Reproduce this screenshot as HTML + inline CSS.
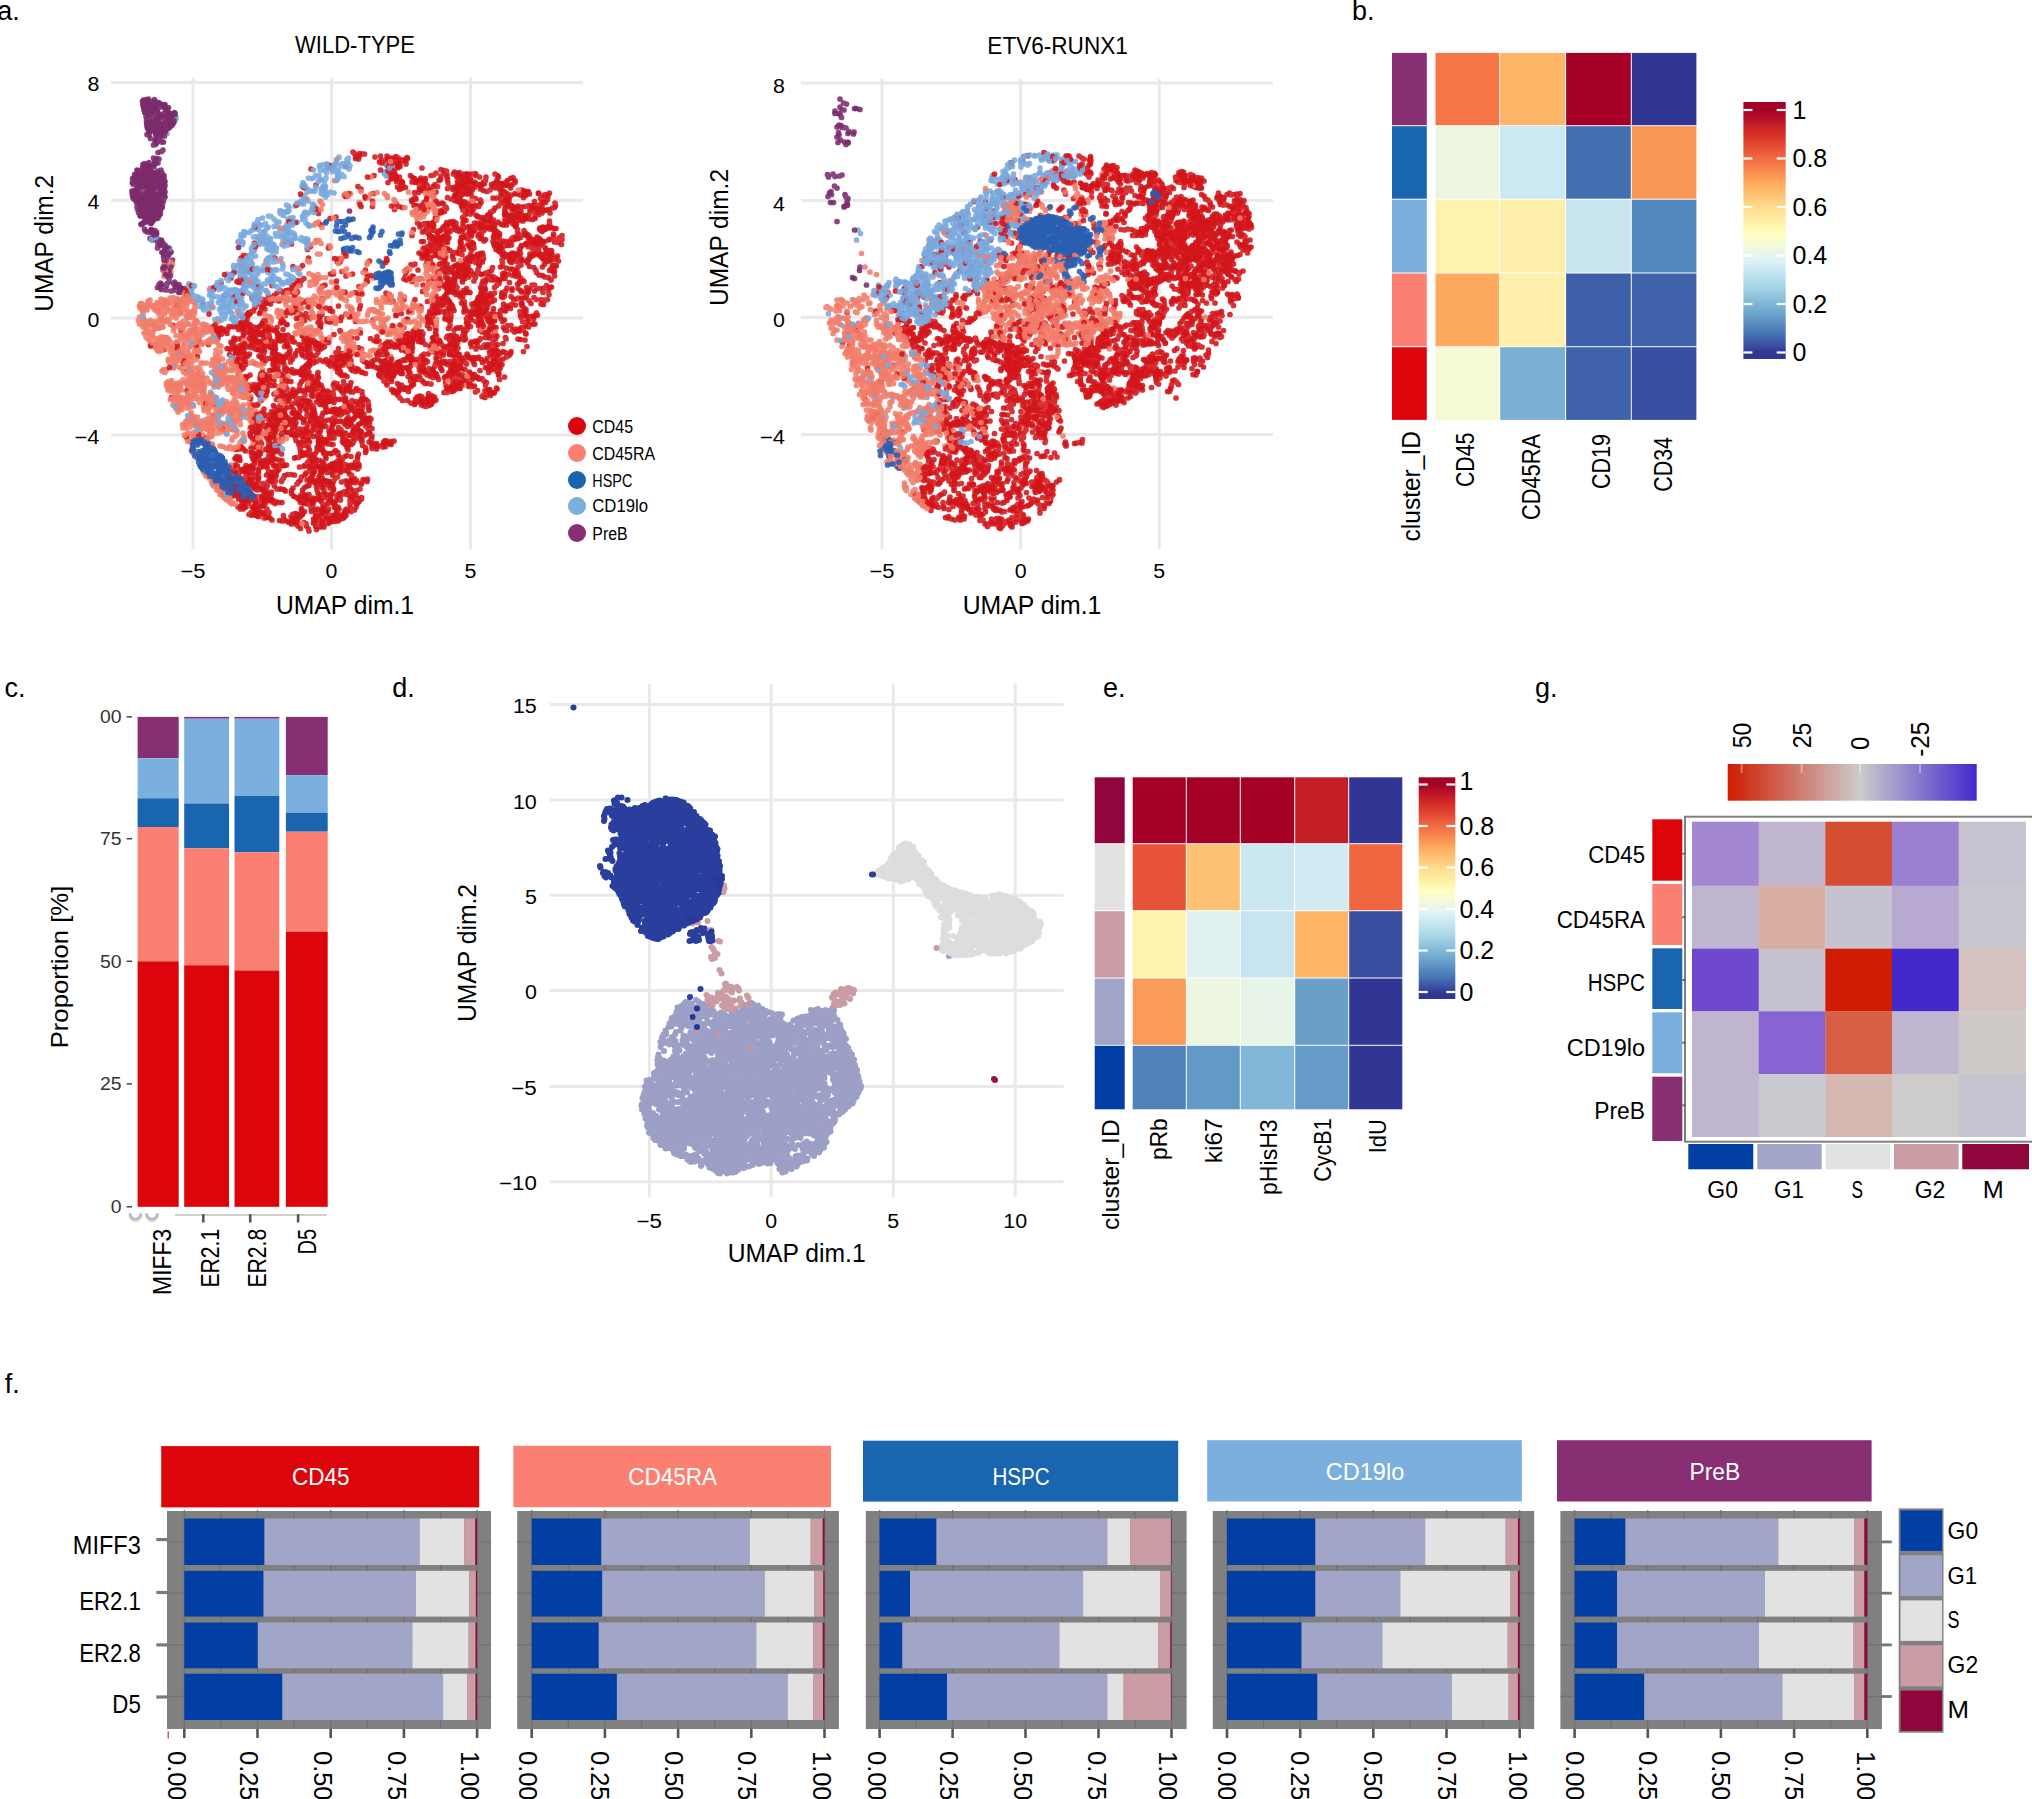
<!DOCTYPE html>
<html><head><meta charset="utf-8"><title>Figure</title>
<style>html,body{margin:0;padding:0;background:#fff}svg{display:block}text{font-family:'Liberation Sans', 'DejaVu Sans', sans-serif;}</style>
</head><body>
<svg width="2032" height="1799" viewBox="0 0 2032 1799">
<rect width="2032" height="1799" fill="#fff"/>
<text x="-2.7" y="20.0" font-size="27">a.</text>
<text x="1352.0" y="20.0" font-size="27">b.</text>
<text x="4.5" y="697.0" font-size="27">c.</text>
<text x="392.3" y="697.0" font-size="27">d.</text>
<text x="1103.0" y="697.3" font-size="27">e.</text>
<text x="1535.0" y="697.0" font-size="27">g.</text>
<text x="4.7" y="1393.4" font-size="27">f.</text>
<line x1="111.0" y1="82.5" x2="583.0" y2="82.5" stroke="#e9e9e9" stroke-width="3"/>
<line x1="111.0" y1="200.3" x2="583.0" y2="200.3" stroke="#e9e9e9" stroke-width="3"/>
<line x1="111.0" y1="318.0" x2="583.0" y2="318.0" stroke="#e9e9e9" stroke-width="3"/>
<line x1="111.0" y1="435.0" x2="583.0" y2="435.0" stroke="#e9e9e9" stroke-width="3"/>
<line x1="193.0" y1="78.0" x2="193.0" y2="549.0" stroke="#e9e9e9" stroke-width="3"/>
<line x1="331.5" y1="78.0" x2="331.5" y2="549.0" stroke="#e9e9e9" stroke-width="3"/>
<line x1="470.5" y1="78.0" x2="470.5" y2="549.0" stroke="#e9e9e9" stroke-width="3"/>
<text x="355.0" y="53.0" font-size="24" text-anchor="middle" textLength="120.0" lengthAdjust="spacingAndGlyphs">WILD-TYPE</text>
<text x="99.5" y="91.2" font-size="19.5" text-anchor="end" textLength="11.9" lengthAdjust="spacingAndGlyphs">8</text>
<text x="99.5" y="209.0" font-size="19.5" text-anchor="end" textLength="11.9" lengthAdjust="spacingAndGlyphs">4</text>
<text x="99.5" y="326.7" font-size="19.5" text-anchor="end" textLength="11.9" lengthAdjust="spacingAndGlyphs">0</text>
<text x="99.5" y="443.7" font-size="19.5" text-anchor="end" textLength="25.0" lengthAdjust="spacingAndGlyphs">−4</text>
<text x="193.0" y="578.0" font-size="19.5" text-anchor="middle" textLength="25.0" lengthAdjust="spacingAndGlyphs">−5</text>
<text x="331.5" y="578.0" font-size="19.5" text-anchor="middle" textLength="11.9" lengthAdjust="spacingAndGlyphs">0</text>
<text x="470.5" y="578.0" font-size="19.5" text-anchor="middle" textLength="11.9" lengthAdjust="spacingAndGlyphs">5</text>
<text x="345.0" y="613.6" font-size="26" text-anchor="middle" textLength="138.0" lengthAdjust="spacingAndGlyphs">UMAP dim.1</text>
<text font-size="26" text-anchor="middle" textLength="137.0" lengthAdjust="spacingAndGlyphs" transform="translate(53.4,243.3) rotate(-90)">UMAP dim.2</text>
<g transform="scale(.5)" fill="none" stroke-width="11.4" stroke-linecap="round" stroke-opacity="0.88"><path d="M724 308h0m5 0h0m86 9h0m-3 4h0m-12 12h0m-4-1h0m0-5h0m-2 0h0m-13-6h0m-7-4h0m0 3h0m0-8h0m-1 17h0m-1-6h0m-11-11h0m-2 12h0m-48-7h0m-405 32h0m442 2h0m29 0h0m3-5h0m11 8h0m8 0h0m22-3h0m8 6h0m13-1h0m5 3h0m15-8h0m5-1h0m5-4h0m10 6h0m5-4h0m7 6h0m13-6h0m6 5h0m1-6h0m4 10h0m4 1h0m10-10h0m3 8h0m37-2h0m25 0h0m24 3h0m23 23h0m-31-16h0m0 6h0m-4-2h0m-2-1h0m-9 5h0m-8-4h0m-2-1h0m-17-6h0m-1 2h0m-1 4h0m-2-3h0m-4 5h0m-13 5h0m-1-10h0m-7-1h0m-2 13h0m-7-5h0m-1-4h0m-5 7h0m-2-4h0m-3-3h0m-5 13h0m0-14h0m-3 7h0m-18-7h0m-35 14h0m-2 2h0m-9-19h0m-1 2h0m-4 11h0m-6 3h0m-5-15h0m-23 11h0m-8 1h0m-1-14h0m-1 2h0m-2 15h0m-2-17h0m-4 1h0m-17 2h0m-54 13h0m-6-5h0m15 23h0m16-9h0m81 11h0m1-13h0m1 10h0m18 10h0m17-19h0m2 6h0m3 14h0m6 2h0m35-17h0m7 13h0m4 3h0m8-3h0m8-16h0m4 0h0m3 19h0m0-12h0m6 2h0m35-1h0m25 5h0m7 3h0m0-4h0m12-13h0m17 8h0m4-4h0m4-6h0m22 1h0m7 20h0m7-1h0m5-13h0m14 14h0m1 5h0m-11 15h0m-11-5h0m-9-12h0m-3 8h0m-1 8h0m-3-13h0m-2 5h0m-2-7h0m-2 1h0m-15 20h0m-9-17h0m-6 15h0m-2 0h0m-1-1h0m0 4h0m-4-17h0m-4-2h0m-2 6h0m-3-4h0m-1 15h0m-10-5h0m0-9h0m-23 5h0m-3 2h0m-3 1h0m-5 6h0m-24 0h0m-1-19h0m-7 12h0m-2-8h0m-5 3h0m-5-7h0m-9 1h0m-30 5h0m-1-3h0m-3 9h0m-2-15h0m-2 12h0m-11 10h0m-17-16h0m-2 0h0m-13 3h0m-6-5h0m-2 6h0m-89-5h0m-23 0h0m113 33h0m5 8h0m17-7h0m2 3h0m2 0h0m4 0h0m0-4h0m2 5h0m5-11h0m17 12h0m5 2h0m1-2h0m12-9h0m19 2h0m6-4h0m3 13h0m11-1h0m9-7h0m4-12h0m4 21h0m2-20h0m6 0h0m2 20h0m1-14h0m10 5h0m29 4h0m4-10h0m9 0h0m5 13h0m7-16h0m12 1h0m48 18h0m1-7h0m0-7h0m8 26h0m-17-10h0m-11 19h0m0 3h0m-4-1h0m0-2h0m-4 2h0m-11-1h0m-2-2h0m-5-6h0m-18-11h0m0 4h0m-4 15h0m-37-15h0m-1 1h0m-3-3h0m-1 15h0m-1-1h0m-3-18h0m-14 22h0m-7-2h0m-6-8h0m-12-5h0m-5 5h0m-6 9h0m-11-3h0m0-13h0m-5 1h0m-1-5h0m-22 0h0m-1 6h0m-2-5h0m-1 18h0m-1-6h0m-10 7h0m-2-16h0m-7 0h0m0 15h0m-4-16h0m-3 14h0m-1-2h0m-5-3h0m-32-11h0m-257-3h0m-61 30h0m106 13h0m6-6h0m226 7h0m7-5h0m1-2h0m3-1h0m2 6h0m1-12h0m4-2h0m1 7h0m4 0h0m4 6h0m7-11h0m1 17h0m6-21h0m3 1h0m9 18h0m21-16h0m6 14h0m14-4h0m5-9h0m2 10h0m40-8h0m4 11h0m3-14h0m3 11h0m0 7h0m2-4h0m0-18h0m5 7h0m1 5h0m5-2h0m3-8h0m9 7h0m17 13h0m16-18h0m0 8h0m6-3h0m1 5h0m3-8h0m1 14h0m0-15h0m2 12h0m9-10h0m3 0h0m8-5h0m3 16h0m25 23h0m-2-10h0m-13 5h0m-2-7h0m-11 18h0m-1-11h0m-21-12h0m-7 3h0m-1 8h0m-3 3h0m-3 3h0m-10-4h0m-2-11h0m-14 9h0m-3-10h0m-1 19h0m-1-15h0m-1-1h0m-6 1h0m-4 3h0m0-4h0m-44 8h0m-1-6h0m-2 5h0m-2 4h0m0-11h0m-2-2h0m-2 15h0m-3-11h0m-12 2h0m-2 3h0m-2 7h0m-8-5h0m-8 9h0m-18-14h0m-15 5h0m0-10h0m-13-1h0m-6 4h0m-3-4h0m-1 4h0m-4-4h0m0 1h0m-7-1h0m-1 14h0m-8-10h0m-17 17h0m-56-7h0m-157-5h0m-126-5h0m-4 0h0m-4 23h0m103-1h0m75 15h0m23-5h0m47-3h0m82 3h0m1-3h0m8-11h0m2 23h0m2-22h0m37 6h0m27 7h0m2-6h0m4-1h0m3 7h0m2 1h0m3-9h0m1 5h0m3 5h0m1 3h0m7-16h0m1 17h0m1-12h0m6-4h0m2 7h0m2 6h0m2-16h0m2 16h0m4-16h0m0 5h0m23-6h0m5 20h0m37-15h0m5 13h0m19-9h0m4 10h0m2-7h0m41 0h0m1 4h0m12 6h0m20-19h0m2 12h0m0-10h0m1 10h0m4-13h0m-9 43h0m-10-3h0m-5 5h0m-83-19h0m-6 4h0m-5-2h0m-3-3h0m-2 4h0m-3-7h0m-15 10h0m-2 7h0m-5-2h0m-27-14h0m-7-1h0m0 4h0m-5 7h0m-15-7h0m-1-2h0m-3 16h0m-6-3h0m-2-3h0m-2 9h0m-5-4h0m-8-1h0m-37 1h0m-4-13h0m-4 1h0m-14 5h0m-11-3h0m-78 3h0m-90 9h0m-50-11h0m-5 8h0m-46 2h0m-53-12h0m-49 7h0m-73 11h0m11 15h0m69 0h0m31-2h0m68 1h0m19 4h0m5-10h0m13-8h0m60 20h0m204-15h0m5-6h0m18 16h0m17 2h0m6-9h0m2-5h0m0 4h0m1-5h0m7 0h0m2 6h0m5 4h0m9-1h0m4 0h0m1 3h0m7-14h0m3 7h0m26 11h0m0-2h0m1-14h0m5-1h0m2 21h0m4-4h0m7-4h0m23-2h0m10-13h0m8 17h0m11 5h0m3-21h0m1 19h0m12 0h0m7-12h0m27 15h0m3-14h0m5 15h0m4-1h0m-33 8h0m-10 12h0m-8-8h0m-30 3h0m-4 6h0m-4-3h0m-28-11h0m-2 3h0m-4 7h0m-1-12h0m-1 16h0m-5-11h0m-2 10h0m-2-10h0m-1-1h0m-3-7h0m-1 11h0m-1-7h0m-11 3h0m-14 8h0m-7-10h0m-15 15h0m-3-8h0m-4 8h0m-2-13h0m-2 8h0m-10 8h0m-4-2h0m-2-11h0m-4 12h0m-2-5h0m-4-2h0m-1 5h0m-15-18h0m-24 10h0m-112 5h0m-54 5h0m-13-7h0m-9 1h0m0-16h0m-52 10h0m-50-3h0m-16 6h0m-15 1h0m-151-7h0m-27-5h0m29 22h0m113 23h0m20-8h0m1-6h0m3-6h0m21-1h0m42 19h0m10-15h0m17-7h0m13 5h0m11-2h0m28 8h0m0 7h0m2 5h0m2-18h0m10 8h0m5 7h0m18-5h0m4 2h0m30 2h0m81-13h0m21 9h0m4-15h0m39 22h0m0-9h0m3-11h0m5 19h0m6-20h0m20 13h0m12-6h0m0-6h0m31 12h0m0 7h0m2-11h0m5-9h0m1 9h0m6-6h0m4-3h0m5 1h0m1 7h0m1 12h0m0-12h0m17 5h0m4 5h0m5-5h0m2-14h0m14 8h0m43 1h0m0 3h0m2 7h0m3-12h0m3-3h0m1-4h0m4 19h0m11-11h0m3 16h0m3-22h0m2 4h0m-24 21h0m0 15h0m-13-8h0m-9 6h0m-4-4h0m-33-5h0m-2 14h0m-2-8h0m-4-13h0m0 9h0m-7 5h0m0 10h0m-11-24h0m-2 16h0m-3-11h0m-1 8h0m-24-13h0m-2 11h0m-3 4h0m-4-3h0m-10-4h0m-9 14h0m-11-13h0m-2 15h0m-40-21h0m-28 21h0m-1-9h0m-18-8h0m-109 12h0m-18-4h0m-1-2h0m-39-6h0m-21 17h0m-11 0h0m-5-1h0m-38-12h0m-8 12h0m-4-16h0m-10 4h0m-2-4h0m-4 14h0m-2-5h0m-7-3h0m-3 9h0m-3-20h0m-4 3h0m-4 3h0m0 10h0m-6-5h0m-1-7h0m-6-2h0m0 6h0m0 5h0m-2-8h0m0-6h0m-2 6h0m-3 10h0m-7 2h0m0-13h0m-1-6h0m-1 15h0m-6-9h0m-3 5h0m-1-5h0m-9-1h0m-9 0h0m-4 14h0m-18 2h0m0-6h0m-7-2h0m-67 0h0m-53 30h0m108-2h0m51-13h0m8 18h0m4-3h0m1 5h0m2-19h0m0 13h0m1 2h0m2 1h0m0-7h0m2 4h0m6 4h0m4-17h0m3 15h0m2 3h0m2-18h0m3 7h0m1-11h0m6 9h0m3 2h0m4-1h0m6 9h0m5-2h0m4-11h0m2-4h0m11 16h0m7-10h0m0 0h0m12 0h0m0 12h0m9 3h0m7-20h0m4 8h0m19-2h0m5 2h0m2-2h0m0 12h0m0-6h0m10-3h0m11 5h0m17-11h0m41-4h0m6 21h0m3-20h0m50 7h0m13 8h0m15-7h0m6 4h0m3 6h0m6 0h0m8-15h0m0 11h0m5 0h0m1-8h0m3 4h0m1-7h0m1 5h0m3 3h0m1-9h0m5 15h0m0-4h0m3-14h0m13-2h0m3 11h0m20 4h0m2-12h0m1 9h0m0 1h0m6 8h0m8-11h0m13-8h0m6 15h0m3-18h0m9 21h0m2-15h0m1 4h0m1 4h0m1-6h0m14-7h0m1 5h0m19 4h0m4 9h0m17-16h0m1-3h0m3 2h0m1 15h0m6-17h0m9 6h0m50 1h0m-19 24h0m-11 2h0m-11 15h0m-7-20h0m0 13h0m-6-11h0m-7 7h0m-1-5h0m-16 15h0m-21-1h0m-4-4h0m-2-2h0m-14 4h0m-7-8h0m-7-7h0m-5 7h0m-4-6h0m-7-2h0m-3-4h0m-3 9h0m-6-2h0m-5-1h0m-24 18h0m-5-4h0m-21-20h0m-1 23h0m-4-7h0m-2 0h0m-1-10h0m-6 0h0m-39-6h0m-3 2h0m-46 0h0m-1 2h0m-23 14h0m-1 4h0m-6-8h0m-5-3h0m-6 5h0m0 5h0m0-10h0m-9 7h0m-8 1h0m-23-17h0m-19 12h0m-6-1h0m-4-9h0m-17 1h0m-15-1h0m-13 16h0m-3-3h0m-8 1h0m0 1h0m-4-2h0m-1 1h0m-1-2h0m0 7h0m-2-15h0m-2-3h0m-17 2h0m-2 4h0m0 4h0m-2 8h0m-7-7h0m-5-13h0m-1-1h0m-3-1h0m-13 15h0m-8-8h0m-1 14h0m-1-19h0m-4-2h0m-9 7h0m0-6h0m-1 1h0m-8 14h0m-5-4h0m0-11h0m-90 19h0m0-4h0m-8-9h0m0 1h0m108 21h0m4-1h0m0 2h0m4 15h0m4-7h0m29-8h0m16 0h0m22-2h0m1 15h0m20 0h0m1-1h0m1 4h0m2-6h0m11 2h0m5 3h0m9 2h0m7-8h0m4-2h0m11-12h0m1 6h0m6-2h0m20-3h0m9 5h0m6-7h0m8 9h0m1 6h0m1-14h0m0-2h0m15 5h0m15-4h0m1 9h0m14 9h0m16-14h0m2 8h0m6-7h0m2 6h0m1-9h0m11 13h0m7-13h0m1 1h0m0 9h0m1-4h0m2 6h0m2 9h0m1-12h0m0-7h0m0-1h0m2-3h0m0 17h0m5-8h0m5-7h0m4 8h0m0 13h0m6-15h0m2 13h0m0-16h0m2 6h0m3-2h0m4-8h0m3 14h0m1-16h0m4 16h0m8 3h0m5-19h0m10 5h0m9 6h0m1 9h0m0-13h0m2 4h0m1 8h0m19 0h0m8-17h0m7 10h0m5-10h0m3 4h0m14 13h0m4-7h0m2-5h0m5 3h0m8 1h0m39 10h0m11-6h0m1-13h0m6 11h0m1-2h0m2-4h0m3-1h0m2-2h0m0-1h0m4-1h0m4 21h0m2-7h0m2 4h0m2-10h0m-27 35h0m-24-16h0m-2 6h0m-2-4h0m-7-2h0m-5 16h0m-4-10h0m-7 10h0m-18-20h0m0-1h0m-5 4h0m0 10h0m-3-6h0m-5 12h0m-16-10h0m-5-7h0m-14 20h0m0-17h0m-2 0h0m-3-4h0m-7 15h0m-4-6h0m-6 4h0m-9 8h0m-1 1h0m-2-11h0m-1 5h0m-1-16h0m-15 1h0m-10 20h0m-8-15h0m-7-7h0m-5 2h0m-2 4h0m-48-6h0m-36 5h0m-2 13h0m-7-15h0m-44 17h0m-1-14h0m-1 17h0m-3-5h0m-14-11h0m0 0h0m-1 10h0m-1-6h0m-9-5h0m0-6h0m-12-1h0m-9 1h0m-18 6h0m-1 6h0m-1 8h0m-17-4h0m-3-5h0m-5-4h0m-1 12h0m-4-12h0m-4 7h0m0-1h0m-3 3h0m-3 5h0m-3-18h0m-28 6h0m-92 2h0m-8-2h0m-20 27h0m119-9h0m3 1h0m3 8h0m3-11h0m1 8h0m4-4h0m1 5h0m0-10h0m2 7h0m1 6h0m2 1h0m2-13h0m5 8h0m1 5h0m2 3h0m5-4h0m6 2h0m27-8h0m3-6h0m5 11h0m2-13h0m1 6h0m2 4h0m7 9h0m7 1h0m11-11h0m1-8h0m2 12h0m1 0h0m7-1h0m17-7h0m1 0h0m2-3h0m4 8h0m1-1h0m1 12h0m0 2h0m4-15h0m4 5h0m0-6h0m1 3h0m13 7h0m1 4h0m7-4h0m1 4h0m0-19h0m2 6h0m2-3h0m4 0h0m6 1h0m2 8h0m3-10h0m2-2h0m1 7h0m3 5h0m0-11h0m8 1h0m2 12h0m4 0h0m5-3h0m7 0h0m6 2h0m63 2h0m1-4h0m8 2h0m3-7h0m1 1h0m6 1h0m5-2h0m6 7h0m45-15h0m26 17h0m4-3h0m0-11h0m2 9h0m0 5h0m9-2h0m1-4h0m1-11h0m6 6h0m23-4h0m15 2h0m2 12h0m4-3h0m15 0h0m1-1h0m0-10h0m6 20h0m2-11h0m2 12h0m1-6h0m11-9h0m-23 19h0m-101-1h0m-4 3h0m0-3h0m-2 14h0m0-11h0m-2 3h0m-1 3h0m-2 8h0m0-14h0m-1 14h0m-4-1h0m-1 3h0m-2-15h0m-1 10h0m0 4h0m-6-9h0m-2-4h0m-5-4h0m-5 11h0m-1-2h0m-104 5h0m-1-8h0m-3-2h0m-23 15h0m-7-6h0m-1 5h0m0-15h0m-8 0h0m-18-3h0m-11-2h0m-1 7h0m-1 16h0m-5-8h0m-2-6h0m-4-6h0m-8 8h0m0-12h0m-8 1h0m-12 9h0m-4-2h0m-7 11h0m0-14h0m-2 18h0m-5-18h0m-3-2h0m-3 11h0m-5 3h0m-2-17h0m-4 8h0m-4-7h0m-9 16h0m-12-10h0m-6 12h0m-25-10h0m-21 12h0m-158-18h0m158 22h0m6 22h0m4-11h0m7 4h0m7-7h0m0 14h0m4-3h0m19-10h0m2 4h0m4-7h0m1 8h0m9 0h0m3-1h0m1-5h0m2-8h0m1 14h0m0 4h0m15 4h0m2-12h0m7 7h0m0-5h0m3 2h0m8 7h0m16 1h0m3-20h0m1 11h0m0 6h0m2-16h0m2 10h0m16-4h0m7-3h0m3 0h0m5-2h0m5 2h0m0-4h0m7 2h0m3 6h0m7-10h0m4 0h0m9 7h0m1 11h0m7 4h0m6-5h0m12-7h0m1 7h0m13 3h0m2-16h0m6 36h0m-3 0h0m-5 0h0m-5-5h0m0-12h0m-7 4h0m-7 5h0m0 11h0m-2-3h0m-9 6h0m-11-19h0m-14-2h0m-9 22h0m-3-22h0m-1 5h0m-1 16h0m-17-21h0m-2 4h0m-2 3h0m-5 10h0m0-5h0m-1-5h0m-4-6h0m-1 11h0m-2-3h0m-2 8h0m-3-10h0m-1 4h0m-12 9h0m-1-7h0m-24-5h0m-1 10h0m-1-14h0m-3 14h0m-5-17h0m-10 11h0m-1-5h0m-3 9h0m-6 0h0m-2-2h0m-8 0h0m0 6h0m-3-10h0m-6-6h0m-1 10h0m-2-14h0m-1 22h0m0-12h0m-2 8h0m-1-2h0m-19-15h0m-3 21h0m-1-12h0m-2 0h0m-68 5h0m-57 29h0m4-14h0m117 5h0m5 0h0m12-11h0m9 4h0m8 6h0m9-8h0m2 10h0m2 8h0m7-4h0m4-4h0m25-12h0m3 10h0m1 5h0m14-4h0m2-11h0m0 16h0m19-9h0m10 3h0m1 11h0m3-13h0m2 12h0m4-4h0m5 2h0m4-5h0m4-12h0m25 16h0m1-11h0m1-6h0m4 14h0m16-4h0m35 4h0m1-2h0m1 7h0m23 3h0m5-5h0m8 3h0m3-1h0m5-3h0m-6 7h0m-10 1h0m-1 3h0m-20-4h0m-20 16h0m0-10h0m-14 13h0m-15-19h0m-6 11h0m-5-11h0m-20 12h0m-12 6h0m-16-8h0m-5-5h0m-4 8h0m-17 9h0m0-17h0m-3 10h0m-5 4h0m-8-5h0m0 8h0m-38-3h0m-4-4h0m-4-9h0m-3-5h0m-1 13h0m-1-5h0m-1 5h0m-2-12h0m-4 20h0m-2-20h0m0 7h0m-3-1h0m-2 3h0m0-2h0m-14 5h0m-1 4h0m-3-8h0m0 3h0m-6-11h0m-2 19h0m-3-16h0m-4 12h0m-12-4h0m-19-3h0m3 33h0m3-14h0m16 17h0m10-22h0m5 9h0m2-7h0m5 1h0m1-1h0m3 5h0m2 10h0m1 4h0m8-2h0m6-7h0m16 7h0m20-2h0m19-15h0m5 0h0m13 15h0m5-5h0m3-3h0m3 12h0m11-10h0m2 6h0m2-9h0m4 0h0m8 7h0m1 5h0m3-16h0m3 16h0m4-2h0m4-2h0m5 3h0m0-4h0m3-2h0m2-2h0m3-3h0m0 5h0m3-12h0m5 13h0m0-6h0m1 14h0m1-5h0m0-14h0m4 13h0m0-16h0m13 17h0m2 5h0m6-11h0m3-1h0m1-5h0m3 16h0m-3 4h0m-18 5h0m-2-6h0m-6 4h0m-5 1h0m-4-1h0m-5 13h0m-2-16h0m-3 19h0m-7-20h0m-4 0h0m-5 8h0m-1-9h0m-7 2h0m-1 19h0m-4-15h0m-3 12h0m-9-11h0m-2-5h0m-17 12h0m-41 1h0m-2 5h0m-3 4h0m-8-19h0m-4 10h0m-1-9h0m-3 8h0m-2-3h0m-2-3h0m-1 9h0m-25-17h0m-1 18h0m0-8h0m-11-9h0m-2 22h0m-17-19h0m-1-1h0m-22 18h0m12 26h0m21-18h0m2-3h0m4 5h0m3 2h0m2-1h0m0 5h0m4-5h0m1 6h0m14 6h0m17-18h0m10 16h0m4 0h0m5-15h0m46 12h0m9-4h0m8-7h0m7 9h0m3-11h0m7-1h0m1 4h0m4 19h0m0-4h0m0-10h0m13-7h0m6 0h0m27 7h0m1-8h0m1 20h0m1-3h0m3-16h0m2 15h0m0-18h0m16 43h0m-2-6h0m-6 2h0m-3-6h0m-2-5h0m-5 13h0m0 7h0m-21-21h0m-12 18h0m-6-6h0m-18 4h0m-5-9h0m-2-7h0m-1 10h0m-8 6h0m-1-7h0m-2 7h0m-12-5h0m-4-6h0m-10 3h0m-15-8h0m-25 18h0m-8 2h0m-5-7h0m-3-10h0m-5-4h0m-3 14h0m-1-6h0m0-6h0m-4 5h0m0 9h0m-12-8h0m-6-1h0m-1 13h0m-13-21h0m0 21h0m-1-15h0m-1 6h0m-3 7h0m-9-4h0m-6-2h0m-8-14h0m-1 3h0m-2 5h0m-1-8h0m16 29h0m3 2h0m4-2h0m4 1h0m0-5h0m12 5h0m1 16h0m3 0h0m4-5h0m1-7h0m1 0h0m1 0h0m2 2h0m3 3h0m1 4h0m0-13h0m3 18h0m0-2h0m2-18h0m0 17h0m1-4h0m67 3h0m8 2h0m3-2h0m4-5h0m14 0h0m19 6h0m4-20h0m2 10h0m2-9h0m1 13h0m2-2h0m4-3h0m8 13h0m6-19h0m0 0h0m1 4h0m4-2h0m5 16h0m9 2h0m1-3h0m1 2h0m20-17h0m-36 24h0m-4 2h0m-13 4h0m-6-7h0m-12 17h0m-1-15h0m-2 11h0m0-5h0m-4 8h0m-3-21h0m0 7h0m0 13h0m-4-14h0m-27-4h0m-4 18h0m-1-12h0m0 10h0m-1-12h0m-2 10h0m-2-3h0m-4-8h0m-3 6h0m-15-4h0m-3 3h0m-21-2h0m-13-5h0m-3-2h0m-2 1h0m-4-2h0m-5 1h0m-1 0h0m101 25h0m1 4h0" stroke="#d3141a"/><path d="M742 354h0m176 4h0m-219 30h0m38 7h0m32-8h0m6 8h0m13 4h0m29-15h0m39 5h0m10 8h0m3 3h0m2 22h0m-2-4h0m-1-10h0m-2 10h0m-4-10h0m-7 15h0m-2 0h0m-3 4h0m-1-12h0m-3 8h0m-4-10h0m-3 17h0m-5-17h0m-10 12h0m-249 35h0m39 25h0m7 4h0m9-4h0m2-4h0m26 10h0m235 22h0m-7-6h0m-9-2h0m-14 20h0m-171-19h0m-18 11h0m-34-9h0m-5 0h0m-16 16h0m-290-1h0m1 16h0m12 5h0m3-15h0m343 13h0m5-4h0m126 1h0m35 3h0m19 16h0m-7 15h0m-3-16h0m-3 2h0m-3 2h0m-15-4h0m-9 1h0m-86-2h0m-75 12h0m-21-13h0m-8 0h0m-6 2h0m-4 9h0m-5-13h0m-8 11h0m0 7h0m-280 25h0m16 2h0m11-12h0m0 8h0m3 0h0m2 0h0m1 3h0m3-1h0m98-10h0m45 1h0m13-6h0m27 16h0m0 2h0m4-2h0m13 1h0m4 1h0m5-1h0m3-4h0m3-6h0m2-11h0m1 18h0m3 2h0m42-13h0m10 2h0m13-1h0m8-7h0m1 5h0m0 3h0m25 4h0m57 9h0m13-4h0m6 2h0m28-1h0m40 15h0m-2 11h0m-11-18h0m-3 17h0m-12-7h0m-5 2h0m-6 0h0m-8-2h0m-4 6h0m-18-17h0m-9 6h0m-1-5h0m-12 16h0m-1 2h0m-9-2h0m-2 3h0m-33-2h0m-9-9h0m-51-6h0m-11 3h0m-19-9h0m-7 1h0m-3 15h0m-7-14h0m-2 21h0m-7-1h0m-14-22h0m-11 23h0m-172-17h0m-4-2h0m-2-4h0m-9 4h0m-2 5h0m-1 10h0m-1-7h0m0-1h0m-5-7h0m-3 6h0m-1 10h0m-2-1h0m-8-15h0m0 13h0m-3-11h0m0 13h0m-1 4h0m-2-9h0m0 2h0m-3 4h0m0 2h0m-4 0h0m-1 1h0m-1-16h0m-3 13h0m-2-14h0m-1 17h0m-3-13h0m-10 0h0m-2 10h0m-7-9h0m0 9h0m-7-10h0m-1 0h0m-4-3h0m0-1h0m-10 9h0m-1 6h0m0-12h0m-2 6h0m-1-8h0m-5 5h0m7 16h0m0 14h0m2-3h0m4 6h0m3-2h0m8 5h0m7-5h0m5 3h0m2-21h0m1 3h0m5 5h0m0 10h0m1 4h0m12-3h0m8-18h0m4 1h0m4 9h0m13 10h0m1-3h0m6-12h0m0 9h0m1 6h0m5-14h0m0-8h0m3 5h0m4-4h0m7 16h0m147-8h0m4 9h0m11-17h0m5-1h0m6 10h0m29-4h0m3 5h0m23 3h0m6-8h0m46 7h0m27-7h0m4-5h0m2 1h0m5 13h0m2-5h0m1 4h0m3-10h0m2 15h0m8 0h0m30-19h0m6 14h0m10 1h0m39 5h0m33-6h0m147 25h0m-182 9h0m-2-18h0m0 13h0m-12 3h0m-6-11h0m-2 2h0m-5-4h0m-16 3h0m-4 3h0m-13-10h0m-31 10h0m-16 1h0m-1 4h0m-2 2h0m-57 2h0m-1-6h0m-10 2h0m-2-6h0m-7-8h0m-6 1h0m-4 2h0m-3 5h0m-9-6h0m-60-8h0m-124 5h0m-1 7h0m-2-10h0m0 14h0m-4-2h0m-9 3h0m-8 1h0m-3-8h0m-10 3h0m-1 11h0m-2-24h0m-8 23h0m-2-19h0m-5 3h0m-1 15h0m0-13h0m-1-6h0m0 5h0m-5-5h0m-2 20h0m-5-10h0m-28-5h0m-3-3h0m-5 4h0m0-7h0m-2 1h0m-3 12h0m-5 8h0m-2-4h0m-7-2h0m7 16h0m3 12h0m6-17h0m5 15h0m1 0h0m2-11h0m6 15h0m3-10h0m0-5h0m5 2h0m1-7h0m1 12h0m6-8h0m3 15h0m11-9h0m11-8h0m5 8h0m7-11h0m0 8h0m3 13h0m5-9h0m6 5h0m4 4h0m3-8h0m12-1h0m13-8h0m2 5h0m4-8h0m1 3h0m2-4h0m12 18h0m178-16h0m25 4h0m13 0h0m25-4h0m11 17h0m1-1h0m1-7h0m5-4h0m5 15h0m86-20h0m9 2h0m66 20h0m-5 1h0m-2 6h0m-107-4h0m-13 11h0m-19-12h0m-4 7h0m-14-8h0m-3-2h0m-6 7h0m-4 3h0m-251 12h0m-4 0h0m-2-7h0m-1-12h0m-1 8h0m0 8h0m-5 3h0m-31-20h0m-6 6h0m-9 6h0m-12 0h0m-4-3h0m0-3h0m-2 12h0m-1 3h0m-4-23h0m-1 5h0m0-1h0m0 0h0m-3 12h0m-2-15h0m-5 15h0m-1 3h0m-1 2h0m-2-12h0m-5 12h0m-19-20h0m-6-1h0m21 42h0m6-14h0m2-1h0m3-3h0m0 5h0m3 10h0m0-14h0m2 6h0m0 4h0m1-10h0m9 13h0m3-14h0m16 19h0m0-11h0m1 9h0m3 5h0m0-12h0m0-3h0m14 9h0m0 7h0m3-10h0m3-8h0m11 0h0m16 15h0m1-11h0m4 12h0m4 1h0m6-5h0m6-2h0m13 5h0m2-15h0m3-2h0m1 13h0m37-14h0m6 4h0m8 2h0m8-2h0m46 33h0m-3 5h0m-7-5h0m-23 1h0m-12-8h0m-36 15h0m-5-4h0m-3-4h0m-9-14h0m-3 13h0m0 1h0m-3-1h0m-1 0h0m-3-1h0m-8-3h0m-2 7h0m-8-6h0m-9-4h0m-11-4h0m-10 15h0m-4-7h0m-8 0h0m-4-1h0m0-3h0m-4 1h0m-2 7h0m-1-3h0m-2 10h0m-1-14h0m-1 12h0m-2-16h0m-1 13h0m0-4h0m-1 6h0m-4-8h0m-1 1h0m0-7h0m-1 15h0m-1-7h0m-2 4h0m0-15h0m-2 18h0m-9-21h0m-12 22h0m-1 1h0m-14-2h0m-7 1h0m4 11h0m4 2h0m3-5h0m0 5h0m5-11h0m0 2h0m7 9h0m1-10h0m1 6h0m1-5h0m2 3h0m14 14h0m0-17h0m10 0h0m3 16h0m1-12h0m1 17h0m4-19h0m5 2h0m3-3h0m1 10h0m2-11h0m0 20h0m3-4h0m1-13h0m14 14h0m14-13h0m6-5h0m22 17h0m0-6h0m3-4h0m2 16h0m4-22h0m5 0h0m3 4h0m4 14h0m2 0h0m3-15h0m1 5h0m0 7h0m7-15h0m63 7h0m-34 19h0m-26-3h0m-3 3h0m-12 14h0m-17-13h0m-3 5h0m-18 13h0m-2-4h0m-4-2h0m-1 5h0m-10-11h0m0-6h0m0-1h0m-7 3h0m-1-5h0m-3 18h0m-2-4h0m-2-15h0m-3 7h0m-2 10h0m-2-12h0m-1 6h0m-3-6h0m-19 14h0m-7-8h0m-1-7h0m-5 13h0m0 6h0m-2-2h0m-1-3h0m-1 4h0m-1-16h0m-2 15h0m0 0h0m-1-10h0m-1 12h0m-2-14h0m0 8h0m0-4h0m-2 2h0m-1-8h0m0-6h0m-1 10h0m-9-10h0m-5 6h0m-4-1h0m14 20h0m4-3h0m5 3h0m13 20h0m7-1h0m2-5h0m22-12h0m2 19h0m4-20h0m3 6h0m4 13h0m19-21h0m10 5h0m4-5h0m6 6h0m1 3h0m2 3h0m3-13h0m1 3h0m1 13h0m0-12h0m0 18h0m6-4h0m4-11h0m2 4h0m9-1h0m11-2h0m1-4h0m0 10h0m3-7h0m0 7h0m1 3h0m19-11h0m6 12h0m22 2h0m-52 19h0m-19-7h0m-2-6h0m-13 10h0m-1 6h0m-5-12h0m0-6h0m-12 6h0m-7 3h0m-3 4h0m-13 6h0m-1-10h0m-3 9h0m0 4h0m-2-22h0m0 11h0m-3-4h0m0 1h0m-9-7h0m-5 12h0m-1-8h0m-2 5h0m0 6h0m-4-9h0m-2-4h0m-3 6h0m-1-5h0m-9-1h0m-6 2h0m-5 10h0m-3 0h0m-1-7h0m10 30h0m11 1h0m1-8h0m2 1h0m2 3h0m8 0h0m1-11h0m5 4h0m0 6h0m18-2h0m2 15h0m1-19h0m63 12h0m65-10h0m11 11h0m-99 15h0m-4-2h0m-2-2h0m-8 3h0m-12-4h0m16 39h0m49 1h0m-93 20h0m-1-5h0m16 14h0m7 13h0m6 6h0m6 2h0m2 0h0m73 12h0m-55 12h0m-5-14h0m-2 10h0m0 2h0m-7-6h0m-1-7h0m-7-5h0" stroke="#f17c69"/><path d="M349 234h0m-2 8h0m439 92h0m-1 0h0m-2 1h0m-10-5h0m-83-3h0m-5 0h0m-14 1h0m-2 4h0m-23-3h0m-19 27h0m4-5h0m9 8h0m11-19h0m2 6h0m10-8h0m9 4h0m4 4h0m1 7h0m92-5h0m8-6h0m-116 42h0m-10-1h0m-1-3h0m-3-3h0m-17 5h0m-23-12h0m-3 3h0m5 25h0m59-12h0m-39 27h0m-4 2h0m0-7h0m-5 16h0m-10 0h0m-3-16h0m-13 0h0m-4 4h0m-15 10h0m-11 1h0m-1 5h0m-3-2h0m-35 24h0m6-3h0m43 2h0m1 0h0m0 6h0m20-11h0m11-5h0m4 0h0m2 7h0m6 6h0m-2 27h0m-25-3h0m-9-12h0m-1 15h0m-5-22h0m0 14h0m-3 3h0m0 2h0m0-9h0m-34 12h0m-12-5h0m-11 1h0m-7-17h0m0-1h0m-11 8h0m-16 4h0m-171 5h0m22 26h0m4 3h0m2-8h0m147-10h0m18 18h0m5-4h0m9-10h0m11-8h0m5 6h0m0 11h0m3-14h0m6 10h0m2-5h0m1 4h0m2-4h0m1 5h0m3 10h0m59-22h0m3 8h0m0 6h0m-52 21h0m-24-2h0m-34-1h0m-2-1h0m0 5h0m-4-7h0m-2 4h0m-5 11h0m-31 23h0m7-3h0m2-7h0m6 3h0m5-11h0m6 10h0m1-2h0m8 2h0m3-8h0m1 12h0m3-5h0m12-4h0m5 2h0m9-7h0m1 9h0m7 5h0m50-6h0m10 6h0m-9 11h0m-4-3h0m-2 7h0m-4 5h0m-1-4h0m-11 7h0m-7-9h0m-10 12h0m0-11h0m-6-8h0m-5 11h0m-5 4h0m-5 1h0m-4 2h0m-1 6h0m0-7h0m-11-6h0m-1 5h0m-4-10h0m-2-4h0m-4 10h0m-8-1h0m-1-4h0m-4 15h0m-43-1h0m-10-3h0m-3 4h0m-10 2h0m-37-1h0m-7-4h0m5 5h0m1 5h0m5 10h0m5 6h0m1-4h0m2 5h0m23-8h0m5 5h0m14-16h0m9 12h0m1 4h0m9 4h0m1-6h0m13-14h0m1 12h0m3-10h0m3 15h0m0-4h0m3 6h0m1-16h0m1 8h0m28-8h0m1-5h0m0 5h0m4 15h0m0-5h0m0-7h0m2-9h0m17 9h0m-23 21h0m-20 6h0m-15-4h0m-2 12h0m-10-15h0m-4 19h0m-2-20h0m0 3h0m-4 9h0m-4-16h0m-6 2h0m0 11h0m-3-6h0m-3 11h0m-2-13h0m-11 10h0m-7 1h0m0 0h0m-1 4h0m-4-1h0m-6 1h0m-3-18h0m-6-1h0m-36 4h0m13 28h0m54 6h0m33-1h0m15-10h0m1 2h0m-68 30h0m-23-1h0m-39 34h0m48-13h0m50 50h0m41 34h0m-56-11h0m-1 10h0m0 4h0m-10 17h0m15-14h0m48 2h0m36 26h0m-87-3h0m-47 14h0m54 8h0m46 13h0m0-5h0m31 16h0m-8 0h0m-75 7h0m-27-6h0m10 32h0m136 23h0m-105 36h0m0 11h0m-2-7h0m-19 35h0" stroke="#78a9de"/><path d="M651 446h0m46-8h0m4 1h0m99 41h0m-36-17h0m-20 2h0m-32 9h0m-15-5h0m-8-6h0m-13 0h0m11 36h0m13 0h0m81-8h0m9-4h0m5 0h0m-15 20h0m-22 15h0m-1 28h0m13-3h0m8-3h0m1 4h0m2-1h0m3 21h0m-9-14h0m-2-2h0m-1 11h0m-3-6h0m-1 0h0m0 5h0m-1 4h0m-8 9h0m-1-23h0m-5 3h0m-1 21h0m-368 308h0m6 1h0m4-4h0m7 1h0m36 28h0m-6-5h0m-2 6h0m-3-5h0m0-5h0m-1 0h0m-7 0h0m-3 7h0m-1-16h0m-1 18h0m-3-21h0m0 13h0m-6 10h0m-5-5h0m-3-4h0m-1-13h0m-4 13h0m-3 1h0m-2 1h0m-1-10h0m14 23h0m1-3h0m1 17h0m2-10h0m2 13h0m2-18h0m1 15h0m1-13h0m1-4h0m1 12h0m0-11h0m1 3h0m4 17h0m2-23h0m9 5h0m3 11h0m1 4h0m5-5h0m2-5h0m0-7h0m1 18h0m4-16h0m0 7h0m1-10h0m0 5h0m1 13h0m5-10h0m5 8h0m6 27h0m-2-13h0m0 0h0m0 5h0m-1-11h0m-2 13h0m-12-11h0m-1 15h0m0-6h0m-1 6h0m0-15h0m0 15h0m-1-17h0m0 21h0m-1-14h0m0 8h0m-2 4h0m0-15h0m-1 0h0m-1 7h0m-4 7h0m0-9h0m-1 12h0m-2 0h0m-4-11h0m-3-3h0m-2-9h0m-3 3h0m-3 2h0m-4-5h0m-3 0h0m22 24h0m10 9h0m5 3h0m3-3h0m0 4h0m1 3h0m2-13h0m1-2h0m0 15h0m4 4h0m1-15h0m2-2h0m2 17h0m0-12h0m1-4h0m0 1h0m1 8h0m2-9h0m1 5h0m11-4h0m3 7h0m9 4h0m1-7h0m5 9h0m10 10h0m-20-3h0m-1 2h0m-6 0h0m0 1h0m-6-2h0m-6-1h0" stroke="#2a5db0"/><path d="M285 203h0m1 4h0m0-1h0m0-2h0m1 10h0m2 0h0m0 1h0m1-6h0m1-1h0m1-7h0m2 11h0m0 1h0m0-6h0m2-3h0m0 8h0m2 3h0m2-6h0m4 2h0m3-1h0m2-11h0m2 5h0m1 10h0m0-10h0m1 2h0m2 3h0m1-4h0m13 7h0m1 2h0m21 19h0m-12 7h0m0-12h0m0 11h0m0-11h0m-2 8h0m-2-7h0m-1-10h0m0 15h0m-4-8h0m-3 6h0m0-3h0m-2-1h0m-7 6h0m-3-11h0m-1-2h0m-2 18h0m-2-18h0m-6 3h0m-5 7h0m-2 7h0m0-18h0m-1 12h0m0-16h0m-2 8h0m0-6h0m-1 7h0m0-3h0m-3 3h0m-1-7h0m-1 2h0m5 25h0m0-5h0m1 8h0m1 7h0m0 1h0m0-12h0m1 8h0m2 8h0m0-16h0m1 13h0m2 3h0m1-9h0m1 3h0m3 2h0m1-10h0m1 8h0m5 9h0m1-16h0m4 5h0m1 10h0m2-16h0m1 7h0m5 4h0m2-9h0m1 11h0m0 4h0m3-19h0m3 12h0m1-1h0m1-10h0m1 6h0m3-8h0m1 1h0m5 0h0m-21 40h0m-5-20h0m-2 4h0m-1 8h0m0-8h0m-1 2h0m-3 11h0m0-13h0m-2 8h0m0 10h0m0-1h0m-12-8h0m-3-11h0m18 39h0m-3 12h0m-5 16h0m-10-8h0m0 5h0m-6-1h0m-6 0h0m-18 27h0m3-1h0m4-11h0m2 9h0m4-3h0m4-14h0m0 17h0m2-9h0m0 15h0m0-10h0m0 4h0m2-7h0m0 9h0m1 1h0m2-8h0m1-1h0m1 5h0m1-15h0m1 11h0m1 0h0m1-6h0m5 12h0m1-10h0m3 10h0m12 3h0m2-10h0m3 3h0m0-4h0m2 12h0m4 13h0m-1 4h0m0-2h0m-1-1h0m0-7h0m-1 4h0m-1 9h0m-1-4h0m0 10h0m-1-2h0m-1-12h0m0 1h0m-3-6h0m-5 2h0m-2 2h0m-2-3h0m0 2h0m-1 3h0m-1-4h0m0-3h0m-2-3h0m-1 20h0m0-8h0m-1-2h0m0 5h0m-1 3h0m-2 5h0m-6-15h0m-1 4h0m0-4h0m-7-5h0m-1 9h0m0-4h0m-1-1h0m-2-5h0m-1 10h0m-1-4h0m-1 1h0m-5-8h0m0 14h0m0-12h0m-2-4h0m-1 19h0m-1-15h0m-2 0h0m-3 18h0m-2-17h0m1 22h0m1 6h0m3 0h0m2 9h0m3-17h0m3 4h0m3 13h0m6-12h0m0 7h0m1 7h0m2-5h0m2-11h0m1-4h0m1 7h0m1 0h0m0 15h0m0-5h0m1-16h0m0 22h0m1-2h0m0-16h0m1 14h0m3-9h0m3-7h0m1 20h0m4-1h0m1-17h0m1 10h0m0 5h0m1-10h0m0 13h0m0 1h0m3-15h0m2-4h0m1-1h0m0 0h0m4 20h0m1-5h0m6-11h0m370 30h0m-374-13h0m-1 5h0m-2-5h0m-1 18h0m-2-1h0m-4-17h0m-1 4h0m-2 6h0m0-9h0m-1 2h0m-4-1h0m-3 3h0m-2 5h0m0 1h0m-2 2h0m-2 3h0m-2 5h0m-2-9h0m0 11h0m-1-24h0m-3 23h0m0-16h0m-1 7h0m-2 4h0m-1 5h0m0-1h0m-1-10h0m-1-5h0m-3 17h0m0-15h0m0 12h0m-2-20h0m0 9h0m0-5h0m3 35h0m5-3h0m5-11h0m6 7h0m1 0h0m0-7h0m2 0h0m1 3h0m0 10h0m2-4h0m0-8h0m1 4h0m3-3h0m1-2h0m7 44h0m-3-2h0m0-12h0m0 3h0m-3-6h0m-3 0h0m0 14h0m-5-12h0m0-4h0m-2 18h0m-9-15h0m13 18h0m17 11h0m5-5h0m4 4h0m1 5h0m7 3h0m2 6h0m1 0h0m-6 10h0m-2 13h0m0-4h0m-7 17h0m0-4h0m3 5h0m0-9h0m3 14h0m6-4h0m3 9h0m17 18h0m-2 6h0m-6-4h0m-1-7h0m-2 3h0m-27 8h0m12 5h0m10 2h0m5-1h0m17-4h0" stroke="#7b2a6c"/><path d="M812 328h0m-8-8h0m-3 2h0m-4 10h0m-1 0h0m-4-14h0m-1 6h0m0-5h0m-1-3h0m-3 0h0m0 7h0m-2-3h0m-3-3h0m-1-1h0m-4 17h0m-2-16h0m-11 9h0m-1-6h0m-13-6h0m-32-1h0m-6 0h0m-20 20h0m-35 1h0m78 20h0m44-9h0m2-5h0m1 18h0m6-14h0m3 8h0m2 7h0m0-4h0m35 3h0m16-22h0m7 21h0m31-18h0m0 0h0m27 5h0m8 9h0m4-2h0m4 8h0m4-1h0m1 2h0m3-12h0m4 12h0m0-8h0m4 6h0m4-10h0m6-1h0m0 1h0m43 12h0m32-5h0m31 28h0m-4 0h0m-23-18h0m-5 4h0m-4 7h0m-4-5h0m-10 11h0m-2-12h0m-3-3h0m-2 12h0m-16-8h0m-1-2h0m-16 12h0m-2-12h0m-5 3h0m-14-4h0m-1 11h0m-3 1h0m-1-17h0m-2 6h0m-5-7h0m-5 2h0m0 18h0m-1-6h0m-1 7h0m-2-2h0m-1-17h0m0-3h0m-4 22h0m0-4h0m-1-12h0m-2-7h0m-2 3h0m-1 13h0m-8 3h0m-4-4h0m-7 2h0m-17-16h0m-12 12h0m-19 2h0m0 5h0m-1-18h0m-2 6h0m-5 6h0m0-13h0m-1 0h0m-14 3h0m-20 0h0m-9 10h0m-163-4h0m57 20h0m6 2h0m50 10h0m78-2h0m1 2h0m30-8h0m9-9h0m9-1h0m0 18h0m2 3h0m35-13h0m5 10h0m3-16h0m3 7h0m3-3h0m3 13h0m6-15h0m6-2h0m8 22h0m15-8h0m1 4h0m31-8h0m8 11h0m1-19h0m7 17h0m2-20h0m3 12h0m0 5h0m5-8h0m4-4h0m11-2h0m14 2h0m4-5h0m7 3h0m18-1h0m11 3h0m4-1h0m17 26h0m-4 1h0m-12 4h0m-9 6h0m0-13h0m-6 16h0m-5-11h0m-4 5h0m-5-9h0m-1-2h0m-3 13h0m-2 4h0m-13 2h0m-3-8h0m-6-11h0m-2 9h0m-5 4h0m-1-4h0m-5-10h0m-5 0h0m-7-3h0m-2 21h0m-12-17h0m-56 16h0m-5-1h0m-10-17h0m-43 13h0m-4 3h0m-1-4h0m-47 2h0m-3-13h0m-23 4h0m-16 4h0m-152 8h0m0-6h0m-2 2h0m-51 17h0m7 5h0m69-8h0m12-3h0m189 21h0m6-11h0m4-8h0m22 14h0m9-6h0m3 4h0m8 6h0m13-2h0m2-12h0m27-7h0m4 17h0m1 2h0m5-3h0m5 6h0m0-13h0m2 7h0m4 4h0m1-9h0m4-9h0m9 14h0m12-1h0m9-5h0m5-10h0m3 9h0m3-5h0m5 4h0m0-8h0m0 6h0m2-1h0m1 11h0m1-6h0m0-9h0m9 7h0m13-5h0m12 3h0m5-6h0m15 22h0m8 1h0m3-3h0m7 2h0m21 16h0m0 8h0m-5-4h0m-2 4h0m-5-22h0m-4 23h0m-1-7h0m-7 5h0m-9-20h0m-1-1h0m-6 6h0m-3 17h0m-2-22h0m-4 21h0m-1-5h0m-15-1h0m-2-3h0m-1 4h0m-8-13h0m-2 9h0m-5 5h0m-3-6h0m-6 4h0m-6 7h0m0-5h0m-3 3h0m-24-7h0m-10-5h0m0-1h0m-2 8h0m-2-15h0m-17 3h0m-2-2h0m-3 3h0m0 6h0m-3 9h0m-4-5h0m-13 0h0m-1-4h0m-2-11h0m-2 10h0m-9 3h0m-2-12h0m-4 16h0m-17-15h0m-6 4h0m-5 8h0m-1 7h0m0-14h0m-1 0h0m-6 8h0m-1 4h0m-4-16h0m0 15h0m-7-9h0m-4 11h0m-3 0h0m-1 0h0m-6-18h0m-3 7h0m-3 0h0m-5-4h0m-26 9h0m-253 12h0m12 5h0m74 8h0m189 3h0m1 3h0m0-19h0m5 18h0m4 2h0m2 0h0m4-12h0m11-6h0m2 4h0m3 3h0m2-1h0m3-9h0m7 15h0m5-12h0m26-4h0m0 12h0m0-12h0m17 11h0m5 9h0m4-12h0m21-7h0m21 10h0m8-1h0m3 6h0m7-15h0m36 9h0m7-2h0m21-6h0m4-1h0m3 12h0m4-9h0m3 5h0m1-6h0m4 11h0m8 6h0m0 3h0m11-20h0m7 1h0m1-3h0m-5 34h0m-2 3h0m-7-13h0m-3 15h0m-1-9h0m-1 6h0m-5 5h0m-6-14h0m-4 5h0m-3-5h0m-8-1h0m-8 4h0m-7 8h0m-13 0h0m-9-12h0m-3 3h0m-13 9h0m0-10h0m-15-1h0m-39-3h0m0 18h0m-11-6h0m0-9h0m-3 16h0m-1-12h0m-1 6h0m-5 3h0m-1-8h0m-2-5h0m-3 10h0m-2-4h0m-23-10h0m-4 0h0m-2 14h0m-1-11h0m-16 7h0m-2 9h0m-4 2h0m-4-11h0m-1-4h0m-4-7h0m0 3h0m-22 4h0m-3-6h0m-6 11h0m-1-8h0m-104 14h0m-51-16h0m-8 18h0m-5 0h0m-193-8h0m13 25h0m46-1h0m126 8h0m25 4h0m50-1h0m136-1h0m10-18h0m4 16h0m5-9h0m9 5h0m4-12h0m6 13h0m0-17h0m1 6h0m0 5h0m1-6h0m7-3h0m3 22h0m1-8h0m2-4h0m3-5h0m0 13h0m2-8h0m0 4h0m11 6h0m24-4h0m6-2h0m1 3h0m31-1h0m4-10h0m17 12h0m0-2h0m7 4h0m22-17h0m26 1h0m14 7h0m7-11h0m6 2h0m-3 20h0m-12 3h0m-7-1h0m-21 16h0m-5 0h0m-4 6h0m-7-1h0m-5-12h0m-8-1h0m-5 6h0m-16-3h0m-9-8h0m-11 3h0m-1 7h0m-5 4h0m-4 4h0m-19-15h0m-4 2h0m-15-7h0m-3 7h0m-25-8h0m-14 9h0m-6 5h0m-2 4h0m0-7h0m0-6h0m-1 14h0m-2-6h0m-1-9h0m0 4h0m-1-1h0m-2-7h0m-2-2h0m-1 3h0m-12 0h0m-20 9h0m-48-12h0m-3 6h0m-90 15h0m-44 2h0m-24-5h0m-66 1h0m-106-6h0m-16-9h0m-34 19h0m-56 6h0m1 8h0m139 4h0m15 6h0m9 1h0m1-7h0m30 1h0m10-14h0m2 4h0m63-8h0m40 19h0m0-9h0m35 2h0m61 1h0m30 10h0m37-16h0m32-6h0m2 21h0m2 1h0m7-4h0m1-2h0m5-14h0m1 2h0m0 17h0m3-16h0m2-1h0m10 4h0m21 0h0m9 0h0m16 12h0m1-2h0m2-1h0m2-3h0m1-5h0m4 13h0m2-14h0m2-1h0m8 10h0m6 0h0m19-1h0m1-8h0m5 2h0m2-5h0m13-5h0m17 4h0m3 15h0m5-12h0m4 7h0m3-7h0m18-7h0m6 0h0m17 5h0m1 7h0m-11 20h0m-29-8h0m-9 21h0m-6-16h0m-3 17h0m-16-15h0m-5 3h0m-6 1h0m-12 9h0m-12-21h0m-15 16h0m-5-9h0m-6-3h0m-4 13h0m-1-12h0m-3-4h0m-1 20h0m0-18h0m-3 19h0m-1-16h0m0 2h0m-16 14h0m-5-3h0m0-7h0m-1-2h0m-29-7h0m-7 19h0m-4-21h0m-1 9h0m-6-9h0m0 0h0m-1 5h0m0 2h0m-8 14h0m0-18h0m-2 14h0m0-6h0m-3-7h0m-4 15h0m-3 2h0m-18-8h0m-121-3h0m-19 8h0m-42 2h0m-50-17h0m-8 2h0m-12 5h0m-1-3h0m-13 12h0m-28-20h0m-9 5h0m-6 1h0m-10 11h0m-2 7h0m-3-16h0m-112 1h0m74 37h0m11-13h0m3-3h0m1-2h0m3 1h0m27 18h0m41-2h0m33-9h0m10 5h0m0-6h0m29 0h0m27 8h0m5 2h0m35-13h0m41 8h0m46-9h0m10-4h0m1 0h0m52 9h0m6 9h0m0-4h0m4-15h0m26 6h0m0 4h0m3-8h0m2 11h0m1 1h0m4-2h0m34 8h0m6-13h0m1-4h0m11 0h0m9 14h0m2-17h0m1-2h0m3 1h0m15 4h0m5 3h0m1 7h0m12-15h0m1 13h0m3 6h0m0-2h0m38-16h0m10 7h0m18-1h0m-5 17h0m-31 13h0m-4-3h0m-17 3h0m-4-1h0m-31-1h0m-22-8h0m-23 2h0m-5 13h0m-2-1h0m-2 7h0m-3-17h0m-14 5h0m-7 11h0m-30-15h0m0 11h0m-1-16h0m-11 6h0m-13 10h0m-3-4h0m-8-2h0m-1 10h0m-15-3h0m-3-1h0m-16-17h0m-22 17h0m-15-12h0m-95 14h0m-94-20h0m-5 22h0m-5 0h0m-7 1h0m-1-5h0m-7-6h0m-10-1h0m-3-6h0m-3-1h0m-1 5h0m-7 7h0m-3-13h0m0 17h0m-19 0h0m0-7h0m-1 9h0m-5-21h0m-9 8h0m0 2h0m-1-8h0m-40 6h0m-1 2h0m-3 8h0m-1-3h0m0-9h0m-5 1h0m-4 0h0m-7-4h0m-81-3h0m10 38h0m38 5h0m71-5h0m3 1h0m1-7h0m17 13h0m17-13h0m2 1h0m4-6h0m0 1h0m10 6h0m3 11h0m6-8h0m1 6h0m2-7h0m1-5h0m10 0h0m1 14h0m1-6h0m2-6h0m14-6h0m4 0h0m12 13h0m29 1h0m3-17h0m2 17h0m2-13h0m4 3h0m1 12h0m0 2h0m2-5h0m13 0h0m1-5h0m12 6h0m7-9h0m6 3h0m37-5h0m23 15h0m24-18h0m7 4h0m6-8h0m8 20h0m13-9h0m3 9h0m21-1h0m2-11h0m5-1h0m1 1h0m3 7h0m1-9h0m0 14h0m1-7h0m0 9h0m2-6h0m8-13h0m1 17h0m0-4h0m2-5h0m4-6h0m7-2h0m4 3h0m6 5h0m5 5h0m17-6h0m1 7h0m30-10h0m1-5h0m2 16h0m0 1h0m2-9h0m2 11h0m0-15h0m1 9h0m9 8h0m6-18h0m6 2h0m15 13h0m0-9h0m11-1h0m19 11h0m22-5h0m11-2h0m5-12h0m1 3h0m24 0h0m14 2h0m4 13h0m-7 10h0m-29 8h0m-5 3h0m-7-11h0m-10 0h0m0 6h0m-10 8h0m-1-4h0m-3-12h0m-8 16h0m-17-3h0m-6 2h0m-4 4h0m-17-5h0m-4 5h0m-13-18h0m-2 14h0m-6-18h0m-3 0h0m-3 11h0m-12 1h0m-15 6h0m-2-11h0m-4-5h0m-22 15h0m-1-3h0m-3 5h0m-7 2h0m-9-15h0m-1-6h0m-5 21h0m-1-22h0m-4 4h0m-2 18h0m-8-19h0m-28 12h0m-3-3h0m-8 0h0m-11-2h0m-50 0h0m-2 2h0m-1 3h0m-4 0h0m-3 0h0m-4 3h0m-5 4h0m-1 0h0m-1-5h0m-30 5h0m-16-14h0m-4 6h0m-11-4h0m-1-11h0m0 4h0m-2 15h0m-2-11h0m-7-7h0m-5 12h0m-2-13h0m-12 16h0m-5 6h0m-7-13h0m-4 4h0m-3 3h0m-11 5h0m-6-6h0m-1-2h0m-3-10h0m-2 7h0m-2 13h0m-24-5h0m-3-15h0m-29 17h0m-4-19h0m-4 10h0m-5-10h0m-2 21h0m0-19h0m-4 7h0m-1-7h0m-16-2h0m-59 16h0m-67-14h0m39 28h0m7 15h0m106-11h0m3 8h0m4-3h0m4-13h0m48 18h0m7-12h0m2 3h0m4-11h0m1 17h0m2-16h0m0 17h0m11-15h0m37 16h0m7-6h0m6-1h0m1-6h0m2 4h0m14-8h0m7-3h0m34 7h0m0 3h0m1 14h0m0-20h0m1 11h0m1-6h0m4 14h0m5-13h0m2-9h0m5 3h0m5 8h0m7 9h0m6 2h0m14-23h0m3 3h0m10 8h0m7-2h0m4-9h0m10 19h0m2 1h0m8-11h0m1 0h0m5 2h0m0-2h0m3 7h0m1-6h0m4 2h0m7 10h0m2-10h0m3 6h0m2-14h0m4 10h0m1-1h0m1 8h0m7-20h0m5 15h0m8-9h0m1-1h0m19 18h0m3-23h0m8 20h0m4-4h0m9 7h0m13-19h0m4 16h0m9-13h0m5 2h0m4 5h0m2-5h0m2 8h0m4 3h0m1 0h0m0-2h0m3-7h0m0-12h0m0 6h0m6 10h0m1-10h0m9 13h0m1-14h0m2 3h0m16 1h0m16-4h0m10 11h0m3 3h0m2-12h0m1 7h0m2 6h0m7-12h0m4-3h0m7 10h0m3-6h0m5 25h0m-10 5h0m-2-9h0m-29 12h0m-4-5h0m-9-1h0m-13-8h0m-16 2h0m0 11h0m-6-13h0m-3 18h0m-2-20h0m-4 18h0m-7-16h0m-13 5h0m-21 0h0m-4 2h0m-5-2h0m-6-9h0m-5 23h0m-3-3h0m-18-11h0m-5 1h0m-22-7h0m-13 0h0m-6 16h0m0-10h0m-2-1h0m-1-3h0m-1-3h0m-2 4h0m-1 7h0m-18-6h0m-27-4h0m-29 18h0m-18-14h0m-10 16h0m-5-1h0m-33-21h0m-2 16h0m-8-1h0m-2-7h0m-9-5h0m-4-3h0m-1 9h0m-2 5h0m-6-10h0m-4-5h0m-4 1h0m-5 1h0m-7 17h0m-23-14h0m-14 9h0m-14-5h0m-8 2h0m0-8h0m-1 12h0m-1-7h0m-21-2h0m-10 3h0m11 25h0m10-2h0m3 10h0m2-9h0m4 7h0m7-14h0m6 4h0m15 14h0m2-17h0m14-1h0m0 13h0m11 7h0m11-6h0m10-2h0m2-1h0m17-8h0m0-3h0m1 10h0m7-2h0m0 12h0m1-16h0m4 6h0m13 11h0m1-21h0m6 12h0m28-7h0m11 12h0m6-9h0m4-3h0m3 6h0m13-4h0m12 14h0m49-21h0m9 9h0m10 8h0m6-16h0m0 4h0m23-2h0m17 19h0m56-15h0m7-1h0m5 6h0m6-8h0m5-1h0m0 0h0m2 4h0m18-4h0m4-3h0m0 1h0m2 2h0m23 17h0m9-10h0m4 7h0m7-1h0m7-8h0m-30 15h0m-96 9h0m-6-1h0m-1 4h0m0-2h0m-4-10h0m0 11h0m-1-6h0m-2 8h0m-10-3h0m-1 7h0m-4-6h0m-5-10h0m-3 4h0m-9 8h0m-85 9h0m-5-16h0m-5-2h0m-2 17h0m-10-6h0m-11-7h0m-1 10h0m0-5h0m-3 4h0m0 0h0m-1-5h0m-22-6h0m-12 2h0m-4 0h0m-2 0h0m-4 1h0m-4 12h0m-1-11h0m0 5h0m0-3h0m0 7h0m-2-17h0m-1 7h0m-2 7h0m-7-16h0m-1 6h0m-18 14h0m-2-11h0m-1 7h0m-1 7h0m-4-3h0m-8-2h0m-5-1h0m-19-16h0m-1-1h0m-7-1h0m-7 1h0m-61 20h0m-1-4h0m-72 1h0m-4 22h0m81 3h0m20-4h0m2-3h0m8 2h0m1 4h0m4 0h0m6 2h0m0-9h0m3 2h0m6-1h0m0-7h0m3 17h0m3-16h0m0 15h0m1-12h0m1 6h0m2-1h0m4 2h0m6 7h0m10-20h0m0 4h0m3 14h0m6-9h0m4-6h0m1 13h0m8 5h0m5-18h0m9 7h0m6-3h0m4 12h0m11-6h0m8-8h0m10-1h0m1 16h0m4-3h0m3-2h0m1-16h0m8 1h0m1 11h0m3-2h0m19-10h0m8 7h0m3 3h0m3-6h0m1 5h0m2 4h0m5-13h0m4 10h0m3 8h0m7-18h0m2 18h0m2 2h0m-3 12h0m0-4h0m-8 0h0m-3-3h0m-7 4h0m0 15h0m-4-1h0m-10 0h0m-3-9h0m-3-11h0m-4 7h0m-2 5h0m-2-13h0m-2 9h0m-16-6h0m-9-2h0m-1 1h0m-1 12h0m-6 8h0m-6-9h0m-12-2h0m0 13h0m-3-16h0m-21 0h0m-2 15h0m-6-5h0m-6 0h0m-6 0h0m-4-13h0m-2 3h0m-3-5h0m-7 21h0m-1-22h0m-2 7h0m-6 1h0m-4 4h0m-4-13h0m-8 14h0m-1-10h0m-6 13h0m-3-7h0m-6-1h0m-2 14h0m0-14h0m-17-6h0m-1 8h0m-2 10h0m0-7h0m0 8h0m-2-21h0m-2-2h0m-8 23h0m0-17h0m-43 1h0m-64 30h0m14-1h0m89-4h0m14 12h0m6-1h0m2 4h0m11-11h0m3-7h0m2 10h0m8-6h0m16-5h0m7-4h0m13 5h0m5 0h0m5-1h0m8 17h0m3-16h0m2 4h0m6 13h0m4-11h0m0-6h0m0 5h0m1 4h0m0-13h0m1 6h0m1 13h0m3-17h0m15 15h0m2 2h0m3-4h0m8 4h0m9-10h0m0-1h0m3 3h0m5-9h0m5 0h0m5 1h0m1-4h0m8 13h0m1 9h0m4-5h0m3 2h0m7-13h0m4-1h0m1 17h0m0-18h0m2 13h0m9-5h0m2-11h0m5 19h0m1-10h0m5-4h0m8 14h0m0-18h0m30 18h0m0 4h0m2-7h0m4 1h0m3 3h0m5-2h0m-16 11h0m-6-2h0m-7 6h0m-8-6h0m-13 9h0m-7-10h0m-29 2h0m-2 18h0m-18-6h0m0 4h0m-10-20h0m-14 17h0m-5-1h0m-8-7h0m-2-8h0m-13 19h0m-1 1h0m-12-19h0m0 18h0m-4-20h0m0 2h0m-54 4h0m-5-5h0m-2 17h0m-1-1h0m-5-10h0m-2 9h0m-17-12h0m-1 5h0m0 6h0m-2 6h0m-2 0h0m-7-3h0m-22-9h0m-8 0h0m-23 36h0m14-4h0m3-17h0m0 5h0m3 3h0m4 0h0m12 10h0m8 2h0m6-15h0m14 8h0m8 6h0m3-9h0m2 6h0m0 0h0m4-16h0m5 9h0m2 1h0m1-6h0m0 3h0m1 8h0m5-10h0m13 3h0m1 6h0m2 4h0m22-15h0m35 1h0m2 6h0m1-7h0m1 0h0m9 18h0m6 2h0m2-12h0m15 9h0m2 0h0m2-5h0m4-1h0m13-5h0m0 9h0m17 2h0m4-20h0m8 17h0m5-17h0m3 16h0m-50 10h0m-5 6h0m-11-7h0m-3 2h0m-6-3h0m0 0h0m0 12h0m-3 1h0m-1 10h0m-14-12h0m-2 10h0m0-4h0m-4 6h0m-1-17h0m-6 3h0m-9 8h0m-2 6h0m-19-11h0m-7 0h0m-25 7h0m-12-4h0m-5-2h0m-16 7h0m-10-20h0m-2 7h0m-3-6h0m-3 7h0m-3 13h0m0-17h0m-1-2h0m-2 6h0m0 0h0m-1 1h0m0 7h0m-1-15h0m-1-2h0m-5 23h0m-4-20h0m-1 16h0m-3-5h0m-3-4h0m-23 9h0m-4 2h0m-21 9h0m19 1h0m28 6h0m0 2h0m3 1h0m14-16h0m3 22h0m6-12h0m5-5h0m4 9h0m14 4h0m8 1h0m1 4h0m2-7h0m2-6h0m1-7h0m7 21h0m4-17h0m2 5h0m2-10h0m17 17h0m15 2h0m22-1h0m9-8h0m30 3h0m2-13h0m9 0h0m1 8h0m2-5h0m7 6h0m2 9h0m22 3h0m9-7h0m0-2h0m1-8h0m0 4h0m7-10h0m2 22h0m3-17h0m2 16h0m10-13h0m7-7h0m4 2h0m-11 35h0m0-3h0m-9 13h0m-14-15h0m-14-5h0m-1-3h0m-4 6h0m-6-1h0m-1 2h0m-2 9h0m-7 4h0m-3-15h0m-1 3h0m-3 4h0m-1 3h0m-5-5h0m-3 0h0m-1-7h0m-1 2h0m-6 6h0m-1-6h0m-6 7h0m-2 2h0m-5 0h0m-5 2h0m-11-2h0m0-9h0m0 4h0m-1 10h0m-2-11h0m0 14h0m-1-2h0m-8-5h0m-12-8h0m-45 6h0m-3-11h0m-1 14h0m-5-12h0m-1 16h0m-2-11h0m-2 5h0m-5-6h0m-12 9h0m-6-3h0m-5 1h0m-1-2h0m-2-5h0m0 9h0m-9 0h0m0 5h0m-5-9h0m-1-10h0m-10-3h0m-6 1h0m-3 4h0m24 25h0m11 14h0m4-4h0m0 5h0m5-13h0m2-1h0m1 4h0m2 10h0m17-21h0m2 19h0m3-10h0m4 7h0m65-4h0m19-5h0m4-7h0m6 18h0m3-9h0m2 13h0m1-11h0m8 7h0m0-12h0m2 6h0m3 6h0m3 3h0m1-6h0m13-16h0m1 7h0m1 17h0m4-6h0m4-8h0m10 9h0m2 2h0m1-2h0m0-5h0m10-6h0m1 7h0m7-3h0m-24 17h0m-3-3h0m-3 2h0m-4-1h0m-1 0h0m-12 8h0m-4-5h0m-8-5h0m-5 16h0m0-8h0m-1 11h0m-12-18h0m-5 12h0m-14 6h0m-1-5h0m-4-2h0m-8 8h0m-3-19h0m-1 12h0m-5-9h0m0 7h0m-4-7h0m0-1h0m-7 9h0m-2 0h0m-19-4h0m-19-5h0m-13-4h0m74 25h0" stroke="#d3141a"/><path d="M1037 380h0m-41-6h0m-7 2h0m-123 8h0m-197-23h0m-59 15h0m4 22h0m26 4h0m49-10h0m12-5h0m17 18h0m135 1h0m6-19h0m4 3h0m4 3h0m4 29h0m-3-9h0m-17 8h0m0-2h0m-4-3h0m-1 7h0m-1-12h0m-1 16h0m-13-3h0m-21-9h0m-21-1h0m-156 2h0m-1 30h0m5-2h0m197-11h0m40 2h0m-353 46h0m117 2h0m0-2h0m4 6h0m19 7h0m184 4h0m24 1h0m1-6h0m6 6h0m45 22h0m-34-11h0m-7-4h0m-16-1h0m-3 19h0m-126 1h0m-120-3h0m-288 17h0m1-9h0m1 11h0m0 8h0m2-7h0m294 8h0m101-5h0m6 2h0m119-17h0m8 4h0m6-4h0m4 16h0m3-13h0m6 0h0m2 7h0m-1 26h0m-1 8h0m-2-12h0m0 13h0m-1-5h0m-8-9h0m-5-8h0m-40 7h0m-4-5h0m-94 17h0m-61-8h0m-27-6h0m-5 0h0m-1 11h0m0-8h0m-130 5h0m-169-13h0m-3 0h0m37 31h0m11 10h0m43-15h0m121 20h0m14 0h0m15-8h0m1 6h0m8 0h0m8 2h0m3-6h0m3 6h0m10 0h0m14 1h0m10-3h0m3-5h0m19 5h0m9-7h0m27-4h0m0 10h0m5-10h0m12 4h0m21-8h0m53 11h0m27-3h0m7 3h0m43-9h0m11 11h0m-21 27h0m-10-10h0m-7 1h0m-21-8h0m-1 13h0m-5 1h0m-6-10h0m-11-4h0m-30 18h0m-6-4h0m-27-18h0m-16 19h0m-58 3h0m-4-9h0m-5-4h0m-5-4h0m-8 11h0m-2-16h0m-1 11h0m-27-3h0m-11 6h0m0-15h0m-9 10h0m-13 12h0m-135-9h0m-34 5h0m0-4h0m-1 7h0m-1-17h0m-4 19h0m-15-22h0m-1 3h0m-3 8h0m-2 1h0m0-4h0m-1-5h0m-3-1h0m0 8h0m-1-9h0m-4 15h0m-1-4h0m-1-13h0m0 20h0m-16-2h0m-3-11h0m0 1h0m0 7h0m-2-6h0m-1-8h0m-1 12h0m-2-8h0m-3 3h0m0-6h0m-2 22h0m-6-3h0m-2 1h0m0-17h0m-3 10h0m-2-4h0m-3 3h0m-10-4h0m0-8h0m-2 15h0m-3-2h0m-6 7h0m-4-15h0m-1 6h0m-3 28h0m2 7h0m0-14h0m9 7h0m2 6h0m2 0h0m11-3h0m15-4h0m9 0h0m2-12h0m5 11h0m20-11h0m2 1h0m3 18h0m3-20h0m13 3h0m4 5h0m2 0h0m5-5h0m7 12h0m14 6h0m123-19h0m4 3h0m26-6h0m1 10h0m4-6h0m2-5h0m5 2h0m30 12h0m23-13h0m2 7h0m8 0h0m4-6h0m71 7h0m25-4h0m21 6h0m6 10h0m3-18h0m1 18h0m10-10h0m47 8h0m1-19h0m13 21h0m2-13h0m33 8h0m1-3h0m169-8h0m-79 29h0m-90-8h0m-70 9h0m0 4h0m-2 0h0m-3-3h0m-5 5h0m-2-6h0m-2 3h0m0-10h0m-13 11h0m-1 5h0m-5-13h0m-8 5h0m-2-4h0m-40 2h0m-11 6h0m-7 1h0m-16 4h0m-54-9h0m-18 11h0m-3-5h0m-13-5h0m-1-14h0m-1 17h0m-4 3h0m-169-4h0m-1-6h0m-10-3h0m-1 0h0m-1-5h0m-2 11h0m0-3h0m-2 10h0m-2 1h0m-1-2h0m-4 3h0m0-4h0m0 3h0m-1 2h0m-2-1h0m-4-4h0m-1-10h0m-2 10h0m-3-2h0m-1-2h0m0-10h0m-2 14h0m0-5h0m-1 4h0m-3 0h0m-2 4h0m-8-3h0m-7-17h0m-14 6h0m-26-1h0m-6 2h0m-8-3h0m-14 3h0m-8-2h0m-2-5h0m25 40h0m3 5h0m6-2h0m4 0h0m4-18h0m3 18h0m5-17h0m3 15h0m2 4h0m15-11h0m3-1h0m12 7h0m1-14h0m6-1h0m4 18h0m8-6h0m7-11h0m4-2h0m4 16h0m11-6h0m2-1h0m3 4h0m11-4h0m0-4h0m1 5h0m2-6h0m1 7h0m52-5h0m46 3h0m93-10h0m26 10h0m36 0h0m5 1h0m6-10h0m3 14h0m6 0h0m54 7h0m99-1h0m7 9h0m-85 11h0m-35-13h0m-22 18h0m-1-13h0m-2 5h0m-11-4h0m-7-4h0m-5-6h0m-5 4h0m-228 20h0m-21-2h0m-48-18h0m-7 0h0m-7 14h0m-9-12h0m-6-1h0m0 18h0m-3-13h0m-6 6h0m-3-11h0m-5-2h0m-5-1h0m-10 0h0m-18 5h0m6 39h0m23-8h0m17 3h0m4-13h0m5-2h0m2 22h0m1-20h0m3 15h0m5 1h0m7-4h0m33-10h0m9-5h0m4 2h0m2 13h0m3 3h0m3 3h0m0 1h0m2-9h0m3-4h0m7-7h0m1 16h0m3-15h0m2 9h0m1-1h0m2 6h0m4-10h0m1 7h0m30-9h0m24 13h0m91 27h0m-40-12h0m-86 8h0m-11 6h0m-4-15h0m-5 4h0m-2 7h0m-1-1h0m-2-8h0m-4 0h0m-7 13h0m-1-4h0m-2-8h0m-2 9h0m-2-4h0m-3-5h0m-2-10h0m0 0h0m-3 2h0m-2-3h0m-2 10h0m-4 2h0m-5 10h0m-7-1h0m-11 1h0m-8-3h0m0 0h0m-3-1h0m-2-9h0m-1 6h0m-1-10h0m-2-1h0m0 9h0m-1-4h0m-2 12h0m0-12h0m-1 11h0m-1-11h0m-1-8h0m-6 1h0m-9 18h0m-29 5h0m3 3h0m3-2h0m4 18h0m1-6h0m3 3h0m2-13h0m4-4h0m2 11h0m12-9h0m2 19h0m2-19h0m7 19h0m1-16h0m6 3h0m0-2h0m2 5h0m4 1h0m2-4h0m2-3h0m3 10h0m15 4h0m46-3h0m5-9h0m3-3h0m9 2h0m2 13h0m1-17h0m0 12h0m0-11h0m1-2h0m1 1h0m0 8h0m1 13h0m1-15h0m1-3h0m4 3h0m29 10h0m36-15h0m4 4h0m2-4h0m1 0h0m360-1h0m-356 42h0m-8-8h0m-47 2h0m-9 8h0m-22-20h0m-9 18h0m-3-4h0m-3 2h0m-5 2h0m-1 2h0m-12-6h0m-5 2h0m-3 0h0m0-4h0m-7-4h0m-5 0h0m-6 2h0m-3 3h0m-5-3h0m-1 6h0m-1 4h0m-3-13h0m-1 12h0m-3-7h0m-3 7h0m-1-10h0m-3-6h0m-4 7h0m-2-5h0m-15-3h0m-1-4h0m-1 21h0m-2-16h0m-2 11h0m-3-14h0m-3 10h0m-1-7h0m-1 4h0m0-4h0m-4 1h0m-1-3h0m-4 16h0m-1-11h0m0 0h0m-1-1h0m-1 7h0m0 1h0m-1 3h0m-4-14h0m0 13h0m1 7h0m4 7h0m24 8h0m2-7h0m1 7h0m2 4h0m3-1h0m2 0h0m1 3h0m1 1h0m3-5h0m18-15h0m2 0h0m8 19h0m2-8h0m6-13h0m1 7h0m1 7h0m4-12h0m1 10h0m0 0h0m5-8h0m16-4h0m3 20h0m1-14h0m3 2h0m2 1h0m4-7h0m5-3h0m1 8h0m1-6h0m1 20h0m0-10h0m16-8h0m1 8h0m3 12h0m1-23h0m10 5h0m7 17h0m19 21h0m-65-1h0m-2-10h0m-3-5h0m-6 9h0m-5 2h0m-2-8h0m-4 3h0m-1 11h0m-4-5h0m-5-3h0m-3-9h0m-13 18h0m0-21h0m-4 7h0m-1 10h0m0-1h0m0-10h0m-4 7h0m-1 0h0m-1-8h0m-2 0h0m0 10h0m-1-1h0m-8-13h0m0 17h0m-6-18h0m0 7h0m-2 2h0m-4-8h0m-5 8h0m-5 4h0m-1-7h0m-4 9h0m-5-8h0m5 19h0m8 3h0m4-1h0m2 6h0m4-1h0m19 5h0m2 4h0m2-4h0m0-6h0m1-1h0m2-5h0m45 13h0m1-4h0m5-3h0m4-4h0m6 16h0m4-4h0m2-15h0m1 17h0m1-10h0m19 10h0m15-8h0m19-10h0m-13 32h0m-7-3h0m-15-6h0m-26 2h0m-10 5h0m-5 3h0m-7-1h0m-12-4h0m-63 8h0m77 31h0m-49 17h0m19 17h0m6 11h0m1-6h0m7 7h0m20 30h0m-5-12h0m-4-5h0m-1 4h0m-2 3h0m-6-5h0m-2-5h0m-4 1h0m164 58h0m-76-10h0" stroke="#f17c69"/><path d="M352 238h0m-18 29h0m363 49h0m-1 8h0m-2-5h0m-6 14h0m-7-2h0m-3-16h0m0-1h0m-21 16h0m-3-2h0m0 6h0m-15-3h0m-22 25h0m6 1h0m21 3h0m6-20h0m15 3h0m3-7h0m7 15h0m2 5h0m7-7h0m4 4h0m10-15h0m70 6h0m5 8h0m2-5h0m9-7h0m0-4h0m-111 25h0m-22 12h0m-2 6h0m-2-6h0m-4 7h0m-12-6h0m-5 8h0m-11-4h0m-1 6h0m-8-19h0m0 0h0m-7 42h0m4-1h0m0-15h0m0 11h0m6-10h0m34-7h0m4 3h0m4 6h0m-22 31h0m-1-15h0m-4 9h0m-46 2h0m0-5h0m-7 8h0m-4 7h0m-7-10h0m-51 27h0m6-5h0m1-4h0m2 15h0m0-3h0m18 3h0m18-1h0m4-9h0m12 11h0m6-17h0m2 5h0m2-7h0m5 14h0m0-6h0m20-11h0m-2 42h0m-2 4h0m-12-8h0m-15-5h0m-5 4h0m-3-13h0m-3 5h0m-3-2h0m-1 7h0m-1 5h0m-6 0h0m-1-5h0m-24-3h0m-2 3h0m-4 2h0m-4-10h0m-2 17h0m-25-11h0m-8 10h0m-167 4h0m-12 0h0m21 25h0m155-18h0m6 3h0m0-5h0m18 13h0m5 5h0m10-21h0m2 6h0m5-4h0m1 3h0m2 2h0m7 6h0m2-8h0m2 14h0m6-3h0m2 3h0m17-11h0m50-8h0m-49 46h0m-21-16h0m-39 17h0m-2-21h0m-10 10h0m-14 4h0m-25 27h0m9 3h0m11-20h0m13 12h0m8 2h0m2-7h0m7 9h0m11 1h0m21-16h0m9 9h0m2 10h0m7-11h0m18 8h0m4 1h0m17-13h0m8 0h0m-31 29h0m-8-1h0m-10-7h0m-10 5h0m-4-2h0m-3 0h0m-24-7h0m-4 15h0m-2-8h0m-6 11h0m-4-13h0m-3 17h0m-2-22h0m-8 1h0m-5 7h0m-20 0h0m-4-5h0m-3 20h0m-8-15h0m-7 14h0m-57-8h0m5 13h0m0 10h0m40 0h0m8 3h0m6 1h0m3 4h0m4-21h0m10 10h0m1-7h0m11 0h0m2 10h0m3-10h0m2 17h0m8-14h0m2 12h0m2-8h0m0-7h0m20 19h0m4-6h0m6 6h0m5-17h0m12-1h0m-23 28h0m0-4h0m-28 4h0m-6-2h0m-27-2h0m0 0h0m-5 8h0m-4-13h0m-16 4h0m-7 4h0m-4 2h0m-4-2h0m-3-5h0m-1 2h0m-3 8h0m-1 0h0m-6-12h0m-108 32h0m150 4h0m9-7h0m6 0h0m13-3h0m1 6h0m1 6h0m5 6h0m2-8h0m4-5h0m-120 74h0m-12 26h0m33 4h0m101 31h0m-43-5h0m-7-13h0m-6-4h0m4 47h0m1-18h0m51 8h0m41 11h0m-78 12h0m-10-5h0m-4 38h0m8 0h0m5-14h0m71 9h0m1 7h0m9 0h0m-62 9h0m-71-8h0m176 57h0m-4-4h0m-4-3h0m-157 17h0m-4-1h0m54 50h0m-28-11h0m69 42h0m-39 9h0" stroke="#78a9de"/><path d="M674 444h0m5-1h0m12 7h0m55 4h0m57 15h0m-6-1h0m-36 2h0m-19-9h0m0 10h0m-24 5h0m-36 1h0m-11-15h0m17 36h0m2-1h0m5-1h0m1 6h0m9-7h0m9 8h0m77-19h0m4 6h0m1-1h0m-32 37h0m-12 23h0m1-1h0m12-16h0m1 16h0m3-2h0m6-2h0m1 4h0m8 22h0m-1-9h0m0 5h0m-2 4h0m-1-18h0m-4 9h0m-4-4h0m-5 5h0m-3 0h0m-1 10h0m-2-7h0m-1-11h0m-3 0h0m-5-1h0m-359 327h0m1 6h0m5-4h0m4-3h0m1 7h0m5-2h0m2 3h0m6 0h0m13 18h0m-2 3h0m-3-11h0m0-3h0m0 2h0m-1 7h0m-4 5h0m-9-12h0m-2 12h0m0 0h0m-5-2h0m-1 5h0m-2 0h0m-1-1h0m-2 1h0m-1 0h0m-2-5h0m-4-2h0m-5-8h0m-1 4h0m12 24h0m2-2h0m0 7h0m1-4h0m1-8h0m1 2h0m1 2h0m0-4h0m1 8h0m1 6h0m1 0h0m1-9h0m3 6h0m2-4h0m1 2h0m9 6h0m1-3h0m0-11h0m7-1h0m5 10h0m1 7h0m1-19h0m2 9h0m1 1h0m1-4h0m1 11h0m3 2h0m0-18h0m11 19h0m25 22h0m-11 3h0m-2-7h0m-3-5h0m-2 11h0m-1-7h0m-4-9h0m-1-1h0m-4 3h0m0-8h0m0 17h0m-3 1h0m-8-2h0m-1-6h0m-2 11h0m-1-17h0m-4 9h0m-15-1h0m-3-5h0m-5-7h0m-6 0h0m24 25h0m6 4h0m9 6h0m2-4h0m2 7h0m2-9h0m1 11h0m0-5h0m2 1h0m3-10h0m0 8h0m0-3h0m7 0h0m4 11h0m6 5h0m0-8h0m13 6h0m1-15h0m2 1h0m8 8h0m5 20h0m-2-5h0m-2 2h0m-1-6h0m-13 6h0m-17-5h0" stroke="#2a5db0"/><path d="M286 210h0m1 2h0m0-12h0m1 8h0m0-7h0m3 0h0m0 15h0m0-9h0m1 8h0m1-16h0m1 7h0m0 3h0m1 0h0m4-5h0m1 3h0m3 7h0m1-11h0m0 3h0m5-2h0m1 11h0m4-5h0m5-4h0m2 3h0m4 0h0m12 6h0m12 10h0m-3 5h0m-4-2h0m-2 6h0m-2-8h0m0 14h0m-1-11h0m-1 3h0m0 6h0m-5-19h0m-1 20h0m-3-3h0m-3-2h0m-4 1h0m-3 2h0m-1-6h0m-2 3h0m-10-17h0m0 3h0m0 1h0m-2 8h0m0-4h0m-1-8h0m-2 3h0m-2 0h0m-2 3h0m-1-2h0m0 6h0m1 21h0m1 7h0m3 3h0m1-5h0m1 3h0m3 1h0m1-3h0m2-11h0m2 20h0m1-19h0m3 11h0m4-12h0m0 12h0m2 7h0m6 1h0m2-2h0m1-10h0m3 10h0m1-19h0m4 11h0m2 3h0m2-9h0m0 3h0m4 0h0m-15 22h0m-7-7h0m0 1h0m-5-1h0m-7 0h0m0 18h0m-12-12h0m-1-5h0m-3 3h0m29 34h0m3-3h0m-8 18h0m-2 8h0m-6-3h0m-1 3h0m-2 4h0m-10 1h0m0-1h0m-7 5h0m-25 22h0m2 2h0m2-6h0m0-4h0m4 5h0m1-2h0m0-12h0m4 19h0m2-5h0m0 5h0m0-9h0m4 2h0m0 4h0m1-1h0m3-10h0m0 5h0m1 7h0m4 0h0m0-1h0m0-11h0m2 8h0m0-16h0m1 22h0m1-5h0m1-5h0m1-9h0m1 5h0m1-3h0m4 15h0m2 2h0m2-1h0m1 1h0m0-4h0m2-5h0m0-4h0m2 4h0m0 3h0m1 6h0m3-4h0m4-15h0m6 18h0m0-7h0m0 10h0m-1 21h0m0-15h0m0 2h0m-1-4h0m-3 7h0m-1 9h0m0-16h0m-2 11h0m-1-1h0m-2-14h0m0 6h0m-6-2h0m-2-4h0m-1 16h0m-2-2h0m-2-12h0m0 8h0m-1 3h0m-3 2h0m0 4h0m0-4h0m-2-6h0m-4-4h0m-3 2h0m-3 4h0m-5-8h0m0 8h0m-1-7h0m0 3h0m-2-2h0m-1-3h0m-1 2h0m-2-1h0m-3 15h0m-1-11h0m0 1h0m-2 14h0m-3-22h0m0 21h0m0-13h0m-2-3h0m-1 16h0m0 3h0m1 5h0m1 1h0m0-3h0m10 5h0m4 5h0m2 2h0m1 2h0m1-2h0m0 7h0m2-4h0m1 3h0m0-7h0m2-2h0m1-2h0m0 11h0m1-13h0m1-3h0m0 16h0m2-13h0m0 4h0m1-6h0m2 1h0m2-6h0m0-1h0m1 16h0m1-11h0m1 10h0m0 5h0m0-14h0m2 8h0m1-6h0m0 14h0m2-3h0m2-16h0m0 8h0m0 5h0m1 5h0m2-17h0m0 12h0m1-8h0m1 11h0m0-5h0m1-1h0m0-2h0m1-7h0m1 10h0m2-14h0m4 5h0m0-3h0m1 1h0m3-4h0m2 2h0m-5 29h0m-3-4h0m-1 1h0m-1 10h0m0 8h0m-1-13h0m-1-7h0m-1 8h0m-1-6h0m-3 19h0m-1-9h0m-1-13h0m0 10h0m-1-7h0m-2 9h0m-1 9h0m0 2h0m-2-18h0m-1 10h0m-1 5h0m0-6h0m-1 6h0m-4-7h0m-2-13h0m-2 13h0m-3 8h0m-1-12h0m-1 14h0m0-23h0m-3 12h0m0 8h0m-1-20h0m-1 15h0m-3 7h0m-1-12h0m-2 6h0m16 15h0m2-2h0m1-4h0m2 7h0m3-3h0m3-2h0m0 8h0m3-4h0m9-4h0m-5 30h0m-7 0h0m-1-6h0m-4 5h0m-4-1h0m19 18h0m1 14h0m1-6h0m3-5h0m4-2h0m11 17h0m143-5h0m-132 25h0m-3-16h0m-14 16h0m-1-7h0m-3-8h0m4 29h0m3 0h0m1 8h0m3-1h0m18 32h0m-15-15h0m0-2h0m0 8h0m-2-11h0m-2 14h0m-1 5h0m-11-1h0m-1-5h0m-3 3h0m-1 3h0m0 0h0m-2 3h0m8 4h0m35 5h0m3-5h0" stroke="#7b2a6c"/><path d="M706 304h0m3 3h0m10 0h0m95 8h0m-4 4h0m-10 8h0m-3-11h0m0 16h0m-5-19h0m-9 14h0m0-9h0m-4 1h0m0 6h0m-1 10h0m-61-17h0m-56 13h0m-39 7h0m139 2h0m15 1h0m4 4h0m3 7h0m2-11h0m0 15h0m5-8h0m0 0h0m2 10h0m3-22h0m30 19h0m14 5h0m42-1h0m7-18h0m5 1h0m1 6h0m1 11h0m22-8h0m1 0h0m1-6h0m6 3h0m3 6h0m1-2h0m2 3h0m7-7h0m14 3h0m7 3h0m31-6h0m5 3h0m54 31h0m-19-21h0m-9 10h0m-6-10h0m-4 9h0m-6 12h0m-1-14h0m-2 6h0m-1 3h0m-4-11h0m0 10h0m-3-12h0m-2 2h0m-1 9h0m0-2h0m-6 1h0m-5 6h0m-6 3h0m-13-5h0m-1-9h0m-8-2h0m-11 15h0m-3-20h0m-6 14h0m-5-7h0m-5-2h0m-1 5h0m-5-2h0m-6 4h0m-2 2h0m-33-3h0m-5-4h0m-14 9h0m-1 1h0m0-7h0m-2-3h0m-12 13h0m-10-17h0m-25 6h0m-1-6h0m-1 11h0m-2-6h0m-194 5h0m-7 13h0m91 5h0m5-6h0m33 6h0m63 15h0m31-5h0m8-5h0m5-13h0m16 14h0m31 7h0m11-11h0m7 3h0m7 3h0m2-13h0m3-3h0m6 13h0m0 5h0m4-17h0m8-1h0m3 22h0m9-5h0m16 6h0m41-11h0m2-5h0m3 9h0m0-1h0m2-5h0m5 7h0m2 3h0m0-9h0m0 4h0m0-12h0m2 6h0m24-4h0m13-3h0m15 16h0m12-6h0m4-2h0m1 8h0m9-4h0m4-13h0m-1 33h0m-12 1h0m-3 0h0m-23-1h0m-3-8h0m-7 2h0m-11 13h0m-6-11h0m-5 2h0m-4 14h0m-9-19h0m-3 15h0m-2-5h0m-20-6h0m-10 13h0m-4 1h0m-19-17h0m-10 5h0m-6-7h0m-3-2h0m-7 12h0m-1 9h0m-4-10h0m-1-4h0m-1-8h0m-41 17h0m-35-6h0m0-2h0m-3-7h0m-6 3h0m-7-2h0m-34 2h0m-15-1h0m-63-3h0m-89 9h0m-38-8h0m-83 44h0m68-11h0m63 6h0m201 0h0m7-2h0m3 8h0m4-8h0m11 5h0m4-16h0m15 19h0m7-10h0m6-1h0m1 3h0m9 8h0m3-9h0m13-11h0m14 18h0m10-7h0m15-4h0m0 7h0m2-11h0m14 17h0m2-16h0m3 14h0m2-13h0m2 15h0m7-11h0m10 6h0m4-11h0m1-6h0m1 11h0m11 0h0m3 4h0m6 4h0m1-4h0m3-15h0m10 9h0m3-6h0m9 2h0m12-1h0m14 18h0m2-1h0m3 1h0m19 2h0m-21 3h0m-3-1h0m-3 1h0m-1-4h0m-17 22h0m-11-11h0m-1 0h0m-15 10h0m-1-2h0m-36-8h0m-4 7h0m-6-16h0m0 14h0m-1-12h0m-9-2h0m-25-2h0m-4 5h0m-5-1h0m-6 2h0m-11 13h0m-7-15h0m-7 1h0m-16 15h0m-13-1h0m-8 5h0m-1-2h0m-1-6h0m-11 2h0m-4 0h0m-1 2h0m-14-12h0m-334 29h0m332-10h0m5 13h0m4 5h0m4 2h0m9-2h0m4-8h0m2-12h0m1 9h0m0 5h0m2 6h0m1-8h0m1-12h0m4 18h0m1-3h0m5-3h0m9 4h0m24 1h0m2 5h0m1-18h0m3 7h0m11-3h0m6-5h0m44-1h0m6 5h0m4 11h0m3 1h0m1-9h0m1 7h0m3 0h0m13-7h0m3-7h0m19 14h0m3-4h0m10-7h0m10-2h0m4-2h0m4 2h0m1 4h0m7 14h0m4-22h0m15-1h0m6 21h0m20-12h0m-19 20h0m-7 13h0m-2-10h0m-3-6h0m-2 10h0m-1-7h0m-3 9h0m-7-7h0m-11-1h0m-8 4h0m-5 12h0m-13-2h0m-3-5h0m0-5h0m-3 3h0m-3 6h0m-3-16h0m0 13h0m-3-13h0m-5 5h0m-2 11h0m-1-8h0m-12-10h0m0 10h0m-2 10h0m-1-5h0m0-14h0m-45 4h0m-13 5h0m-13 9h0m-9-15h0m-7-2h0m-27 18h0m-10-21h0m-9 6h0m-10 7h0m-7 7h0m-1-18h0m-1 8h0m-3-1h0m-11-7h0m-65 11h0m-2 8h0m-79-13h0m-9 6h0m-4 0h0m-2 3h0m-8-4h0m-119-1h0m-101 33h0m19-4h0m37-7h0m30 1h0m70-8h0m100 17h0m108-9h0m23 1h0m29-11h0m11 15h0m0 0h0m3-16h0m3 14h0m3-4h0m9-10h0m16 4h0m0 18h0m4-19h0m3 13h0m3 8h0m2-12h0m0-2h0m4 1h0m6 3h0m0 6h0m3-7h0m6 0h0m2 3h0m11 2h0m2-7h0m2-6h0m3 15h0m22-7h0m2-6h0m20-3h0m1 19h0m6-2h0m6 0h0m2-11h0m6 13h0m6-5h0m1-5h0m3-7h0m0 11h0m6-15h0m26 5h0m10 15h0m24-12h0m7 4h0m-7 18h0m-3 15h0m-54-15h0m-4-4h0m-2 10h0m-6-13h0m-39 6h0m-11-3h0m-1 4h0m-6-7h0m0 6h0m-1-3h0m-14 19h0m-36-15h0m-11 15h0m0-22h0m-2 19h0m-2-2h0m-1-7h0m-1-2h0m-10 3h0m-1-2h0m-2-4h0m-2 9h0m0 7h0m-4-1h0m-8-11h0m-3 9h0m-5-17h0m-5 4h0m-14 13h0m-27-18h0m-8 4h0m-84-4h0m-2 7h0m-60 2h0m-65-5h0m-5 4h0m-3 9h0m-7-3h0m-77 7h0m-32-9h0m-3-7h0m-7 5h0m-91 8h0m-9 17h0m53-9h0m39 15h0m20-8h0m18 9h0m50-9h0m7-5h0m4 3h0m7-3h0m17 9h0m6-6h0m95 0h0m21 1h0m13 3h0m48-2h0m3 12h0m8 1h0m47 0h0m39 0h0m14-1h0m9-9h0m1 8h0m2 3h0m0-19h0m7 2h0m5-3h0m3-4h0m7 9h0m2 6h0m1-2h0m1 5h0m6-13h0m4 1h0m25 18h0m1-5h0m4-3h0m2 4h0m0-7h0m1 8h0m1-7h0m1 4h0m2-4h0m0 3h0m2-3h0m1-12h0m4 13h0m6-4h0m8-1h0m17 9h0m3-3h0m15-11h0m3 17h0m16-14h0m14-5h0m11 16h0m1-13h0m4 17h0m9 9h0m-34 8h0m-4-7h0m-1-2h0m-12 3h0m-10 7h0m-4-2h0m-6 7h0m-4-14h0m-20 9h0m-3-14h0m-11 3h0m0-2h0m-2 16h0m-5-19h0m-5 20h0m-2-8h0m-3 4h0m-3-13h0m-2 12h0m0-5h0m-4 2h0m-1 6h0m-17-15h0m-3-4h0m-20 17h0m-3-8h0m-3 4h0m0 4h0m-3-15h0m-8 0h0m0 4h0m-13 1h0m-1 13h0m-10-8h0m-45 9h0m-34-19h0m-109 10h0m-17 5h0m-22-4h0m-22 1h0m-20 5h0m-4-6h0m-5 11h0m-29-22h0m-26 4h0m-2 12h0m-2-9h0m-8-9h0m-13 22h0m-4 1h0m-30-21h0m-118 8h0m63 18h0m66 16h0m2-8h0m2 5h0m1-3h0m1-6h0m1 12h0m2 4h0m1-18h0m3-5h0m4 1h0m24 19h0m3-4h0m3 1h0m32-3h0m2 4h0m2 0h0m6-18h0m9 1h0m11 11h0m10 10h0m17-12h0m16 10h0m3-12h0m15 10h0m29-9h0m9-6h0m7 6h0m116 4h0m40-5h0m0 9h0m10-9h0m1-4h0m6-3h0m5-1h0m23 18h0m28-19h0m15 16h0m9 3h0m5-5h0m1-10h0m4 5h0m0-8h0m1 15h0m1-10h0m3-3h0m3-1h0m2 6h0m2-6h0m3 16h0m1 1h0m0-8h0m11 7h0m5-13h0m15 11h0m32-9h0m6-3h0m9 10h0m0 0h0m5-5h0m6 5h0m-8 12h0m-1-1h0m-1 5h0m-2-1h0m-3 15h0m-6-8h0m-3-5h0m-4 7h0m-17-11h0m-7 0h0m-8 4h0m-13 17h0m-6-18h0m-7-4h0m-1 5h0m-6 13h0m-3-3h0m-4-12h0m-26 0h0m-28 3h0m-13-5h0m-28 10h0m-33 4h0m-9 3h0m-1-8h0m-14 8h0m-4 3h0m-26-20h0m-20 13h0m-44 2h0m-81-14h0m-47 0h0m-17 18h0m-3-21h0m-18 19h0m-2-5h0m-17-5h0m-14 9h0m-4 1h0m-1-5h0m0 5h0m-2-13h0m-1 10h0m-3 3h0m-1 0h0m0 1h0m-1-4h0m-2 1h0m-3 4h0m-2-12h0m-1 6h0m-13-16h0m-1 23h0m0-22h0m0 3h0m-1 4h0m-4-1h0m0-4h0m-10 2h0m-6 0h0m-10 5h0m-4 4h0m-1 0h0m-11-4h0m-2 6h0m-1 7h0m-1-9h0m-2-4h0m-3-9h0m-130 42h0m53 5h0m45-13h0m37-7h0m0-4h0m26 12h0m6 10h0m1 1h0m3-17h0m5 0h0m8 14h0m2-1h0m3-4h0m11 4h0m6 0h0m5-19h0m1 16h0m1-2h0m14-11h0m11 19h0m4-1h0m7 2h0m0-9h0m5-9h0m7 5h0m7-10h0m2 7h0m2 5h0m0-8h0m0 11h0m1-4h0m1 8h0m2-15h0m4-1h0m4 8h0m13 6h0m16-12h0m2 12h0m0-6h0m1-4h0m1 11h0m2-10h0m1 4h0m6-3h0m0 0h0m2 2h0m3 7h0m6-3h0m4 9h0m4-1h0m3-2h0m4-13h0m61-4h0m44 6h0m13 5h0m12 5h0m5 1h0m5-3h0m4-8h0m5 5h0m3 2h0m5 1h0m1 4h0m2-4h0m1-12h0m6 5h0m3 3h0m2-7h0m12 4h0m3-10h0m4 0h0m1 6h0m15 14h0m7-18h0m3 0h0m0 1h0m1 5h0m2-9h0m3 8h0m1 7h0m1-7h0m5 9h0m3 3h0m6 1h0m11-8h0m5-9h0m3 13h0m1-11h0m1-5h0m5 5h0m23 9h0m13-2h0m5-5h0m2-3h0m2 18h0m5-1h0m1-4h0m4 3h0m6-17h0m1 15h0m6-7h0m5 7h0m30 16h0m-15 11h0m-5-12h0m-4 3h0m-7-3h0m-2-7h0m-33 18h0m-3-19h0m-5 20h0m0-3h0m-8 0h0m-5-7h0m-10 12h0m-5-7h0m0-4h0m-13 2h0m-7-3h0m-19 0h0m-1 5h0m-4-2h0m0-4h0m-2-6h0m-9-3h0m-8 10h0m-8 0h0m-24 7h0m-4-15h0m-3 6h0m-2 8h0m-1-15h0m-5-2h0m-4 0h0m-22 21h0m-9-11h0m-3-6h0m-4-3h0m-8 5h0m-1 2h0m-1 14h0m-2-6h0m-41-4h0m-15-7h0m-3 11h0m-3-3h0m0 6h0m-6-4h0m-10-15h0m-1 16h0m-1 2h0m-3-10h0m-36-7h0m-4-1h0m-6 19h0m-4 4h0m-7-21h0m-4 15h0m-5-3h0m-3-8h0m0-5h0m-12 9h0m-10 10h0m-2-7h0m-6 5h0m-9 2h0m-3-3h0m-3-4h0m-2 0h0m-1 8h0m-3-8h0m-1-12h0m-3 18h0m0 4h0m-3-13h0m-1 7h0m-2 2h0m-6 1h0m-8-18h0m-6 3h0m-5-3h0m-18 9h0m-8 4h0m-1-4h0m-11 8h0m-2-7h0m-1-6h0m-14-5h0m-123 37h0m29-13h0m106 0h0m1 6h0m0 1h0m3 5h0m5-5h0m3-6h0m5 6h0m40-8h0m13 19h0m2-20h0m5 3h0m1 8h0m0 5h0m4-4h0m1 11h0m2-19h0m8 0h0m2 7h0m2 6h0m7 5h0m2 0h0m1-18h0m32 6h0m3 8h0m2-13h0m40-1h0m3 8h0m7-3h0m10 9h0m2-6h0m5-12h0m17 18h0m5-2h0m6 1h0m2 4h0m7 3h0m15-16h0m13 6h0m10 4h0m1 1h0m1-3h0m3 3h0m2-17h0m2 4h0m1-1h0m3 4h0m2 11h0m3-10h0m2-4h0m0 9h0m2 0h0m5-2h0m9 4h0m1 7h0m0-19h0m0 7h0m3 11h0m14-8h0m3 7h0m4-10h0m4-10h0m13 12h0m1 6h0m6-6h0m1 8h0m1-6h0m4-10h0m3-3h0m1 0h0m11 20h0m3-10h0m2-5h0m11 9h0m9-14h0m4 2h0m5-2h0m3 20h0m1-16h0m0-4h0m1 13h0m3-13h0m6 15h0m4-2h0m5 1h0m16 7h0m8-20h0m32 14h0m10-2h0m0-6h0m1-10h0m1 17h0m5-8h0m2 19h0m-21-3h0m-19 13h0m-3-4h0m-11 5h0m0-10h0m-5 19h0m-6-11h0m-11 10h0m-3-15h0m-3 4h0m-3-7h0m-4-1h0m-1 12h0m-4-4h0m-2-9h0m-4-2h0m-1 3h0m-8 7h0m-12 4h0m-4-11h0m-9 1h0m-28 3h0m-8 9h0m-12-8h0m-31-4h0m-2 9h0m-2-9h0m-9 16h0m-4-15h0m0 12h0m-4-7h0m-3-10h0m0-1h0m0 8h0m-3-4h0m-64 5h0m-57 2h0m-11 13h0m-3-14h0m-5-10h0m-6 5h0m-4-2h0m-3-3h0m-1 4h0m-1 15h0m-28-1h0m-4-2h0m-8-10h0m-2-2h0m-6 3h0m-14 6h0m-6 0h0m-3 3h0m0-5h0m-2-6h0m-2 0h0m-1 13h0m-2-17h0m-1 18h0m-4-6h0m0 10h0m-29-10h0m7 15h0m7 2h0m9 3h0m1-5h0m2 17h0m1-14h0m2 2h0m1-8h0m11 22h0m2-11h0m4-12h0m3 3h0m2 0h0m15 10h0m4 2h0m5 8h0m19-12h0m6 6h0m0 1h0m16-2h0m2 6h0m9-11h0m6 5h0m11-14h0m7 18h0m8 1h0m4-7h0m25-4h0m13-1h0m4-1h0m90 6h0m6 2h0m3 7h0m2-9h0m5-12h0m4 4h0m3 5h0m7-3h0m10-7h0m30 18h0m6 4h0m32-14h0m5 1h0m1-1h0m1-4h0m6 1h0m4 4h0m2-8h0m5 6h0m3-5h0m58 9h0m9 5h0m-117 15h0m-8 2h0m0-9h0m-1 7h0m-2 9h0m-1-12h0m-4 11h0m0-3h0m-8 2h0m-2-7h0m-1 6h0m-2-13h0m-14 16h0m-14-8h0m-10 0h0m-5-5h0m-63 13h0m-1-6h0m-8-5h0m-2 0h0m-4 5h0m-7 11h0m-3-11h0m-7 12h0m-9-3h0m-5-16h0m-2 18h0m0-12h0m-17-4h0m-4 7h0m-10-11h0m0 9h0m-5-1h0m-1 5h0m0-2h0m-10 1h0m-1-10h0m-1 1h0m0 12h0m-13 5h0m-1 1h0m-3-5h0m-3-6h0m-3 4h0m-4-6h0m-5 0h0m-3 4h0m-1-4h0m-2 6h0m-1-1h0m-5-1h0m-11-14h0m-3 22h0m-7-11h0m-1 12h0m-6-12h0m-8 8h0m-3-18h0m-7 22h0m-35-5h0m-5 0h0m-9-12h0m-89 9h0m97 31h0m3 0h0m2-9h0m3 6h0m1 2h0m3-10h0m7-9h0m14 22h0m1-17h0m2 8h0m2 7h0m0-4h0m7-4h0m1 2h0m1-13h0m4-1h0m1 14h0m1 2h0m3-7h0m3-6h0m1 3h0m8 12h0m7-10h0m7 8h0m0-9h0m1 5h0m2 1h0m17-13h0m3 12h0m4 3h0m3 3h0m5-12h0m3 11h0m9 2h0m18 3h0m12-20h0m2 5h0m3-2h0m7-3h0m4 3h0m2-6h0m1 8h0m3 0h0m4 13h0m13 0h0m0-17h0m1-4h0m3-1h0m0 9h0m3-7h0m1 12h0m5 0h0m3-7h0m3 13h0m11 1h0m1 6h0m-2-1h0m-1-2h0m-21 13h0m-2 7h0m-1-4h0m-9-10h0m-4 3h0m-4-6h0m-5 4h0m-3-3h0m-3 20h0m-1-5h0m-5-4h0m-12-7h0m-2 10h0m-18-5h0m-2-8h0m0-5h0m-7 7h0m-5-6h0m-4 11h0m-2 8h0m-4-18h0m-8 22h0m-6-19h0m-5 18h0m-17-10h0m-10-7h0m-17-5h0m-2 9h0m-1-5h0m-4 6h0m-1 13h0m-1-19h0m-1 1h0m-1 15h0m0-5h0m-4-16h0m-13 13h0m0-2h0m-4-1h0m-2-4h0m-3 6h0m-1 7h0m-1-11h0m-1-8h0m-1 9h0m-3 7h0m-1 5h0m-3-2h0m-3-17h0m-5 12h0m-57 4h0m-72 16h0m24-5h0m103-3h0m9 13h0m4-8h0m24-1h0m0 13h0m5-13h0m3-3h0m12 19h0m8-11h0m9-10h0m9 4h0m5 1h0m9 16h0m0-16h0m19 10h0m18-9h0m2-4h0m1 17h0m4-4h0m6-1h0m3 0h0m9-13h0m9 10h0m15-8h0m8-2h0m6 5h0m1 12h0m15-15h0m5 0h0m1 4h0m4 8h0m0-16h0m12 4h0m5-1h0m2 4h0m2 1h0m9 15h0m15-1h0m0-2h0m4-1h0m8 4h0m1-1h0m-27 7h0m-10 4h0m-1-8h0m-49 6h0m-27 10h0m-4 2h0m-3-19h0m-4 0h0m-8 19h0m-2-6h0m-1-11h0m0 9h0m-1-3h0m-10-1h0m-4 13h0m-2 3h0m-9-11h0m-14 5h0m0 6h0m-5-15h0m-2-6h0m-44 10h0m-5-6h0m-5-6h0m0 14h0m-4-14h0m-3 4h0m0 6h0m-5 1h0m-14-6h0m0 2h0m-2 17h0m0-4h0m-3-14h0m0 1h0m-8 10h0m-3-2h0m0-7h0m-19-2h0m-17 42h0m4-19h0m9-3h0m16 22h0m9-5h0m1 1h0m4-5h0m1-9h0m14 6h0m3 8h0m3-12h0m5 2h0m7-2h0m5-3h0m1 15h0m9-12h0m1 11h0m2 1h0m9-1h0m30 3h0m8-1h0m10 0h0m6-16h0m2 16h0m0-4h0m3-8h0m4 0h0m0-2h0m1 14h0m5 1h0m5-1h0m6 0h0m2-20h0m12 22h0m3-1h0m2-5h0m6 1h0m6 5h0m17-4h0m4 1h0m8 3h0m26 23h0m-3 1h0m-6 0h0m-17-2h0m-4 2h0m-1-4h0m-1-5h0m-4-2h0m-6-8h0m-12 1h0m-1 4h0m-8-5h0m-3 3h0m-1-3h0m-2 4h0m-1 6h0m0-1h0m-22-5h0m-15 0h0m-2 5h0m0-11h0m-4 17h0m-33-5h0m-31-12h0m-6 8h0m-8 8h0m-2-9h0m-1 0h0m-1 15h0m0-3h0m-1-9h0m-2-4h0m-2-8h0m-18 5h0m-6 9h0m-1 5h0m-8 4h0m-1-2h0m-1-7h0m-4-7h0m-11 0h0m-15-1h0m-3-1h0m-10 14h0m0 21h0m4 5h0m2-8h0m4 0h0m0-3h0m5 8h0m27-13h0m10 12h0m2 1h0m3-9h0m0 11h0m2-18h0m3 12h0m3 4h0m3-4h0m1-7h0m1 16h0m35-5h0m9 4h0m15-6h0m8-8h0m3-4h0m17-4h0m6 3h0m10-2h0m2 6h0m2 13h0m7-11h0m8-8h0m3 1h0m4 2h0m4 12h0m3-8h0m4 9h0m16-13h0m7-2h0m5 4h0m8-4h0m3 3h0m7-4h0m7 17h0m1-12h0m-8 40h0m-1-16h0m-4 14h0m-5-10h0m-9-5h0m-13 11h0m-3-3h0m-1 1h0m-13-11h0m-8 20h0m-2-18h0m-14 11h0m-17 6h0m-5-17h0m0 15h0m-2-11h0m-1 4h0m0 11h0m-3-2h0m0-10h0m-1-3h0m-4 3h0m-2-9h0m-2 7h0m0 11h0m-1-15h0m0 12h0m-1 3h0m-5-8h0m-5-3h0m-27 11h0m-12-2h0m-4 0h0m-3 1h0m-2-3h0m-8-3h0m-8-3h0m-4 9h0m0-6h0m-7 8h0m-10-13h0m-6-6h0m-8 9h0m-3 4h0m-5 5h0m-6-14h0m-5 0h0m-4-2h0m-8 0h0m-14 0h0m29 25h0m5 4h0m4-9h0m1 9h0m3-3h0m20-2h0m0 4h0m4 14h0m0-12h0m1-2h0m1-3h0m7 12h0m1-15h0m44 20h0m18-2h0m5-2h0m8 3h0m5 0h0m0-13h0m2 11h0m25-9h0m13 1h0m25 11h0m1-23h0m3 20h0m1-3h0m1-5h0m2 11h0m14-10h0m0 5h0m3-8h0m2 3h0m-7 11h0m0 3h0m-1-3h0m-8 7h0m-1 0h0m-2 3h0m-7 1h0m-2-6h0m-3-1h0m-1 0h0m-1 1h0m-6 10h0m-8 7h0m-2-9h0m-17-3h0m-32-9h0m-10 12h0m-3-5h0m-1 8h0m-1-15h0m-9 9h0m-36-8h0m-6 1h0m102 24h0" stroke="#d3141a"/><path d="M781 323h0m-108-4h0m49 64h0m-80 21h0m50-17h0m4 5h0m46-4h0m4 19h0m8-22h0m20 6h0m16 12h0m61-17h0m8 0h0m86 16h0m-75 25h0m-5-18h0m-9 1h0m-24 8h0m-3 5h0m-3 6h0m-181-20h0m-3 10h0m-14 31h0m7-4h0m9 9h0m23-19h0m167 2h0m2-3h0m5 0h0m6-2h0m27 6h0m-50 26h0m-263-9h0m-40 21h0m-45 7h0m90-2h0m67-1h0m255 17h0m-7 8h0m-25 21h0m-173-9h0m-6 9h0m-117-5h0m-28 1h0m-49 4h0m-141-2h0m-2 3h0m-9 14h0m267-4h0m20 9h0m18 2h0m31-6h0m31 6h0m36-20h0m75 13h0m7-6h0m36 11h0m1-10h0m2 14h0m7-12h0m3-3h0m2 4h0m12 7h0m0 20h0m-9-13h0m-1 12h0m-9 0h0m-5 5h0m-5-13h0m-17 11h0m-2-11h0m-101 10h0m-86 7h0m-9-19h0m-4 6h0m-1-5h0m-3 4h0m-30 11h0m-99-9h0m-176 35h0m7 2h0m18-5h0m7 3h0m11 1h0m0 0h0m6 0h0m3-8h0m173 6h0m8 1h0m8-1h0m3-1h0m9-10h0m16-2h0m45 12h0m2-17h0m4 7h0m13 7h0m1-9h0m18 6h0m8-7h0m3 0h0m4 16h0m15-13h0m13 11h0m3-20h0m51 20h0m8-9h0m3 7h0m1-3h0m18-4h0m49-10h0m3 11h0m1-13h0m9 23h0m2-10h0m1 11h0m2-15h0m2-9h0m2 5h0m-29 36h0m-8-1h0m-9-8h0m-3 9h0m-18-7h0m-5-9h0m-4 18h0m-12-15h0m-12 0h0m-9 12h0m-10-11h0m-9 14h0m-40-2h0m-3-3h0m-8-13h0m-48 0h0m-17 6h0m-3-1h0m0-5h0m-2 22h0m-2-21h0m-20 16h0m-5-11h0m-7-5h0m0 4h0m-6 14h0m-9-19h0m-3 3h0m-3-4h0m-13 21h0m-175-19h0m-6 21h0m-1-18h0m-8 6h0m-1-5h0m-6 1h0m0 8h0m-3-8h0m0 9h0m-3 6h0m-2 2h0m-2-4h0m-2-16h0m-7 1h0m-14 2h0m0-5h0m-2 15h0m-5-10h0m-4 5h0m0 3h0m-4-4h0m-3 4h0m-7-15h0m-6 20h0m-1-8h0m-6 7h0m-3-3h0m-3 1h0m17 27h0m1 0h0m2-3h0m0 4h0m5 2h0m1-1h0m15-9h0m7 6h0m9-3h0m5-6h0m4-8h0m28 4h0m11 4h0m3 11h0m0-19h0m7 19h0m42-3h0m38-17h0m66 11h0m15-3h0m44 13h0m2-1h0m21-10h0m4 0h0m30 2h0m6 0h0m5-3h0m2 13h0m2-4h0m20-14h0m16 0h0m24 13h0m11 2h0m2 3h0m5-10h0m4-13h0m5 3h0m8 13h0m39 2h0m10 2h0m13-2h0m16 0h0m27 3h0m117-12h0m-151 18h0m-5 0h0m-3 4h0m-31 16h0m-13-5h0m-6 2h0m-13-19h0m-12 7h0m-42 7h0m-10 0h0m-12 6h0m-56-8h0m-13 1h0m-7-2h0m-8 0h0m-5 5h0m-2-15h0m-8 3h0m-3 13h0m-163 4h0m-5-9h0m-3-1h0m-2-3h0m-8-5h0m-4-1h0m-1 3h0m-2 6h0m-7-1h0m-4-8h0m-2 2h0m-6 9h0m-4 5h0m-2-19h0m-6 1h0m-3 3h0m-1 4h0m-26-7h0m-15 5h0m-10-1h0m-3 3h0m-2 0h0m-4 2h0m-2 12h0m-2-1h0m-4-21h0m-2 2h0m0 12h0m-1 7h0m-1-18h0m0 12h0m-3-5h0m-4 8h0m-1-18h0m5 26h0m3 3h0m10 9h0m0-14h0m8 14h0m4-9h0m0 13h0m4-16h0m1 10h0m2-2h0m10-3h0m1 6h0m3-3h0m6 4h0m0 7h0m0 2h0m18-21h0m4 20h0m9-21h0m6 4h0m3 5h0m1 6h0m4-6h0m1-10h0m2 12h0m2-4h0m1-5h0m3 0h0m3 9h0m16-3h0m10-9h0m0 6h0m6 2h0m5 11h0m206-15h0m15-1h0m29-1h0m6-1h0m4 6h0m1 12h0m8 4h0m3 0h0m97 0h0m61-3h0m6 5h0m-11 3h0m-2 0h0m-45 2h0m-75 0h0m-7 9h0m-3-2h0m-6 4h0m-284-10h0m-3 3h0m0 4h0m-3 4h0m-8 5h0m-28-16h0m-6 16h0m-9 1h0m-4-8h0m-3 5h0m0-11h0m-9 2h0m-9 10h0m0-16h0m-1 15h0m-6-11h0m-5 5h0m-1 0h0m-22-10h0m-9 0h0m12 38h0m10-17h0m7 0h0m1 1h0m6 4h0m4-6h0m16 5h0m2 5h0m3 3h0m1-1h0m6-11h0m6-2h0m13 22h0m4-16h0m17 5h0m9 6h0m1 6h0m3-10h0m1-4h0m3 14h0m0-6h0m0 4h0m1 0h0m2-2h0m3 2h0m1-4h0m0 4h0m6 1h0m19-9h0m2 10h0m2-2h0m40-11h0m184-2h0m130 1h0m104 23h0m-38 10h0m-340-13h0m-4 0h0m-3 4h0m-25-3h0m-38 10h0m-4-7h0m-3-7h0m0 14h0m0-14h0m-3 16h0m-1-7h0m-1 3h0m-3 8h0m-7-9h0m-3 6h0m-10-2h0m-2-12h0m-9 9h0m0 9h0m-9-15h0m-24 4h0m-1 8h0m-1-17h0m-6 4h0m0-5h0m0 11h0m-1-3h0m-10 12h0m-4-2h0m0-1h0m-1-9h0m-6 7h0m0-2h0m-4-10h0m-1-3h0m-4 14h0m-2 4h0m0-1h0m-1-3h0m-5 5h0m-17-4h0m-7 2h0m-6-18h0m3 26h0m3 5h0m0 4h0m1-5h0m2 6h0m1-7h0m2-1h0m1 10h0m5-15h0m3 8h0m5 7h0m1-10h0m23-2h0m1 8h0m2-7h0m1 18h0m2-22h0m6 16h0m3-13h0m12 1h0m1 8h0m20-10h0m27 3h0m2 6h0m8-6h0m0 2h0m3-3h0m1 9h0m5-7h0m2 6h0m3 7h0m1-16h0m0 7h0m9 6h0m3 3h0m1-13h0m1-1h0m2 18h0m31-16h0m25 10h0m136 28h0m-124-7h0m-5-4h0m-62 6h0m-1-12h0m-4-2h0m-10 22h0m-2-24h0m-6 24h0m-1-11h0m-11 2h0m-9-4h0m-5 2h0m-3-2h0m-7 7h0m-12-8h0m-2 2h0m-1-10h0m-2 3h0m-1 6h0m-1-1h0m0 14h0m-3-11h0m0-12h0m-1 15h0m-5-15h0m-14 1h0m-6 3h0m-9-4h0m-5 5h0m-3 2h0m-1 3h0m0-5h0m-4 8h0m-2-10h0m-2 10h0m-1 7h0m0-12h0m-1-2h0m-3 3h0m-2 4h0m-1-10h0m-2 5h0m-1 14h0m-7-5h0m-1-13h0m14 23h0m19 18h0m2-2h0m1-5h0m6 2h0m1 4h0m22-21h0m6 21h0m9-1h0m8 2h0m3-13h0m1-4h0m4 1h0m3 6h0m1-11h0m1 2h0m11 5h0m0-2h0m3 6h0m6-9h0m1 8h0m0-3h0m1 15h0m1-18h0m2 19h0m0-24h0m1 3h0m3 2h0m7 7h0m4-4h0m9 11h0m1-1h0m4-17h0m1 13h0m17 3h0m2-1h0m41-2h0m9 15h0m-8 11h0m-44-14h0m-15 2h0m-29 18h0m-4-19h0m-2 17h0m-3-19h0m-2 15h0m-2 3h0m-3-8h0m-1 5h0m-1-7h0m-7 13h0m-5-15h0m-3 8h0m0 9h0m-2-13h0m0 11h0m-2-2h0m-6-3h0m-2-13h0m-1-1h0m-1 1h0m-6 1h0m0 9h0m-2 2h0m-3-4h0m-1-8h0m-1 15h0m-6-9h0m-4 6h0m-3-7h0m-3 7h0m-1-8h0m0 7h0m-5 8h0m0-15h0m-18-3h0m-2-3h0m-2 5h0m-1 23h0m0 1h0m7 12h0m3-16h0m7-1h0m35 5h0m15-5h0m17 1h0m63 9h0m11-10h0m4 1h0m28 16h0m7-5h0m7-1h0m-56 17h0m-41-1h0m-51-1h0m-37 17h0m72 24h0m1-3h0m-43 26h0m-11-12h0m16 19h0m2 5h0m7 1h0m1 10h0m2 2h0m2-9h0m4 11h0m10 1h0m20 24h0m-8-3h0m-2-4h0m-2-9h0m-1 3h0m-1-4h0m-2 9h0m-1-11h0m-6 5h0m-2-5h0" stroke="#f17c69"/><path d="M700 331h0m-6-5h0m0 1h0m-21-4h0m-5 7h0m-4 5h0m-10-7h0m-27 12h0m11 11h0m2-14h0m1 4h0m9 19h0m2-4h0m4-19h0m18 22h0m3-19h0m102-4h0m-130 39h0m0-5h0m-4 4h0m-3 4h0m-5-15h0m-16 19h0m-10-9h0m-3-4h0m-1 1h0m-2 1h0m-11 35h0m6-2h0m16-2h0m27-15h0m3 2h0m9 0h0m-29 29h0m-11 9h0m-2 2h0m-4 3h0m-1-4h0m-31-16h0m-2 12h0m-2-14h0m-36 22h0m-29 20h0m9-4h0m8-12h0m17-3h0m6 5h0m0 15h0m4-10h0m20 11h0m6-2h0m3-4h0m5-13h0m30 14h0m4 2h0m-8 26h0m-24-10h0m0 10h0m-3 1h0m-6-11h0m-9 12h0m-3-4h0m-4-2h0m-22 4h0m-7-5h0m0-16h0m-4 6h0m-1 10h0m-2 4h0m-2 1h0m-3-3h0m-11-1h0m-4 1h0m-4-13h0m-15 2h0m0 8h0m-177 4h0m27 27h0m140-20h0m28 9h0m2-2h0m14-7h0m5 1h0m12 7h0m1 1h0m1 8h0m1 1h0m0-15h0m3 3h0m8 8h0m16-4h0m6-9h0m1 7h0m6-6h0m24-2h0m-55 41h0m-3-5h0m-2 6h0m-7-1h0m-4-6h0m-2 3h0m-22-8h0m-10 13h0m-7-4h0m-8 2h0m-22 28h0m3-20h0m1 4h0m12 16h0m1-6h0m1-15h0m0 6h0m2 13h0m6-7h0m3-11h0m17 8h0m7 4h0m8-2h0m25-2h0m15-1h0m1-6h0m34 17h0m-17 12h0m-5 4h0m-24 8h0m-9-9h0m-1-6h0m-22 16h0m-6-12h0m-5-3h0m-4 15h0m0-2h0m-15-6h0m0 5h0m0 1h0m-4-4h0m-53-3h0m-2 5h0m-44 2h0m-1-1h0m10 24h0m0 4h0m7-1h0m16-15h0m4 0h0m20 16h0m6-12h0m9 1h0m0-8h0m4 19h0m11-14h0m0 9h0m1-10h0m10-4h0m3 1h0m1-2h0m4 6h0m4 2h0m7 4h0m1 7h0m1-8h0m1 2h0m1 2h0m2 0h0m2-3h0m0-3h0m1-9h0m0 1h0m7 16h0m15-10h0m22-8h0m-41 26h0m-8-3h0m-22 15h0m-2-11h0m-2 6h0m0 11h0m-1-3h0m-1-6h0m-1-10h0m-13 10h0m-4 1h0m-4-5h0m-2 12h0m-4 3h0m-3-4h0m-1-8h0m-5 6h0m-22-10h0m-16 8h0m-6-15h0m42 24h0m1 15h0m6-3h0m18-2h0m1 9h0m15-17h0m3 8h0m-104 50h0m47-11h0m33 40h0m-21 20h0m-7 25h0m-3 0h0m52 19h0m39 8h0m-77 14h0m-4 6h0m-1 5h0m-5-5h0m-85 7h0m25 18h0m63 0h0m18 7h0m1-4h0m30 0h0m1-15h0m29 17h0m5 0h0m-51 21h0m-8-10h0m-5-2h0m-18 0h0m-46 14h0m60 9h0m31 11h0m65 12h0m-125 21h0m-31-7h0m52 48h0m7 35h0" stroke="#78a9de"/><path d="M653 443h0m20 9h0m12-9h0m0 12h0m6-13h0m5-1h0m10-3h0m98 28h0m-58-3h0m-1-5h0m-6 17h0m-32 0h0m-4 2h0m-10-4h0m-4 2h0m-8-13h0m22 40h0m76 1h0m7-11h0m4-3h0m4 3h0m7-5h0m-83 18h0m40 41h0m6 5h0m3-2h0m8-2h0m2 0h0m5-1h0m1 9h0m0 1h0m-2 5h0m-4 4h0m-4-8h0m-2 2h0m-7-4h0m-1 1h0m-1 3h0m-6 18h0m-366 304h0m8 0h0m44 31h0m-13-12h0m-2-2h0m-6-3h0m-4 11h0m-3-2h0m-1-14h0m0 15h0m-1 5h0m-1-9h0m-3 8h0m-1 3h0m-2-11h0m-3 8h0m0-6h0m-6 4h0m-6 1h0m-4-7h0m-2 0h0m6 11h0m4 1h0m0 2h0m4-2h0m4 21h0m1-12h0m1 2h0m4-3h0m0-2h0m1 3h0m2 0h0m3-1h0m0 7h0m3-6h0m1 3h0m0 7h0m1-3h0m3-11h0m3 14h0m1-19h0m3 20h0m1-4h0m4-7h0m1 7h0m0-3h0m0-8h0m3 1h0m1 9h0m1 8h0m4-9h0m0-11h0m5 11h0m0 2h0m0-1h0m1 3h0m2 2h0m6 1h0m14 19h0m-1 4h0m-15-3h0m-3 4h0m-2-9h0m-1 9h0m-5-1h0m-3-1h0m-1-12h0m-2 7h0m0 4h0m-3-5h0m-1-5h0m-3 14h0m-2-7h0m-6-10h0m-1 11h0m-2-15h0m0 13h0m-1 1h0m-1-3h0m-1-9h0m-6 2h0m-6-3h0m25 23h0m3-1h0m3-1h0m6 3h0m1 10h0m5 3h0m2-5h0m6 8h0m6-4h0m2-7h0m0 9h0m12 0h0m0-16h0m3 5h0m2 5h0m1 7h0m2-1h0m10 6h0m5 0h0m7 10h0m-3-2h0m-9-5h0m-7 8h0m-2-4h0m-24-4h0m-6-1h0" stroke="#2a5db0"/><path d="M288 204h0m1-2h0m1 9h0m1 1h0m1-12h0m1 1h0m2 10h0m0 0h0m0 3h0m2-16h0m4 11h0m4 2h0m0-1h0m3 0h0m1-6h0m0 4h0m5 7h0m2-2h0m8 1h0m1-4h0m4 4h0m1-5h0m20 18h0m-5 3h0m-4-3h0m-4 5h0m-2-6h0m0-2h0m-2 10h0m-11-4h0m-3 4h0m-2-6h0m-2-8h0m-1 14h0m-1-7h0m-1 4h0m0-2h0m-3 9h0m-1-10h0m-1 6h0m-1 5h0m-1-9h0m-4-12h0m-2 3h0m-1 2h0m-3 0h0m-3 10h0m-2-8h0m-1-7h0m5 34h0m1-7h0m1 10h0m0 2h0m3 6h0m1-5h0m0-11h0m3-6h0m1 5h0m0 12h0m2 2h0m3-12h0m2 11h0m1-6h0m3 10h0m0-10h0m4 3h0m1-8h0m2 14h0m1-4h0m0-7h0m2 8h0m0-5h0m0 0h0m0 8h0m2-7h0m1-7h0m1 7h0m1-10h0m1 18h0m0-12h0m7-9h0m1 6h0m1-6h0m2 10h0m4-5h0m2-6h0m-20 23h0m-5 8h0m0 12h0m-11-18h0m0 5h0m-1 9h0m-4 10h0m4-1h0m0 37h0m-1-2h0m-3-8h0m-4 17h0m-8-2h0m-6-4h0m-2 4h0m-15 19h0m2 9h0m3-18h0m6 17h0m2-11h0m0-6h0m0 19h0m1-2h0m1-21h0m1 11h0m0 9h0m3-4h0m2 6h0m1-19h0m1 20h0m1-16h0m0-1h0m6 11h0m1-11h0m1 14h0m1-1h0m2-11h0m4 9h0m0-8h0m4 7h0m0-11h0m4 9h0m0 8h0m8-5h0m3 29h0m0-20h0m-2 15h0m-1-4h0m-1 0h0m-1-6h0m-2-5h0m-2 17h0m-1-9h0m-1-9h0m0 16h0m0-12h0m0 4h0m-2 8h0m-4-11h0m-3-4h0m-1 9h0m0 1h0m-2 11h0m-2-17h0m-1 2h0m-3 6h0m0-4h0m-1 9h0m0 2h0m-4-4h0m-3-3h0m0-6h0m-5-6h0m-3 3h0m-1-1h0m-1 11h0m0-15h0m-1 1h0m0 5h0m-1-3h0m-1-3h0m0 10h0m-4 3h0m-2 7h0m-2-16h0m-6 19h0m0 12h0m2 2h0m4 0h0m2 9h0m2-2h0m2-20h0m1 10h0m0 7h0m1-10h0m1-3h0m1 9h0m0-6h0m1 3h0m2-5h0m1 16h0m0-20h0m0 16h0m4-16h0m0 17h0m0-14h0m1 16h0m2-8h0m0-2h0m1-4h0m2 6h0m0-4h0m0 14h0m2-13h0m1-5h0m1 0h0m0 11h0m0-12h0m3 2h0m0 6h0m0 7h0m1-16h0m1 12h0m1 4h0m1-13h0m0 2h0m1 14h0m2 1h0m6-7h0m0 4h0m1-15h0m2 4h0m1 9h0m0 6h0m4-15h0m3 9h0m0-11h0m3 3h0m-9 26h0m-2-10h0m-1 18h0m-1 3h0m0-11h0m-2-8h0m0 8h0m-1 7h0m0-11h0m0 11h0m0 2h0m-2-12h0m0 0h0m-3 12h0m-2-15h0m-2 11h0m-2 3h0m0-17h0m-1 8h0m-1-7h0m-3 4h0m0 5h0m-2-12h0m-1 12h0m-2 0h0m-1-9h0m-2 11h0m-1 9h0m0-22h0m0 2h0m-2 2h0m0 1h0m-1-1h0m-1 0h0m-2-1h0m-2-3h0m0 7h0m-2-1h0m-1-4h0m-3 6h0m-1-4h0m9 35h0m4-3h0m1-12h0m1 1h0m1 4h0m1-6h0m2 3h0m0 6h0m1-1h0m1 3h0m0-9h0m1-1h0m1 7h0m0 0h0m1-8h0m0 1h0m1 6h0m0-1h0m2-6h0m0 4h0m1 9h0m0-1h0m3-9h0m1 4h0m2-3h0m5 0h0m0 31h0m-4 2h0m-1-5h0m-1-3h0m-1 1h0m-17-5h0m31 30h0m3-8h0m6 14h0m1 4h0m4-3h0m4 14h0m0-3h0m-10 2h0m-1 28h0m1 1h0m3 12h0m11-15h0m18 40h0m-8-6h0m-1 6h0m-28-5h0m35 16h0m3-5h0" stroke="#7b2a6c"/></g>
<circle cx="577" cy="426" r="9" fill="#dc050c"/>
<text x="592.3" y="432.8" font-size="18" textLength="40.7" lengthAdjust="spacingAndGlyphs">CD45</text>
<circle cx="577" cy="453" r="9" fill="#fb8072"/>
<text x="592.3" y="459.8" font-size="18" textLength="62.7" lengthAdjust="spacingAndGlyphs">CD45RA</text>
<circle cx="577" cy="480" r="9" fill="#1965b0"/>
<text x="592.3" y="486.5" font-size="18" textLength="40.0" lengthAdjust="spacingAndGlyphs">HSPC</text>
<circle cx="577" cy="506" r="9" fill="#7bafde"/>
<text x="592.3" y="512.3" font-size="18" textLength="55.7" lengthAdjust="spacingAndGlyphs">CD19lo</text>
<circle cx="577" cy="533" r="9" fill="#882e72"/>
<text x="592.3" y="539.5" font-size="18" textLength="35.3" lengthAdjust="spacingAndGlyphs">PreB</text>
<line x1="801.0" y1="83.0" x2="1273.0" y2="83.0" stroke="#e9e9e9" stroke-width="3"/>
<line x1="801.0" y1="200.6" x2="1273.0" y2="200.6" stroke="#e9e9e9" stroke-width="3"/>
<line x1="801.0" y1="317.3" x2="1273.0" y2="317.3" stroke="#e9e9e9" stroke-width="3"/>
<line x1="801.0" y1="434.4" x2="1273.0" y2="434.4" stroke="#e9e9e9" stroke-width="3"/>
<line x1="882.0" y1="79.0" x2="882.0" y2="549.0" stroke="#e9e9e9" stroke-width="3"/>
<line x1="1020.6" y1="79.0" x2="1020.6" y2="549.0" stroke="#e9e9e9" stroke-width="3"/>
<line x1="1159.3" y1="79.0" x2="1159.3" y2="549.0" stroke="#e9e9e9" stroke-width="3"/>
<text x="1057.6" y="54.0" font-size="24" text-anchor="middle" textLength="140.5" lengthAdjust="spacingAndGlyphs">ETV6-RUNX1</text>
<text x="785.0" y="92.9" font-size="19.5" text-anchor="end" textLength="11.9" lengthAdjust="spacingAndGlyphs">8</text>
<text x="785.0" y="210.5" font-size="19.5" text-anchor="end" textLength="11.9" lengthAdjust="spacingAndGlyphs">4</text>
<text x="785.0" y="327.2" font-size="19.5" text-anchor="end" textLength="11.9" lengthAdjust="spacingAndGlyphs">0</text>
<text x="785.0" y="444.3" font-size="19.5" text-anchor="end" textLength="25.0" lengthAdjust="spacingAndGlyphs">−4</text>
<text x="882.0" y="577.8" font-size="19.5" text-anchor="middle" textLength="25.0" lengthAdjust="spacingAndGlyphs">−5</text>
<text x="1020.6" y="577.8" font-size="19.5" text-anchor="middle" textLength="11.9" lengthAdjust="spacingAndGlyphs">0</text>
<text x="1159.3" y="577.8" font-size="19.5" text-anchor="middle" textLength="11.9" lengthAdjust="spacingAndGlyphs">5</text>
<text x="1032.0" y="613.7" font-size="26" text-anchor="middle" textLength="138.7" lengthAdjust="spacingAndGlyphs">UMAP dim.1</text>
<text font-size="26" text-anchor="middle" textLength="137.0" lengthAdjust="spacingAndGlyphs" transform="translate(727.8,237.5) rotate(-90)">UMAP dim.2</text>
<g transform="scale(.5)" fill="none" stroke-width="11.4" stroke-linecap="round" stroke-opacity="0.88"><path d="M2234 335h0m-7-4h0m-8 3h0m-2 2h0m-38-16h0m-1 10h0m-19 1h0m-24-19h0m-11 10h0m-79-1h0m14 37h0m41-12h0m8 3h0m22-1h0m0 5h0m8-3h0m42-6h0m28-6h0m3 12h0m1-8h0m10-3h0m3 16h0m13-3h0m28-4h0m5 4h0m1 8h0m3-13h0m3 0h0m3 4h0m13-4h0m7 10h0m4-5h0m6-3h0m47-4h0m2 1h0m2 11h0m1-14h0m1 11h0m2 6h0m2-6h0m3-3h0m10-2h0m5 2h0m22 11h0m-6 13h0m-1-8h0m-3 4h0m0-1h0m-1-7h0m-5 11h0m-1-13h0m-4 12h0m-10-11h0m-7-1h0m-23 16h0m-22-3h0m-11 0h0m-1 8h0m-4-14h0m-2 4h0m-6-7h0m-2-2h0m-12 18h0m-10-17h0m-4 1h0m-36-1h0m-21 14h0m0 0h0m-4 2h0m-12-18h0m-2 8h0m-2-10h0m-12 11h0m-1 13h0m-1-5h0m-8 0h0m-4-8h0m-22-7h0m-20 16h0m-15-4h0m-6-7h0m-136 34h0m63 0h0m43 4h0m54-19h0m16 9h0m13 8h0m3-10h0m1 2h0m7 6h0m12-9h0m19 9h0m13-2h0m14 3h0m10 4h0m5-13h0m13 10h0m11 3h0m12-16h0m5 3h0m13 12h0m0-5h0m1 2h0m13-3h0m0 3h0m3-6h0m6-2h0m1-9h0m2 10h0m0-6h0m1-1h0m3 3h0m2 5h0m14 6h0m5-4h0m2 5h0m2-11h0m8 10h0m3 1h0m0-6h0m14 5h0m8-4h0m22-8h0m26 4h0m3 2h0m1 2h0m2-7h0m1 11h0m6-8h0m12-10h0m4 4h0m4-1h0m2 12h0m11-14h0m8 14h0m7 27h0m-3-13h0m-5 13h0m-4 2h0m-8-18h0m-1 1h0m-9 5h0m-5-5h0m-4 17h0m-5 0h0m-12 2h0m-10-4h0m-8-18h0m-7 9h0m-8 0h0m-11 7h0m-11 5h0m-5-19h0m-1 7h0m-9-4h0m0 4h0m-9-5h0m-3 6h0m0-7h0m-2 2h0m-3 2h0m-6 13h0m0-6h0m-2-9h0m-2 15h0m-3 0h0m-1 2h0m-1-10h0m-12-7h0m0-4h0m-14 12h0m0-14h0m-2 7h0m-7 12h0m0-3h0m-1-10h0m-1-4h0m-1 20h0m-37-23h0m-1 6h0m-5 7h0m-6 6h0m-14 3h0m-24-3h0m-88-13h0m-70-4h0m-26 2h0m-3 12h0m-13 4h0m-2-6h0m-37-4h0m-63 17h0m98 6h0m2 2h0m3-2h0m111-3h0m6-3h0m4 8h0m4-11h0m97 9h0m6-2h0m57 4h0m2 11h0m7-13h0m7 5h0m2 3h0m10 6h0m1 1h0m4-10h0m4-1h0m2 6h0m2-13h0m2 5h0m2-7h0m0 2h0m9 10h0m12-1h0m18 2h0m3 5h0m4-12h0m1 6h0m1 0h0m4-2h0m0 6h0m1-14h0m0 8h0m0 3h0m1-4h0m2 3h0m1 5h0m0-3h0m0 3h0m1-19h0m3 21h0m0-2h0m1-16h0m1 9h0m6-3h0m2 10h0m4-7h0m3 8h0m1-6h0m1-9h0m3 4h0m1 3h0m0-4h0m1 7h0m1-5h0m2-8h0m0 5h0m14 3h0m4-4h0m9 0h0m6-1h0m5-5h0m0 1h0m4 17h0m2-10h0m7 11h0m4-12h0m9-1h0m5 10h0m0 30h0m-17-10h0m-8-13h0m-12 3h0m-4 11h0m-9-4h0m-2 10h0m-1-4h0m0-5h0m-4-2h0m-3-9h0m-8 10h0m-9-8h0m-8 15h0m-5-2h0m-1 3h0m0-19h0m0 2h0m-1 8h0m-4 11h0m-14-12h0m0-9h0m0 3h0m-5 3h0m-6 4h0m0-9h0m-4 15h0m-4-10h0m-9-3h0m-1 18h0m-3-7h0m-2-9h0m-1 3h0m-1-3h0m-1 7h0m0 10h0m-3-11h0m-2 11h0m-1-10h0m-3-2h0m-1 7h0m-5-4h0m-8-1h0m-1-8h0m-4 19h0m-2-2h0m-9-6h0m-1-12h0m-21 2h0m-2-5h0m-8 9h0m-2-2h0m-4 7h0m-13-11h0m-8-1h0m-6 2h0m-7-1h0m-31 3h0m-17 4h0m-184 13h0m-10-21h0m-126 21h0m-18 24h0m49 1h0m27 0h0m4-12h0m4 12h0m21-22h0m20-2h0m55 19h0m1-4h0m7-10h0m160 10h0m6-4h0m12-5h0m3 6h0m5 2h0m5-2h0m6 4h0m0-13h0m4 17h0m32-1h0m18 2h0m10 1h0m14-12h0m2 6h0m0 4h0m7 0h0m3-2h0m1-17h0m1 10h0m3 11h0m12-5h0m5-2h0m7-8h0m1 7h0m2-14h0m1 8h0m4 9h0m2 2h0m1-4h0m2 2h0m2 5h0m5-6h0m5 3h0m0-8h0m10 9h0m2-18h0m4 10h0m5 0h0m1-5h0m0-1h0m7 17h0m0-16h0m6 2h0m4 2h0m2 6h0m6-8h0m0 1h0m3 4h0m2 5h0m5-18h0m1 18h0m0-16h0m1 19h0m3-19h0m27 1h0m7 10h0m4-3h0m1 9h0m2-8h0m10 3h0m-23 16h0m-10 5h0m-1 5h0m-3-13h0m-1 16h0m-5-15h0m-2 15h0m-10-10h0m-7 12h0m-1-17h0m-1 0h0m-7 19h0m-2-3h0m-4-3h0m-1-7h0m0-3h0m-5 0h0m0 7h0m-2-1h0m-5 3h0m-1-15h0m-3 6h0m-1-4h0m-1 20h0m-1-17h0m-7 5h0m0 3h0m-2-2h0m-1 3h0m-11-3h0m-2-2h0m-4 6h0m-4-7h0m0 7h0m-3-10h0m-10 5h0m-1-11h0m-5 3h0m-8 11h0m-4-9h0m-9 18h0m0-14h0m-1-3h0m-1 3h0m-3-7h0m-4-1h0m-1 2h0m-8 13h0m-1 6h0m-1-16h0m-2-4h0m-3 5h0m-1 1h0m-1-2h0m-2-1h0m-2-5h0m-4 2h0m-12 18h0m-3 2h0m-5 1h0m-6-17h0m-3 11h0m-4 5h0m-6-22h0m-1 21h0m-18-7h0m0-10h0m-8 17h0m-5-7h0m-3-10h0m0-5h0m-4 13h0m-43 7h0m0 3h0m-29-20h0m-19 9h0m-28-11h0m-20 3h0m-38 18h0m-33-10h0m-7-11h0m-29 17h0m-21 1h0m-7 1h0m-16-9h0m-19-10h0m-17 7h0m-40 2h0m19 31h0m159 6h0m30-15h0m4 15h0m10-15h0m1 8h0m4-4h0m1-3h0m14-2h0m3 4h0m33-6h0m0-1h0m47 17h0m1-19h0m21 0h0m50 6h0m2 13h0m4-8h0m0-3h0m4-7h0m6 6h0m6-3h0m2-1h0m1 4h0m2 14h0m5-21h0m4 17h0m10 2h0m21-9h0m3-7h0m2 7h0m1 7h0m2-1h0m2-11h0m0 3h0m3-3h0m1 1h0m11 13h0m0-11h0m3 5h0m5-9h0m1-4h0m2 5h0m1-1h0m5 1h0m1 12h0m2-17h0m6 8h0m0 12h0m6-22h0m2 15h0m0-1h0m2 8h0m2-14h0m4-4h0m7 19h0m7-10h0m0-2h0m1-6h0m2 0h0m1 9h0m3 0h0m5 8h0m4 0h0m2-5h0m8-13h0m4 5h0m3 3h0m2 5h0m1 6h0m7-17h0m1-4h0m2-1h0m5 3h0m3 5h0m3 0h0m2 6h0m4-2h0m1-9h0m10 10h0m0 17h0m-14 4h0m-9 4h0m-2 9h0m-2-13h0m-6-11h0m-3 9h0m-3-6h0m0 9h0m-10 9h0m-8-12h0m-5-7h0m-9 15h0m-2 5h0m-1-14h0m-3 3h0m-1 2h0m-2 6h0m-2-14h0m-6 14h0m-2-4h0m-4-12h0m0 18h0m-2-2h0m-1-15h0m-3 5h0m-3 3h0m-2 2h0m-5-10h0m-11 1h0m-5 15h0m-1-20h0m-16 5h0m-12 0h0m-4 14h0m-6-6h0m-3-2h0m0-4h0m-8 11h0m-9-9h0m0-6h0m-6-3h0m-2 5h0m-5 11h0m-2-4h0m-2 4h0m0-16h0m-2 14h0m-1 9h0m-1-10h0m-2 5h0m-1-2h0m-32-13h0m-154-1h0m-72 0h0m-10 11h0m-20-4h0m-9 12h0m-11-15h0m-73 7h0m-25 4h0m-79 16h0m59 11h0m13-2h0m23 2h0m18-18h0m21 22h0m2-6h0m14 1h0m3-4h0m8-3h0m13-7h0m40 3h0m13-5h0m16 19h0m47-5h0m4-1h0m1 6h0m15-15h0m47 6h0m62 9h0m51 2h0m2-1h0m20-4h0m1-19h0m7 19h0m6-17h0m1 15h0m15-6h0m6 2h0m4-5h0m46 15h0m3-2h0m10-15h0m6 15h0m8 1h0m18-14h0m1 2h0m2-7h0m20 13h0m3-4h0m0-1h0m2-10h0m1 7h0m7 1h0m20 3h0m15 9h0m6-1h0m-15 4h0m-56 1h0m-2 21h0m-8-6h0m-4-14h0m-21 9h0m-27-8h0m-14 6h0m-6 10h0m-11-8h0m-8-6h0m-13-2h0m-33 2h0m-6-4h0m-21 0h0m0 7h0m-51 10h0m-3 5h0m-28-19h0m-41 18h0m-18-4h0m-11-18h0m-12 19h0m-15-15h0m-60 7h0m-7-8h0m-27 19h0m-39-5h0m-15-1h0m-18 6h0m-1-6h0m-191 9h0m107 14h0m3-1h0m9-2h0m27-9h0m19 18h0m25-19h0m19 8h0m3-2h0m7 15h0m12-6h0m7 4h0m7-1h0m9-7h0m2-2h0m56 0h0m14 11h0m45-7h0m14-12h0m18 5h0m6-3h0m10 10h0m14-12h0m74 16h0m5 1h0m81-14h0m4-2h0m0 6h0m5 4h0m2-13h0m4 5h0m6 11h0m4-3h0m7-13h0m6 9h0m43 2h0m4-4h0m4 15h0m5-14h0m4 8h0m11-8h0m7 5h0m20 2h0m4 5h0m0-10h0m3-1h0m2 12h0m2-16h0m13 31h0m-8 6h0m-10-19h0m-4 4h0m-4 10h0m-9-7h0m-4 15h0m-3-14h0m-1 2h0m-5 1h0m-7 10h0m-8-20h0m-11 10h0m-5 6h0m-1-9h0m-10 1h0m-3 9h0m-1-7h0m-10 3h0m-4 9h0m-21-22h0m0 0h0m-1 11h0m-4-2h0m0-6h0m0 2h0m-4-1h0m-6-2h0m-2 11h0m0 3h0m0-6h0m-1-2h0m-15 4h0m-1-7h0m0 3h0m-3 10h0m-7 3h0m-3-13h0m-9 4h0m0-12h0m-14 20h0m-8-15h0m-8-5h0m-3 9h0m-12 4h0m-11 1h0m-1-10h0m-28 16h0m-9-11h0m-9 9h0m-25 5h0m-65-19h0m-12 11h0m-4 8h0m-10-14h0m-11-8h0m-32 4h0m0 13h0m-2-18h0m-71 14h0m-3 6h0m-7 1h0m-25 2h0m-4-11h0m-9-8h0m-17-2h0m-8 5h0m-4 9h0m-9 6h0m-14-16h0m-5 11h0m-3-2h0m-2-2h0m-25-7h0m-2 11h0m-16-14h0m41 29h0m13-7h0m9 7h0m0 14h0m2-21h0m4 5h0m35 9h0m4 0h0m8-8h0m1-2h0m2 9h0m1 4h0m2-12h0m3-4h0m3 3h0m6 9h0m5-3h0m3-2h0m2-9h0m3 10h0m5-3h0m7 12h0m4-9h0m17 2h0m11 3h0m4 1h0m9-4h0m1-5h0m3 2h0m1-7h0m6 11h0m1 2h0m6 6h0m6-22h0m4 16h0m20 6h0m18-2h0m6-20h0m14 17h0m8-8h0m5 0h0m14 7h0m26 2h0m58-4h0m1-5h0m6 10h0m14-9h0m5-8h0m1 18h0m2-14h0m2 15h0m1-1h0m5-1h0m2-18h0m1 14h0m3-2h0m4-3h0m8 14h0m21-2h0m3-6h0m4 0h0m1-14h0m4 14h0m1-12h0m2 13h0m2 2h0m0-14h0m6 12h0m1-8h0m4 1h0m2 4h0m20-1h0m0 3h0m3-2h0m10-13h0m3 18h0m2-19h0m11 14h0m46-2h0m1 8h0m7-14h0m3 12h0m5 5h0m15-22h0m25 14h0m-20 23h0m-12 6h0m-4 3h0m-9-3h0m-19 2h0m-38-6h0m-2 5h0m-4 0h0m-2 0h0m-5 0h0m-3 1h0m-9 0h0m-4 0h0m-14 1h0m-14-9h0m-2 2h0m-5 3h0m-2-19h0m-15 11h0m-1 4h0m-2 4h0m-2 3h0m-10-9h0m-2 11h0m-11-1h0m-17-3h0m-10 2h0m-4-3h0m-1-7h0m-1 11h0m0-15h0m-10 7h0m0-9h0m-2 9h0m-2-10h0m0 6h0m-1 5h0m0-6h0m-3 3h0m-1 0h0m-2-2h0m-3 7h0m-2-2h0m-2 7h0m-7-1h0m-1-15h0m-1-4h0m-2 8h0m-44 9h0m-29-19h0m-21 18h0m-8-12h0m-3 11h0m-2-8h0m-4 0h0m0-5h0m-2-1h0m-4-3h0m-1 13h0m-5-9h0m-2-3h0m-2 22h0m0-16h0m-4 12h0m-2-19h0m-2-1h0m-1 5h0m-12 0h0m-6-2h0m-6 13h0m-3 7h0m-10-16h0m-5-5h0m-22 9h0m0-11h0m-6 9h0m-34-8h0m-16 20h0m-3-19h0m-15 20h0m-1-12h0m-5 0h0m-2 0h0m-5 8h0m-1-6h0m-1 5h0m-4-10h0m-12-6h0m-7 8h0m-2 2h0m-49 23h0m65-9h0m13 10h0m12 5h0m2-7h0m5-8h0m2 11h0m1-12h0m0 21h0m3-1h0m1 3h0m2-5h0m4 2h0m2-12h0m14-2h0m1-6h0m15 1h0m3 0h0m6 20h0m1-11h0m4 12h0m49-21h0m20 12h0m1-11h0m2-2h0m1 7h0m4 16h0m9-5h0m4-5h0m0-1h0m0-9h0m4 5h0m2-6h0m19 1h0m11 7h0m4 0h0m1 4h0m1 3h0m1-5h0m17-2h0m10-1h0m2-8h0m9 14h0m3 3h0m34-6h0m1-10h0m7 21h0m1-6h0m3 3h0m1-17h0m11 1h0m1 2h0m0 4h0m4-7h0m4 2h0m0 2h0m6 6h0m3-12h0m4 10h0m3 6h0m20-14h0m8 15h0m4-15h0m1 15h0m8-11h0m6 2h0m4-7h0m8 8h0m3 7h0m1-4h0m2 9h0m1-4h0m5-4h0m3 7h0m11-3h0m3 3h0m1 0h0m1-3h0m3 0h0m1-6h0m1-6h0m2 8h0m4-13h0m1 17h0m6-18h0m8 22h0m18-5h0m2 5h0m4-5h0m3 5h0m8 0h0m6-8h0m0-11h0m8 5h0m5-2h0m1-3h0m3-3h0m11 17h0m5-8h0m6 14h0m-76 5h0m-2 20h0m-4-3h0m-2-14h0m-17-6h0m-3 6h0m-10 6h0m-2-1h0m-4-2h0m0 11h0m-2 0h0m0-20h0m-5 14h0m0-9h0m-1 5h0m-1 7h0m-7-18h0m0 22h0m-9-21h0m-22 0h0m-6 6h0m-3 1h0m0 8h0m-4-9h0m-5 1h0m-2 3h0m-2 1h0m-1-8h0m-1-1h0m-2 7h0m-8 14h0m-1-20h0m-2-3h0m-2 19h0m-83 2h0m-15-21h0m-14 21h0m-6-3h0m0-16h0m-2 12h0m-3-14h0m-2 22h0m-1-11h0m-33-4h0m-4 2h0m-5-6h0m-6 14h0m-2 4h0m-13-3h0m-18 2h0m-11-9h0m-24-11h0m-11 23h0m-5-5h0m0-1h0m-13 6h0m-1-15h0m-11 1h0m-10 4h0m-9-13h0m-1 7h0m-8 5h0m-1 9h0m-127 20h0m142 4h0m1-12h0m3-8h0m13 10h0m12 10h0m2-1h0m19-10h0m13-5h0m23-1h0m5 17h0m13-22h0m4 1h0m2 17h0m19-1h0m5 3h0m3-8h0m2 6h0m21-12h0m7-2h0m2 13h0m1-12h0m1 18h0m5 0h0m11-20h0m1 17h0m15-9h0m0 4h0m2 9h0m1-19h0m10 4h0m1 2h0m3 10h0m53-10h0m2-7h0m10 17h0m3-3h0m3-11h0m9-4h0m4 7h0m3-2h0m1-3h0m1 10h0m7 5h0m2-12h0m4 0h0m0 2h0m2-4h0m1 11h0m4 0h0m2-7h0m0 7h0m8 1h0m4 6h0m1-12h0m1 5h0m3-2h0m1-3h0m15-2h0m5-2h0m6-7h0m4 17h0m3-4h0m5-6h0m4-2h0m20 1h0m32 8h0m6-5h0m-95 19h0m-1 4h0m-3 0h0m-10-5h0m0 14h0m-1-11h0m-2-7h0m0 15h0m-5-4h0m-1-2h0m-2 2h0m-2 5h0m0 1h0m-3-1h0m-4 0h0m-2 4h0m-12-6h0m-24-13h0m-61 21h0m-12-2h0m-3-13h0m-18-2h0m-11 13h0m0-18h0m-2 19h0m-6-8h0m-10 12h0m-3-10h0m-4-5h0m-23-4h0m-44-3h0m-4 1h0m-18 21h0m-39-12h0m-1 5h0m-1-5h0m-1-4h0m-1 13h0m-2-9h0m-16-4h0m-6 17h0m-89-21h0m-69 3h0m118 27h0m39-6h0m0 12h0m37-10h0m4 13h0m5-2h0m1-10h0m15 17h0m6-8h0m2-9h0m1 15h0m1-18h0m2 17h0m2-17h0m6 6h0m35 4h0m3-13h0m16 23h0m19-5h0m3 5h0m7-4h0m3-6h0m1 8h0m0-2h0m1-19h0m8 5h0m3 1h0m4 12h0m3-17h0m2 9h0m1 3h0m10 0h0m9-6h0m4 14h0m3-11h0m3-3h0m9 9h0m1 7h0m1-4h0m0-14h0m4 35h0m-4 8h0m-19-18h0m-3 10h0m-8 7h0m0-18h0m-3 7h0m-2 6h0m-2-14h0m-16 5h0m0 15h0m-2-17h0m-9-1h0m-4 1h0m-8-5h0m0 19h0m-16-8h0m-6 4h0m0 6h0m-5-7h0m-1-7h0m-1 1h0m-4-2h0m-29-6h0m-12 4h0m-1 1h0m-8 7h0m-12-7h0m-24 3h0m-6-7h0m0 3h0m-4-1h0m-7 4h0m-9-1h0m-2 6h0m-2-11h0m-10 15h0m-23-6h0m-55 12h0m-17-14h0m-13 15h0m22 17h0m77 0h0m22-7h0m3-10h0m5 19h0m4-1h0m7-15h0m1-1h0m3 16h0m5-10h0m42 4h0m4 1h0m1 7h0m10 0h0m4-3h0m9 4h0m14-5h0m20-15h0m52-2h0m2 11h0m7-1h0m42 10h0m-37 19h0m-47-4h0m-28 3h0m0 1h0m-9-8h0m-14-6h0m-8 0h0m-7 20h0m-4-1h0m-6-5h0m-23 5h0m-1 2h0m-4 1h0m-1-5h0m0 1h0m-1 4h0m-11-10h0m-11-8h0m-13 10h0m-50 2h0m-2 6h0m-23 17h0m10 7h0m16-13h0m2-3h0m25 5h0m3-9h0m5 13h0m5 2h0m1-10h0m12 9h0m14 5h0m3-3h0m4-4h0m1-9h0m1 4h0m9-10h0m8 21h0m3-1h0m1-11h0m12 9h0m4-9h0m12-2h0m1-4h0m31 2h0m1 19h0m8 0h0m2-7h0m17-11h0m4 0h0m5 17h0m3-11h0m5-8h0m55-2h0m5 45h0m0 1h0m-34-7h0m-29-7h0m-4-1h0m-2 13h0m-19-3h0m-5-4h0m-10 7h0m0-18h0m-1 1h0m-6-2h0m-14 19h0m-2-7h0m-26-1h0m-8 5h0m-2-16h0m-2 10h0m0-12h0m-3 3h0m-1 9h0m-1-9h0m-7 17h0m-12-19h0m-19 16h0m0-5h0m-6-2h0m-3 7h0m-5-2h0m-14 7h0m-8-4h0m-8-10h0m-7-3h0m-7 18h0m-3-24h0m-2 19h0m-5 20h0m2 1h0m8-1h0m10-5h0m3-6h0m6 3h0m7-2h0m23 4h0m6-5h0m28 13h0m6-5h0m4-2h0m3 11h0m10 0h0m12-2h0m4-12h0m0 11h0m5-5h0m2-5h0m4 9h0m3 0h0m7 5h0m7-6h0m22 0h0m9 5h0m2-3h0m8-13h0m5 0h0m26 11h0m3-12h0m1 5h0m0 12h0m0-4h0m1-9h0m17 5h0m2 0h0m3 4h0m3 12h0m-4 6h0m-1 7h0m-6-13h0m-1-5h0m-1 20h0m-8-9h0m-10 5h0m-22-15h0m-11 22h0m-2-16h0m-2-4h0m-21 1h0m-3 13h0m-32-16h0m-12 11h0m-2-8h0m0 14h0m-18 1h0m-1-10h0m-3 14h0m-20-15h0m-3 0h0m-10 7h0m-5 4h0m-8-9h0m-3 11h0m-8-21h0m-2 3h0m-23 10h0m-4-13h0m-10 13h0m-1 5h0m0-1h0m10 8h0m7 0h0m5 4h0m2-4h0m50 11h0m3-8h0m2 1h0m6-1h0m1 3h0m20 2h0m3 2h0m2 11h0m3-1h0m14-21h0m9 1h0m1 9h0m10 2h0m25-1h0m10 1h0m2 2h0m4-6h0m7-2h0m12-3h0m32 1h0m-32 26h0m-10 3h0m-2 4h0m-20 3h0m-1 6h0m-11-11h0m-4 4h0m-3-5h0m-1 10h0m-2-14h0m-5-1h0m-5 0h0m-4 9h0m-7 2h0m-7 5h0m-1-5h0m-46-10h0m-7 2h0m-3-6h0m-22 2h0" stroke="#d3141a"/><path d="M2098 320h0m7 21h0m0 1h0m40 11h0m59-5h0m197 11h0m-251 12h0m-15-7h0m-46 3h0m-42 7h0m-52 8h0m19 13h0m13 12h0m5-4h0m3-2h0m34-16h0m14-1h0m77 10h0m16 11h0m-10 23h0m-1-8h0m-1 7h0m-2 1h0m-7-19h0m-54 4h0m-42 10h0m0-7h0m-3 4h0m-1-1h0m-5-6h0m-7 2h0m-3 11h0m-2-6h0m-4-1h0m-1 1h0m0-1h0m0 6h0m-1-2h0m-3-6h0m0 3h0m-3-3h0m-1 2h0m-8-10h0m-2 18h0m-4-2h0m-5-13h0m-71 12h0m77 28h0m1-9h0m1 4h0m6-7h0m4 1h0m2-9h0m0 10h0m7-7h0m7 0h0m6 3h0m87 0h0m27 6h0m7-12h0m39 13h0m5 5h0m3-2h0m4 5h0m8-3h0m2 12h0m-4 6h0m0 10h0m0-19h0m-1 14h0m-1-15h0m-2 6h0m-1-3h0m-1 8h0m-3 4h0m-2-12h0m0 4h0m-2-9h0m-1 22h0m-2-17h0m-202 3h0m-4 0h0m-107 7h0m-38 20h0m337 1h0m27-10h0m22 42h0m-30-19h0m-113 16h0m-2-3h0m-4-4h0m-9 11h0m-16 2h0m-1-1h0m-2-10h0m-6 11h0m-2-13h0m-1 13h0m-2-21h0m-1 15h0m-4-15h0m-2 10h0m-9-11h0m0 1h0m0 16h0m-14-6h0m-18-7h0m-2-2h0m-3 14h0m-1-7h0m-119 7h0m-38 0h0m-91 28h0m126 2h0m62-13h0m20-7h0m32 0h0m8-1h0m13 17h0m3 0h0m1 1h0m0 3h0m1-6h0m2-13h0m0 20h0m2-14h0m3-7h0m4 6h0m0 9h0m0-12h0m3 10h0m5 6h0m2-13h0m7 1h0m10-5h0m3 4h0m4 9h0m0-17h0m2 15h0m3-13h0m8 9h0m2 2h0m6-10h0m6-1h0m6 6h0m1 2h0m1 5h0m7-6h0m2 5h0m0-2h0m1-10h0m2 18h0m0-2h0m1-11h0m2-4h0m12 8h0m1-4h0m50 1h0m6-1h0m15-8h0m18 0h0m6 29h0m-16-3h0m-1 18h0m-47-12h0m0 8h0m-9 4h0m-7-11h0m-4-5h0m-3 10h0m-17 6h0m-4-2h0m-8 2h0m-3 3h0m-1 1h0m-1-15h0m0 6h0m-6-3h0m-12 3h0m-4 8h0m-7-22h0m-6 12h0m-6 8h0m-18-14h0m-10-2h0m-11-4h0m-4 4h0m-24 10h0m-5-3h0m0-6h0m-1 11h0m-2 1h0m-5 1h0m-7 0h0m-3 0h0m-3 4h0m-67-14h0m-69 5h0m-157 34h0m165-18h0m14-6h0m41 7h0m63 16h0m12-17h0m1-1h0m6 5h0m1 8h0m0-7h0m1 13h0m4-4h0m2-15h0m3-2h0m10 9h0m0 6h0m0 6h0m11-19h0m1 4h0m9-1h0m11 5h0m0 9h0m2-19h0m11 13h0m7-5h0m6-1h0m3 5h0m6 2h0m4-16h0m6 6h0m3-5h0m3 10h0m6 12h0m4-3h0m9-20h0m3 4h0m2 3h0m4 2h0m1-8h0m2 13h0m4 0h0m0-5h0m1-8h0m6 18h0m5-16h0m5 5h0m7 7h0m5-16h0m1 12h0m20-10h0m14 20h0m9-7h0m0 2h0m1 2h0m6-3h0m1-12h0m13-2h0m4 3h0m3 4h0m4 9h0m1 7h0m-14 20h0m-8-19h0m-1 19h0m-10-18h0m-4 4h0m-19-7h0m-12 3h0m-1-3h0m-24 9h0m-13 4h0m-5 10h0m-7-4h0m-6 0h0m-3-2h0m-1-4h0m-4-4h0m-3 14h0m-2-4h0m-2 5h0m-4 0h0m-2-23h0m-4 16h0m-5-1h0m-5-10h0m-4 6h0m-5 5h0m-1-9h0m-3-7h0m-31 13h0m-1 1h0m-8-13h0m-7 13h0m-5 5h0m-4-4h0m-4-13h0m-3 1h0m0 1h0m-5-2h0m-15 11h0m-39 0h0m-153 4h0m-14-7h0m-1 7h0m-22-11h0m-18 9h0m-3-10h0m-15 7h0m-15-1h0m0-10h0m-13 10h0m-7 32h0m12-5h0m18-5h0m0 10h0m33 0h0m1-6h0m0 9h0m0-7h0m1 8h0m1-12h0m17-7h0m4 19h0m16-20h0m4 2h0m29-1h0m163-4h0m21 1h0m2 10h0m3-2h0m0 4h0m1-2h0m5 1h0m2-5h0m3-7h0m5 13h0m13-8h0m4 11h0m4-17h0m4 3h0m20 20h0m10-3h0m5 2h0m2-8h0m3-11h0m4 21h0m5-6h0m2-3h0m29-13h0m3 6h0m2-6h0m13 20h0m0 0h0m1-16h0m3 18h0m4-2h0m23 0h0m3-4h0m3-4h0m0-6h0m5 14h0m23-6h0m8-2h0m0-6h0m1-3h0m10 11h0m5-2h0m3 2h0m5-2h0m2 1h0m5 2h0m2 19h0m-24-9h0m-9 0h0m-17 14h0m-6-9h0m0 2h0m-1 0h0m-2 5h0m-2 5h0m0-7h0m0-6h0m-2 14h0m-1 3h0m0-1h0m-6-15h0m-2-1h0m-1 8h0m-8-9h0m-8 0h0m-1-5h0m-3 11h0m-2-5h0m-4-2h0m0-4h0m0 10h0m-1 5h0m-3 3h0m0-15h0m-7-1h0m-2 2h0m-4 16h0m-2-13h0m-2 4h0m-2 3h0m-4 3h0m-14-13h0m-4-4h0m-3 14h0m-6-7h0m-5-3h0m-1-2h0m0 4h0m-5 1h0m-3 1h0m-4 6h0m-3-13h0m-1 5h0m-1 5h0m-1-10h0m-6 11h0m-7-9h0m-38 11h0m-8 3h0m-9-6h0m-66-11h0m-123 20h0m-3-6h0m-9-8h0m-5-1h0m-3 7h0m-3 8h0m-4-13h0m0-1h0m-2 13h0m-1-20h0m-44 2h0m-2 0h0m-2 21h0m-5-14h0m-5 1h0m-4-4h0m-7 0h0m0-2h0m-3 13h0m-1-5h0m0 7h0m-2 2h0m0 1h0m-3-5h0m-2-10h0m-3-1h0m-21 8h0m-2 5h0m8 13h0m23 0h0m0-3h0m6 0h0m2 13h0m1-10h0m5-4h0m3 0h0m0-2h0m4 3h0m5 17h0m21-3h0m9-3h0m16 2h0m2-12h0m31-4h0m1 5h0m22 14h0m170-20h0m6 17h0m12-13h0m6-1h0m54 13h0m4 5h0m11-22h0m11 8h0m6-7h0m14-1h0m9 12h0m6 6h0m1-17h0m2 12h0m2-1h0m1 4h0m12-2h0m13-14h0m6 5h0m2 6h0m3-9h0m8 3h0m-71 36h0m-5 3h0m-4-2h0m-63-18h0m-196 24h0m-12-2h0m-2-10h0m-1-3h0m-19 8h0m-1 7h0m-8-1h0m-7-10h0m-4 6h0m-1-2h0m-4-5h0m-3 8h0m-1-7h0m-2 0h0m-4 9h0m-2-2h0m-1 2h0m-3-9h0m-1 4h0m-2 7h0m-2-17h0m-2 7h0m0 4h0m-1-5h0m-9 4h0m-1-14h0m-5 14h0m-1 2h0m-6 0h0m-3-17h0m-1 8h0m-4 7h0m-6 0h0m-3 7h0m-4-10h0m-4 0h0m-10 3h0m-8-12h0m-4 2h0m-3 4h0m16 20h0m3-2h0m1-1h0m4 18h0m1-9h0m5-6h0m16 3h0m13-8h0m4 15h0m2-17h0m3 12h0m4-5h0m1 13h0m2 0h0m2 2h0m0-18h0m1 19h0m0-7h0m2-11h0m0 15h0m1-2h0m1-9h0m0-7h0m2 12h0m3-4h0m6 5h0m14-8h0m2-1h0m1-1h0m15 18h0m16-4h0m49-1h0m6 1h0m3-4h0m14-2h0m6-1h0m271 14h0m-231 14h0m-27-10h0m-2 5h0m-16-6h0m-20-3h0m-4 16h0m-15-3h0m-10 5h0m-2-4h0m-13-11h0m-3 14h0m-9-14h0m0-4h0m-6 22h0m-6-5h0m-5-8h0m-7-7h0m-7 0h0m-7 8h0m-10 7h0m-6-5h0m-3-9h0m-7 7h0m0 5h0m-1-2h0m-4 9h0m-18-19h0m-3 4h0m-1 12h0m-5-2h0m-7 4h0m-2-6h0m-3-3h0m4 13h0m4 21h0m1-1h0m4-6h0m6-3h0m4-6h0m1 5h0m1-10h0m3 13h0m6-1h0m1-4h0m2 3h0m2-6h0m1-5h0m5 11h0m2 1h0m10-14h0m6 20h0m36-5h0m1-1h0m4-2h0m0 11h0m4-15h0m0 1h0m0 8h0m2-1h0m4 2h0m0-1h0m3-16h0m3 6h0m0 3h0m3 9h0m3 3h0m0-8h0m1 4h0m3-18h0m2 9h0m1-4h0m2-4h0m2 16h0m5 3h0m13-3h0m16-16h0m1 16h0m5-10h0m24 2h0m307-1h0m-117 23h0m-187 5h0m-3-3h0m-39 13h0m-2-1h0m-6-20h0m-20 22h0m-14 0h0m-20-2h0m-4 2h0m-5-14h0m0 3h0m-1 4h0m-2-8h0m-1 16h0m-2-23h0m-1 4h0m-4 1h0m-4-4h0m-12 9h0m-4 10h0m-19-18h0m-4 2h0m-4 8h0m-2-2h0m-6 7h0m-7-2h0m-7-4h0m-5 5h0m16 13h0m1 13h0m4-3h0m2 1h0m4-3h0m9 9h0m1-1h0m0-10h0m0-8h0m3 6h0m1 9h0m4-10h0m1 9h0m4-14h0m15 7h0m7 4h0m0 7h0m1-1h0m1-9h0m9 8h0m4 2h0m3-3h0m2-7h0m28 0h0m1-10h0m1 4h0m1 7h0m2 1h0m3 2h0m4-6h0m3-3h0m2-3h0m16 6h0m2 3h0m5-4h0m42 4h0m2-12h0m15 3h0m169 15h0m-148 29h0m-8-18h0m-19 2h0m-4 10h0m-38-3h0m-7 6h0m-9-20h0m-1 7h0m-4 10h0m0-15h0m-2 18h0m-11-20h0m-2 2h0m-1 12h0m0-9h0m-4 12h0m0-3h0m-5-4h0m-34 7h0m-5-10h0m-1 14h0m-9-19h0m0 0h0m-3 20h0m-5-16h0m-3-1h0m-9 16h0m-1 1h0m-10-2h0m-12-3h0m-18-3h0m-4-13h0m23 30h0m13 7h0m14 1h0m15 0h0m25-7h0m3 5h0m10 7h0m2-3h0m25 2h0m0-19h0m42 23h0m11-21h0m206 5h0m-217 27h0m-14-8h0m-47-1h0m-6 3h0m-1 15h0m-1-8h0m-1 8h0m0-2h0m-3-1h0m-7-3h0m-6-10h0m-14 12h0m0 5h0m-12-1h0m-6 0h0m-7 2h0m-18-18h0m-7-1h0m19 22h0m15 10h0m5 1h0m11-5h0m1-4h0m2 2h0m22 15h0m7-19h0m0 0h0m0 1h0m189 29h0m-191 16h0m-4-7h0m-1 3h0m-12 4h0m-5-9h0m-1-8h0m-7 30h0m17-7h0m7-4h0m8 27h0m-3 16h0m-3-6h0m-3 0h0m-10-9h0" stroke="#f17c69"/><path d="M2070 312h0m9-2h0m16-2h0m15 3h0m36 12h0m-23 7h0m-16-17h0m-9 2h0m-2 4h0m-6-5h0m-8 2h0m-26-4h0m-8 1h0m-4 14h0m-2 7h0m0-5h0m-1-7h0m-18 8h0m-3-2h0m0-2h0m0-1h0m-35 26h0m2 1h0m18 1h0m4-1h0m2 3h0m0-9h0m3 11h0m1-5h0m2 7h0m36 0h0m26-13h0m1-10h0m12 11h0m3 4h0m2 2h0m0 3h0m4-11h0m1 12h0m2-2h0m19-4h0m1-7h0m4 9h0m4 0h0m5-7h0m10 3h0m0 4h0m4-3h0m3-3h0m7 1h0m3-6h0m4 3h0m-77 23h0m-1 3h0m-1 1h0m-9-2h0m-14 0h0m-1-10h0m-3 22h0m0-9h0m-6 4h0m-4-8h0m0 10h0m-1-14h0m-2 9h0m-2-5h0m0-1h0m-3 15h0m-1-9h0m0-4h0m-2-6h0m-1 3h0m-9 13h0m-3-15h0m-20-4h0m-2 4h0m-2-3h0m-1 3h0m-8 3h0m-13-7h0m-2 21h0m-8 0h0m-1 2h0m-12 16h0m24 6h0m2 2h0m3-9h0m6 0h0m1 5h0m8-19h0m8 11h0m5-3h0m6 3h0m0-7h0m9 0h0m14-4h0m2 22h0m1-17h0m29-6h0m1 1h0m-21 33h0m-4-7h0m-8-3h0m-2 3h0m0 7h0m-22 6h0m-10 5h0m-33-17h0m-8 18h0m-1-14h0m-2-4h0m-6 5h0m-4-1h0m-4 8h0m-16 5h0m-1-15h0m-1-1h0m-7 18h0m-38 11h0m1 4h0m15-9h0m4-3h0m2 18h0m3-18h0m5 19h0m7-14h0m1 3h0m2-3h0m1-5h0m1 13h0m14-8h0m18-2h0m4 5h0m1 6h0m2-11h0m1-3h0m0 0h0m3 8h0m1-3h0m8-4h0m2 2h0m2 8h0m14-3h0m5-6h0m2 4h0m4-3h0m4 4h0m13 12h0m-12 8h0m-1-3h0m-3 3h0m-3 1h0m0 14h0m-4-1h0m-4-17h0m-2 17h0m-22-17h0m-10 11h0m-11 4h0m-11-17h0m-10 5h0m-5 9h0m-5-3h0m-8 10h0m-2 2h0m-7-11h0m-9-4h0m-11 4h0m-1-7h0m-5-4h0m-23 19h0m-148 4h0m146 20h0m0-6h0m5-2h0m3-11h0m2 9h0m5-4h0m4 0h0m2-6h0m7 19h0m0-9h0m3 9h0m2-7h0m4 10h0m15 1h0m0-10h0m5 6h0m3-7h0m1-4h0m0-4h0m3 10h0m5 8h0m1-15h0m1 1h0m6 1h0m4 11h0m0 4h0m1-21h0m14 17h0m2-12h0m5 4h0m3-9h0m8 11h0m1-2h0m5 4h0m4 0h0m5 5h0m12 0h0m-4 12h0m-1-4h0m-1 1h0m-8 6h0m-3-6h0m-3 8h0m-1-5h0m-8 4h0m-4-4h0m-7 2h0m-2-10h0m-2 15h0m-6 0h0m-6 8h0m-4-18h0m-1 16h0m0-7h0m0 2h0m-2 2h0m-1-6h0m-7-7h0m-2-5h0m-3 6h0m-5-1h0m-4 13h0m-2-11h0m-17 11h0m-1 0h0m-2-18h0m-2 18h0m-1 0h0m-1-17h0m-1 0h0m-2 21h0m-4-18h0m-5 11h0m-1-14h0m-1 22h0m-2-10h0m-6 7h0m-5-18h0m-1 19h0m-3-8h0m-1 3h0m-1 5h0m-1-20h0m-3 17h0m-2-15h0m-2 13h0m0 2h0m0-14h0m-12 35h0m2-11h0m5 12h0m3 6h0m3-1h0m13 2h0m9-18h0m4 14h0m1-12h0m3-5h0m3 10h0m3 9h0m4-21h0m20 23h0m9-23h0m13 3h0m2 14h0m1-17h0m2 4h0m8-1h0m4 11h0m6-6h0m4 13h0m11-4h0m0-14h0m-8 38h0m-4-16h0m-9 17h0m-5-16h0m-38 7h0m-2 6h0m-7-1h0m0 3h0m-7-2h0m-3-4h0m-11 6h0m-5 2h0m-4-18h0m-10 6h0m0-6h0m-2 10h0m-3-11h0m-3 18h0m-3-18h0m-2 23h0m-7-11h0m-5-13h0m-6 6h0m-3 17h0m-11-11h0m-12-1h0m-4 5h0m-3 6h0m-14-9h0m-21 5h0m-5 12h0m12-1h0m4 15h0m6-2h0m1-4h0m1-2h0m4 2h0m25-5h0m1 12h0m1-18h0m1 14h0m2-5h0m1 12h0m5-2h0m2-17h0m1 15h0m8-10h0m0 7h0m1 6h0m5-9h0m1 0h0m15-3h0m0-7h0m4 18h0m2-7h0m2-8h0m0 5h0m1 2h0m4 2h0m0 5h0m2 2h0m1-4h0m1-15h0m2 15h0m5-2h0m13 6h0m2-12h0m12-9h0m-16 35h0m-3 2h0m-2-6h0m-5-3h0m-1 5h0m-3-7h0m-1 8h0m0 2h0m-4-10h0m-7 14h0m-7-8h0m-5 13h0m-15-5h0m-3-3h0m-11-14h0m0 18h0m-37-4h0m-3-1h0m-120 13h0m22 8h0m38 11h0m84-18h0m4 2h0m0-6h0m4 6h0m3 0h0m2 5h0m2 8h0m3-14h0m12 1h0m2-5h0m1 18h0m22-9h0m1 9h0m-51 76h0m-25 11h0m67-1h0m27 25h0m-1 1h0m-62-7h0m-81-1h0m-5 5h0m80 17h0m29 8h0m2 13h0m4-16h0m11-5h0m27 13h0m16 15h0m-20 13h0m-21-15h0m-44 19h0m-24-18h0m-38 32h0m17 3h0m68-7h0m6 14h0m2-3h0m1-7h0m34-7h0m50 42h0m-64-14h0m-5-5h0m-8-3h0m-11 4h0m-3-4h0m-58 27h0m46 77h0" stroke="#78a9de"/><path d="M2298 402h0m11-18h0m10 2h0m-171 30h0m-9 6h0m-94 29h0m10 1h0m11-3h0m1-6h0m1 2h0m4-8h0m4 2h0m0 14h0m0-8h0m1-3h0m0 10h0m1-16h0m0 19h0m4-20h0m1 2h0m1 6h0m0 11h0m1-7h0m1-11h0m2 10h0m1-4h0m0 1h0m2-8h0m3 12h0m2-6h0m1 1h0m1 14h0m0-15h0m2-1h0m0-1h0m0-6h0m2 13h0m0 4h0m1-12h0m3 6h0m0 1h0m0 5h0m1-3h0m3-11h0m1 9h0m6-8h0m2 1h0m3 8h0m11 5h0m16 4h0m6-1h0m45 5h0m-6 6h0m-13 4h0m-4 5h0m-8 3h0m-5-18h0m-1 19h0m-1-19h0m-3 11h0m-5 4h0m-1-11h0m-9 10h0m-2-8h0m-4-4h0m-1 5h0m0-6h0m0 16h0m-1-14h0m-2 1h0m-1-7h0m0 20h0m-1 4h0m-2-15h0m-1 3h0m-1 1h0m-3 3h0m-1 5h0m-2-6h0m-1-5h0m-4-9h0m-1 4h0m-2 9h0m-1-11h0m-2 11h0m-3 1h0m0-12h0m-1-1h0m-3 1h0m-1 15h0m0-18h0m0 6h0m-2 6h0m-1 8h0m0-10h0m-2-3h0m-8 4h0m-2-11h0m-1 19h0m0 0h0m-1-17h0m-1 13h0m0 8h0m-1-2h0m-1-19h0m-3 7h0m-1 2h0m-1-4h0m-3 2h0m-1-1h0m0 6h0m-2-12h0m-1 6h0m0 14h0m-2-3h0m-1-14h0m-1-4h0m-1 18h0m-2-10h0m-3 4h0m-4 10h0m0-10h0m0 0h0m-1 8h0m0 2h0m-1-15h0m-1 13h0m-3-16h0m0 11h0m-1-7h0m-3 6h0m-1-3h0m-4-4h0m-2-7h0m-1 1h0m13 28h0m2-4h0m2 4h0m2 0h0m3-5h0m1 0h0m2-1h0m0 5h0m1-3h0m2 6h0m0 0h0m2-8h0m0 4h0m2-1h0m3 3h0m3-6h0m4 5h0m0 5h0m1 7h0m0 2h0m2-13h0m0 10h0m1-13h0m6-3h0m3 7h0m2 9h0m4-3h0m0-3h0m3 11h0m0-6h0m1 5h0m1-3h0m1-17h0m3 4h0m5 10h0m0 9h0m2-4h0m1-5h0m2 8h0m1 2h0m1-6h0m0-9h0m1-1h0m2-6h0m6 0h0m1 11h0m0 11h0m2-2h0m0 2h0m1-14h0m1 7h0m2-8h0m2-8h0m0 5h0m1 16h0m1-21h0m1 19h0m1-2h0m5-4h0m4-10h0m3 5h0m0 3h0m1 7h0m1-9h0m1 6h0m0 2h0m0-16h0m1 0h0m3 8h0m1 0h0m1 6h0m1 4h0m0-19h0m2 9h0m1 7h0m0-12h0m2 3h0m2 6h0m1 3h0m0-14h0m1 13h0m7-14h0m2 0h0m20 17h0m-2 13h0m-2-5h0m-3 7h0m-21-2h0m-15-8h0m-4 14h0m-5-13h0m-1 22h0m-5-20h0m0 14h0m-1 3h0m-4-18h0m0 0h0m-5 16h0m-2 2h0m-3-4h0m-6 4h0m-4 3h0m-6-4h0m-7-3h0m-20 5h0m-20 20h0m64-4h0m4-10h0m7 0h0m17 12h0m5 5h0m4 16h0m-1-8h0m-26 8h0m-7-2h0m-35 3h0m-321 322h0m14 19h0m-4-5h0m-2 1h0m-5-10h0m0 4h0m-3 16h0m-2-6h0m-1-7h0m-9-1h0m15 29h0m12 1h0m1-15h0m0 20h0" stroke="#2a5db0"/><path d="M1680 198h0m0 16h0m7-8h0m6 2h0m20 9h0m-36 10h0m-7-5h0m12 29h0m14 33h0m0-17h0m-15 13h0m-26 69h0m2 5h0m4 51h0m29-16h0m2 5h0m4 3h0m-1 12h0m24 132h0m14 29h0m-28-15h0" stroke="#7b2a6c"/><path d="M2055 311h0m33-6h0m44 7h0m81 18h0m-32-17h0m0 15h0m-13-10h0m-4-2h0m-6-4h0m-20 0h0m-1 1h0m-2 3h0m-10 11h0m-95 32h0m26-4h0m29 3h0m5 1h0m27-13h0m4 11h0m12 0h0m37-13h0m35 11h0m19-11h0m1 5h0m9 10h0m1-13h0m6 11h0m3-6h0m7 0h0m2 3h0m4-2h0m9 6h0m0-2h0m7-14h0m7 17h0m0-6h0m1-7h0m1 2h0m1-2h0m2 6h0m1 4h0m9-6h0m5 2h0m1-3h0m1-3h0m0 1h0m1-2h0m5 10h0m0-9h0m52 4h0m5 6h0m3-7h0m17 6h0m14 1h0m4 0h0m0 2h0m-3 4h0m0 5h0m-2 9h0m-3-9h0m-3 8h0m-3-12h0m-5 6h0m-7-8h0m-8 2h0m-3 2h0m-1-4h0m-3 4h0m-6-1h0m-13 10h0m-5 2h0m-8 1h0m-5 1h0m-1-10h0m-5 12h0m-2-20h0m-20 12h0m-9 6h0m-3-1h0m-4 3h0m-19-20h0m-6 2h0m-14 19h0m-1-13h0m-17 13h0m-1-1h0m-9-3h0m-22-8h0m-5-2h0m-6 6h0m-3 6h0m-4-2h0m-2-7h0m-5 2h0m-2 3h0m-4-9h0m-27-1h0m-26 8h0m-27 7h0m-133 23h0m43 4h0m84-5h0m93 4h0m31-11h0m3-4h0m0-1h0m1 9h0m3 4h0m3-6h0m23 3h0m3 4h0m8 1h0m2-9h0m25-5h0m2 15h0m11-16h0m4-3h0m0 11h0m6 2h0m17-5h0m7 5h0m1-15h0m5 0h0m9 7h0m1-5h0m22 15h0m2 5h0m5-14h0m4 14h0m1-9h0m14 4h0m54-9h0m2-7h0m0 8h0m36-6h0m2 7h0m0-4h0m2 13h0m2-6h0m3 4h0m10 23h0m-6-15h0m-3 21h0m-1-15h0m-6 3h0m-3 9h0m-3-20h0m-2 12h0m-1 10h0m-2-18h0m-9 14h0m-47-11h0m-15 7h0m-2 5h0m-1-11h0m-1 8h0m-2 5h0m0-19h0m-3 12h0m-5 6h0m0-20h0m-2 23h0m-23-5h0m-6-11h0m-1 6h0m0-4h0m-2 4h0m-5 3h0m-2 4h0m-1-20h0m-12 0h0m-7 7h0m-1 0h0m-4 4h0m-2 10h0m-4-17h0m-5 17h0m-3-8h0m-4 10h0m-37-12h0m-49-9h0m-42 19h0m-47-12h0m-40 14h0m-7-23h0m-23 1h0m-8 19h0m-55-6h0m-33 32h0m16-21h0m13 11h0m25-9h0m11 4h0m109 1h0m1 12h0m37-11h0m21 15h0m0-8h0m28 8h0m4-13h0m12-8h0m1 4h0m15 6h0m52-8h0m5 8h0m1-12h0m0 21h0m3-20h0m1 22h0m0-3h0m0-7h0m7-1h0m1 0h0m1 3h0m1 1h0m0 2h0m1-6h0m6-11h0m1-1h0m3 10h0m2 10h0m10-19h0m1-1h0m11 21h0m4-10h0m1 1h0m6-1h0m5 4h0m3 3h0m4 5h0m2-5h0m5-15h0m8-1h0m1 17h0m0 3h0m1-1h0m2-22h0m6 14h0m1-13h0m1 8h0m0 14h0m3-5h0m1-2h0m1-3h0m2 6h0m4 0h0m0-1h0m1 6h0m4-11h0m0 1h0m1 4h0m3-18h0m2 22h0m8-13h0m1 5h0m2-4h0m3 8h0m12-15h0m17 1h0m7 18h0m3-5h0m4-3h0m1 4h0m0-14h0m1 18h0m5-5h0m2 6h0m1-8h0m2-11h0m1 15h0m1-7h0m4 5h0m-12 24h0m-3-3h0m-5-13h0m-1 16h0m-4-4h0m-1-6h0m0-5h0m-11 15h0m-6-12h0m-2 12h0m-1 1h0m-2-10h0m-1 3h0m-4 5h0m-2-4h0m0 7h0m-2-9h0m-8-4h0m-6 6h0m-4 9h0m-3-9h0m-5-7h0m-13 1h0m0-3h0m-1-1h0m-4 1h0m-1 2h0m-1 10h0m-1-12h0m-1 15h0m-8-9h0m0-6h0m-3 11h0m-3-2h0m-5-11h0m-8 18h0m-2-3h0m-3-7h0m-1-8h0m-3 7h0m0 16h0m-19-5h0m-5-10h0m-3 1h0m-6-5h0m-2 11h0m-2-4h0m0 8h0m-1-9h0m-4-1h0m-3 4h0m-2-1h0m-6-13h0m-16 3h0m-8 12h0m-4-6h0m-1 4h0m-3-4h0m-6 6h0m-5 0h0m-46 7h0m-9-14h0m-78-8h0m-96 19h0m-29-12h0m-1 14h0m-78-14h0m-34-1h0m-9-6h0m52 28h0m4 17h0m12-8h0m228 7h0m11-16h0m46 4h0m2 1h0m2 0h0m31 5h0m8 9h0m6 1h0m8-2h0m23-1h0m1-15h0m9 16h0m7-8h0m1-7h0m0 14h0m2-10h0m1 11h0m1-18h0m0-3h0m2 17h0m3-9h0m2-5h0m10 7h0m0-11h0m5 14h0m1 6h0m2-3h0m2-15h0m3 8h0m2 12h0m1-4h0m7 0h0m0 1h0m9-4h0m1-6h0m4 8h0m2-10h0m3 12h0m5-1h0m4 4h0m6 1h0m3-18h0m4-3h0m10 13h0m2-11h0m1-2h0m0 8h0m3-5h0m3 6h0m0-8h0m4 5h0m2 11h0m4-16h0m2 14h0m2-7h0m25-2h0m11 0h0m0-7h0m1 15h0m0 3h0m11-5h0m-7 12h0m-15 3h0m-11 3h0m-7-8h0m-5 8h0m-3 10h0m-1-9h0m0 7h0m-3-13h0m-1 12h0m-1 4h0m-1-19h0m0 13h0m-8 0h0m-3-5h0m-2 4h0m-6 7h0m-7-1h0m-3-15h0m-1 3h0m-3 3h0m0 12h0m-5 0h0m-3 1h0m-7-14h0m-2 12h0m-2-4h0m0-15h0m-7 9h0m-3-5h0m-2 8h0m-1-5h0m-2-4h0m-2 1h0m-1 8h0m-7-4h0m-1 7h0m-3 5h0m-1 0h0m-6 2h0m-12-2h0m-10-19h0m-2 1h0m-1 7h0m-1-4h0m-2 16h0m-2-7h0m-1-7h0m-2 5h0m-3-10h0m0 4h0m-3 2h0m-1-7h0m-2 2h0m-1-2h0m-8 15h0m0-6h0m-2 2h0m-5-11h0m-5 12h0m-2-4h0m-4-1h0m-1 6h0m-2 8h0m0-11h0m0 7h0m-4-13h0m-4-6h0m-36 23h0m-2-13h0m-4 9h0m-5-5h0m-3-10h0m0 6h0m-1 0h0m-1 5h0m-5-9h0m-36-5h0m-39 5h0m-50 0h0m-9 8h0m-17-6h0m-20 12h0m-8-18h0m-8 2h0m-10 0h0m-143-1h0m-13 2h0m-25 24h0m54 1h0m21 8h0m16 3h0m9-10h0m149 9h0m86 0h0m4-3h0m4 5h0m57-1h0m7-13h0m5 13h0m6-14h0m11 1h0m9 18h0m1-3h0m6-3h0m17-14h0m9-1h0m5 9h0m1-5h0m8-4h0m1 20h0m2-17h0m13 4h0m1-4h0m4 0h0m6 4h0m1 6h0m2-4h0m7-5h0m4 13h0m3-13h0m14 15h0m1 2h0m2-8h0m1-4h0m9 2h0m2-4h0m2-5h0m2 2h0m2 11h0m0 0h0m1-8h0m1 16h0m4-2h0m1-16h0m22 11h0m4 7h0m2-8h0m6-15h0m0 14h0m1-14h0m6 10h0m1 10h0m7-8h0m7 1h0m7 6h0m1-3h0m0 0h0m-6 18h0m-10-9h0m-19 3h0m-7 0h0m-3 13h0m-1 0h0m-7 0h0m-1-15h0m-3-3h0m-8 9h0m-1 3h0m-2 3h0m-1 4h0m-3 3h0m-1-5h0m0-4h0m-3-13h0m-2 13h0m-1-3h0m-1-9h0m-4 3h0m0 13h0m0-3h0m-1-6h0m-2-5h0m-3 18h0m-3-8h0m-10-10h0m-1 16h0m-3-4h0m-1-5h0m-1 7h0m0-10h0m-4 13h0m-3-11h0m-7-6h0m-1-2h0m-17 5h0m0 2h0m-5-3h0m-9 3h0m-10-4h0m0 9h0m-3-8h0m-3 0h0m-2 4h0m0-3h0m-6 9h0m-3 0h0m-1-8h0m-2 10h0m-1 6h0m-5-9h0m-3 5h0m-3-15h0m-2 20h0m0-10h0m-2-7h0m-3-5h0m-2 8h0m-7 0h0m0 9h0m-4 1h0m-2-3h0m-1-6h0m-52 9h0m-3-3h0m-83-1h0m-15 7h0m-43-20h0m-57 10h0m-4-4h0m-102 12h0m-144 13h0m35-4h0m18-6h0m11 22h0m75-20h0m10 22h0m36-15h0m14 2h0m22-3h0m9 15h0m4-13h0m6 10h0m4 1h0m14-1h0m48 1h0m26-1h0m51-8h0m51-4h0m1-6h0m2 12h0m2-10h0m5 15h0m52-1h0m3 4h0m6-9h0m3 6h0m9-19h0m16 8h0m3-5h0m3 5h0m0 11h0m11-16h0m2 3h0m38 18h0m17-18h0m1-3h0m2 12h0m2-4h0m4 1h0m4-5h0m11 16h0m5-10h0m2-5h0m2-5h0m9 11h0m18 7h0m8-13h0m1 4h0m32 2h0m11 2h0m-8 19h0m-4-7h0m-1 0h0m-32 2h0m-31 16h0m-3-14h0m-6 11h0m-2-18h0m-44 7h0m0-5h0m-16-2h0m-1 14h0m-21-10h0m-12-3h0m-8 17h0m0 5h0m-13-1h0m-45-16h0m0 8h0m-17-1h0m-1 7h0m-41 1h0m-40-2h0m-2-5h0m-35-3h0m-9 0h0m-5-10h0m-10-1h0m-19 7h0m-23 3h0m-1-4h0m-7 10h0m-3 5h0m-2-22h0m-113 13h0m0-6h0m-2-1h0m-3 5h0m-2 0h0m-16-7h0m-55 3h0m-14-2h0m-57 17h0m45 17h0m50-8h0m10 10h0m14 7h0m35-19h0m15-3h0m24 14h0m97 2h0m27 2h0m15-12h0m7 14h0m56-18h0m39 8h0m45 9h0m42 0h0m1-18h0m2 1h0m10 8h0m2-5h0m3 3h0m6-2h0m1 1h0m2 10h0m4 1h0m10 0h0m6 0h0m41 3h0m13 0h0m2-15h0m0-3h0m3 5h0m4 3h0m2 4h0m12-9h0m5 11h0m18-3h0m1-5h0m0 5h0m8 6h0m5-20h0m2 18h0m3-3h0m1-16h0m1 17h0m4-11h0m16-2h0m-25 37h0m-2 1h0m-11 0h0m-1-12h0m-4-4h0m-5 0h0m-4 0h0m-5 14h0m-2-10h0m-4 9h0m-10 1h0m-10-13h0m-3 14h0m-6 4h0m-1 1h0m-17-9h0m0 8h0m-2-5h0m-16 0h0m-16 0h0m-12 2h0m-1-12h0m0 10h0m-15 4h0m-7-8h0m-2-11h0m0 19h0m-7-20h0m-1 14h0m-1-2h0m-21-8h0m-6 4h0m-2 3h0m-7-8h0m-8 11h0m0 4h0m0-10h0m-17 9h0m-3 6h0m-17-20h0m-10 13h0m-57 3h0m-1-14h0m-38 13h0m-29 0h0m-3-15h0m-4 10h0m-5 4h0m-4-3h0m0-5h0m-11-9h0m-7 23h0m-24-23h0m-12 21h0m-73-11h0m-2 9h0m-2-12h0m-1 4h0m-25-2h0m-5-4h0m-2-4h0m-16 14h0m-2-14h0m-1 0h0m-1 17h0m-6-14h0m-4 7h0m0-4h0m-3 10h0m-27-17h0m0 14h0m-4 2h0m-7-6h0m-94-7h0m-15 17h0m-9 17h0m14 5h0m126-7h0m2-4h0m4 3h0m19 3h0m29-8h0m6 7h0m9-7h0m0 17h0m2-13h0m1-3h0m1-5h0m7-1h0m2 6h0m1 8h0m2-11h0m7 12h0m4-16h0m13 5h0m4 0h0m4 2h0m9-3h0m1 4h0m6 10h0m10 4h0m1-10h0m1 7h0m3-4h0m0-8h0m3 6h0m6-1h0m4 10h0m15-10h0m0 10h0m1-6h0m2-4h0m2-8h0m3 17h0m4 2h0m4-4h0m0 3h0m2-10h0m5 7h0m21-16h0m4 2h0m25 17h0m4-14h0m33 9h0m38-14h0m15-1h0m10 12h0m8-2h0m14 3h0m1-10h0m3 16h0m5-8h0m0-11h0m6 15h0m0 2h0m5 2h0m2-3h0m11-9h0m3 10h0m18-8h0m1 12h0m1-21h0m0 5h0m15 10h0m0-8h0m3 6h0m2 9h0m0-12h0m14-4h0m0 10h0m11-3h0m5-5h0m13 3h0m8-12h0m2 4h0m6 9h0m42-6h0m10 2h0m2 11h0m6-4h0m6-16h0m0 17h0m5 4h0m2 0h0m25-20h0m11 1h0m3-2h0m-26 27h0m-26 16h0m-24-15h0m-5 12h0m-8-16h0m-34 6h0m-5 2h0m-5 14h0m-5-11h0m-2 3h0m-48-5h0m-1 4h0m0-6h0m-2-6h0m-6 1h0m-6 1h0m-3 7h0m-1-6h0m-2-5h0m-9 21h0m-26-2h0m-2-15h0m-7 11h0m-1-14h0m-4-1h0m-1 13h0m-3 6h0m0-8h0m-2-10h0m-6 10h0m-1-1h0m-11 1h0m-2-2h0m-2-3h0m-3 9h0m-4 4h0m0-2h0m-13-6h0m-36-11h0m-19 17h0m-16 4h0m-20-14h0m-2 16h0m-10-11h0m-2 6h0m-6-4h0m-2 4h0m-2-10h0m-2 10h0m-1 5h0m-6-4h0m0-10h0m-4 6h0m-7-12h0m-6 5h0m-7 4h0m-8-9h0m-6 13h0m-10-8h0m-12 16h0m-7-2h0m-1-19h0m-9 19h0m-2 1h0m-3-4h0m-15 3h0m-8-19h0m-2 0h0m-6-2h0m-6 1h0m-9 20h0m-5-8h0m-23-2h0m-1 6h0m-13-17h0m22 41h0m17-1h0m1 4h0m4-15h0m1 7h0m3 5h0m21-2h0m8-8h0m8 15h0m9-8h0m12-13h0m46-1h0m7 20h0m5-11h0m4-2h0m1-1h0m3 12h0m2-16h0m1 16h0m2-7h0m2 7h0m2-10h0m0-4h0m5 1h0m2 16h0m5-5h0m2-1h0m8-5h0m11 12h0m1-13h0m14 11h0m15-13h0m9 16h0m1-14h0m11 2h0m21-10h0m17 22h0m1-6h0m3-3h0m1-9h0m5-4h0m1 2h0m3 13h0m6-16h0m1 6h0m6-6h0m6 11h0m6-1h0m5-7h0m1 8h0m4-8h0m8 20h0m7-10h0m5-7h0m11 15h0m2-15h0m1 4h0m0 7h0m1-7h0m4 1h0m9 11h0m0-8h0m1 8h0m5-16h0m5-1h0m29 17h0m7-22h0m14 6h0m2 14h0m1-6h0m5 2h0m9 7h0m0-1h0m9-18h0m7 13h0m31-3h0m5-15h0m14 2h0m7 21h0m13-9h0m-15 16h0m-38 15h0m-4-4h0m-2-1h0m-10-15h0m-5 0h0m-1 7h0m-1-3h0m-11 7h0m-4-9h0m0 10h0m-4-8h0m0 1h0m0 3h0m-32-1h0m-1 0h0m0-7h0m-1-1h0m-4 14h0m0-11h0m0 10h0m-1-3h0m-1 10h0m-1-18h0m-3 12h0m0 4h0m-4 5h0m0-8h0m-2 2h0m0 0h0m-30-15h0m-22 1h0m-2-2h0m-3 20h0m-1-7h0m-3-11h0m0 4h0m-21 3h0m-3 7h0m-7-14h0m-6-1h0m-2 22h0m-1-7h0m-3-14h0m-15 3h0m-68 11h0m-6 6h0m-6-18h0m-25 18h0m0-4h0m-1-11h0m0 5h0m-18-5h0m-2 10h0m-3-4h0m-17 5h0m-6 1h0m-6 4h0m-12-9h0m-1-5h0m-22-8h0m-3 5h0m-7-6h0m-23 4h0m-1 15h0m-27-9h0m-4 1h0m-2-4h0m-2 9h0m-2-3h0m-1-11h0m-1 15h0m-6-13h0m-8-1h0m-69 0h0m-44 24h0m76 8h0m51-10h0m1 18h0m21-15h0m13 0h0m3 10h0m3-10h0m1 1h0m3 1h0m38 16h0m10 1h0m12-23h0m5 20h0m5-1h0m13-5h0m4-3h0m39-9h0m4 10h0m4 5h0m3-1h0m2 2h0m5-13h0m1 12h0m9-18h0m1 11h0m6 12h0m13-5h0m0 0h0m8-1h0m2-3h0m64-1h0m10 9h0m5-8h0m8-7h0m10-5h0m2 15h0m2-6h0m10 8h0m1-6h0m2 3h0m1-5h0m3 12h0m13 1h0m6-12h0m15-10h0m2 15h0m14-13h0m9 3h0m2-4h0m72-2h0m-101 27h0m-14-1h0m-4 7h0m-6 0h0m-6-2h0m-1-4h0m0-1h0m-3 5h0m-3 0h0m-1-2h0m-1 0h0m-2-4h0m-1 6h0m-1 12h0m-2 0h0m-1-19h0m-2 13h0m-1-6h0m-1 1h0m-2 8h0m-31-15h0m-75-1h0m-3 15h0m-1-13h0m-3 11h0m-1 6h0m-8-15h0m-11 5h0m-1 8h0m-2-15h0m-14 9h0m-8 8h0m0-4h0m-13-10h0m0-5h0m-6 15h0m-2-14h0m-3 10h0m-2 6h0m0-13h0m-4 17h0m-21-20h0m-4-2h0m-19 10h0m-4-3h0m-16 12h0m-22-7h0m-9-2h0m-16 11h0m-5 3h0m-12-17h0m-7 2h0m-6 12h0m-128 12h0m112 9h0m29-7h0m5 12h0m1-11h0m5 6h0m31 5h0m15-17h0m3 12h0m19-6h0m2 1h0m1-11h0m2 14h0m1-4h0m35 1h0m5-13h0m9 1h0m2 6h0m27 7h0m8-10h0m0 3h0m6-3h0m3 13h0m1 4h0m15-14h0m2-4h0m1 1h0m8-1h0m1 8h0m4-2h0m6-6h0m4 2h0m-12 20h0m0 14h0m-2-4h0m0-5h0m-2 4h0m0 7h0m-7-9h0m-11 13h0m-4-5h0m-7-4h0m-9-11h0m-4 13h0m0 6h0m-6-19h0m-5 17h0m-1-8h0m-6 7h0m-4-2h0m-18 4h0m0 1h0m-4-1h0m-2-13h0m-3 12h0m-32-3h0m-2-12h0m-1 18h0m-4-21h0m-1 12h0m-34-3h0m-7 2h0m-6-8h0m0 7h0m-15 8h0m0-9h0m-13-4h0m0 13h0m-3-7h0m-7 12h0m-3-1h0m-27-3h0m-85 12h0m2-3h0m4-2h0m130 15h0m16-1h0m44-7h0m4 2h0m3-8h0m2 6h0m4 12h0m17-18h0m18 15h0m1 3h0m0-15h0m1 4h0m3 13h0m8-19h0m6 3h0m7 17h0m9-22h0m1 13h0m4-4h0m1-10h0m23 10h0m3-4h0m13-1h0m62 17h0m15-1h0m1-7h0m-33 10h0m-2-1h0m-44 24h0m-12-5h0m-26-15h0m-25 1h0m-8 4h0m-6-8h0m-10 19h0m-10-1h0m-6-16h0m-1 17h0m-7-9h0m-35 1h0m-2 8h0m-5-10h0m-8-1h0m-4-8h0m-10 12h0m0 3h0m-6-7h0m-28 11h0m-8-4h0m-15 3h0m-4-4h0m-4 4h0m2 27h0m4-2h0m12-7h0m2 8h0m16-3h0m2-11h0m2 13h0m1-17h0m5 2h0m11 8h0m20 1h0m2-2h0m0-4h0m7-4h0m15-3h0m1 13h0m6 2h0m6 6h0m5 0h0m5-14h0m3 14h0m2-15h0m2 12h0m0-16h0m12 1h0m14 14h0m7-15h0m5 17h0m0-5h0m14-6h0m10-4h0m45 30h0m-2 12h0m-1-9h0m-28 3h0m-3 5h0m-3-12h0m-5 3h0m-4 11h0m-4-2h0m-14-17h0m-4-4h0m0 11h0m-4-1h0m-11-9h0m-4 7h0m0 14h0m-11-1h0m-3-3h0m-8-13h0m-2-3h0m-5 2h0m-6 14h0m-28-13h0m-6-5h0m-2 2h0m-4 4h0m-4 5h0m-2-8h0m-9 12h0m-17 4h0m-4-15h0m-6-4h0m-21-1h0m-1 11h0m-4-2h0m-6-2h0m-50-7h0m50 46h0m10-12h0m5 6h0m45 0h0m1-15h0m8 7h0m6-1h0m6 11h0m10-10h0m7 0h0m8 14h0m4-7h0m2 5h0m3-7h0m4-2h0m1 6h0m0-3h0m8 8h0m9-10h0m1 9h0m9-17h0m8 6h0m3 10h0m22-15h0m12-3h0m2 14h0m1-14h0m2 9h0m5-9h0m3 5h0m10-3h0m5 8h0m2 9h0m1-19h0m2 17h0m2-16h0m1 7h0m2 0h0m0-2h0m1 12h0m5-5h0m0-3h0m3 5h0m19-6h0m7-7h0m-14 29h0m0 10h0m-22 5h0m-5-4h0m-5-6h0m-6 10h0m-25-12h0m0-11h0m0 23h0m-15-23h0m-1 9h0m-5-6h0m-7 17h0m-13 0h0m-7-9h0m-6 0h0m-13-4h0m-10 6h0m-28 9h0m-7-4h0m-3-1h0m-1 3h0m-7 1h0m-14-6h0m-21-8h0m-3 4h0m-4 3h0m-4-4h0m-4 6h0m-10 2h0m-5-2h0m-1-5h0m-1 1h0m-1-10h0m-6 14h0m-8-13h0m22 22h0m4-2h0m7 2h0m13 5h0m10-2h0m32-2h0m4 15h0m5-10h0m6 0h0m10 6h0m1-4h0m3 4h0m2 0h0m20-5h0m22 0h0m9 4h0m26 1h0m5-10h0m1 17h0m8-4h0m5 4h0m7-17h0m27 6h0m5-7h0m3 6h0m-36 23h0m-3 5h0m-5 2h0m-12-3h0m-11 3h0m0 4h0m-3-11h0m-20 15h0m0-16h0m-1 7h0m-14-8h0m-13 10h0m-45-15h0m-22 5h0m-6-5h0" stroke="#d3141a"/><path d="M2051 357h0m63-18h0m8 8h0m9-4h0m87 6h0m169 22h0m-332 10h0m-2 1h0m-18-16h0m-64 11h0m39 30h0m121-23h0m20 8h0m4-5h0m1 20h0m2-7h0m180 15h0m-166 14h0m-6-6h0m-5-6h0m-64 0h0m-12-3h0m-2-5h0m-21 7h0m-11 3h0m-14-2h0m-1 8h0m-1 3h0m0-4h0m-4-1h0m-1-6h0m-2 9h0m-3-8h0m-2 11h0m0-16h0m-5 0h0m-5 3h0m-94 32h0m84 4h0m1-7h0m4 0h0m1 3h0m5-12h0m5 10h0m1-13h0m4 6h0m4 6h0m3-2h0m7-3h0m1 8h0m13-10h0m7 1h0m27-7h0m30 5h0m16-1h0m5 10h0m20 5h0m28-9h0m39 1h0m4 11h0m-3 22h0m-5-19h0m-1 21h0m-1-17h0m-3 7h0m0-4h0m-5-7h0m-1 6h0m-16 10h0m-152 5h0m-13-6h0m-6-8h0m-6 16h0m-129-16h0m43 34h0m67 5h0m83 0h0m98-8h0m18-10h0m13 15h0m51 9h0m-14 18h0m-101-14h0m-12 2h0m-9-2h0m-3-5h0m-24 16h0m-16-7h0m-4-6h0m-8 10h0m-1-1h0m-9 3h0m-5-7h0m-6-5h0m-3 14h0m-3-11h0m0 6h0m-3-3h0m0-6h0m-2 16h0m-7-17h0m-5 0h0m-25 18h0m-2-20h0m-32 1h0m-243-2h0m161 22h0m113 19h0m16-1h0m3-15h0m8 2h0m3 7h0m6 6h0m16-10h0m3 0h0m11-6h0m5 1h0m0 10h0m4-1h0m3-7h0m1 11h0m2 5h0m4-10h0m1 9h0m2-12h0m9 11h0m2-5h0m5 4h0m0-5h0m7-6h0m10-7h0m4 6h0m0 1h0m2-3h0m51 7h0m8 0h0m38 2h0m51 16h0m-16 1h0m-56-4h0m-2 4h0m-24 17h0m-14-12h0m-5-7h0m-5 3h0m-1 8h0m-4 1h0m-4-1h0m-7-15h0m-6 16h0m-3 3h0m-11-20h0m-15 2h0m-7 7h0m-1 6h0m-4-2h0m-2-13h0m-5 14h0m-10-12h0m-27-1h0m-15 3h0m-13 6h0m-4-4h0m0 2h0m0-7h0m-5 0h0m-4 11h0m-1 8h0m-1-4h0m-3-1h0m-3 4h0m-4 2h0m-7-2h0m-2-3h0m-2 6h0m-2-2h0m-3 2h0m-21 2h0m-110-21h0m-48 9h0m-68 35h0m7-3h0m12-7h0m27-6h0m64 4h0m134 1h0m2 0h0m0 3h0m2-7h0m3 4h0m0-9h0m1 3h0m1 11h0m1-7h0m16 4h0m0-7h0m16 3h0m5 3h0m4 1h0m2-2h0m2-5h0m1 3h0m0-8h0m3 10h0m2 4h0m5-3h0m7 9h0m1-12h0m11-5h0m3 17h0m1-18h0m4-4h0m6 12h0m2-11h0m4 22h0m4 1h0m9-22h0m1-1h0m5 23h0m9-5h0m1 1h0m5-14h0m9 9h0m9-10h0m3 10h0m16 2h0m3 4h0m3-3h0m7-3h0m10-13h0m13 15h0m7 4h0m0-17h0m2 18h0m2-21h0m1-1h0m1 19h0m3-9h0m3 3h0m4 10h0m8-17h0m5 6h0m158-5h0m-187 40h0m-28-17h0m-2 17h0m-3-17h0m-1 12h0m-5-10h0m-2 6h0m-4 0h0m-21 10h0m0-18h0m-11-3h0m-6 7h0m-7-1h0m-9 7h0m-1-15h0m-1 15h0m-2-6h0m-3 14h0m-2-15h0m0-1h0m-1-6h0m-1 16h0m0-4h0m-1-1h0m0 7h0m-1-12h0m0-1h0m0 1h0m-1-2h0m-3-2h0m0-1h0m-1 9h0m0-10h0m-3 13h0m-1-6h0m-8 6h0m-1 4h0m-1-13h0m-1 1h0m-19 7h0m-4-4h0m-10 1h0m-7 9h0m-6-8h0m-8-10h0m-7 0h0m-1 8h0m-18 3h0m-1 6h0m-8-11h0m0-7h0m-8 18h0m-2-9h0m-1 5h0m-1-10h0m-42 0h0m-61 10h0m-34-14h0m-27 20h0m-24-14h0m-8 13h0m-21-14h0m-29-3h0m0 0h0m-16 3h0m-1 16h0m-15-1h0m-4-10h0m-3 11h0m-10-4h0m-4-2h0m-4-3h0m-2 2h0m7 31h0m13-1h0m19-7h0m11 10h0m9-24h0m3 1h0m13 16h0m6-4h0m1 3h0m124-5h0m103-8h0m34 3h0m1 5h0m3 11h0m4-5h0m22-5h0m23 8h0m4-3h0m5 0h0m3 3h0m3-1h0m5-4h0m5 6h0m2-15h0m3 1h0m0-6h0m3 21h0m3-20h0m0 2h0m15 0h0m1 9h0m15-8h0m2 6h0m6-1h0m3-2h0m4 16h0m21-2h0m4 0h0m10 1h0m3-10h0m2 3h0m0-7h0m9 10h0m1 2h0m3-4h0m5 1h0m5 2h0m0-17h0m4 19h0m10-21h0m0 21h0m6-1h0m8-4h0m1 4h0m6-19h0m5 4h0m3 3h0m3 1h0m161 13h0m10-13h0m-196 22h0m-17 1h0m-5-5h0m-1 6h0m-3-7h0m-6 1h0m-1 17h0m-2 0h0m0-4h0m0 4h0m0-6h0m-4-3h0m-4 3h0m-2 7h0m-2-11h0m-6 12h0m-1-22h0m-4 18h0m-18-19h0m0 6h0m-10-2h0m-6 20h0m-4-16h0m-1 16h0m-13-12h0m-4 2h0m-11-7h0m-2-2h0m-3 2h0m-9 6h0m-1-7h0m-1-3h0m-3 13h0m-6-7h0m-6 11h0m-8-10h0m-36 1h0m-2-9h0m-10 16h0m-3-7h0m-2 9h0m-199-12h0m-2 3h0m-5 0h0m-3 0h0m-20-6h0m0 5h0m-6-4h0m-1-3h0m-32 13h0m-9 4h0m-1-19h0m0 3h0m-4-2h0m0 4h0m-2 3h0m-4 2h0m-6 3h0m-5-9h0m-3-3h0m0 4h0m-5 16h0m-16-10h0m15 17h0m0 4h0m7-1h0m3 1h0m3 6h0m1-3h0m2 1h0m13-12h0m3 15h0m4-5h0m3 5h0m2-16h0m0 22h0m5-2h0m7-12h0m1 15h0m16-12h0m0 10h0m6-3h0m6 3h0m6-18h0m3 16h0m0-18h0m6 22h0m25-11h0m3 8h0m2-4h0m190-8h0m52-6h0m21 15h0m2-15h0m10 0h0m0 1h0m4 2h0m12 12h0m1-13h0m1 7h0m4 0h0m5 0h0m4-11h0m4 16h0m10-10h0m6 10h0m26 0h0m3-7h0m6 0h0m-61 18h0m-20 16h0m-47-18h0m-209 23h0m-1-5h0m-3-4h0m-6 1h0m-1 1h0m-6-4h0m-16 0h0m-1-4h0m-5 3h0m0 5h0m-3-9h0m-2 13h0m-5 1h0m-1-9h0m-5-10h0m0 5h0m-3 11h0m-1-13h0m-1 17h0m0-4h0m-3-2h0m-3 0h0m-1-6h0m-3 13h0m-4-3h0m-5-5h0m-1-12h0m-4 16h0m-4 4h0m-2-5h0m-2-13h0m0-4h0m-10 13h0m-21-8h0m-2 12h0m0-1h0m-6-6h0m-5-9h0m-4 6h0m4 25h0m1-3h0m2-7h0m9 17h0m6 5h0m10-20h0m18 7h0m3 3h0m2-5h0m3 11h0m5 6h0m4-16h0m0-5h0m4 5h0m1 4h0m0-4h0m4-6h0m1 11h0m5 7h0m4-1h0m2-9h0m2 9h0m3-5h0m3-12h0m2 9h0m1-1h0m3 6h0m4-4h0m5 11h0m16-5h0m1-5h0m22 9h0m28 1h0m39-9h0m2 7h0m15 24h0m-4 2h0m-3-9h0m-4 3h0m-4-14h0m-6 9h0m-13 0h0m-22-8h0m-13 8h0m-1 11h0m-13-4h0m-15-12h0m-9 14h0m-12-8h0m-11-13h0m-9 12h0m-12 0h0m-6-11h0m-5 8h0m-3 5h0m-1-13h0m-2 5h0m-2 1h0m-2 14h0m-1 2h0m-4-5h0m-14 1h0m-1 3h0m0-5h0m-1-16h0m-4 0h0m-6 3h0m-4 4h0m0-7h0m-13 13h0m-2-10h0m7 41h0m4-6h0m3 4h0m5 0h0m10-13h0m1 16h0m4 2h0m0-10h0m1-13h0m2 23h0m3-3h0m1-3h0m2-15h0m1 3h0m1 6h0m2-10h0m3 9h0m2-9h0m15 20h0m11 1h0m4 0h0m16-8h0m4 2h0m5-2h0m6 1h0m1 5h0m2-3h0m1 0h0m1-3h0m4-1h0m1 5h0m3-11h0m0 5h0m3 7h0m1-11h0m3 3h0m4-2h0m1 4h0m4 6h0m3-12h0m64-3h0m165 25h0m-125 18h0m-20-4h0m-4 3h0m0-2h0m-59 1h0m-3-11h0m-17 6h0m-17-15h0m-14 2h0m-11 7h0m-1 6h0m-3 2h0m-5-4h0m-4-10h0m-2 13h0m-26-18h0m-16 21h0m-7-10h0m-1-3h0m-2-2h0m0 13h0m-1-15h0m-17 11h0m-5-11h0m7 24h0m1 0h0m1 12h0m2-12h0m2 6h0m2-5h0m4 8h0m2-5h0m4 9h0m1-4h0m9 6h0m1-8h0m33 5h0m58-11h0m1 6h0m1-8h0m1 6h0m0-3h0m1 0h0m2 15h0m2-11h0m0 12h0m5-2h0m9 2h0m2-7h0m5 3h0m10-6h0m47-11h0m4 0h0m4 13h0m95 27h0m-77 1h0m-13-13h0m-6 15h0m-12-17h0m-27 19h0m-26-20h0m-2 5h0m-1 5h0m0 11h0m-2-15h0m-2 7h0m-3-6h0m-5 2h0m-1-6h0m-3 17h0m-1-12h0m-2 5h0m-4-1h0m-1-6h0m-2-1h0m-3-1h0m-2-5h0m-33 13h0m-3-11h0m-2 4h0m-4-7h0m-4 13h0m-3-7h0m0 0h0m-1 0h0m-4 5h0m-24 0h0m-2 2h0m-2-7h0m-5 6h0m-6-8h0m-12 16h0m17 17h0m4-2h0m1 10h0m5-5h0m1-13h0m4 18h0m1 2h0m1-12h0m3 8h0m5 1h0m12 0h0m1-4h0m7-11h0m3 10h0m19-2h0m5 9h0m9 0h0m4-6h0m0 3h0m4 3h0m2-17h0m21 12h0m2 4h0m22-10h0m17 1h0m5 5h0m-27 11h0m-39-3h0m-3 9h0m-3-2h0m-2 11h0m-4-11h0m0-6h0m-2 17h0m0-8h0m-2 1h0m-20-1h0m-8 9h0m-7-3h0m-2-16h0m-17 22h0m-10-21h0m-4 7h0m0 5h0m7 21h0m21-5h0m1 10h0m5-4h0m3-4h0m2 5h0m0 2h0m0-14h0m0 11h0m0 5h0m6-8h0m10 9h0m2 3h0m7-8h0m4 10h0m3 12h0m-2-5h0m0 6h0m-1 11h0m-13-19h0m-1 9h0m-6-3h0m-2-1h0m-4-5h0m288 57h0m-111-8h0m-138 17h0m-2-8h0m-3-3h0m-7-6h0m9 22h0m0-2h0" stroke="#f17c69"/><path d="M2106 310h0m8 0h0m53 24h0m-16-11h0m-8 12h0m-3-5h0m0-6h0m-8 2h0m-7 5h0m-1-13h0m-10-5h0m-6 9h0m-21-4h0m-4 2h0m-24 7h0m-12-14h0m0 12h0m-18-5h0m-9 13h0m0-1h0m-36 24h0m7 2h0m15-15h0m1 12h0m8-1h0m0 4h0m6-1h0m31-3h0m40 2h0m2 1h0m2 1h0m1-8h0m2 6h0m2-3h0m0-6h0m6 12h0m4-5h0m7 0h0m1-3h0m3-7h0m1 8h0m8 4h0m3-4h0m0 2h0m1-1h0m1-13h0m1 3h0m5 2h0m1-7h0m2 11h0m15-9h0m-75 28h0m-4 7h0m-9 6h0m-3-8h0m-3-13h0m0 4h0m-3 13h0m0-6h0m-1-8h0m-2 1h0m-3 6h0m-1 4h0m-2-10h0m-4 19h0m-5-5h0m-3-12h0m-8-1h0m-17-1h0m-7-1h0m-5-2h0m-2 6h0m-1-1h0m-15-4h0m-46 46h0m7-7h0m9-1h0m5-6h0m10 2h0m12 1h0m1-4h0m2 12h0m9-17h0m9 3h0m2 3h0m1-5h0m13 0h0m0 13h0m8-14h0m2 11h0m0 5h0m1-5h0m3-9h0m4 15h0m1-14h0m28 5h0m5-8h0m0 2h0m-22 26h0m-4-3h0m-1 0h0m0 7h0m-4-9h0m-2 6h0m-7 2h0m-5 3h0m-8-1h0m-9-8h0m-17-3h0m-1 9h0m-6 9h0m-4-1h0m0-2h0m-3-8h0m0 12h0m-3-20h0m-11 19h0m-5-19h0m-4 2h0m-8 8h0m-20 6h0m-3-2h0m-1 5h0m-12 3h0m-12 7h0m4 8h0m3-10h0m1 19h0m6-21h0m1 6h0m7-4h0m3 10h0m2-2h0m3 3h0m3 4h0m5-10h0m1 2h0m2-4h0m8 0h0m1-6h0m3 3h0m1 13h0m6-2h0m2-14h0m3 5h0m1 5h0m1-7h0m1 4h0m8 4h0m1 2h0m4 2h0m3-7h0m0 13h0m1-21h0m4 1h0m9 1h0m24 10h0m7 2h0m12-8h0m4 0h0m2-4h0m-22 31h0m-13 3h0m-1-5h0m-1 9h0m-10 3h0m0-10h0m-17-3h0m-8-7h0m-5 0h0m-9 14h0m-11-12h0m-17 17h0m-1-3h0m-1 6h0m-2-16h0m-4-1h0m-3 0h0m-4 9h0m-14 4h0m0-8h0m-3-4h0m-11-6h0m-9 1h0m-7 15h0m-1-4h0m-15 30h0m3-15h0m3 10h0m15-1h0m13-3h0m3 3h0m5 3h0m5-3h0m10-2h0m2 9h0m1 3h0m7-19h0m5-1h0m0 7h0m8 11h0m3-6h0m22-4h0m0 13h0m1-8h0m3-2h0m4-9h0m2 15h0m25 9h0m-8 3h0m-2-4h0m-6 16h0m-2 3h0m0-16h0m-3 12h0m-4-15h0m-3-2h0m-5 15h0m-4 7h0m-6-1h0m-4-20h0m-3 18h0m-8-18h0m-1 7h0m-4-3h0m-1-5h0m-3 13h0m-7-11h0m-3 14h0m-2-15h0m-8 11h0m-7 9h0m-6-3h0m0-17h0m-3-1h0m-5 12h0m-1-8h0m-4 7h0m0-9h0m-1 11h0m-2-7h0m-2 3h0m0 2h0m-3 5h0m-4 5h0m-1-1h0m-6 0h0m-7 3h0m-1-14h0m0-9h0m-1 6h0m-1 4h0m-2 9h0m-3-3h0m-2-12h0m0 18h0m-15 23h0m3-4h0m10 6h0m4-4h0m27-14h0m3 2h0m30 11h0m2 4h0m7-18h0m2 9h0m4-12h0m1 19h0m8-3h0m2 3h0m6 0h0m2-11h0m2 0h0m4 12h0m6-8h0m6-6h0m1 4h0m2 0h0m4-2h0m4 5h0m1 7h0m3-12h0m-14 21h0m-11 9h0m-6-5h0m-1-3h0m0 2h0m-10-7h0m-4 1h0m-4 0h0m-14-3h0m-6 15h0m-2-12h0m-6 11h0m-9 1h0m-3-8h0m-2-6h0m-10 20h0m-2-7h0m-17 4h0m-11-9h0m-5 10h0m-1-11h0m-2-1h0m-3-3h0m-1 19h0m0-5h0m-2-9h0m-5 11h0m-13-6h0m-8-3h0m-7 0h0m-8 6h0m-16 1h0m-2-1h0m-69 29h0m43-18h0m2 10h0m15-15h0m4 7h0m37 14h0m4-2h0m2 1h0m6-3h0m3 1h0m2 2h0m1-4h0m0 5h0m1-7h0m1 4h0m5-11h0m3-1h0m2-1h0m0-3h0m8 13h0m6-11h0m8 11h0m2-11h0m1 1h0m0 1h0m5 15h0m13-19h0m7-2h0m6 21h0m12-21h0m50 4h0m-62 28h0m-9 0h0m-1 9h0m-1-12h0m-2 10h0m-3-1h0m0-8h0m-10-4h0m-6 20h0m-3-2h0m-5-1h0m-14-11h0m-6-4h0m-11 18h0m-5-20h0m-11 9h0m-2 11h0m0-2h0m-2-15h0m-2 5h0m-2 8h0m-6-3h0m-13-2h0m-13-12h0m-28 35h0m60-5h0m3 1h0m11 9h0m0 0h0m14-13h0m1-3h0m10 6h0m0 7h0m10 2h0m0-4h0m4 7h0m4-13h0m3 5h0m-174 15h0m-3 31h0m143 22h0m-66 38h0m57 0h0m25-10h0m1 4h0m46 33h0m-8-9h0m-11-6h0m-7-3h0m-21 8h0m-3 6h0m-4 2h0m-16-14h0m-76 5h0m62 12h0m30 15h0m22-11h0m5 3h0m34 10h0m6 11h0m-8-4h0m-12 14h0m-129-14h0m80 41h0m2 4h0m6-16h0m12 6h0m5 13h0m-27 5h0m-91-6h0m31 30h0m149-1h0m7-3h0m3 19h0m-126 11h0" stroke="#78a9de"/><path d="M2306 386h0m1 6h0m1-3h0m2-1h0m7-3h0m-165 29h0m-138 39h0m5-3h0m35-4h0m3-2h0m1 6h0m0-7h0m4-3h0m7 0h0m0 12h0m4-6h0m2-9h0m0 3h0m1 15h0m0-17h0m3 11h0m1-2h0m0-10h0m3-2h0m0 4h0m2-3h0m1 7h0m2 4h0m1-2h0m1-5h0m1 9h0m0 3h0m1-15h0m2 3h0m3-7h0m0 7h0m1 4h0m2-3h0m1 12h0m1-16h0m0 16h0m0-11h0m1-1h0m1-4h0m1 12h0m1-4h0m0-11h0m2 18h0m0-13h0m0 1h0m1 4h0m2-5h0m1 1h0m0-1h0m7 6h0m1 3h0m0 2h0m3-3h0m6-4h0m4 12h0m1-10h0m5 11h0m10-3h0m37-18h0m-7 38h0m-3 6h0m-2-17h0m-1 9h0m-5-13h0m-1 17h0m0-14h0m-1 13h0m-1-6h0m-1 5h0m0-8h0m-3 12h0m-3-21h0m-2 1h0m-1 18h0m-2-6h0m-6-4h0m-1 4h0m-4-2h0m-1-4h0m0 16h0m-2-23h0m0 6h0m-1 2h0m0-7h0m-2 20h0m0-12h0m-2 8h0m-4-14h0m-2 5h0m-1 1h0m-1-1h0m-2 11h0m0-10h0m-4 4h0m0-2h0m-1 1h0m0-6h0m-1 6h0m-3 12h0m-1-15h0m-2-3h0m-1-3h0m-4 20h0m-2-23h0m-4 21h0m-4-14h0m-4-5h0m-1 2h0m-2 12h0m-3-12h0m-1 10h0m-1-5h0m-3 8h0m-1 0h0m0-5h0m-3 2h0m-2-3h0m0-5h0m-1 15h0m-2-18h0m0-2h0m0 21h0m-2-5h0m-1 5h0m-1-18h0m-1 3h0m-1 1h0m0 13h0m-1-3h0m0-6h0m-1-4h0m-1 11h0m0-6h0m-1 8h0m-2 1h0m0 0h0m0-1h0m-1-15h0m0 8h0m-1 4h0m0 4h0m-2-14h0m0 6h0m0-6h0m-1 11h0m0-8h0m-7-9h0m-1 7h0m0 9h0m-3-12h0m0 11h0m-2-11h0m0-3h0m-2 16h0m4 5h0m12 1h0m1 5h0m0-1h0m2 1h0m3 0h0m2 0h0m6 9h0m5-3h0m3 1h0m5-4h0m3-4h0m4 9h0m1-7h0m4-5h0m5 1h0m7 15h0m0-14h0m1 11h0m2-4h0m2 6h0m3-14h0m5 17h0m1-4h0m0-5h0m1 6h0m2 4h0m2-2h0m0 0h0m1-10h0m2-2h0m2 12h0m0-17h0m2 6h0m1-3h0m1 7h0m2-8h0m0 12h0m4-14h0m0 17h0m0 4h0m1-22h0m1 5h0m1-1h0m0 0h0m1 0h0m0 1h0m0 0h0m1 0h0m1 0h0m1 5h0m1 1h0m0-6h0m2 2h0m1-1h0m0 11h0m4-8h0m1 14h0m1-5h0m2-11h0m1 6h0m1 0h0m1-12h0m1 5h0m0 5h0m0 7h0m1-7h0m1 6h0m1-1h0m1 4h0m1-18h0m0 6h0m5-8h0m1 6h0m3 0h0m3-2h0m-15 20h0m-3 1h0m-14 10h0m-7-8h0m0-3h0m-9 4h0m-5 14h0m-5-13h0m-6-3h0m-107 3h0m-3-3h0m59 42h0m102 3h0m-39 2h0m-37 9h0m-323 316h0m1 4h0m4-4h0m4 1h0m8 5h0m-6 17h0m-2-3h0m-2-10h0m-3 12h0m-1-10h0m-3 4h0m-9 16h0m49 8h0m-11 17h0" stroke="#2a5db0"/><path d="M1720 219h0m-32 1h0m-4 0h0m-6 30h0m6 5h0m4 0h0m4 1h0m6 7h0m10 1h0m-12 22h0m-18-16h0m14 19h0m-13 63h0m5-2h0m-22 33h0m-6 10h0m7-4h0m31 22h0m-6 3h0m-14 29h0m46 91h0" stroke="#7b2a6c"/><path d="M2225 335h0m-3-3h0m-10 2h0m-30-13h0m-1 2h0m0-6h0m-17 11h0m-23-10h0m-13 7h0m-17-8h0m-6-4h0m-1 8h0m-81 5h0m-34 22h0m103 7h0m19-18h0m11 16h0m1-5h0m37-12h0m13 12h0m1-5h0m1-6h0m1 6h0m2 11h0m3-6h0m1-1h0m25 4h0m2 6h0m4-10h0m5-10h0m3 21h0m9-2h0m1-16h0m3 5h0m2 5h0m13 1h0m17 1h0m4-12h0m5 7h0m1 11h0m1-15h0m9 8h0m2-2h0m11-1h0m1 11h0m3-4h0m6-7h0m42 6h0m6-3h0m0 0h0m4-4h0m2 1h0m2 7h0m2-11h0m2 12h0m1 4h0m12-4h0m12-1h0m9 21h0m-3-15h0m-3 14h0m-3-10h0m-11-4h0m-2 10h0m0-4h0m-5-4h0m-2 2h0m-2-3h0m0-1h0m-3 10h0m-1 4h0m-16-14h0m-25 18h0m-7-15h0m-10 14h0m-1-16h0m-10 7h0m-9 6h0m-8-2h0m-19 9h0m-3-6h0m-5 2h0m-2-2h0m-1-15h0m-3 18h0m-3 3h0m-3-2h0m-4-20h0m-1 18h0m-23-9h0m-5 12h0m-2-7h0m-1-6h0m-11-2h0m-2 11h0m-5-5h0m-5 1h0m-13 4h0m-6-2h0m-1-6h0m-24-3h0m-12-4h0m-41 2h0m-13 12h0m-16 7h0m-45-22h0m-13 8h0m5 26h0m27 12h0m5-15h0m15-5h0m3 1h0m4 1h0m99 17h0m2-3h0m1 4h0m1-8h0m64-7h0m4 3h0m5-10h0m8 0h0m4 3h0m5-3h0m11 21h0m14-12h0m1 12h0m8 1h0m12 0h0m7-7h0m2-10h0m3-2h0m1 13h0m3-13h0m0 18h0m3-15h0m0-6h0m9 19h0m5 3h0m1-15h0m7-7h0m21 16h0m1-2h0m11 1h0m9 7h0m1 0h0m1-3h0m20-15h0m8 9h0m5 2h0m4 5h0m20-1h0m3-10h0m4 8h0m1-6h0m6-7h0m19 11h0m5 3h0m20 24h0m-3-3h0m-2-2h0m0-1h0m-1 2h0m-12-14h0m-2 14h0m-3 8h0m-9-17h0m-5 13h0m-7-17h0m-8 0h0m-5-1h0m-7 19h0m-9-14h0m-8 7h0m-13-7h0m-3 9h0m-8 3h0m-2-16h0m-1 16h0m-1-10h0m-1 14h0m0-9h0m-7 3h0m-1-11h0m-1 13h0m-7-14h0m-11-2h0m-11 10h0m0-10h0m-3 15h0m-1 1h0m-4-1h0m-7 5h0m-22-7h0m-3-14h0m-3 6h0m-2 7h0m-5 2h0m0-8h0m0-5h0m-50 21h0m0-4h0m-6-5h0m-13-14h0m-18 4h0m-1 15h0m-8-16h0m-33 11h0m-4-4h0m-3 3h0m-46-2h0m-46-9h0m-14 4h0m-2 0h0m-140 20h0m6 16h0m58-7h0m8-10h0m4 13h0m12-2h0m1-10h0m3 13h0m27-6h0m115 5h0m71-1h0m6-6h0m5 13h0m13-16h0m46-1h0m4 16h0m0-13h0m10 15h0m3-4h0m2-6h0m2 4h0m4-3h0m0-3h0m9 6h0m1 4h0m3-2h0m0-10h0m0 9h0m2 3h0m3-18h0m3 13h0m4-14h0m14 12h0m2 6h0m2-4h0m5 5h0m3 3h0m1-13h0m1 10h0m3 2h0m8-12h0m2-3h0m2 16h0m5-3h0m1-2h0m0 4h0m2-16h0m1 3h0m1 1h0m1 6h0m9-7h0m2 9h0m5 0h0m5-10h0m6-2h0m1 5h0m5-3h0m4 4h0m8-3h0m0-4h0m2 3h0m8-6h0m1 4h0m4-2h0m18 11h0m5-11h0m2 7h0m5 10h0m4 3h0m6-9h0m3-14h0m2 15h0m3 7h0m-5 3h0m-17 4h0m-23 8h0m-3 2h0m-3 6h0m0-4h0m-1-4h0m-3-2h0m-1-5h0m-6 3h0m-1-5h0m-3 5h0m-5 4h0m-3-3h0m-2 4h0m-4 5h0m-1-12h0m-1-1h0m-1 6h0m-1 1h0m0 1h0m-4-12h0m0 6h0m-2 1h0m-3 4h0m-2 3h0m-1-10h0m-1 12h0m-3-17h0m-1-1h0m-1 17h0m-1 4h0m-2-19h0m-1 17h0m-1-20h0m-2 2h0m-1 10h0m0-1h0m-19-9h0m-1-2h0m-4 1h0m0 11h0m-2 9h0m-3-6h0m-6 5h0m0-19h0m-5 4h0m-1 12h0m-1 1h0m-1-7h0m0-2h0m-3 10h0m-3-4h0m-1 5h0m-1-11h0m0-9h0m-2 15h0m-1-5h0m-4-9h0m0 12h0m-4 5h0m-2 0h0m-5-2h0m-3 7h0m-1-17h0m-4 15h0m-6-14h0m-19 6h0m-4-7h0m-4-5h0m-14 5h0m-239 4h0m-19 7h0m-1-12h0m-7 5h0m-120 34h0m0-15h0m15 10h0m9 3h0m15 2h0m101-14h0m18 5h0m165 5h0m13-9h0m7 7h0m2 9h0m0-4h0m6 0h0m5 4h0m1-7h0m12 7h0m42 0h0m4-1h0m6 2h0m14-2h0m4 2h0m0 0h0m2-9h0m0 5h0m0 2h0m2-13h0m3 14h0m1-18h0m2 9h0m1 8h0m2-2h0m2-3h0m11 6h0m4-18h0m1 17h0m6-22h0m2 4h0m0 11h0m0 6h0m1 3h0m2-13h0m1-11h0m1 16h0m4 0h0m3 6h0m2-3h0m8-5h0m0 4h0m9-14h0m2 6h0m3 13h0m2-21h0m8 16h0m0 5h0m3-5h0m3-12h0m4-1h0m3 3h0m4 7h0m2 7h0m5-22h0m5 8h0m3 9h0m9-2h0m3-9h0m3 8h0m31-4h0m2 1h0m5-3h0m1-6h0m5 16h0m-31 30h0m-3-16h0m-2 5h0m-6 10h0m-1 0h0m-4-13h0m-6 5h0m0 7h0m0-13h0m-3 10h0m-4-6h0m0-5h0m-7 7h0m-8-13h0m-1 21h0m-3-7h0m-2-1h0m-2-8h0m-14-4h0m-2 10h0m0-11h0m-1 10h0m-1-4h0m-3 4h0m-3-11h0m-3 12h0m-1-7h0m-1-5h0m-3 12h0m-1-3h0m-2 7h0m-2-7h0m-2 9h0m-3-16h0m-1 16h0m-3-12h0m-4-5h0m-1-2h0m-1 2h0m0 21h0m-1-6h0m-10-9h0m-3-5h0m-4-2h0m-2 8h0m-1-7h0m-10 0h0m-2 4h0m-2 13h0m-8-18h0m-9 5h0m-1-5h0m-1 0h0m-7 16h0m-3-2h0m0-11h0m-4 4h0m-3 0h0m-2 10h0m-14-18h0m-6 15h0m-1 7h0m-5-16h0m-15 13h0m-13-15h0m-3 15h0m-3-12h0m-7 12h0m0-9h0m-1 14h0m-4 0h0m-80-13h0m-24-3h0m-30 10h0m-1 0h0m-14-2h0m-33-9h0m-6-5h0m-18 15h0m-1-5h0m-13-5h0m-67 15h0m-40 1h0m-10 1h0m-16-3h0m16 13h0m127-5h0m11 17h0m27-5h0m3-4h0m9 1h0m14-1h0m3-8h0m57-3h0m45 3h0m24 1h0m35 4h0m14-6h0m10 18h0m7-11h0m6 4h0m5 5h0m31-16h0m3 5h0m8 5h0m1-5h0m0-6h0m2 6h0m8-2h0m3-3h0m1 17h0m0-18h0m8 3h0m11-4h0m8 6h0m10 13h0m2-10h0m9 10h0m5-4h0m1 1h0m1-2h0m11-10h0m10-5h0m3 17h0m1 6h0m1-2h0m4-18h0m4-3h0m2 2h0m4 6h0m12 3h0m9 1h0m2-11h0m1 15h0m0-16h0m2 19h0m3-20h0m4 3h0m23 11h0m-9 16h0m-15-5h0m-13 18h0m0-6h0m-15 10h0m-20-5h0m-7-6h0m-5 5h0m-8-8h0m-1 6h0m-1-10h0m-1 10h0m-1-3h0m-2-8h0m-2 17h0m-7-20h0m-2 15h0m-1-3h0m-2-8h0m-6 17h0m0-18h0m-4 13h0m0-14h0m0 17h0m0 1h0m-1-18h0m0 21h0m-2-7h0m-16-15h0m-4 0h0m-9 3h0m-11-5h0m-2 11h0m-11 2h0m-3-3h0m-3 5h0m-4 1h0m-5-9h0m-2-5h0m-8 11h0m-3 6h0m-3 3h0m-1-4h0m-5-1h0m-2 6h0m-3-1h0m-4-8h0m-28-10h0m-19 11h0m-20 9h0m-5-2h0m-61-2h0m-7-7h0m-3 9h0m-55 0h0m-10-3h0m-24-14h0m-15-3h0m-5 4h0m-4 1h0m-4 10h0m-28-9h0m-34-2h0m-106 12h0m-4-6h0m-72 10h0m15 21h0m37-10h0m4 12h0m21-12h0m4 4h0m42 4h0m31-4h0m17 9h0m1-5h0m69 1h0m4 6h0m8-23h0m65 19h0m5-5h0m163 0h0m15-9h0m0 4h0m7-10h0m1 18h0m7 1h0m5 3h0m7-17h0m8 17h0m0-11h0m5 4h0m1 9h0m2-9h0m1 7h0m0-12h0m1 13h0m2-4h0m4-17h0m1 11h0m14 9h0m22-1h0m2-19h0m7 1h0m2 21h0m2-18h0m1-3h0m5 16h0m1-9h0m2-9h0m5-1h0m2 11h0m1-9h0m14 0h0m4 11h0m1-5h0m28 0h0m5 0h0m2-4h0m1-1h0m3 3h0m24 9h0m2 5h0m3-7h0m10-1h0m3 7h0m-34 28h0m-30-17h0m-23 15h0m-7 2h0m-14-20h0m-4-1h0m-4 9h0m-3 5h0m-5-14h0m-20 16h0m-4 5h0m-10-12h0m-6-2h0m-5-2h0m0 2h0m-20-7h0m-4 2h0m-6 15h0m-17-9h0m-13-7h0m-35 4h0m-90 5h0m-44-6h0m-6 11h0m-7-8h0m-133 7h0m-16 4h0m-78-6h0m-21-5h0m-29 12h0m-3 0h0m11 23h0m4-7h0m7 4h0m11 1h0m44 0h0m1 1h0m0 3h0m6-3h0m5-18h0m4-1h0m27 0h0m1 4h0m3-3h0m7 6h0m21 12h0m2-6h0m13-10h0m5 0h0m46 4h0m32 14h0m23-20h0m42 11h0m4 5h0m3 1h0m5 2h0m2-11h0m53 12h0m4-18h0m11 14h0m2-16h0m6 16h0m1 5h0m5 0h0m4-19h0m0 21h0m9-20h0m57 17h0m12 0h0m0-16h0m5 15h0m7-18h0m15 19h0m4 0h0m5-17h0m3 16h0m3-8h0m5-6h0m38 12h0m8-10h0m3-1h0m2-4h0m7 16h0m6-6h0m5-11h0m3 3h0m4 18h0m23-20h0m13 41h0m-1-14h0m-6 15h0m-3-20h0m-5 19h0m-9-7h0m-17-7h0m0-2h0m-8 19h0m-13 0h0m-4-1h0m-4-7h0m-8-6h0m-2 7h0m-20 0h0m-1 2h0m-1-5h0m-20 11h0m-5-2h0m-1-15h0m-3-1h0m-2-2h0m0 18h0m-30-17h0m-1 5h0m-21-8h0m-10 18h0m-5 3h0m-15-12h0m-3 10h0m-8-7h0m-5 7h0m-12-20h0m-23 15h0m-9 5h0m-37-15h0m-18-3h0m-24-2h0m-4 7h0m-20 12h0m-4-20h0m-12 22h0m-22-12h0m-19 12h0m-3-5h0m-7-13h0m-11 12h0m-57-7h0m-6 11h0m-4-3h0m-7-13h0m-1 12h0m-38-10h0m-8-5h0m-5 1h0m-2 13h0m-4 8h0m-1-18h0m-1 3h0m-2 10h0m-1-4h0m-2 10h0m-17-4h0m-3-12h0m-3 3h0m-3 9h0m0 0h0m-5-1h0m0-14h0m-1 8h0m-1 10h0m-1-16h0m-1 11h0m-3-9h0m-93 4h0m101 13h0m11 6h0m1 8h0m2 1h0m0-6h0m0-9h0m1 20h0m4-3h0m5-13h0m31 13h0m7-14h0m9 4h0m8 1h0m5 0h0m6-6h0m2 16h0m1 4h0m1-4h0m7-16h0m1 1h0m13-2h0m2 5h0m4-1h0m7 3h0m27 11h0m0-7h0m11 6h0m0-5h0m10-1h0m5 6h0m1-3h0m6-1h0m5 3h0m1 3h0m5-3h0m2 3h0m5-2h0m3 0h0m14 3h0m0-22h0m9 4h0m3 5h0m34 3h0m3-3h0m4 2h0m41-5h0m34 7h0m4-3h0m13 6h0m1 4h0m12 1h0m8-2h0m1-4h0m4-1h0m2-6h0m0-1h0m2-8h0m2 6h0m2 6h0m20-6h0m13 7h0m7-7h0m18 8h0m18-2h0m0 5h0m3-14h0m0 12h0m1-8h0m13 8h0m8-9h0m11 2h0m17-4h0m2-2h0m17 4h0m3 4h0m7 4h0m7-10h0m8 3h0m1-4h0m13-1h0m22 9h0m-7 24h0m-2 8h0m-26-17h0m-23 12h0m-8 8h0m-9-17h0m-16 9h0m-5 9h0m-1-7h0m-3-7h0m-7 11h0m-10-2h0m-8 0h0m-5 4h0m-20-15h0m-14 0h0m-10 15h0m0-6h0m-6-4h0m-10 3h0m-2 2h0m0 6h0m-36-7h0m-3-8h0m-3-7h0m-8 12h0m-5 0h0m0 1h0m-6 10h0m0-19h0m-2-3h0m-4 18h0m-3-4h0m-13 3h0m-6-7h0m-72-5h0m-18-2h0m-2 19h0m-4-21h0m0 20h0m-5-17h0m-1 18h0m-4-18h0m-2 9h0m-4-6h0m-12 10h0m-2-9h0m0 9h0m-1-14h0m-1 13h0m-31-10h0m-7 11h0m-16-11h0m-11-1h0m-4 5h0m-1-6h0m-2 10h0m-1 0h0m0 2h0m-12-5h0m-2-11h0m-1 6h0m-36 2h0m-7 5h0m-19-4h0m-6-7h0m-1 7h0m-7 2h0m-47-1h0m-69 29h0m119-5h0m7 8h0m13-12h0m0-5h0m3 16h0m2 2h0m14-11h0m1 1h0m2 4h0m105-11h0m1 13h0m9-2h0m3-4h0m3 4h0m3 8h0m1-5h0m2-6h0m6 6h0m0-9h0m7-6h0m0 19h0m5-10h0m3-9h0m4 1h0m2 7h0m0-11h0m11 1h0m1 14h0m0 6h0m22 3h0m12 0h0m13-20h0m43-3h0m1 13h0m1 1h0m1-5h0m12 0h0m3-4h0m6-2h0m4 1h0m3 16h0m3 2h0m5-16h0m13 14h0m6-2h0m0-9h0m7 10h0m6 2h0m6-17h0m1 15h0m3-5h0m2-7h0m1 6h0m1-5h0m0 12h0m0 1h0m17-19h0m20 13h0m8 8h0m7-8h0m3 2h0m2-14h0m2 18h0m2-20h0m0 1h0m13 0h0m0-1h0m0 4h0m3 17h0m13-20h0m11 11h0m3-12h0m21 0h0m6 0h0m33 7h0m4-7h0m-19 27h0m-41 13h0m-22-14h0m-11 7h0m0 4h0m-1-13h0m-4 0h0m-9 3h0m-5 2h0m-6 1h0m-2-3h0m-4-1h0m-3-2h0m-3 4h0m-1 15h0m-5-3h0m-1-8h0m-3-1h0m0-5h0m-12-1h0m-2 2h0m-3-3h0m-11 2h0m-21 0h0m-8 3h0m0 4h0m0 10h0m-3-7h0m-22 4h0m-4-4h0m-18-4h0m0 11h0m-1-1h0m-5-1h0m-6-15h0m-8 3h0m-2 0h0m-44-1h0m-2 4h0m0 8h0m-12-2h0m-8 4h0m-15 3h0m-24-19h0m-1-1h0m-4 3h0m-1 5h0m-7 3h0m-2 0h0m-7 3h0m-25 5h0m-4-4h0m-6-5h0m-8-4h0m-21 3h0m-23-8h0m-1 18h0m-4-10h0m-10-9h0m-17 6h0m-7-4h0m-40 15h0m-38-7h0m-46 7h0m112 10h0m2 0h0m42 12h0m3 0h0m6-5h0m1-13h0m13 7h0m17 4h0m2 5h0m14 3h0m4-8h0m26-7h0m1 2h0m7 16h0m2-19h0m5 3h0m5 3h0m25 12h0m6-19h0m4 1h0m3 17h0m1 3h0m2-3h0m1-2h0m5-2h0m6 6h0m18-13h0m7 3h0m0-11h0m3 19h0m57-19h0m10 19h0m4-7h0m3 4h0m3-3h0m6-13h0m4 12h0m2-3h0m2-5h0m8 7h0m2-8h0m7 0h0m6 6h0m18 8h0m5 5h0m9-8h0m3 1h0m11-2h0m3-6h0m3-5h0m7-2h0m7 11h0m54 3h0m3-9h0m1-4h0m9 26h0m-91-3h0m-13 12h0m-12-4h0m-13 5h0m-5-4h0m-3 9h0m-4-2h0m-1-7h0m-3 13h0m-3-2h0m-2-10h0m-8 5h0m-16-15h0m-65 1h0m-4 10h0m-3-6h0m-3 10h0m0-16h0m-1 21h0m-21 0h0m-1-7h0m-10-2h0m-3-11h0m-1 20h0m-5 2h0m-1-3h0m-15-17h0m-7 2h0m-2 4h0m-6 0h0m-16 0h0m-37-3h0m-1 17h0m-30-7h0m-16-3h0m-1 7h0m-3-8h0m-10-6h0m-10 8h0m-16 7h0m-5 0h0m-8-4h0m-131 28h0m8-10h0m136-3h0m0-1h0m23 14h0m12 1h0m9-10h0m15-4h0m3 2h0m3 13h0m4-5h0m4-6h0m20-5h0m20 17h0m12-10h0m27-7h0m12-2h0m3 11h0m1 0h0m4 3h0m0-2h0m10 5h0m2-6h0m0-12h0m12 15h0m11-2h0m10-15h0m14 24h0m-1 18h0m-31-9h0m-11-4h0m-1 11h0m-1-17h0m-18 8h0m-9-5h0m-11 13h0m-4-8h0m-3-2h0m-18-4h0m-41 0h0m-19 7h0m-2-6h0m0 2h0m-3 18h0m-6-17h0m-1 7h0m-2-8h0m-4-3h0m-11 2h0m-4 3h0m-1-1h0m-9 3h0m-3-5h0m-2 3h0m-11 0h0m-15 0h0m-3 14h0m22 4h0m1 8h0m5-3h0m8-1h0m1 15h0m7-3h0m0-14h0m35 8h0m5-8h0m3 1h0m0 11h0m4-6h0m5-2h0m2 15h0m14-4h0m18-6h0m8-10h0m1 3h0m4-1h0m2 1h0m1 17h0m3-20h0m3 15h0m2-13h0m1 6h0m5-5h0m42-4h0m12 19h0m0-20h0m1 16h0m62 5h0m6-1h0m-27 7h0m-23 14h0m-19 6h0m-34-9h0m-7-1h0m-2-14h0m-20 14h0m-3-1h0m-16 5h0m-10-13h0m-1 6h0m-4 11h0m-2-19h0m-1 12h0m-1 9h0m-4-19h0m0 13h0m-6-10h0m-25 9h0m-3 4h0m-8-7h0m-5 4h0m-2 5h0m0-7h0m-4 1h0m-1-9h0m-2 4h0m-15-2h0m-1-7h0m-4-1h0m-3 12h0m-5-8h0m-1 8h0m-5-7h0m-4 3h0m-5 13h0m-20-13h0m-4 7h0m-3-9h0m-3 18h0m5 17h0m7-12h0m15 7h0m3-6h0m2-1h0m0 6h0m11-12h0m4 23h0m1-3h0m0-4h0m10-9h0m13 12h0m6-8h0m5-11h0m1 11h0m0-3h0m1-4h0m9 3h0m1-4h0m8-3h0m0 20h0m2-5h0m3-12h0m3 4h0m37 4h0m27 3h0m3-4h0m5-2h0m8-7h0m4-1h0m1 15h0m2-14h0m29-1h0m20 2h0m-12 45h0m-11-12h0m-3 6h0m-2 1h0m-1-14h0m-13 1h0m-32-3h0m-5 5h0m-11-7h0m-13 19h0m-5-13h0m-6 15h0m-12-21h0m-5 9h0m-5 0h0m-3-10h0m-3 0h0m-10 8h0m0 1h0m-11-5h0m-8 4h0m-6 1h0m-1-5h0m-4-3h0m-3 13h0m-1 4h0m0-7h0m-1-4h0m-4-6h0m-2 3h0m-5 7h0m0-8h0m-12 1h0m-3 7h0m-14-7h0m-2 6h0m-12 0h0m-10 3h0m-1 1h0m-1-1h0m-2 11h0m-4-8h0m2 26h0m3-17h0m3 16h0m4-1h0m5-13h0m2 17h0m15-12h0m1-3h0m20-3h0m10 19h0m1-13h0m24 8h0m10-8h0m11 16h0m10-9h0m9-5h0m7 6h0m6 0h0m3-11h0m6 3h0m9 13h0m0-14h0m10-4h0m14 9h0m2 7h0m2-1h0m15-10h0m1-3h0m16 8h0m9-6h0m0 8h0m3-14h0m0 10h0m1 4h0m1 8h0m12-8h0m1 8h0m2-21h0m1 1h0m1 3h0m1 0h0m0 2h0m1 2h0m7 1h0m2 9h0m-3 7h0m-5 20h0m-3-12h0m-24-10h0m-8 20h0m-5-9h0m-14 7h0m-17-19h0m-8 8h0m-5 4h0m-2-6h0m-8 16h0m-11-21h0m-6 2h0m-3 12h0m-17-15h0m-4 14h0m-7 5h0m-4-3h0m-2-12h0m-18 19h0m-2-6h0m-2 2h0m-3 3h0m-5-9h0m-3 11h0m0-21h0m-3 17h0m-5-2h0m-1 6h0m-5-3h0m-1 2h0m-16-2h0m-4-16h0m-22 17h0m-8-1h0m-3-18h0m-2 7h0m15 19h0m0 8h0m4-10h0m22 6h0m10 2h0m8-6h0m23 19h0m6-21h0m3 8h0m4 7h0m10 4h0m2-14h0m2-7h0m1 18h0m9 1h0m4-18h0m1 14h0m7-12h0m7 1h0m6 8h0m13 3h0m5-1h0m11-3h0m6-5h0m16-1h0m38 12h0m-25 16h0m-8-9h0m-1 6h0m-7 0h0m-3-4h0m-8 3h0m-4-3h0m-4 12h0m-19-2h0m-1-5h0m-9 8h0m-9-4h0m-16-4h0m-6 1h0m0-7h0m-43 4h0m-7 2h0m-19-5h0m110 22h0" stroke="#d3141a"/><path d="M2081 358h0m15-6h0m46-5h0m9 30h0m-83-15h0m-10 5h0m-33 35h0m28-8h0m2-3h0m9-5h0m112 13h0m-85 22h0m-36-4h0m-2 5h0m-18-4h0m-3 8h0m-3-4h0m-1-1h0m-2-6h0m-3 9h0m-1-8h0m0-2h0m-1 10h0m-1 4h0m-8-6h0m-1-1h0m-2-9h0m-30 20h0m44 13h0m8-4h0m20 0h0m5-1h0m85 7h0m5 1h0m62 5h0m3-8h0m0 0h0m269-9h0m-254 25h0m-7-1h0m-8 9h0m-18-7h0m-220 9h0m-54 30h0m24-1h0m75-15h0m22 8h0m0 7h0m159-6h0m3 25h0m-1 5h0m-51-14h0m-22 17h0m-8-14h0m-15 9h0m-3 1h0m0-4h0m-4 0h0m-7-2h0m-1 9h0m0-17h0m-21 4h0m-1 8h0m0-14h0m-2 5h0m-2 11h0m-1-12h0m0 12h0m-13-5h0m-1 3h0m-1-5h0m-1 5h0m-3-10h0m-6 0h0m-20 5h0m-16-1h0m-27-2h0m-20-2h0m-225 23h0m10 10h0m235-16h0m19 16h0m9 5h0m1-1h0m13-5h0m4 2h0m2-6h0m1 9h0m10-15h0m1 8h0m1-12h0m13-1h0m8 18h0m2-16h0m3 12h0m2 0h0m5-4h0m1-9h0m2 21h0m0-12h0m8 13h0m6-1h0m6-4h0m6-7h0m3 10h0m5 1h0m14-20h0m3 11h0m4-1h0m2 5h0m71-7h0m13 13h0m205-5h0m-10 13h0m-37-2h0m-144 4h0m-10-7h0m-7 14h0m-1-8h0m-2 4h0m-13-2h0m-27 12h0m-2-7h0m-3 3h0m-9-1h0m0 4h0m-7-3h0m-2-3h0m-5 0h0m-3-4h0m-6-9h0m-16 2h0m-15 5h0m-4 4h0m-7-10h0m-5 20h0m-4-4h0m-16-3h0m-3 6h0m-11-18h0m-11 2h0m-2 15h0m-16 2h0m-4-20h0m-1 0h0m-2-1h0m0-1h0m-4 12h0m0-13h0m-3 7h0m0 9h0m-9 2h0m-2 3h0m-2 1h0m-4-2h0m-1-5h0m-4 5h0m-3-4h0m-6-1h0m-3 8h0m-8 1h0m-282 23h0m36-2h0m10-7h0m100 7h0m33-7h0m109 3h0m5 0h0m8-17h0m6 21h0m3-18h0m4 15h0m4-15h0m1 10h0m5-8h0m8-2h0m1 7h0m6 1h0m5 6h0m6-3h0m10-2h0m9-6h0m4 2h0m19 7h0m4 0h0m0-7h0m1-4h0m1 8h0m3 6h0m2-12h0m9-4h0m6 19h0m0 3h0m6-13h0m1-6h0m1 7h0m2-8h0m0 11h0m2-5h0m6 4h0m3-13h0m1 8h0m3 14h0m2-2h0m2-2h0m15-14h0m11 15h0m30-11h0m4-6h0m0 20h0m1-1h0m11-17h0m4 10h0m4 1h0m2-6h0m15 35h0m-1-2h0m-2-15h0m-1 15h0m-13-2h0m-11-14h0m-4 17h0m-36 3h0m-4-10h0m-4 0h0m-5 1h0m-5 2h0m-20 2h0m-3-8h0m-6 2h0m-10 12h0m-2-10h0m-1-7h0m-4 15h0m-2-14h0m-3 4h0m0 8h0m-2-13h0m-1 5h0m-3 8h0m0-6h0m-1 6h0m-3 3h0m0-9h0m-1-5h0m-1 4h0m0 7h0m-1-15h0m0 11h0m-4-15h0m-8 9h0m-2 5h0m-3 5h0m-4 0h0m-5 0h0m-19-11h0m-13 10h0m-4-1h0m-4-4h0m-18-10h0m-6 10h0m-8 1h0m-3 3h0m-4 6h0m-3-20h0m-43 3h0m-4-2h0m-46 12h0m-12-10h0m-81 16h0m-41-4h0m-17-6h0m-4-13h0m-8 10h0m-4-3h0m-1-7h0m-24 1h0m-4 13h0m-3-3h0m-14 29h0m9-2h0m5-5h0m10 3h0m11 8h0m1 4h0m55-7h0m1-14h0m9 8h0m7 8h0m3-6h0m7 10h0m62-13h0m147-1h0m2-4h0m5 14h0m2-4h0m5 8h0m7-12h0m2-6h0m7 17h0m2-21h0m16 7h0m13-6h0m6 4h0m3 8h0m1 1h0m4-3h0m2-5h0m2 13h0m0-13h0m10 6h0m5-8h0m2 4h0m4 15h0m2-21h0m14 15h0m3 2h0m0 0h0m4-5h0m1 7h0m5-10h0m3-4h0m5-1h0m38-2h0m6-3h0m13 20h0m16-19h0m2 8h0m2 11h0m3 1h0m0-4h0m3 5h0m21-19h0m0-4h0m10 2h0m56 43h0m-93-12h0m-1-8h0m-4 3h0m-3-2h0m-8 4h0m0 6h0m-4 2h0m-1 4h0m-1 1h0m0 1h0m-1-13h0m-4 9h0m0-9h0m-4 1h0m-2 9h0m0-12h0m-1 2h0m-1-4h0m-1 8h0m0 7h0m-6-14h0m-11 1h0m-6-2h0m0 4h0m-1 8h0m0-7h0m0 5h0m-1-13h0m-4 17h0m-3-13h0m-3-4h0m-18 20h0m0-18h0m-1 17h0m-7-3h0m-3 1h0m-4 2h0m-3-9h0m0-6h0m-3 4h0m0-5h0m-3 7h0m-1 10h0m-3-14h0m-3 6h0m-10-10h0m-2 11h0m-5-7h0m-3-5h0m-1 13h0m-2-10h0m-1 5h0m-4 3h0m-6 10h0m0-4h0m-19-9h0m-24 14h0m-84-19h0m-121 17h0m-1-11h0m-3 6h0m-1-16h0m-1 22h0m-1-4h0m-23-5h0m-3 3h0m-5-10h0m-7-1h0m-33 0h0m-3-1h0m-3 10h0m-4-12h0m-1 20h0m-2-8h0m-4-5h0m-1 13h0m-3-13h0m-2 13h0m-2-10h0m0-9h0m-1 4h0m0 7h0m-1 3h0m-4 5h0m-3-6h0m-10-17h0m-10 12h0m-4-6h0m-3 2h0m22 37h0m6-18h0m3 6h0m2 15h0m1-20h0m5 20h0m1-19h0m20-3h0m1 2h0m5 14h0m2-9h0m1 2h0m0 10h0m5-13h0m13 9h0m12 1h0m36-11h0m2-2h0m6 15h0m2-19h0m2 16h0m2-12h0m0 16h0m1-14h0m175-6h0m20 2h0m44 0h0m20 7h0m6 0h0m1-1h0m0 7h0m2-11h0m1-4h0m2 11h0m2-12h0m17 1h0m7 3h0m4-2h0m1-1h0m1 4h0m12-1h0m2 8h0m1 5h0m2-2h0m16 2h0m21-15h0m2 3h0m1 11h0m1-9h0m3-3h0m0 10h0m5-14h0m1 1h0m37 25h0m-103 8h0m-282 8h0m-1 0h0m-4 1h0m-34-14h0m-3 7h0m-6 5h0m-10 6h0m-2-12h0m-2 9h0m-1-2h0m-2-16h0m-1 3h0m-8 7h0m-3 0h0m0 4h0m-1 4h0m-2-5h0m-1 1h0m-1-1h0m-1-8h0m0 5h0m-3 5h0m-4-16h0m0 18h0m-7 1h0m0-14h0m-2 10h0m-2 5h0m-1-7h0m-4 6h0m-16-17h0m-9 9h0m-1 3h0m-4-10h0m-3 13h0m-1-10h0m9 35h0m2-17h0m3 10h0m4-12h0m2 3h0m4-2h0m12 7h0m6 14h0m9-16h0m11 4h0m4 2h0m2 0h0m6 1h0m4-1h0m2-7h0m0-4h0m0 4h0m8 9h0m23-12h0m5 8h0m4 6h0m2 3h0m1-11h0m15 4h0m5 6h0m50 0h0m9-9h0m3 3h0m179 10h0m-122 19h0m-2-8h0m-54 0h0m-6-8h0m-7 20h0m-6-13h0m-5 8h0m-9 3h0m-19-14h0m-1 6h0m-7 1h0m-3-12h0m-4 9h0m-27 0h0m-15-1h0m-4 15h0m-2-6h0m-1-5h0m-1-3h0m-6 2h0m-1-4h0m-2 7h0m-3-6h0m-2 3h0m-6 8h0m-1-16h0m-9 20h0m-9-14h0m-7 14h0m-5-22h0m-8 16h0m-5 6h0m-1-3h0m0-4h0m-5 1h0m-3-3h0m3 13h0m10-2h0m1 12h0m2-6h0m3-1h0m1-6h0m1 5h0m2 5h0m4 5h0m3-5h0m3 8h0m8-9h0m1 12h0m0-19h0m1 12h0m2 3h0m4-13h0m1-3h0m5 5h0m4 10h0m3 3h0m9-19h0m5 22h0m0 2h0m23-1h0m4-3h0m12-8h0m1 5h0m3-6h0m2-9h0m2 13h0m1-3h0m0-6h0m3 13h0m0 0h0m2-6h0m0 6h0m1-7h0m2 7h0m1-17h0m1 1h0m2 6h0m7 10h0m5-1h0m3-4h0m1 4h0m4-6h0m2 7h0m3-5h0m2 0h0m52-14h0m13 4h0m-4 44h0m-7-9h0m-38-13h0m-6 19h0m-11 3h0m-25-22h0m-24 10h0m-14 6h0m-4-6h0m-2-1h0m-23 2h0m-13-12h0m-8 9h0m-3 6h0m-10-1h0m-11-6h0m-1 7h0m0 30h0m1 1h0m2-5h0m5 5h0m0-8h0m2-4h0m7-4h0m1 14h0m0-2h0m0-4h0m3-4h0m3 2h0m1-10h0m36 16h0m17-3h0m10-6h0m5-1h0m10-5h0m6 14h0m1 3h0m1-4h0m5-9h0m1-6h0m5 5h0m1 16h0m0-21h0m6 2h0m5 19h0m0-20h0m6 17h0m3-20h0m3 1h0m2 13h0m1-11h0m2 13h0m46-8h0m3-4h0m10 6h0m14-9h0m4 28h0m-22 7h0m-3 3h0m-58 0h0m-1 5h0m-1-12h0m-3-4h0m0 1h0m-2 3h0m0 12h0m-11-7h0m0 7h0m-2-11h0m-4 9h0m-2 2h0m-2 3h0m-1-5h0m-5-5h0m-27 4h0m-2-6h0m-1-2h0m-12-4h0m-6 13h0m-6-6h0m-2 6h0m-4-5h0m-1-6h0m-14-5h0m-2 14h0m0 7h0m-1-12h0m0-4h0m-3 14h0m-5 2h0m-2-22h0m0-1h0m-1 8h0m-13-3h0m-2-2h0m15 31h0m1-7h0m5 5h0m1-8h0m1 4h0m3 14h0m5-10h0m6-4h0m4 16h0m5-19h0m1 0h0m3 22h0m1-22h0m8 9h0m33 9h0m10-7h0m1 10h0m1-14h0m9-3h0m2 16h0m5 0h0m1-17h0m15-3h0m3 5h0m13-4h0m10 10h0m45-7h0m22-4h0m-65 31h0m-3-4h0m-45 0h0m-3 1h0m-10 3h0m-1 6h0m-1-4h0m-1-5h0m0 15h0m-4 2h0m-3-14h0m0 10h0m-3-15h0m-2 1h0m-13 2h0m-10 13h0m-12-5h0m-14 22h0m2-5h0m14-5h0m4 7h0m1 12h0m4-1h0m5-7h0m1 10h0m0-6h0m0-8h0m4 0h0m1-6h0m1 20h0m17-6h0m3 4h0m3-5h0m0 27h0m-3-2h0m-3 5h0m-2-5h0m0-7h0m-4 6h0m-19 14h0m1 11h0m2 3h0m1-5h0m0 6h0m13 1h0m4-3h0m15 24h0m-3 3h0m-8-6h0m-5-4h0m20 17h0m5 4h0" stroke="#f17c69"/><path d="M2060 310h0m9 1h0m25-2h0m40 12h0m-23-4h0m-12 5h0m-4-9h0m-1-1h0m-3 1h0m-3 4h0m-33 13h0m-4-18h0m0 16h0m-9-9h0m-17 14h0m-1-7h0m-7 10h0m-2-6h0m-15 28h0m6-1h0m1 0h0m4-8h0m0 8h0m1-18h0m15 16h0m0-7h0m32 7h0m7-2h0m3 3h0m2-5h0m9-6h0m7 6h0m9-6h0m2 1h0m14 5h0m2 8h0m9-22h0m5 14h0m10 3h0m2 0h0m2-2h0m0 0h0m2-11h0m3 8h0m1 4h0m0-10h0m1-5h0m16 3h0m-52 20h0m-18 3h0m-9 5h0m-5 11h0m-6-3h0m-2-14h0m-8 1h0m-1 1h0m-3 18h0m0-9h0m-4-1h0m-1-12h0m-7 18h0m-23-10h0m0-8h0m-17 6h0m-10 14h0m-1 1h0m-29 25h0m4-19h0m11 14h0m2-16h0m1 21h0m2-3h0m3 3h0m1-23h0m3 13h0m3 6h0m0-16h0m4 2h0m0 13h0m1-4h0m19-6h0m3 2h0m7-7h0m3-1h0m22-1h0m20-1h0m-19 28h0m-1-2h0m0 3h0m-9 10h0m-33 3h0m-6-3h0m-4-15h0m-2 19h0m-7 2h0m-3-14h0m-4 14h0m-10-16h0m-6 13h0m-11-3h0m-7 7h0m-22-9h0m-10 4h0m-1 3h0m-8 0h0m-41 27h0m4-5h0m4 2h0m6 0h0m4 0h0m5-12h0m16 6h0m2-8h0m2 7h0m2-3h0m0 5h0m4-4h0m1 12h0m4-11h0m4-11h0m2 8h0m0 10h0m8 1h0m13-14h0m3-3h0m7 6h0m7 10h0m3-19h0m0 10h0m6-1h0m0-5h0m14-1h0m28 13h0m3 1h0m9 1h0m-13 19h0m-1-4h0m-14 12h0m-7-18h0m-10 8h0m-1-10h0m-6 20h0m-8 0h0m-25-18h0m-3 17h0m-6-2h0m-7 1h0m-2-1h0m-1-4h0m-14-12h0m-3-2h0m-3 5h0m-7-1h0m-3 15h0m-5-14h0m-21-1h0m-6 3h0m-6 17h0m-5-1h0m-137-12h0m-5-7h0m135 43h0m0-5h0m1 1h0m3-2h0m4-11h0m4 1h0m2 2h0m0 8h0m6-5h0m1-11h0m3 13h0m10-5h0m0 6h0m1-1h0m8 6h0m1-15h0m2 13h0m1-6h0m3 1h0m1-6h0m1 5h0m2-7h0m6-3h0m4 15h0m0 5h0m5-3h0m0-18h0m1 23h0m2-3h0m1-12h0m3 1h0m9 9h0m1 4h0m4-15h0m1 9h0m6 5h0m12-15h0m2 3h0m7 4h0m2 4h0m2-11h0m4-5h0m19 16h0m5-18h0m-11 33h0m-2 6h0m-11 5h0m-13-17h0m-9 18h0m-5-1h0m0-13h0m-5 15h0m-6-12h0m-4-8h0m-2-2h0m0 18h0m-1-9h0m-3 2h0m-2 2h0m-3-4h0m-1-1h0m-1-2h0m-2 3h0m-4-4h0m-7-1h0m-9 20h0m-6-5h0m-2-3h0m-1 5h0m-2-2h0m-1-4h0m-1-7h0m-3 9h0m-3-4h0m-1 8h0m-3-9h0m-2 0h0m-7 6h0m0-12h0m-2 6h0m-3 5h0m-8-3h0m-6-13h0m-12 34h0m1-2h0m29-2h0m2-3h0m13 1h0m25-2h0m10 15h0m3-14h0m7 9h0m2 0h0m6 8h0m2 0h0m2-20h0m1 9h0m0 14h0m0-21h0m2 3h0m4 12h0m2-12h0m4-5h0m2 18h0m4-4h0m1-12h0m13 20h0m1-16h0m3 2h0m6 8h0m-14 17h0m-1 3h0m-9 3h0m-4 5h0m-2-9h0m-1-7h0m-2 13h0m-45-3h0m-6 4h0m0 2h0m-13-4h0m-30-5h0m-3-4h0m-2 8h0m-17-2h0m-5-8h0m-1-3h0m-1 8h0m-5 3h0m-9 4h0m-13-4h0m-7-8h0m-1 3h0m-17 13h0m-14 19h0m2 4h0m1-12h0m3-4h0m1 13h0m1-5h0m1-11h0m3 21h0m27-15h0m5-2h0m6-1h0m3 12h0m1-5h0m0-10h0m3 18h0m7 0h0m3-10h0m1 5h0m2-2h0m1 9h0m1-10h0m0 7h0m0-12h0m3 3h0m4-1h0m4 3h0m4-4h0m5 2h0m2-6h0m1 5h0m7 11h0m1-10h0m1 7h0m6-13h0m5-2h0m13 14h0m11-12h0m6 2h0m26-5h0m6 4h0m-47 28h0m-14 10h0m-1-19h0m-2 0h0m-3 16h0m-1-3h0m0 4h0m-1-9h0m-4 2h0m-1 3h0m-28 7h0m0-19h0m-2 3h0m-1 13h0m-2-9h0m-1 14h0m0-15h0m0 2h0m-5-4h0m-2 13h0m-3-16h0m-1 5h0m-1 12h0m-1-13h0m0 8h0m-1-9h0m-1 6h0m0 11h0m0-9h0m-4-1h0m-13 1h0m-6-2h0m-4-4h0m-8 4h0m-4 3h0m-70 34h0m99-20h0m0 8h0m1-5h0m1-5h0m0 8h0m1 1h0m2 3h0m1-1h0m0-2h0m1 1h0m20-7h0m7 18h0m4-13h0m2 13h0m2-8h0m4-3h0m0 4h0m1-12h0m1 15h0m5-3h0m0-1h0m3-13h0m10 4h0m-95 19h0m-78 24h0m130 35h0m-60 5h0m8 17h0m79 1h0m27 32h0m-27-17h0m-28 17h0m-4-8h0m-12 18h0m45 4h0m27 7h0m7 2h0m-19 23h0m-5 3h0m-24 11h0m11 3h0m71 32h0m-52-5h0m-25-13h0m-16 3h0m-41 10h0m132 31h0m14 2h0m7-3h0m17-10h0" stroke="#78a9de"/><path d="M2303 404h0m3-16h0m4-3h0m6 11h0m0-5h0m-174 36h0m-42-13h0m-47 7h0m-5-5h0m3 36h0m3-5h0m6 0h0m1 9h0m3-15h0m7 9h0m1-8h0m1-1h0m3 0h0m1 8h0m1-1h0m0-3h0m2-7h0m0 5h0m1 8h0m1-15h0m1 12h0m1-10h0m0 3h0m0-3h0m1 7h0m0-3h0m1 4h0m1-7h0m1 1h0m0 3h0m0-8h0m0 11h0m0-4h0m3 1h0m1-5h0m0 3h0m1 1h0m1 1h0m1-4h0m0 6h0m0-1h0m1-11h0m0 16h0m0-17h0m3 10h0m0 6h0m2 1h0m2-12h0m0 0h0m1 12h0m0-11h0m2 3h0m0-3h0m1 9h0m0-12h0m2 8h0m3-8h0m2 10h0m2 0h0m3-5h0m1-2h0m2 14h0m2-4h0m1-8h0m1 14h0m2-3h0m1-6h0m9 4h0m3 1h0m40-12h0m17 15h0m1-7h0m4 14h0m-11 0h0m-20 13h0m-1 0h0m-2 2h0m-1-15h0m0-2h0m-1 20h0m-2-21h0m0 5h0m0 11h0m-2-4h0m0-9h0m-1 4h0m-2 8h0m0 0h0m-3-14h0m-3 10h0m-3 4h0m-3-5h0m0-9h0m-1 9h0m-1-2h0m-1 12h0m-1-6h0m-1-11h0m0-4h0m-3 20h0m-1 4h0m-1-4h0m0-5h0m-1 1h0m-1 0h0m0 2h0m-4-4h0m-1 5h0m-2 1h0m-4-2h0m-1-4h0m-3-12h0m0 16h0m-1-12h0m-5 11h0m-2-14h0m-2 21h0m-1-14h0m-6 6h0m-2-12h0m-4 1h0m-1 18h0m-6-12h0m-1 13h0m-1-4h0m-3-10h0m-4-8h0m-1 3h0m-1 18h0m-1-4h0m0-4h0m-4 0h0m0-5h0m-3-7h0m-1 19h0m-2-12h0m0 5h0m-1-1h0m-4-10h0m0 7h0m-1 6h0m0 5h0m0-18h0m-7-2h0m-1 18h0m0-9h0m-3-3h0m-1 5h0m0 8h0m0-20h0m-1 20h0m0-4h0m-3-15h0m-1 11h0m-2-13h0m0 17h0m0-3h0m-1-2h0m0 6h0m-1-4h0m0 5h0m-2-10h0m10 19h0m12 5h0m1-6h0m0-1h0m1-1h0m1 3h0m1 7h0m0 1h0m6-2h0m4-4h0m1 7h0m4-13h0m0 1h0m7 14h0m4-3h0m1-3h0m1-3h0m0-2h0m8 16h0m3-18h0m1 17h0m2-10h0m2 8h0m2-17h0m2 19h0m3 0h0m7-2h0m1-8h0m4-5h0m3 18h0m0-12h0m3 6h0m0-15h0m0 15h0m1-13h0m1 15h0m0 2h0m1-12h0m1 0h0m1 5h0m0 5h0m4-17h0m0 0h0m0 9h0m2 8h0m1-8h0m2-6h0m0 7h0m1-2h0m0 1h0m1 5h0m2 1h0m0 5h0m2-14h0m2 8h0m2-13h0m6 21h0m1-15h0m1 3h0m2 10h0m5-11h0m1-3h0m4-4h0m19 15h0m3 5h0m2-7h0m-24 14h0m-15 17h0m-3-19h0m0 15h0m-12-4h0m-9 1h0m-3-13h0m-1 14h0m-48-1h0m-7 30h0m48-2h0m4-19h0m0 20h0m3-16h0m10-3h0m2 0h0m-10 46h0m-3-23h0m-57 1h0m-299 333h0m2 0h0m14 23h0m-14-9h0m-1-8h0m-3 4h0m-3-6h0m-3 4h0m-11 7h0m15 28h0m10-2h0m13-4h0" stroke="#2a5db0"/><path d="M1709 217h0m-26 18h0m-2-5h0m-11-3h0m4 27h0m33 14h0m-18 16h0m-12-19h0m-1 20h0m-2-11h0m-8 74h0m4 5h0m4 23h0m-5-4h0m-10 14h0m8 19h0m27-1h0m-5 8h0m20 48h0m0 97h0" stroke="#7b2a6c"/></g>
<rect x="1392.0" y="52.9" width="34.8" height="72.3" fill="#882e72"/>
<rect x="1435.5" y="52.9" width="63.7" height="72.3" fill="#f67646"/>
<rect x="1500.2" y="52.9" width="64.9" height="72.3" fill="#fdb567"/>
<rect x="1566.1" y="52.9" width="64.7" height="72.3" fill="#a50026"/>
<rect x="1631.8" y="52.9" width="64.6" height="72.3" fill="#313695"/>
<rect x="1392.0" y="126.2" width="34.8" height="72.5" fill="#1965b0"/>
<rect x="1435.5" y="126.2" width="63.7" height="72.5" fill="#edf7e0"/>
<rect x="1500.2" y="126.2" width="64.9" height="72.5" fill="#cce8f2"/>
<rect x="1566.1" y="126.2" width="64.7" height="72.5" fill="#436fb1"/>
<rect x="1631.8" y="126.2" width="64.6" height="72.5" fill="#f99655"/>
<rect x="1392.0" y="199.7" width="34.8" height="72.8" fill="#7bafde"/>
<rect x="1435.5" y="199.7" width="63.7" height="72.8" fill="#fef2ae"/>
<rect x="1500.2" y="199.7" width="64.9" height="72.8" fill="#fef0ab"/>
<rect x="1566.1" y="199.7" width="64.7" height="72.8" fill="#c9e6f0"/>
<rect x="1631.8" y="199.7" width="64.6" height="72.8" fill="#5388bf"/>
<rect x="1392.0" y="273.5" width="34.8" height="72.7" fill="#fb8072"/>
<rect x="1435.5" y="273.5" width="63.7" height="72.7" fill="#fdaa5f"/>
<rect x="1500.2" y="273.5" width="64.9" height="72.7" fill="#fef0ab"/>
<rect x="1566.1" y="273.5" width="64.7" height="72.7" fill="#3d5ea8"/>
<rect x="1631.8" y="273.5" width="64.6" height="72.7" fill="#4062aa"/>
<rect x="1392.0" y="347.2" width="34.8" height="72.7" fill="#dc050c"/>
<rect x="1435.5" y="347.2" width="63.7" height="72.7" fill="#f5fad3"/>
<rect x="1500.2" y="347.2" width="64.9" height="72.7" fill="#7ab0d3"/>
<rect x="1566.1" y="347.2" width="64.7" height="72.7" fill="#3f62aa"/>
<rect x="1631.8" y="347.2" width="64.6" height="72.7" fill="#3a4ea1"/>
<defs><linearGradient id="rdylbu" x1="0" y1="0" x2="0" y2="1">
<stop offset="0" stop-color="#a50026"/><stop offset="0.03" stop-color="#a50026"/><stop offset="0.127" stop-color="#d73027"/><stop offset="0.224" stop-color="#f46d43"/><stop offset="0.321" stop-color="#fdae61"/>
<stop offset="0.418" stop-color="#fee090"/><stop offset="0.515" stop-color="#ffffbf"/><stop offset="0.612" stop-color="#e0f3f8"/><stop offset="0.709" stop-color="#abd9e9"/>
<stop offset="0.806" stop-color="#74add1"/><stop offset="0.903" stop-color="#4575b4"/><stop offset="0.975" stop-color="#313695"/><stop offset="1" stop-color="#313695"/></linearGradient>
<linearGradient id="gbar" x1="0" y1="0" x2="1" y2="0"><stop offset="0" stop-color="#d01c00"/><stop offset="0.53" stop-color="#cccccc"/><stop offset="1" stop-color="#4328cd"/></linearGradient></defs>
<rect x="1743.4" y="102.0" width="42.3" height="257.0" fill="url(#rdylbu)"/>
<line x1="1743.4" y1="110.0" x2="1752.4" y2="110.0" stroke="#fff" stroke-width="2.2"/>
<line x1="1776.7" y1="110.0" x2="1785.7" y2="110.0" stroke="#fff" stroke-width="2.2"/>
<text x="1792.5" y="118.5" font-size="25">1</text>
<line x1="1743.4" y1="158.5" x2="1752.4" y2="158.5" stroke="#fff" stroke-width="2.2"/>
<line x1="1776.7" y1="158.5" x2="1785.7" y2="158.5" stroke="#fff" stroke-width="2.2"/>
<text x="1792.5" y="167.0" font-size="25">0.8</text>
<line x1="1743.4" y1="207.0" x2="1752.4" y2="207.0" stroke="#fff" stroke-width="2.2"/>
<line x1="1776.7" y1="207.0" x2="1785.7" y2="207.0" stroke="#fff" stroke-width="2.2"/>
<text x="1792.5" y="215.5" font-size="25">0.6</text>
<line x1="1743.4" y1="255.5" x2="1752.4" y2="255.5" stroke="#fff" stroke-width="2.2"/>
<line x1="1776.7" y1="255.5" x2="1785.7" y2="255.5" stroke="#fff" stroke-width="2.2"/>
<text x="1792.5" y="264.0" font-size="25">0.4</text>
<line x1="1743.4" y1="304.0" x2="1752.4" y2="304.0" stroke="#fff" stroke-width="2.2"/>
<line x1="1776.7" y1="304.0" x2="1785.7" y2="304.0" stroke="#fff" stroke-width="2.2"/>
<text x="1792.5" y="312.5" font-size="25">0.2</text>
<line x1="1743.4" y1="352.5" x2="1752.4" y2="352.5" stroke="#fff" stroke-width="2.2"/>
<line x1="1776.7" y1="352.5" x2="1785.7" y2="352.5" stroke="#fff" stroke-width="2.2"/>
<text x="1792.5" y="361.0" font-size="25">0</text>
<text font-size="25" textLength="110.5" lengthAdjust="spacingAndGlyphs" transform="translate(1419.5,541.5) rotate(-90)">cluster_ID</text>
<text font-size="25" textLength="54.4" lengthAdjust="spacingAndGlyphs" transform="translate(1473.5,487.0) rotate(-90)">CD45</text>
<text font-size="25" textLength="86.0" lengthAdjust="spacingAndGlyphs" transform="translate(1539.5,520.0) rotate(-90)">CD45RA</text>
<text font-size="25" textLength="55.0" lengthAdjust="spacingAndGlyphs" transform="translate(1610.0,489.0) rotate(-90)">CD19</text>
<text font-size="25" textLength="54.7" lengthAdjust="spacingAndGlyphs" transform="translate(1671.5,491.7) rotate(-90)">CD34</text>
<rect x="137.6" y="716.9" width="41.1" height="41.4" fill="#882e72"/>
<rect x="137.6" y="758.3" width="41.1" height="40.0" fill="#7bafde"/>
<rect x="137.6" y="798.3" width="41.1" height="28.7" fill="#1965b0"/>
<rect x="137.6" y="827.0" width="41.1" height="134.3" fill="#fb8072"/>
<rect x="137.6" y="961.3" width="41.1" height="245.5" fill="#dc050c"/>
<rect x="184.2" y="716.9" width="44.8" height="1.8" fill="#882e72"/>
<rect x="184.2" y="718.7" width="44.8" height="84.8" fill="#7bafde"/>
<rect x="184.2" y="803.5" width="44.8" height="44.8" fill="#1965b0"/>
<rect x="184.2" y="848.3" width="44.8" height="117.0" fill="#fb8072"/>
<rect x="184.2" y="965.3" width="44.8" height="241.5" fill="#dc050c"/>
<rect x="234.5" y="716.9" width="44.8" height="1.8" fill="#882e72"/>
<rect x="234.5" y="718.7" width="44.8" height="77.1" fill="#7bafde"/>
<rect x="234.5" y="795.8" width="44.8" height="56.5" fill="#1965b0"/>
<rect x="234.5" y="852.3" width="44.8" height="118.2" fill="#fb8072"/>
<rect x="234.5" y="970.5" width="44.8" height="236.3" fill="#dc050c"/>
<rect x="285.9" y="716.9" width="41.8" height="58.3" fill="#882e72"/>
<rect x="285.9" y="775.2" width="41.8" height="37.5" fill="#7bafde"/>
<rect x="285.9" y="812.7" width="41.8" height="19.0" fill="#1965b0"/>
<rect x="285.9" y="831.7" width="41.8" height="99.9" fill="#fb8072"/>
<rect x="285.9" y="931.6" width="41.8" height="275.2" fill="#dc050c"/>
<text x="121.5" y="723.2" font-size="18" text-anchor="end" textLength="21.6" lengthAdjust="spacingAndGlyphs" fill="#333">00</text>
<line x1="126.6" y1="716.9" x2="132.0" y2="716.9" stroke="#444" stroke-width="1.5"/>
<text x="121.5" y="845.0" font-size="18" text-anchor="end" textLength="21.6" lengthAdjust="spacingAndGlyphs" fill="#333">75</text>
<line x1="126.6" y1="838.7" x2="132.0" y2="838.7" stroke="#444" stroke-width="1.5"/>
<text x="121.5" y="967.6" font-size="18" text-anchor="end" textLength="21.6" lengthAdjust="spacingAndGlyphs" fill="#333">50</text>
<line x1="126.6" y1="961.3" x2="132.0" y2="961.3" stroke="#444" stroke-width="1.5"/>
<text x="121.5" y="1090.2" font-size="18" text-anchor="end" textLength="21.6" lengthAdjust="spacingAndGlyphs" fill="#333">25</text>
<line x1="126.6" y1="1083.9" x2="132.0" y2="1083.9" stroke="#444" stroke-width="1.5"/>
<text x="121.5" y="1213.1" font-size="18" text-anchor="end" textLength="10.8" lengthAdjust="spacingAndGlyphs" fill="#333">0</text>
<line x1="126.6" y1="1206.8" x2="132.0" y2="1206.8" stroke="#444" stroke-width="1.5"/>
<line x1="175.0" y1="1215.0" x2="326.8" y2="1215.0" stroke="#cfcfcf" stroke-width="1.8"/>
<line x1="203.3" y1="1214.2" x2="203.3" y2="1222.5" stroke="#555" stroke-width="2.6"/>
<line x1="250.2" y1="1214.2" x2="250.2" y2="1222.5" stroke="#555" stroke-width="2.6"/>
<line x1="298.1" y1="1214.2" x2="298.1" y2="1222.5" stroke="#555" stroke-width="2.6"/>
<path d="M129.5 1213.5a6 7 0 0 0 12 0M146 1213.5a6 7 0 0 0 12 0" fill="none" stroke="#ecd2ad" stroke-width="3"/>
<path d="M130.5 1213.5a5 5.5 0 0 0 10 0M147 1213.5a5 5.5 0 0 0 10 0" fill="none" stroke="#93ace6" stroke-width="1.6"/>
<text font-size="25" textLength="66.1" lengthAdjust="spacingAndGlyphs" transform="translate(170.5,1294.9) rotate(-90)">MIFF3</text>
<text font-size="25" textLength="58.7" lengthAdjust="spacingAndGlyphs" transform="translate(219.0,1287.5) rotate(-90)">ER2.1</text>
<text font-size="25" textLength="58.7" lengthAdjust="spacingAndGlyphs" transform="translate(266.0,1287.5) rotate(-90)">ER2.8</text>
<text font-size="25" textLength="25.7" lengthAdjust="spacingAndGlyphs" transform="translate(315.5,1254.5) rotate(-90)">D5</text>
<text font-size="24" text-anchor="middle" textLength="162.6" lengthAdjust="spacingAndGlyphs" transform="translate(68.0,967.0) rotate(-90)">Proportion [%]</text>
<line x1="549.8" y1="704.5" x2="1063.5" y2="704.5" stroke="#e9e9e9" stroke-width="3"/>
<line x1="549.8" y1="800.0" x2="1063.5" y2="800.0" stroke="#e9e9e9" stroke-width="3"/>
<line x1="549.8" y1="895.3" x2="1063.5" y2="895.3" stroke="#e9e9e9" stroke-width="3"/>
<line x1="549.8" y1="990.5" x2="1063.5" y2="990.5" stroke="#e9e9e9" stroke-width="3"/>
<line x1="549.8" y1="1086.5" x2="1063.5" y2="1086.5" stroke="#e9e9e9" stroke-width="3"/>
<line x1="549.8" y1="1181.7" x2="1063.5" y2="1181.7" stroke="#e9e9e9" stroke-width="3"/>
<line x1="649.3" y1="683.8" x2="649.3" y2="1196.8" stroke="#e9e9e9" stroke-width="3"/>
<line x1="771.1" y1="683.8" x2="771.1" y2="1196.8" stroke="#e9e9e9" stroke-width="3"/>
<line x1="893.3" y1="683.8" x2="893.3" y2="1196.8" stroke="#e9e9e9" stroke-width="3"/>
<line x1="1015.2" y1="683.8" x2="1015.2" y2="1196.8" stroke="#e9e9e9" stroke-width="3"/>
<text x="536.8" y="713.0" font-size="19.5" text-anchor="end" textLength="23.9" lengthAdjust="spacingAndGlyphs">15</text>
<text x="536.8" y="808.5" font-size="19.5" text-anchor="end" textLength="23.9" lengthAdjust="spacingAndGlyphs">10</text>
<text x="536.8" y="903.8" font-size="19.5" text-anchor="end" textLength="11.9" lengthAdjust="spacingAndGlyphs">5</text>
<text x="536.8" y="999.0" font-size="19.5" text-anchor="end" textLength="11.9" lengthAdjust="spacingAndGlyphs">0</text>
<text x="536.8" y="1095.0" font-size="19.5" text-anchor="end" textLength="25.5" lengthAdjust="spacingAndGlyphs">−5</text>
<text x="536.8" y="1190.2" font-size="19.5" text-anchor="end" textLength="37.8" lengthAdjust="spacingAndGlyphs">−10</text>
<text x="649.3" y="1227.6" font-size="19.5" text-anchor="middle" textLength="25.5" lengthAdjust="spacingAndGlyphs">−5</text>
<text x="771.1" y="1227.6" font-size="19.5" text-anchor="middle" textLength="11.9" lengthAdjust="spacingAndGlyphs">0</text>
<text x="893.3" y="1227.6" font-size="19.5" text-anchor="middle" textLength="11.9" lengthAdjust="spacingAndGlyphs">5</text>
<text x="1015.2" y="1227.6" font-size="19.5" text-anchor="middle" textLength="23.9" lengthAdjust="spacingAndGlyphs">10</text>
<text x="796.7" y="1261.5" font-size="26" text-anchor="middle" textLength="138.0" lengthAdjust="spacingAndGlyphs">UMAP dim.1</text>
<text font-size="26" text-anchor="middle" textLength="138.0" lengthAdjust="spacingAndGlyphs" transform="translate(476.0,953.0) rotate(-90)">UMAP dim.2</text>
<g transform="scale(.5)" fill="none" stroke-width="12.2" stroke-linecap="round" stroke-opacity="0.95"><path d="M1898 1912h0m-233 104h0m-149-1h0m0-4h0m-6 2h0m-4-5h0m-3-2h0m-2 0h0m-2 1h0m0 0h0m-2 3h0m-1 4h0m-2-2h0m0 3h0m-3-5h0m-74 5h0m-2-3h0m-3 0h0m-2 2h0m-3-6h0m-2 2h0m-1 5h0m-1-4h0m-1 5h0m-1-1h0m-2-5h0m0 4h0m0 1h0m-1-11h0m-3 10h0m-2 1h0m-1-15h0m-6 12h0m-1 4h0m0-3h0m-2-6h0m-6-3h0m0 3h0m-5 0h0m0 6h0m-1-9h0m0 4h0m-1 3h0m-3-2h0m0 5h0m-1 0h0m-3-2h0m0 4h0m-4 0h0m-4-1h0m-11 21h0m6-4h0m1 2h0m0 3h0m2-2h0m0-4h0m0 8h0m0-11h0m0-4h0m1 14h0m1-18h0m1 12h0m1 4h0m1-9h0m0-11h0m3 5h0m0 10h0m1 1h0m0-14h0m2 21h0m1 0h0m0-7h0m1-10h0m1 14h0m1-3h0m1-17h0m2 5h0m0 15h0m1-18h0m1 2h0m1 1h0m0 19h0m0-16h0m1 4h0m3-7h0m0-4h0m4 1h0m1 1h0m3-1h0m0 14h0m1 5h0m1-13h0m1-7h0m0 20h0m4-16h0m0 12h0m0-5h0m1 5h0m3-1h0m1-14h0m1 20h0m2-9h0m0 2h0m0-10h0m1 13h0m0-9h0m1-6h0m1-3h0m0 14h0m1 0h0m1-12h0m0 8h0m1 0h0m0-5h0m1 2h0m0 5h0m0-10h0m2 13h0m1-14h0m1 11h0m0-3h0m0 7h0m1-16h0m0 19h0m1-14h0m0-1h0m1 7h0m1-9h0m1 6h0m0-6h0m1 12h0m0-11h0m0-3h0m1 10h0m1-5h0m0 1h0m2-3h0m2 10h0m3-7h0m3 5h0m1 11h0m2-1h0m1-4h0m4 0h0m1-4h0m1-2h0m2 12h0m0-14h0m0 7h0m1 1h0m4 6h0m0-8h0m1-3h0m3 3h0m0 1h0m1 3h0m4 0h0m4 2h0m1-4h0m2-5h0m2 10h0m6-16h0m0 5h0m1-6h0m0 15h0m1-2h0m4 1h0m1 4h0m1-10h0m2-5h0m1 13h0m2-16h0m0 1h0m2 7h0m2 10h0m1-22h0m1 13h0m0 4h0m0-14h0m3 19h0m1-20h0m1 18h0m1-11h0m0-7h0m2 18h0m0-4h0m1-14h0m1 8h0m0 1h0m1 6h0m1 2h0m0-10h0m1-6h0m3 9h0m0 7h0m0-4h0m1-2h0m2-4h0m0-2h0m0 15h0m2-9h0m0 3h0m0-4h0m1 0h0m0-11h0m0 10h0m1-6h0m0 9h0m1-6h0m0 6h0m2-1h0m0 7h0m2 1h0m1-21h0m0 12h0m1-12h0m1 19h0m0-19h0m3 12h0m1 5h0m0-13h0m0-3h0m1 6h0m1 3h0m0-6h0m2 18h0m2-17h0m0 7h0m1-7h0m0 1h0m4 1h0m5 14h0m2-12h0m4 12h0m0 0h0m1-1h0m2-1h0m1 0h0m1-7h0m2 8h0m2-5h0m0 7h0m1-4h0m1-2h0m0-5h0m3 10h0m3-9h0m31 8h0m5 1h0m2-3h0m1-1h0m1 4h0m3 1h0m2-2h0m1-1h0m1-3h0m0 6h0m0 0h0m2-6h0m0 6h0m2-3h0m0 2h0m0-3h0m5-3h0m1-1h0m0 6h0m0-7h0m1 9h0m0-19h0m3 13h0m0 4h0m0-1h0m1-5h0m0 5h0m1-5h0m0-8h0m0 8h0m1 6h0m0-2h0m1-8h0m0-5h0m0 1h0m0 10h0m0-3h0m2-10h0m0 11h0m0 9h0m1-3h0m0-3h0m2-5h0m1 2h0m0 3h0m0 4h0m1-3h0m0-17h0m1 14h0m1 7h0m5-17h0m0 10h0m1-7h0m1 9h0m0 3h0m3-4h0m2 6h0m1-12h0m0-7h0m0 11h0m3 0h0m3-5h0m2 11h0m0-7h0m1-1h0m1 3h0m0-11h0m3 14h0m0-14h0m1 7h0m0 3h0m0-14h0m1 11h0m1 1h0m1-9h0m1 14h0m1 5h0m15 25h0m-2 0h0m-1-4h0m-1-4h0m-1-7h0m-1 14h0m0-6h0m-1-8h0m0 6h0m-2-3h0m0 9h0m0 0h0m-1 1h0m0-22h0m-1 16h0m0 7h0m-3 1h0m-2-11h0m0 4h0m-1 5h0m-1-1h0m-4-20h0m-1 21h0m0-8h0m-1-10h0m-3 15h0m-2-6h0m-2-2h0m-1-2h0m-1-1h0m-1 2h0m-1-6h0m-1 2h0m0 5h0m-1 0h0m0-5h0m-1-1h0m-1-1h0m0 4h0m0 2h0m-1-9h0m-1 3h0m0 12h0m0 8h0m-1-20h0m-1-3h0m-2 16h0m0-5h0m-1-11h0m-1 19h0m0-18h0m-2 4h0m0-5h0m0 23h0m0-17h0m0-6h0m-1 0h0m-1 0h0m-2 3h0m-1 1h0m-1-3h0m0 1h0m-1 16h0m-1-17h0m-2 1h0m0 0h0m0 4h0m-1 15h0m-1-21h0m0 2h0m-1 5h0m-2 15h0m0-4h0m-1-16h0m-1 4h0m0 0h0m-1-2h0m0 1h0m-1 8h0m-1-5h0m-1-6h0m0-1h0m-1 5h0m-1-2h0m0 2h0m-1-6h0m-1 2h0m-1 3h0m0-2h0m0 6h0m0 14h0m-1-21h0m-2 0h0m-1 2h0m-3-1h0m0 3h0m0 14h0m0-18h0m0 6h0m0-7h0m-2 12h0m-1-5h0m-2 7h0m0 2h0m-1-13h0m-1 0h0m-1-1h0m0-1h0m0 8h0m-1 10h0m-1 1h0m-1-21h0m-5 0h0m-2 14h0m-1 7h0m-4-13h0m-2 2h0m-1 2h0m-3 7h0m-1-9h0m-1 10h0m-2-3h0m0-4h0m-2 9h0m-1-16h0m0 3h0m-1 8h0m-2-3h0m0 5h0m-1-14h0m0 7h0m-1 8h0m0-17h0m0 5h0m-1-5h0m-2 9h0m-1 9h0m-1-12h0m0-5h0m-1 1h0m-3-6h0m-1 2h0m0 7h0m0 3h0m-1-8h0m-1 10h0m-1 5h0m-3-18h0m-1 17h0m0-13h0m-1 1h0m-2 4h0m0 8h0m0-8h0m-2 3h0m-1 9h0m-1-21h0m0 15h0m0 0h0m0-5h0m-1-1h0m-1 13h0m0 0h0m-1-7h0m-1-1h0m0-5h0m-1-8h0m0 19h0m0 0h0m-1-16h0m0 8h0m0-2h0m-1-3h0m-2 0h0m0 11h0m-1-12h0m-1 5h0m0-11h0m-1 2h0m0 13h0m-1-4h0m0-1h0m-1-2h0m-1 9h0m-1-16h0m-1-2h0m0 16h0m-1-2h0m0-8h0m0 5h0m0 12h0m-1-13h0m0-6h0m-2-3h0m0 15h0m-1-12h0m0 12h0m-1 4h0m-3-16h0m-1-4h0m-1 12h0m0 9h0m-2-15h0m-1 12h0m-3-12h0m-1 8h0m-1-4h0m-3 8h0m-1 0h0m-1-7h0m-1 2h0m-3 10h0m-1-11h0m-1 8h0m0-7h0m0-12h0m-1 2h0m-2 2h0m0 16h0m-1-4h0m-1-8h0m-1 14h0m-3-6h0m-2-13h0m-2 13h0m-1-5h0m0 3h0m0 7h0m-2-20h0m-1 14h0m-1-10h0m-1-5h0m-2 20h0m0-15h0m-1-4h0m-1 1h0m0 20h0m-1-13h0m0 7h0m-2-11h0m-2 6h0m0 1h0m-5-1h0m-2-10h0m-2 4h0m-1 3h0m-2 13h0m-1-6h0m-1-6h0m-1 6h0m-1 5h0m-1-5h0m-3 0h0m-2-4h0m0 10h0m0-5h0m-2 0h0m0-4h0m0-4h0m-1 0h0m-1-1h0m0 5h0m-2-6h0m-1 10h0m-1-4h0m0-8h0m0-1h0m-1 15h0m0-10h0m0 6h0m-1 8h0m-1-22h0m0 12h0m-2-9h0m0 17h0m-1-6h0m0-12h0m-1 18h0m-2-11h0m0-1h0m-2 14h0m-3-17h0m-2 17h0m-2-21h0m0 20h0m-4-14h0m-1 13h0m-2-5h0m-1-8h0m0 14h0m-4-3h0m0-8h0m-2-3h0m-4-3h0m-1 5h0m-1 13h0m-1-6h0m0 1h0m-1 6h0m-1-24h0m-1 13h0m-1 7h0m0-13h0m0-3h0m-3-2h0m0 8h0m-1 3h0m-1-6h0m-1 1h0m-1 4h0m0-8h0m-1 3h0m-3 6h0m-3-1h0m-5-3h0m-4-6h0m-1 7h0m-3 6h0m-2 5h0m-2-18h0m-4 5h0m-3 16h0m-3-21h0m-4 5h0m-1 1h0m-1-8h0m0 12h0m-4-6h0m-2 7h0m-6 7h0m-10 23h0m3-9h0m2 4h0m1-10h0m5 0h0m0-3h0m2 20h0m4-5h0m3-1h0m3-6h0m1 9h0m1-5h0m1 0h0m3-9h0m1 13h0m14-2h0m1 6h0m1-15h0m2 10h0m3-7h0m0 12h0m2-6h0m3-8h0m4-7h0m0 4h0m1 1h0m3-5h0m1 14h0m1-6h0m0-7h0m0 5h0m2 6h0m0-4h0m2 8h0m1-5h0m1-3h0m1 9h0m0 5h0m1-6h0m0-12h0m1 9h0m1 7h0m1 3h0m2-15h0m0-6h0m1 13h0m2-7h0m2 6h0m0 3h0m0-14h0m2 19h0m0-4h0m0-6h0m0-2h0m1-10h0m0 3h0m1 19h0m0-6h0m1-14h0m0 6h0m0 0h0m1-1h0m0 11h0m0-7h0m1 5h0m1-9h0m1-5h0m0 20h0m0-4h0m0-12h0m1 14h0m0-9h0m1-1h0m1 6h0m1-13h0m0 0h0m3-4h0m0 22h0m0-21h0m1 13h0m0-6h0m0 6h0m1-1h0m1 2h0m1 5h0m0-11h0m0 7h0m3 8h0m0-9h0m0-12h0m0 13h0m1-3h0m1-1h0m1-1h0m1-5h0m1 14h0m1-19h0m2 12h0m1 1h0m2-11h0m1 3h0m0 6h0m3 9h0m1 3h0m0-15h0m0 13h0m0-12h0m1 10h0m1-11h0m0-8h0m1 13h0m2 9h0m2-10h0m0 2h0m0-5h0m2-8h0m0 11h0m0-11h0m2 18h0m0-7h0m0 10h0m0-16h0m1 11h0m1-3h0m2 4h0m0-10h0m1-7h0m0 16h0m1-4h0m1 9h0m0-12h0m1 5h0m1-4h0m1-5h0m0 1h0m1 1h0m0 12h0m1-16h0m1 10h0m0-14h0m0 10h0m0-5h0m1 18h0m0-9h0m0 6h0m1 3h0m0-9h0m1 1h0m2-3h0m0 10h0m0-2h0m1-5h0m1 7h0m0-7h0m1-4h0m0-2h0m2 2h0m0 6h0m1-10h0m0 9h0m0-3h0m0 7h0m1-6h0m0-11h0m1 10h0m0 4h0m1 6h0m0-2h0m1-16h0m1 5h0m0-1h0m0 1h0m0 2h0m1 1h0m0-8h0m0 10h0m1-11h0m1 3h0m0-4h0m0-2h0m1 1h0m0 11h0m1 4h0m0 2h0m1-16h0m1 14h0m1-7h0m3 9h0m1-19h0m0 9h0m4 13h0m1-3h0m0-12h0m1 4h0m1 5h0m1 3h0m2-16h0m2 13h0m0-9h0m1-7h0m0 20h0m1-2h0m0-14h0m0 19h0m1-20h0m1 7h0m3 13h0m1-1h0m4-17h0m1 18h0m1-14h0m1-4h0m0 14h0m0-16h0m2 8h0m0-7h0m0 12h0m1-10h0m0 4h0m2 12h0m0-19h0m0-2h0m1 3h0m0-2h0m1 12h0m1 7h0m1-15h0m1-1h0m1-3h0m1 15h0m0-8h0m0 4h0m2 5h0m1 3h0m1-1h0m3-20h0m0 2h0m3 4h0m4-5h0m1 1h0m1 1h0m2 0h0m1 1h0m2 15h0m0-13h0m1 16h0m0-9h0m1-3h0m1-3h0m1-3h0m0-4h0m3 11h0m3 5h0m0-14h0m2 1h0m2-1h0m0 6h0m0 3h0m0 7h0m1-2h0m1-10h0m1 12h0m1-16h0m0 9h0m0-4h0m1 12h0m0 0h0m1-17h0m1 11h0m0 10h0m1-2h0m4-5h0m0-9h0m1 14h0m4-11h0m1 3h0m1 2h0m2 6h0m1-7h0m1-10h0m1 15h0m4-19h0m0 21h0m0-10h0m2-5h0m1 12h0m1-12h0m1 12h0m1-18h0m4 8h0m1 9h0m0-4h0m1 9h0m2-5h0m4 5h0m0-22h0m0 18h0m1-3h0m3-12h0m0 20h0m2-16h0m0 13h0m0 2h0m2-11h0m0-5h0m1 9h0m2-10h0m0 4h0m0 12h0m1-22h0m1 16h0m0 6h0m0-9h0m0 0h0m1 4h0m1-12h0m0 7h0m1 11h0m0-7h0m0 7h0m1-6h0m0-5h0m1 6h0m0 5h0m1 0h0m1-20h0m1 15h0m0-7h0m1 6h0m0-13h0m1 2h0m4 13h0m1-7h0m1-4h0m3 15h0m3-10h0m1-3h0m4-1h0m0-6h0m1 8h0m2-8h0m1 1h0m0 9h0m3-6h0m0 0h0m1-5h0m2-1h0m0 10h0m1 11h0m0-9h0m0 1h0m0 6h0m0-9h0m1-3h0m1 10h0m0-8h0m1-6h0m0 6h0m1-8h0m1 15h0m0-9h0m1 3h0m0-6h0m1-3h0m0 22h0m1-4h0m0-3h0m0-2h0m0 6h0m0-11h0m1-9h0m1 3h0m0 2h0m1 12h0m0 3h0m2-18h0m0 4h0m1-2h0m0-1h0m0 7h0m0 8h0m0-13h0m0-3h0m1 11h0m1-6h0m0 11h0m0-3h0m3-9h0m0 6h0m1-10h0m0 17h0m1-8h0m0 0h0m0-4h0m1 3h0m0 13h0m3-10h0m12 31h0m-1 1h0m-2-3h0m-2-4h0m-3-8h0m0 12h0m-2-5h0m0 3h0m0-4h0m-2 10h0m0-20h0m0 20h0m-2 0h0m0-6h0m-1 3h0m-1-9h0m0 6h0m-1 1h0m-1 0h0m-1-2h0m0-5h0m-1 6h0m0 3h0m0-20h0m-1 20h0m-1-19h0m0 18h0m-1-10h0m-1 4h0m-1 6h0m-1-10h0m0-7h0m0 22h0m0-3h0m-1 1h0m0-1h0m-3-2h0m0-15h0m-1 1h0m-1 14h0m-1-18h0m-3 20h0m0-17h0m-1 15h0m0-17h0m-2 5h0m-2 13h0m-4-17h0m-3 21h0m-1-18h0m-2 6h0m0-6h0m-3-3h0m-1 7h0m-1 2h0m-3 4h0m0 8h0m-1-11h0m-6 6h0m-1-5h0m-2 4h0m0 5h0m0-20h0m-1 6h0m-1 11h0m-1-10h0m0-5h0m-1 14h0m0-15h0m0 12h0m-1-3h0m0 9h0m-2 0h0m-2-2h0m0 0h0m-1 0h0m-1-2h0m0 3h0m-2 1h0m0 1h0m0-6h0m-1-4h0m-1-8h0m0 17h0m-1-10h0m0 1h0m0 9h0m0-13h0m0-4h0m-1-1h0m-1 12h0m-1 6h0m-1-3h0m-1-19h0m-1 5h0m-1 17h0m-2-3h0m0-19h0m-1 9h0m-2-7h0m0 13h0m-1 6h0m0-8h0m-1 8h0m0-5h0m0 3h0m0-5h0m-1-14h0m-1 24h0m0-19h0m-1 14h0m-1-18h0m-1 5h0m-1 3h0m-1 0h0m0 11h0m-1-5h0m-2-5h0m-2 5h0m-2-1h0m-1-2h0m0 0h0m-2 4h0m0 5h0m-1-11h0m0 3h0m-4-2h0m-2-9h0m-1 1h0m-4 5h0m-1 15h0m0-21h0m-2 18h0m-1-19h0m-1 1h0m-1 11h0m0-8h0m-1 18h0m-1-2h0m-2-18h0m-2 21h0m-1-4h0m-1-4h0m0-6h0m-3 6h0m-1-7h0m-1 1h0m-1 8h0m0-3h0m-3-9h0m0-4h0m-1 18h0m-2-14h0m-2-1h0m-2 3h0m-1 5h0m0 8h0m-1-7h0m-1-6h0m-1 13h0m0-15h0m-1 17h0m0-20h0m-1 1h0m-1-4h0m-1 7h0m0 17h0m-1-2h0m0-3h0m-1-8h0m0 11h0m-2-7h0m0 0h0m0-7h0m-1-1h0m0 12h0m-1-11h0m0-3h0m0 7h0m-2-1h0m-1 12h0m-2-17h0m-1 17h0m-1-21h0m-1 13h0m0-9h0m0 10h0m-1-6h0m0-8h0m-2 11h0m0 3h0m-2-7h0m0-5h0m0 16h0m-1-7h0m-1-9h0m0 18h0m-1 2h0m-2-14h0m-1 13h0m-2-16h0m-1-1h0m0 6h0m-3 12h0m0-6h0m-1 5h0m-1-22h0m-3 18h0m0 0h0m-4-1h0m0-12h0m0 10h0m0 6h0m0-11h0m-1 0h0m0 7h0m-1 4h0m0-21h0m-1 16h0m-1-6h0m-1-5h0m0 6h0m-1-8h0m0 19h0m-1 0h0m-1-23h0m-2 17h0m0-12h0m-1-3h0m0 21h0m0 0h0m0-15h0m-1 2h0m0 7h0m0-4h0m0 4h0m-1 1h0m0-17h0m0 5h0m0 15h0m0-14h0m-2 14h0m-1 1h0m-1-10h0m0 0h0m-1-1h0m0 7h0m0-11h0m0-7h0m0 20h0m0-6h0m0-4h0m-3-9h0m0 10h0m-1-1h0m-2 4h0m-1 4h0m0-8h0m-3-5h0m0 12h0m-1-3h0m-1-13h0m-1 21h0m-1-20h0m0 6h0m-2-7h0m-1 18h0m0-4h0m-1-14h0m0 2h0m-1 11h0m-1 7h0m-1-11h0m0-8h0m-3 2h0m-1 0h0m0 20h0m0-4h0m0-17h0m-2 4h0m-1 17h0m-1 0h0m0-6h0m-1 6h0m0-16h0m-1 4h0m-1-9h0m0-3h0m-1 23h0m-2-4h0m-1-15h0m-1 18h0m0-8h0m-2-3h0m0-7h0m-2 12h0m0 3h0m0 3h0m-1-3h0m0-14h0m-1 18h0m0 0h0m-1-1h0m0-20h0m-4-1h0m0 4h0m-2 6h0m-1-2h0m-1 4h0m0-8h0m-1-1h0m-1 9h0m-1-11h0m-2 16h0m-3-9h0m-2 1h0m0-1h0m-1 6h0m0-15h0m-1 5h0m-1-1h0m-2 10h0m0-8h0m-1-6h0m0 11h0m-1-7h0m0-1h0m0 3h0m-1 2h0m-1-8h0m-1 13h0m0 2h0m0-13h0m0 6h0m-1-3h0m0 4h0m-1 9h0m0 3h0m-2-19h0m-1 9h0m0-9h0m0 22h0m0-4h0m-1-7h0m0-9h0m-1 0h0m-1 14h0m0 5h0m0 0h0m0-6h0m0 6h0m-1-4h0m0-3h0m-1-14h0m0 6h0m0 8h0m0-2h0m-1-1h0m-1 2h0m0-5h0m0-5h0m-1 16h0m-3-9h0m0 2h0m0 7h0m-1-5h0m-2 5h0m-1-9h0m0 3h0m0-13h0m-1 9h0m-1-4h0m-1 12h0m0 1h0m-4-13h0m0 10h0m-1-6h0m-2-1h0m-1 14h0m-1-22h0m-1 5h0m0-5h0m0 1h0m-3 16h0m-1-15h0m-1-1h0m-3-1h0m0 22h0m-8-11h0m-2 0h0m-1-5h0m0-6h0m-2 15h0m0 7h0m-2-6h0m-2-12h0m0-5h0m0 13h0m-11-13h0m-11 13h0m-4-14h0m-3 6h0m-4 15h0m0 3h0m-2 16h0m0-8h0m1 11h0m0-3h0m0-14h0m0 12h0m1-3h0m1-2h0m0 6h0m1 8h0m1-18h0m0 10h0m0-3h0m3-1h0m0-2h0m1 1h0m0 6h0m0 0h0m0 7h0m2-13h0m0 3h0m0 6h0m1-4h0m0 5h0m1-4h0m0-7h0m0 1h0m4 1h0m0 5h0m3 0h0m5 1h0m1-5h0m1-5h0m2 7h0m0 0h0m3-13h0m0 9h0m3 11h0m2-3h0m0-4h0m1-8h0m1 1h0m2-4h0m0 6h0m5 5h0m0 0h0m1 5h0m0-11h0m1 4h0m1 9h0m2-15h0m1 6h0m5 1h0m0 6h0m0-11h0m1-5h0m1 1h0m0 7h0m1 3h0m0 7h0m1-8h0m1 4h0m1-12h0m1 11h0m0 7h0m1-2h0m0 1h0m1-11h0m0 8h0m1 5h0m0-13h0m0 2h0m0 7h0m1-14h0m0 15h0m1-4h0m0-10h0m3 13h0m1-8h0m0-9h0m0 13h0m1-8h0m1 6h0m0 4h0m0-12h0m1-3h0m0 20h0m1-13h0m1-7h0m0 4h0m1 15h0m0-12h0m1-1h0m0-8h0m1 0h0m0 9h0m1 8h0m0-3h0m1-13h0m1 21h0m0-21h0m2 18h0m0-16h0m1 4h0m0-2h0m1 16h0m1-19h0m1 14h0m4-14h0m0 17h0m0-3h0m2-10h0m1 16h0m4-13h0m5 4h0m3 3h0m1-9h0m0 8h0m3-1h0m1-5h0m0 9h0m1-3h0m0 6h0m1-5h0m2-8h0m0 6h0m1-3h0m0-2h0m2-7h0m1 2h0m0 5h0m2-4h0m0 5h0m0 1h0m1-3h0m0 11h0m2-9h0m0-1h0m0 10h0m0-5h0m2-3h0m0-10h0m1 22h0m0-13h0m0 2h0m2-11h0m0 5h0m1 10h0m1 6h0m0-11h0m0 0h0m1-8h0m0 4h0m1 2h0m0 10h0m3-15h0m1 16h0m2-18h0m2 1h0m0 0h0m1 20h0m1-22h0m0-1h0m1 0h0m1 12h0m1-7h0m0 4h0m0-2h0m1 0h0m1 13h0m0-1h0m1 3h0m1-7h0m0-8h0m3 1h0m1 11h0m1-10h0m0 11h0m3-3h0m0-18h0m1 19h0m1-8h0m0 12h0m1-3h0m1-9h0m1-7h0m0 10h0m0 4h0m2 2h0m0-14h0m2-3h0m1-3h0m0 18h0m0-3h0m1 1h0m1-3h0m1 1h0m0-9h0m1 15h0m0-2h0m1-10h0m0 7h0m1-5h0m0-4h0m0-3h0m1 19h0m0-5h0m1-1h0m1 6h0m0 2h0m0-14h0m0 2h0m1 7h0m1-6h0m0-8h0m0 10h0m0-8h0m1 14h0m0-12h0m0 2h0m0 0h0m0 0h0m0-6h0m1-4h0m0 14h0m0-6h0m1 13h0m0-13h0m0 6h0m1 0h0m0 1h0m0-15h0m1 12h0m0 0h0m0-4h0m1-1h0m0 6h0m1 6h0m0-6h0m0-2h0m1-1h0m0-7h0m1 1h0m0 9h0m1-3h0m0 10h0m1-2h0m0-10h0m1 1h0m0 10h0m0 3h0m1-7h0m0-14h0m0 12h0m1-3h0m0 3h0m1-3h0m0-6h0m0-4h0m0 18h0m2-5h0m0 3h0m1-11h0m0 13h0m1-11h0m0-6h0m1 15h0m0-11h0m0-1h0m0 14h0m1-17h0m0 12h0m1 5h0m0-17h0m0 21h0m2-20h0m1 3h0m0 15h0m1-13h0m0 8h0m3-6h0m1 7h0m1 3h0m0-11h0m1-4h0m1-2h0m2 7h0m0-7h0m1 3h0m1-4h0m0 14h0m0 0h0m1-14h0m1 5h0m1 10h0m1-4h0m1 0h0m0-5h0m0 11h0m0 1h0m1-8h0m0 3h0m1-10h0m1 12h0m0-14h0m0 4h0m2 4h0m0-11h0m1 9h0m3 7h0m1-7h0m5-7h0m0 20h0m4-3h0m1-13h0m1-5h0m1 3h0m0 12h0m1-7h0m4-2h0m0-2h0m3 1h0m0 2h0m4-3h0m0 13h0m1-14h0m1-4h0m2 6h0m1 1h0m1 7h0m4-8h0m0 4h0m1 0h0m2 3h0m1-10h0m1 8h0m0 7h0m1 4h0m0-6h0m0-5h0m2 9h0m1-7h0m2 0h0m1 4h0m2-4h0m0-3h0m2-2h0m1 7h0m2-5h0m0 5h0m1-9h0m1 0h0m1-3h0m0 14h0m0-10h0m1-5h0m0 13h0m1-14h0m0 3h0m2 13h0m0-4h0m0-7h0m0 4h0m1-3h0m1-5h0m3 9h0m0 5h0m0 1h0m0 5h0m1-7h0m0-9h0m1 16h0m2-18h0m2-1h0m0 12h0m1-15h0m0 5h0m1 11h0m2-6h0m2 13h0m1-1h0m0-8h0m3-5h0m1 1h0m1 10h0m2-4h0m1 4h0m0-9h0m1 9h0m0-14h0m1 12h0m0-4h0m1 7h0m1-13h0m0 9h0m5-4h0m0-9h0m2 16h0m1-15h0m1 6h0m0-3h0m0 3h0m4-2h0m0 12h0m1-7h0m0-1h0m1 1h0m1-4h0m4 8h0m0-16h0m1 21h0m0-18h0m0 16h0m0-11h0m1 13h0m1-14h0m0 5h0m0 7h0m1-12h0m1 12h0m1-17h0m0 2h0m0 13h0m1-16h0m0 6h0m1 2h0m0-6h0m2 14h0m0-2h0m1-14h0m0 4h0m0 6h0m0-13h0m1 2h0m0 11h0m1-10h0m0 0h0m0 4h0m3 12h0m1-14h0m0-4h0m1-1h0m0 7h0m0 1h0m1 7h0m0-1h0m0 6h0m0-14h0m1 1h0m0-5h0m1 12h0m0-2h0m0-4h0m1 3h0m0 4h0m0-4h0m0-5h0m1 16h0m0-18h0m1 19h0m0-8h0m0 1h0m1-6h0m1 6h0m0-4h0m0-5h0m0 12h0m1-18h0m0 2h0m1 9h0m1 9h0m1 2h0m1-20h0m0 6h0m2 5h0m0-6h0m0 7h0m0-6h0m0 11h0m2-1h0m1 1h0m0-17h0m0 5h0m1 11h0m1-12h0m0 13h0m0-19h0m1 6h0m1-2h0m0 10h0m1-6h0m0-3h0m1 14h0m0-16h0m0 4h0m1-6h0m2 17h0m1-10h0m0 9h0m1-4h0m1-2h0m0 6h0m1-11h0m2 11h0m0 6h0m0-1h0m7 22h0m-1-5h0m-1-2h0m-1-10h0m0 11h0m-1 8h0m0-8h0m0-4h0m-1 5h0m-1 0h0m0-9h0m0 16h0m0-23h0m-1 19h0m0-14h0m-1 5h0m0-7h0m-1 21h0m-1 0h0m-1-3h0m-1-16h0m-1 18h0m0-16h0m-2-3h0m-2 13h0m0-7h0m-1-1h0m-2 13h0m-1-20h0m0 9h0m-1 12h0m0-23h0m0 5h0m0 9h0m-1-5h0m0 8h0m-4-6h0m0 12h0m-1-6h0m0 1h0m0-5h0m0-5h0m0 11h0m0-11h0m-1 4h0m0-7h0m-1-3h0m0 2h0m-2 2h0m0 3h0m-1 10h0m0-4h0m0 5h0m-1-2h0m0-14h0m0-3h0m-1 2h0m0 2h0m-1 1h0m-1 7h0m-1 4h0m0 5h0m0-2h0m0-15h0m-1 16h0m0-21h0m0 20h0m-1-8h0m-1 3h0m-1 6h0m-2-7h0m0-13h0m-1 17h0m0 0h0m-1-4h0m0 10h0m-3-9h0m0 5h0m-1-4h0m0-1h0m-1 8h0m0-11h0m-1 1h0m0-9h0m-1 4h0m-4-1h0m0 2h0m-1-6h0m0 1h0m0 0h0m-2-1h0m-3 4h0m-5 13h0m0-8h0m0-4h0m-2 2h0m-3 1h0m0 3h0m0-6h0m0 9h0m-1-15h0m0 10h0m-1-1h0m-1 12h0m-1-9h0m-1 1h0m-1-2h0m-1 7h0m0-9h0m0 10h0m0-2h0m-1-13h0m-1 10h0m-1-13h0m0 14h0m-1-9h0m0-4h0m0 8h0m-1-1h0m0-10h0m0-1h0m-1 14h0m-1-5h0m0 6h0m-2-9h0m0 12h0m0-11h0m-3 2h0m0-6h0m-1 18h0m0 1h0m0-13h0m0 14h0m-1-15h0m-1-3h0m-1 16h0m-1 3h0m0-15h0m-1 10h0m0-16h0m0 13h0m-2 5h0m-2-16h0m-2-3h0m0 16h0m0-1h0m-1-4h0m0-1h0m-1 6h0m0-10h0m-1 0h0m0-5h0m0-1h0m0 10h0m-6-8h0m0 18h0m-2 1h0m-1-5h0m-1 1h0m0-5h0m-2 9h0m-2-23h0m0 20h0m-1-12h0m0 7h0m-1 9h0m0-4h0m0-10h0m-1-6h0m-3 14h0m-1-12h0m-2-4h0m-1 13h0m0-1h0m-1 7h0m0-14h0m0 11h0m-3 3h0m0-10h0m0 4h0m0 1h0m0-9h0m0 15h0m-1-17h0m0 0h0m0 7h0m-2-12h0m-1 19h0m0-11h0m-1 15h0m0-9h0m0-2h0m-3 10h0m0-15h0m0 16h0m0-2h0m-3-1h0m0-2h0m0 5h0m-1-2h0m-1-3h0m0-17h0m0 20h0m0-5h0m-1-2h0m0-4h0m0-3h0m-1-2h0m0 13h0m-1 5h0m0-1h0m0-16h0m-1 12h0m-2 0h0m-1-5h0m0 0h0m-2 2h0m-2 5h0m-1-8h0m0-6h0m0 18h0m-3-5h0m0-11h0m-1 0h0m-1 1h0m-1 11h0m-1-19h0m-2 12h0m-1 7h0m0 0h0m0-7h0m-1-5h0m-2 14h0m0-7h0m-1 1h0m-1-5h0m-1 13h0m-1-1h0m0 1h0m-1-5h0m-1-4h0m-1 0h0m-1 8h0m-1-4h0m0 3h0m0-21h0m-2 22h0m0-7h0m-1-7h0m0 10h0m-1-7h0m0 12h0m0-6h0m0-13h0m-1 18h0m-3-15h0m-1 4h0m0 3h0m-2 5h0m0 3h0m-3-22h0m-2 14h0m0 7h0m0-22h0m-2 4h0m-1-2h0m-2 0h0m-1 7h0m-1 12h0m0-12h0m0 7h0m0-12h0m-1 16h0m-1 0h0m-1-18h0m-2 6h0m0 15h0m-2-21h0m-2 20h0m-1-12h0m-1 10h0m-2-8h0m-1-7h0m0 9h0m-3 8h0m0-22h0m0 21h0m-1-6h0m-1-9h0m0 9h0m0-10h0m-1 11h0m0-5h0m-1-5h0m-1-2h0m-1 9h0m0-10h0m0-1h0m-1 13h0m0-8h0m-1 4h0m0 6h0m-1-2h0m0-9h0m-2 13h0m-1-8h0m-1 8h0m0-11h0m-1-7h0m0 6h0m0 2h0m-2 13h0m0-9h0m-1-7h0m0-4h0m-2 18h0m-1-12h0m0 13h0m-1-19h0m-2 6h0m-1 12h0m-1 4h0m0-22h0m0-2h0m-1 6h0m-1-6h0m-2 20h0m0-19h0m-1 3h0m-1 14h0m-1-16h0m0 3h0m0 7h0m-2 5h0m-1 5h0m0-6h0m-1-6h0m0 6h0m-1 4h0m0-17h0m-2 7h0m-1 11h0m0-1h0m-1 2h0m0-17h0m-1 8h0m-1 2h0m-1-1h0m0 10h0m0-10h0m-1-3h0m0-3h0m-1 15h0m0-5h0m-1 1h0m0-3h0m-1 0h0m-2-8h0m0-2h0m0 13h0m0-19h0m0 19h0m-3 5h0m0-2h0m-1-21h0m-1 16h0m0-1h0m0-13h0m0 18h0m0-16h0m-1 17h0m0-6h0m0-11h0m0 18h0m-1-10h0m0-1h0m0 7h0m-1 3h0m-1-4h0m0-7h0m0-9h0m-2 5h0m0 14h0m0-5h0m-1-10h0m0 16h0m0-22h0m-3 5h0m0 6h0m-1 5h0m-1-7h0m-1 9h0m-1-11h0m-1-6h0m0 10h0m-1-11h0m-1 13h0m-2-1h0m0 11h0m-1-2h0m-1-13h0m-1 4h0m0-10h0m-1 20h0m-1-7h0m-1 5h0m0 3h0m0-10h0m-1 3h0m-1-9h0m0-2h0m-1-3h0m0 15h0m0-17h0m0 11h0m-1 3h0m-1 5h0m0-6h0m0 9h0m0-19h0m-1 10h0m-1 8h0m-1-20h0m0 13h0m-1 4h0m0 0h0m-1-17h0m0 11h0m-1-8h0m0 10h0m0 8h0m0 0h0m-3-11h0m0 11h0m-1-4h0m-1 3h0m0-6h0m-1 9h0m0-13h0m-1-6h0m0-2h0m0 7h0m0-2h0m-1 3h0m-2-8h0m0 16h0m-1-6h0m0-3h0m-1 6h0m0 2h0m0-10h0m-1-1h0m-1-3h0m0 0h0m-2 17h0m-1-20h0m0 1h0m-1 18h0m0-19h0m-5 19h0m0-17h0m0 1h0m-1 15h0m-1-16h0m0 12h0m-1-5h0m-1 11h0m-2-18h0m-1 20h0m-1-6h0m0 6h0m-1-9h0m-1-11h0m0 0h0m0 11h0m0-12h0m-4 16h0m0-10h0m0 0h0m-1-5h0m-1 19h0m0-18h0m-1-3h0m-1 1h0m0 7h0m-1 2h0m0 5h0m-1-14h0m0 20h0m-3-17h0m-1 7h0m0 11h0m-1-11h0m-1-4h0m-2 13h0m-1-5h0m0-1h0m-1-1h0m-1-2h0m0-8h0m-1 15h0m-1-4h0m0-14h0m-2 10h0m-3-10h0m-1 1h0m0 16h0m-3-14h0m-1 12h0m-1 3h0m-2-17h0m-1 8h0m-1-2h0m0 12h0m0-14h0m-1 1h0m-2 7h0m0-4h0m-1 2h0m0-7h0m0 4h0m0 4h0m-1 5h0m-2-3h0m-2-3h0m-1 1h0m0-11h0m0 5h0m-1 12h0m-4 2h0m-2-14h0m0-3h0m-2 19h0m-1-16h0m-2 9h0m-3 3h0m0-7h0m0-2h0m-18 27h0m1 7h0m0-5h0m2-14h0m0 22h0m1-16h0m1 10h0m0-14h0m3-3h0m0 4h0m4 18h0m1-16h0m0 6h0m4 2h0m1 1h0m4 9h0m1-1h0m1-7h0m0-6h0m5 3h0m2-3h0m0-10h0m1 20h0m2-11h0m1-2h0m0-5h0m0 11h0m0-9h0m1 15h0m0-2h0m1 5h0m0-19h0m2 11h0m0-6h0m0 0h0m1-5h0m1 1h0m1 18h0m1-1h0m0-1h0m1-3h0m1-5h0m2-6h0m1-5h0m0 22h0m1-7h0m1-2h0m2-5h0m1 5h0m1 2h0m2-5h0m2 1h0m1-3h0m2-1h0m1 3h0m0-11h0m2 4h0m0 7h0m2-2h0m1-7h0m0 0h0m1 4h0m2 3h0m0 1h0m0 1h0m3-10h0m0 6h0m0 0h0m0 4h0m4 13h0m0-20h0m0 9h0m1-6h0m0 10h0m1-17h0m1 22h0m2-9h0m0-10h0m2 7h0m1 1h0m4-3h0m1 2h0m3 5h0m0-8h0m1 2h0m0-2h0m1-2h0m1 10h0m1-10h0m1 13h0m1-13h0m1 13h0m0 0h0m1 4h0m0-21h0m0 10h0m0 11h0m2-18h0m0 6h0m0 4h0m2-12h0m0 14h0m1-4h0m0 9h0m0-4h0m1-4h0m1-1h0m0 1h0m1-9h0m0 19h0m0-18h0m0 13h0m1-8h0m2 8h0m1 3h0m0-20h0m0 10h0m0-5h0m5-5h0m0 0h0m1 12h0m1 2h0m3-1h0m2-10h0m0 18h0m1-10h0m1 12h0m1-11h0m0-1h0m1-9h0m1 4h0m1 2h0m2 1h0m0 9h0m1-15h0m0 9h0m1-3h0m0 1h0m2 10h0m0 1h0m1-19h0m1 10h0m0-8h0m0-4h0m0 8h0m2 11h0m0-3h0m0 1h0m1 4h0m0-4h0m1-17h0m1 11h0m0-11h0m1 0h0m0 21h0m0-15h0m3-5h0m0 21h0m1-2h0m4-4h0m2-14h0m0 12h0m0-3h0m1-8h0m0 0h0m1 4h0m1 0h0m1-7h0m1 4h0m1 6h0m2-4h0m0 2h0m1-9h0m1 15h0m1-13h0m0 4h0m0 14h0m2-8h0m1 9h0m1-6h0m2 2h0m3-8h0m0-4h0m0 17h0m7-3h0m1-13h0m0 4h0m0-2h0m1-7h0m1 1h0m0 10h0m1 5h0m0-15h0m2 21h0m0-7h0m2 3h0m1-12h0m2 10h0m2-7h0m2 4h0m0-13h0m1 2h0m1 18h0m1-15h0m1-5h0m1 12h0m1 4h0m2 4h0m0-7h0m1-11h0m1-2h0m2 15h0m1-10h0m1 15h0m0 3h0m2-8h0m1-7h0m0 11h0m2 3h0m2-2h0m1-21h0m0 21h0m0-10h0m2-9h0m1 6h0m1-8h0m0 12h0m0 6h0m2-12h0m2 15h0m0-17h0m1 12h0m3 4h0m2-7h0m0 5h0m1 4h0m0-20h0m0 18h0m1-3h0m0 5h0m1-7h0m0 0h0m0-8h0m0 2h0m0 12h0m0-18h0m0 17h0m2-10h0m0 12h0m0-12h0m1 6h0m0-11h0m1-3h0m1 17h0m0 5h0m1-6h0m0-9h0m2 7h0m0-16h0m1 7h0m1 10h0m0-5h0m0 1h0m2-11h0m0 21h0m1-7h0m1 8h0m2-21h0m1 9h0m0 0h0m0-11h0m1 21h0m1-14h0m3 0h0m0-2h0m0-2h0m0 2h0m1 6h0m1 7h0m0-15h0m0 11h0m1-15h0m0 6h0m2-4h0m0 2h0m1 12h0m0-1h0m1-3h0m0-2h0m1-9h0m0 17h0m0 4h0m1-18h0m0 4h0m1 11h0m0 3h0m2-3h0m0-9h0m2-1h0m0 12h0m0 0h0m0-21h0m1 2h0m0 9h0m0 3h0m1 3h0m1-14h0m0 7h0m1 4h0m1-6h0m1 1h0m0 9h0m1-7h0m0 0h0m3-8h0m0 18h0m0 1h0m1-15h0m1 14h0m0-16h0m0 9h0m0 2h0m0-8h0m3 2h0m2-9h0m0 0h0m0 11h0m1-7h0m0 16h0m1-14h0m1-1h0m1-5h0m0 5h0m1 10h0m1-15h0m1 9h0m2 10h0m0-13h0m2 8h0m3 9h0m2-3h0m0-11h0m1-6h0m0 16h0m0-5h0m0-5h0m3 8h0m1-3h0m0-3h0m1 0h0m0 9h0m2-13h0m1 16h0m0-5h0m1 2h0m0-10h0m1 5h0m0-14h0m4 17h0m0-9h0m2 9h0m0 0h0m1 3h0m0-5h0m1-8h0m0 11h0m1-19h0m0 9h0m0-5h0m0 14h0m2-5h0m1-1h0m2 2h0m0 6h0m2-12h0m0-5h0m1 11h0m0 7h0m0 0h0m0 0h0m1-17h0m0 13h0m0-9h0m1 7h0m0 8h0m2-1h0m0-5h0m2-15h0m2 13h0m0 3h0m2-13h0m3 4h0m1 4h0m2-8h0m1 11h0m3-13h0m4 15h0m0-8h0m0-6h0m2 2h0m3 17h0m0-1h0m1-7h0m1 4h0m3 3h0m1-4h0m2 0h0m3 1h0m1-2h0m2 0h0m3 0h0m0-12h0m1 7h0m0 8h0m3-3h0m0 0h0m1-6h0m2 7h0m0-11h0m2 4h0m0-10h0m1 18h0m0-13h0m0-2h0m1 14h0m0 2h0m1-21h0m0 10h0m2 13h0m1-22h0m1 14h0m2-6h0m0 14h0m0-10h0m1 5h0m0 1h0m0-1h0m1-18h0m0 12h0m3 11h0m0-14h0m1 13h0m0 0h0m0-19h0m1 8h0m0 11h0m1-20h0m1 17h0m1-4h0m1 8h0m0-21h0m1 4h0m0 0h0m1 3h0m0-6h0m0 20h0m1-6h0m0-15h0m0 0h0m0 11h0m1 5h0m0-9h0m1 9h0m1-10h0m0 9h0m1-3h0m0-11h0m0 20h0m0-12h0m0-1h0m1-5h0m1 18h0m0-1h0m1-3h0m0-13h0m1 5h0m0 12h0m0 0h0m1 1h0m0-20h0m1 1h0m0 9h0m1-14h0m0 18h0m0-15h0m1 11h0m2 1h0m1-14h0m0 7h0m2 8h0m0-5h0m0 9h0m0-9h0m1-8h0m1 14h0m1 0h0m1-5h0m0 2h0m-5 11h0m-3 4h0m-1 5h0m0-5h0m-2 3h0m-2-4h0m0-1h0m-1-2h0m-1 13h0m0 4h0m-2 5h0m-1 0h0m0-17h0m0 10h0m0-4h0m-1 4h0m0 7h0m-1-20h0m-1 4h0m-1 4h0m-1 12h0m-1-14h0m0 14h0m-1-10h0m-1-5h0m-1 11h0m0-6h0m0-4h0m-1-3h0m0-1h0m0 10h0m0 2h0m-1 2h0m0 4h0m0-21h0m0 14h0m-1-10h0m0 8h0m-1-6h0m-1-2h0m0 11h0m0-4h0m-1 4h0m0-6h0m-1-10h0m0 7h0m0 2h0m0-4h0m0 13h0m-2-16h0m-1 7h0m-1 3h0m-1-10h0m0 11h0m0 7h0m-1-18h0m-3 2h0m0 0h0m-2 10h0m0 5h0m0-18h0m-2 5h0m0 2h0m0 7h0m-1-14h0m0 5h0m0 16h0m-1-10h0m-1 7h0m-1 0h0m-1-18h0m-3 20h0m0-4h0m0-2h0m-1 4h0m-3 3h0m-1-3h0m-1-2h0m-1 0h0m-3 5h0m-1-18h0m0 1h0m-1 15h0m-1-20h0m-1 16h0m-3-2h0m-1-12h0m-3 2h0m-4 1h0m-1 12h0m-2 5h0m-1-12h0m0 0h0m-2-4h0m-5 0h0m-2 0h0m-1-7h0m-1 6h0m0 17h0m0-13h0m-2-9h0m-1 13h0m-1-9h0m-1 4h0m-2 0h0m0-5h0m0 18h0m-1-5h0m0-7h0m-1-3h0m-1 3h0m0-8h0m-2 7h0m0 1h0m-1-10h0m0 14h0m0-12h0m0 8h0m-1 12h0m0-13h0m0-6h0m-1 13h0m-1 4h0m0 0h0m0-10h0m-2 7h0m0-8h0m0-1h0m-1 8h0m0-1h0m0 6h0m-1-11h0m0 1h0m0-7h0m0 3h0m-3 7h0m0-7h0m0-7h0m-1 10h0m-3-2h0m-1 7h0m0-9h0m-1-5h0m-2 12h0m0-11h0m0 15h0m-1 3h0m0 4h0m0-19h0m0-1h0m-1 10h0m0 5h0m-1 1h0m-1-3h0m-2-6h0m-3-2h0m-4-1h0m0 5h0m-1 10h0m-1-6h0m-2-15h0m-1 18h0m-2-1h0m0-8h0m-1 0h0m0-7h0m0 5h0m-1 14h0m0-9h0m0-11h0m-1 11h0m-1 5h0m0-13h0m0 18h0m-1-4h0m0-8h0m0 8h0m0-19h0m-1 1h0m0 22h0m0-20h0m-1 2h0m0 2h0m-2 3h0m-1 12h0m0-4h0m-1-6h0m0 10h0m0-6h0m-1-3h0m-2 6h0m0-7h0m0 2h0m-1-9h0m-1 13h0m0-11h0m-1 2h0m0-9h0m-2 14h0m-1-7h0m-1 0h0m0 12h0m0 0h0m-1-17h0m0 5h0m-1 7h0m0-3h0m0 0h0m-1-4h0m0 4h0m-1 7h0m-1-3h0m0 2h0m0 2h0m-1-11h0m-1 1h0m0 3h0m-3-3h0m-1 0h0m-3 14h0m0-2h0m-7-3h0m-1-17h0m0 4h0m-3-3h0m0 1h0m-2 14h0m0-2h0m0-8h0m-1 4h0m0 8h0m0-11h0m0-5h0m-2-4h0m0 11h0m0-8h0m0 0h0m-1 11h0m-1-6h0m0 14h0m0-19h0m0 7h0m-1-9h0m-1 9h0m0 10h0m-1-9h0m0-5h0m-1-1h0m0-4h0m0 6h0m-1-4h0m0 1h0m-1-2h0m0 10h0m-1 10h0m-1-18h0m0 11h0m-1 9h0m0-22h0m-2 18h0m-1-13h0m-1 11h0m0-17h0m-5 5h0m-1-4h0m-1 18h0m-4-19h0m0 5h0m-1-2h0m-1 10h0m-1-3h0m-1-1h0m-2 10h0m-2-19h0m0 8h0m-4-1h0m-1 16h0m0-18h0m-3 12h0m-3-16h0m-1 14h0m0 5h0m0 1h0m-1-4h0m-2-7h0m-3 10h0m-1-14h0m-1 3h0m0 13h0m-2-14h0m0 10h0m-1 2h0m0-8h0m0-8h0m-1 17h0m0-5h0m-1-10h0m0 5h0m-2 0h0m0-11h0m-1 21h0m0-7h0m0 1h0m0-2h0m-1-11h0m-1 5h0m-1 3h0m-1-9h0m-1 7h0m0-8h0m0 7h0m-1-7h0m-1 8h0m0 6h0m-1 7h0m0-6h0m-1 3h0m0-1h0m-2 1h0m0-8h0m-2 12h0m-1-1h0m-1 1h0m0-12h0m0-7h0m0 7h0m-6-10h0m0 7h0m-1 5h0m-1 7h0m0 3h0m-2-14h0m-2 9h0m-1 4h0m0-2h0m-1-9h0m-1 12h0m-1-16h0m-1 6h0m0 4h0m0 2h0m0-3h0m0-4h0m-1-11h0m0 18h0m-1-6h0m-1-4h0m0 0h0m-2 9h0m-1-16h0m0 17h0m-1-12h0m-1-4h0m0 4h0m0 6h0m-1 7h0m-1 0h0m-1 0h0m-1-14h0m0 17h0m0-5h0m-1-2h0m0-2h0m-2-6h0m-2 10h0m-1-16h0m0 11h0m0-4h0m0-6h0m-2 7h0m0 11h0m-1-15h0m-1 9h0m0 8h0m0-12h0m-1-3h0m-1 13h0m-1-15h0m-1 5h0m0-3h0m-1 15h0m0-18h0m0 5h0m-1 8h0m0 1h0m-2 5h0m0-24h0m0 20h0m0-10h0m-2 5h0m0 5h0m-1-6h0m0-13h0m0 21h0m0-9h0m-1 10h0m0-15h0m-1-4h0m0 10h0m0 2h0m-1 5h0m-2-12h0m-1 14h0m0-5h0m0-17h0m-1 8h0m0 7h0m0 8h0m0-22h0m-1 19h0m0-13h0m0 4h0m-1 7h0m-1 3h0m0-14h0m-1 1h0m-2 3h0m-2 11h0m-2-14h0m-1 7h0m-1 3h0m-2 4h0m-3-6h0m0 0h0m0-17h0m-4 19h0m0 1h0m-1 3h0m-1-21h0m0 14h0m-2 2h0m0 1h0m-1-6h0m-2-5h0m-2-4h0m0 16h0m-5-14h0m0 14h0m-1-19h0m-4 3h0m0-4h0m-2 20h0m-2-16h0m-2 16h0m-1-6h0m0-12h0m-2 5h0m-1 1h0m-4-3h0m0-2h0m-1 1h0m0-1h0m-1 20h0m-3-18h0m0-4h0m-1 8h0m0 9h0m0-16h0m0 21h0m-3-23h0m-1 5h0m0 10h0m0-14h0m-1 0h0m-1 6h0m0 12h0m-1 4h0m0 1h0m-1-3h0m-2-14h0m-1 13h0m-1-2h0m-4 2h0m0-13h0m-2 15h0m-3-21h0m0 20h0m-1-7h0m-1-12h0m-1 4h0m0-2h0m-1 13h0m0 3h0m-1-11h0m0 12h0m-1-2h0m0-16h0m-1 10h0m-1-12h0m0 6h0m-3 17h0m-1-24h0m0 23h0m0-5h0m-1 2h0m0-19h0m-1 2h0m0 15h0m-2 5h0m0-21h0m-1 17h0m0-13h0m0 6h0m0 11h0m-2 0h0m0-14h0m0 10h0m0 4h0m-1-7h0m0-16h0m-1 1h0m0 21h0m-1-17h0m0 17h0m0-1h0m-1-14h0m-2 17h0m0 0h0m0-12h0m-2 15h0m1-3h0m0 11h0m2-4h0m1-4h0m1 7h0m0 4h0m1 5h0m0 1h0m1-12h0m0 10h0m0-5h0m1 4h0m0-3h0m1-7h0m0 4h0m0-6h0m0-4h0m1-1h0m0 22h0m0 1h0m0-14h0m1-4h0m0 2h0m0 16h0m0-6h0m0 6h0m1-11h0m1-9h0m1 9h0m0 1h0m1-3h0m1 13h0m1-6h0m1 1h0m2 3h0m3-3h0m5-18h0m7 11h0m0-10h0m5 12h0m2-3h0m1 11h0m0-16h0m2 11h0m3-13h0m1 11h0m1 6h0m0-10h0m2-7h0m0-1h0m1 14h0m2-11h0m2 19h0m0-19h0m0 10h0m2 5h0m0-1h0m0 1h0m0-19h0m0 22h0m1-7h0m0 6h0m1-7h0m0-5h0m0 1h0m0 13h0m2-1h0m0-15h0m1 8h0m1 4h0m1-3h0m1 6h0m0-7h0m0-4h0m1 1h0m1 10h0m4-3h0m1-10h0m0 13h0m3-9h0m3 6h0m0-11h0m2 12h0m2-9h0m0-10h0m1 2h0m0 19h0m0-6h0m0-6h0m1-4h0m0 4h0m1 4h0m0-5h0m5 10h0m2-10h0m2 2h0m0-5h0m1 9h0m0-1h0m0 0h0m1 7h0m0-12h0m0-10h0m1 17h0m0-6h0m0-9h0m3 15h0m0 2h0m0-6h0m0 3h0m1 7h0m0-12h0m0-6h0m1 8h0m0-6h0m0 11h0m1-18h0m1 19h0m1-7h0m0-9h0m1 15h0m1 5h0m2-21h0m1-1h0m0 7h0m0 2h0m1-7h0m0 15h0m1-12h0m0 12h0m1-3h0m1-12h0m0 3h0m1-1h0m1 7h0m0 8h0m1-15h0m1 12h0m0-15h0m1 0h0m0 14h0m0-9h0m2 12h0m0 3h0m0-1h0m0-15h0m1 18h0m2-22h0m0 18h0m0-19h0m0 4h0m1-3h0m0 21h0m1-18h0m0 6h0m0 12h0m1 0h0m0-20h0m1 12h0m0-9h0m2 16h0m1-10h0m0 10h0m2-15h0m0-1h0m1 17h0m0 0h0m1-12h0m0-5h0m0 12h0m1-15h0m0-1h0m0 14h0m2-14h0m1 8h0m0-4h0m1-5h0m0 22h0m1-17h0m1-3h0m2 4h0m0 3h0m1-7h0m2 11h0m0 6h0m0-14h0m0-3h0m2 7h0m1 2h0m0-5h0m1 9h0m0-8h0m1 8h0m0 5h0m1-11h0m0 10h0m1-6h0m0-4h0m0-10h0m1 2h0m0 10h0m1 7h0m0-18h0m1 12h0m0 8h0m0 3h0m2-6h0m0-12h0m0-3h0m0 9h0m1-7h0m0-4h0m1 1h0m1 9h0m0 8h0m0-1h0m0-17h0m1 15h0m0-9h0m0 14h0m0-1h0m0-14h0m1 11h0m0-10h0m0 7h0m0 0h0m0 0h0m0-11h0m1 14h0m0-14h0m0 0h0m1 13h0m1 7h0m1-20h0m0 19h0m0-22h0m1 18h0m0-9h0m0 5h0m2-14h0m1 7h0m0 15h0m2-1h0m0-19h0m0 11h0m0-7h0m1 7h0m0 7h0m1-8h0m0 9h0m2-2h0m1-15h0m0 15h0m0-17h0m1 10h0m0 3h0m1-14h0m0 7h0m1-2h0m0 11h0m1 1h0m2-17h0m1 15h0m0-1h0m3-12h0m0 19h0m0-14h0m0 3h0m0 4h0m0-14h0m0 11h0m1-8h0m0 13h0m0 2h0m0-17h0m1 6h0m0 13h0m1-19h0m0 14h0m1-10h0m0 12h0m1-12h0m0 15h0m2-19h0m1 21h0m0-6h0m0-13h0m0 19h0m2-10h0m0-7h0m1 11h0m1-2h0m1-9h0m2-2h0m1 1h0m2 5h0m0-6h0m0-4h0m1 7h0m2 3h0m1-7h0m1 18h0m0-17h0m1 3h0m0 8h0m0-6h0m0-3h0m1 10h0m0 2h0m0-18h0m1 10h0m1-3h0m2 4h0m0 5h0m0 0h0m1 4h0m0-12h0m0 1h0m2 3h0m0 6h0m2 3h0m0-12h0m1-4h0m0 7h0m0-9h0m0 14h0m1-6h0m0 2h0m1 9h0m0-16h0m1 8h0m0 4h0m1-2h0m0 3h0m0-14h0m1-4h0m1 9h0m0 7h0m0-6h0m0 10h0m0 2h0m1-16h0m1 10h0m1-15h0m1 4h0m1 14h0m2-3h0m0-8h0m0 4h0m0-9h0m2 14h0m0-7h0m0-4h0m1-6h0m1 15h0m0-11h0m0 11h0m1 5h0m1 1h0m1-20h0m0 20h0m1-19h0m7-3h0m0 23h0m6-15h0m1 11h0m0-15h0m0 19h0m1-7h0m0-16h0m1 8h0m1-8h0m1 16h0m0-4h0m2-7h0m1 18h0m1-17h0m0-4h0m0 14h0m1-13h0m0 9h0m0 4h0m0 0h0m1-5h0m4-8h0m0-3h0m0 16h0m4-16h0m0 8h0m1 6h0m0 5h0m2 1h0m3-19h0m0 4h0m1-1h0m1-3h0m1 13h0m1-9h0m1-4h0m0 7h0m1-3h0m0 10h0m1-5h0m0-7h0m1 15h0m1-13h0m0 12h0m0-15h0m2 6h0m0-3h0m2-4h0m0 11h0m0 4h0m2 7h0m0-15h0m1 14h0m0-11h0m1 5h0m0-11h0m1 15h0m2-17h0m0-1h0m0 14h0m3 1h0m0-17h0m1 20h0m1-3h0m1-7h0m2-7h0m0 16h0m1-2h0m1-12h0m1 18h0m0-14h0m1 5h0m0 6h0m2-2h0m1 6h0m0-14h0m1 0h0m0 6h0m0-8h0m1 4h0m5-8h0m1 17h0m1-16h0m0 5h0m1-8h0m1-1h0m1 2h0m1 15h0m0-12h0m3 5h0m1-4h0m1 1h0m1-5h0m2 18h0m1-15h0m1 8h0m1-6h0m2-2h0m0 4h0m1 13h0m0-13h0m2-4h0m1 10h0m3-11h0m6 5h0m2 11h0m0-7h0m3-8h0m4-2h0m2 15h0m0-11h0m1-7h0m4 17h0m1-7h0m1 1h0m1-9h0m0 4h0m2 6h0m0 2h0m1 2h0m1 0h0m0 5h0m1-13h0m5 12h0m1-2h0m4-17h0m1 2h0m1 17h0m0-1h0m2-12h0m0 1h0m0-9h0m3 12h0m0-6h0m2 10h0m2-7h0m3-4h0m0 6h0m7-6h0m0-4h0m-27 30h0m0 0h0m-1-6h0m0 10h0m-1-10h0m-1 6h0m-1 8h0m-2-4h0m-2 0h0m-1 12h0m-1-5h0m-1 4h0m0-7h0m-1-4h0m0 4h0m0 3h0m-1 6h0m-1-3h0m-1-1h0m-2-11h0m-1 3h0m-1-11h0m-3 15h0m0-8h0m-1-2h0m0 1h0m-2-5h0m0 3h0m-1 7h0m-1 7h0m-1-14h0m-1 19h0m0-10h0m-1-5h0m-2 12h0m0 2h0m-1-22h0m-2 23h0m0-19h0m-1 9h0m0 3h0m0 6h0m-1-4h0m-1-1h0m0-12h0m0 13h0m0-9h0m0 9h0m-1-1h0m0-1h0m-1 5h0m-2-19h0m0 18h0m0-5h0m-1-1h0m-1 8h0m0-8h0m-3-1h0m0 0h0m-1 1h0m-1-6h0m-1 9h0m-2-16h0m0 21h0m0-6h0m-1-5h0m0 4h0m-1-6h0m-2-3h0m0 5h0m0 7h0m0 2h0m-1-8h0m0-12h0m-1 20h0m0-21h0m0 8h0m-1 5h0m-1-4h0m0-5h0m-1 16h0m0-12h0m-1-4h0m-1 12h0m0-4h0m0 10h0m-2-17h0m0 12h0m-1 1h0m-1-14h0m0 8h0m-1 0h0m0 9h0m-1-4h0m-1 1h0m0-1h0m0-16h0m-1 3h0m0 18h0m-1-14h0m0-2h0m0 1h0m-1 9h0m0 2h0m0-4h0m-1 4h0m0-11h0m0 4h0m-3-6h0m-1 8h0m0 0h0m0-7h0m-1 11h0m-2-14h0m-1 19h0m-1-3h0m0-15h0m-1 19h0m0-7h0m-3 8h0m0-8h0m-1-5h0m0-8h0m0 19h0m-1-14h0m0-3h0m0 13h0m0-13h0m-1-3h0m-2 10h0m-2 2h0m-1-10h0m0-2h0m0 9h0m-1-11h0m0 14h0m0-4h0m0 7h0m-2 5h0m-2-3h0m0-18h0m0 6h0m0 3h0m-1 5h0m-2-3h0m0 4h0m0-1h0m0-10h0m-1 3h0m-1 10h0m0-17h0m-1 13h0m-1-9h0m0 15h0m-2-7h0m-1-12h0m-2 6h0m-1 14h0m-1-4h0m-1 4h0m0 0h0m-1-7h0m0-8h0m0-2h0m-1 13h0m0-2h0m0-1h0m-1 1h0m0-5h0m-1 4h0m0 7h0m0-9h0m-1-1h0m-2-6h0m-2-2h0m0 8h0m-1 9h0m0-9h0m-1-6h0m-2 8h0m0-5h0m-3 8h0m-1 4h0m0-6h0m-2-5h0m-1 10h0m-2 5h0m0-6h0m-1-3h0m-1 1h0m0-1h0m-1-8h0m-1-5h0m0 19h0m0-20h0m-1 10h0m-2-8h0m-1 13h0m-1-3h0m0-7h0m-1 14h0m-2-2h0m-2-4h0m0 8h0m-1-14h0m-1-7h0m-2 6h0m-1-6h0m0 7h0m0-3h0m-1 7h0m0 8h0m0-1h0m-1 5h0m0-20h0m0 5h0m-1 4h0m0-3h0m0-5h0m-1 4h0m0 0h0m-1 10h0m-1-5h0m0-9h0m-1 14h0m0-18h0m-1 7h0m0 5h0m0 5h0m-1 5h0m0-19h0m0 14h0m-1-15h0m0 4h0m0 17h0m0-23h0m-1 5h0m-1 6h0m0 12h0m0-8h0m-1 0h0m0-5h0m0 8h0m0-13h0m-1 1h0m0 3h0m0-6h0m-1 7h0m-1 8h0m0 3h0m0-22h0m-1 16h0m-1-7h0m-1 1h0m0 0h0m-1 11h0m-1 1h0m0-5h0m0-11h0m-4 8h0m0 7h0m-1-9h0m0 6h0m-1-12h0m0 9h0m-1 1h0m-1 0h0m-1 7h0m0-7h0m0-1h0m-2 0h0m0-10h0m0 13h0m0-8h0m-1 2h0m0 5h0m-1 1h0m0 5h0m0-3h0m-1-6h0m0-12h0m-1 11h0m0 6h0m0-11h0m-1 9h0m0-1h0m-1 1h0m-1-13h0m-1 19h0m-1-9h0m0 6h0m0-19h0m-1 15h0m-2-2h0m-1 6h0m0 1h0m-1-10h0m0-8h0m-1 19h0m-1-9h0m0-1h0m-1 2h0m0 5h0m-2-12h0m-3-6h0m-1 2h0m0 9h0m0 1h0m-1 5h0m-1-16h0m0 19h0m-1-6h0m0-12h0m-1 5h0m0 1h0m-1-5h0m0 2h0m0-2h0m-2 17h0m0-19h0m0 8h0m-1 3h0m-1 2h0m0-13h0m-1 21h0m0-4h0m-2 0h0m-1-13h0m-1 6h0m-1-11h0m-3 15h0m0-2h0m-1 10h0m-2-7h0m0-10h0m-2 7h0m0-1h0m-1 9h0m-2 1h0m-1-19h0m-1 11h0m0-6h0m-2 5h0m-1-11h0m0 3h0m0 17h0m0-17h0m-1 6h0m-1 5h0m-1-4h0m-1 4h0m-1-9h0m-1 11h0m-2-2h0m-2 0h0m0-10h0m-1 16h0m0-8h0m-1-5h0m0 2h0m-2 4h0m0 4h0m-1-16h0m0-4h0m-2 5h0m0 12h0m-1-14h0m-1 11h0m0-7h0m-1 10h0m-1 6h0m-1-19h0m-1 17h0m-1-19h0m-1-1h0m0 19h0m-1-20h0m0 6h0m0 13h0m-1-13h0m-1 5h0m0 5h0m-1-14h0m0 22h0m0-14h0m-1 14h0m-1-5h0m0-14h0m-1 9h0m0-14h0m0 10h0m-1 4h0m-1 1h0m-1 7h0m0-12h0m-1-2h0m0 14h0m-1 1h0m0-13h0m-1-9h0m0 12h0m-3 3h0m0-13h0m-1 17h0m-1-10h0m-1 12h0m-1-22h0m0 11h0m-1-7h0m0 7h0m-1 8h0m-1-15h0m-1-1h0m-1 8h0m-1 7h0m0-3h0m0 0h0m0-5h0m0 10h0m-1 1h0m0-7h0m0-4h0m-1 6h0m-1 0h0m0-10h0m0-3h0m-1 2h0m0-5h0m-1 1h0m0 7h0m0-6h0m-1 1h0m0 5h0m-1 14h0m-1-9h0m0-12h0m-2 11h0m0 6h0m-1-1h0m0 5h0m-1-10h0m-1 2h0m0 0h0m0 6h0m0-19h0m-1 19h0m-1-17h0m0 4h0m-1-6h0m0 17h0m-1 6h0m0-1h0m0-17h0m-1 10h0m-1-2h0m-1-3h0m0-1h0m0 11h0m-2-20h0m-1 4h0m0 18h0m0-5h0m-1-4h0m0 0h0m-1-12h0m0 17h0m0-8h0m0 13h0m-1-3h0m-1-8h0m-2-9h0m0 6h0m-1-5h0m0 9h0m-2-7h0m-1-2h0m-1-3h0m0-1h0m-1 8h0m0-3h0m-1 5h0m-1 8h0m0 4h0m-2-9h0m0-6h0m-1 9h0m0 1h0m-1-11h0m0-6h0m-1 11h0m-1 2h0m0 0h0m-2-1h0m0 7h0m0-10h0m0-7h0m-3 7h0m-4 11h0m-2 0h0m-1-4h0m0-12h0m0 4h0m-1 12h0m-1-2h0m-2-4h0m0-1h0m-2 7h0m0-3h0m-2 6h0m-1-24h0m-1 5h0m0 17h0m0-7h0m0 5h0m-2-10h0m0-5h0m0 17h0m0 2h0m0-1h0m-1-20h0m-1 5h0m-2 14h0m-1-2h0m-1 3h0m0-7h0m-1 8h0m0-23h0m0 11h0m-1-3h0m-1 11h0m0-4h0m-1-2h0m0 8h0m-1-3h0m0-12h0m0 0h0m0 12h0m-1-1h0m-1-14h0m0 14h0m-1 5h0m0-8h0m-1-7h0m0 6h0m-1 6h0m0-17h0m-3 2h0m7 28h0m2 1h0m2-6h0m0 7h0m1-2h0m4 11h0m0-10h0m0 6h0m3-9h0m1 7h0m0 8h0m0-15h0m1 9h0m0-9h0m1-4h0m0 6h0m1-6h0m0 17h0m0-10h0m0 3h0m1-6h0m1 7h0m1-6h0m0 1h0m1 0h0m1-5h0m1 10h0m0-4h0m4 10h0m3-6h0m0-13h0m0 20h0m3 2h0m0-19h0m3 19h0m0-4h0m1-6h0m0 9h0m1-13h0m0 3h0m1 5h0m1-16h0m1 15h0m0-4h0m2 10h0m3-14h0m3 13h0m0-2h0m1-3h0m1-10h0m0-2h0m0 2h0m1 5h0m0 7h0m1 2h0m2-14h0m0 11h0m0-12h0m1 6h0m1 12h0m0-22h0m1 0h0m1 4h0m0 6h0m1 2h0m0 8h0m1-15h0m0-3h0m1 3h0m0-3h0m0 12h0m1 6h0m0-1h0m1-15h0m0 1h0m1 4h0m0 0h0m0 6h0m2 4h0m0-2h0m0 0h0m1-16h0m1 0h0m1 1h0m1 0h0m1 19h0m0-12h0m0-4h0m0 11h0m1-11h0m1 10h0m2 7h0m1-21h0m0 18h0m1-3h0m0-10h0m1 11h0m0-9h0m0-7h0m1 17h0m1-15h0m0 17h0m0-21h0m0 15h0m1-9h0m1 4h0m0 2h0m0-4h0m1-5h0m1 10h0m1-8h0m1 4h0m1 1h0m0-2h0m1 12h0m0-4h0m1-5h0m0-8h0m1 2h0m1 0h0m0 12h0m2 5h0m2-20h0m0 10h0m0-6h0m1-4h0m2 21h0m0-14h0m2-6h0m1 7h0m3 1h0m0 10h0m0-18h0m0 4h0m1 15h0m0-13h0m1-2h0m0 8h0m1-6h0m0 0h0m1-3h0m0 10h0m0-13h0m0-1h0m1 18h0m2-16h0m0 6h0m1 13h0m1-2h0m0-13h0m1 12h0m0-17h0m1 5h0m2 8h0m1 2h0m1 4h0m1-10h0m1-1h0m0 11h0m3-14h0m1-7h0m1 6h0m0 4h0m0-2h0m0-5h0m1 4h0m4 5h0m0-11h0m0 3h0m1 19h0m1-21h0m3 1h0m1 9h0m2-8h0m1 6h0m0-4h0m0-5h0m2 21h0m1-14h0m2 11h0m1 3h0m0-22h0m0 15h0m1-10h0m1 12h0m1 4h0m1-7h0m1-5h0m2-5h0m2-5h0m0 11h0m0 0h0m1 4h0m1-13h0m3 14h0m0-6h0m1 6h0m0-2h0m0 6h0m1-18h0m0 14h0m2 6h0m0-4h0m0 1h0m1-9h0m2-9h0m0 13h0m3 4h0m1-6h0m0-12h0m1 12h0m1 4h0m0 3h0m1 5h0m3-19h0m0 0h0m1 17h0m1-10h0m0-2h0m0-8h0m0 0h0m0-1h0m0 16h0m1 0h0m0-16h0m2 2h0m0 21h0m0-12h0m1 3h0m0-5h0m0-3h0m0 10h0m2-14h0m1 15h0m0-18h0m0 15h0m0-11h0m0 5h0m0-2h0m4-6h0m1 5h0m0 18h0m2-23h0m1 7h0m2 8h0m0-6h0m1-8h0m2 1h0m1 9h0m0-4h0m4-2h0m6 14h0m1-1h0m0-13h0m1 9h0m0-15h0m0 23h0m1-8h0m0 3h0m1 5h0m0-21h0m1 9h0m0 5h0m0 0h0m1-8h0m0 7h0m0-12h0m0 6h0m0-4h0m1 4h0m1 12h0m3-9h0m2 4h0m0-5h0m1 9h0m2-2h0m1 6h0m0-10h0m0-2h0m2 5h0m0-10h0m1 2h0m0-4h0m0 13h0m1-5h0m0 3h0m1-11h0m0 8h0m1 8h0m0-5h0m0 5h0m0-11h0m1 7h0m0-6h0m0 1h0m1-5h0m0 6h0m0 9h0m1-5h0m1-9h0m0 3h0m1 5h0m0-15h0m1 13h0m0 0h0m0 3h0m0 2h0m1 3h0m0-7h0m0-2h0m0-6h0m1 12h0m0-8h0m0 1h0m1-12h0m0 23h0m1-7h0m1-2h0m0-5h0m1-3h0m0-4h0m0 9h0m1 9h0m1-14h0m1-3h0m2 5h0m0 3h0m1-2h0m2 12h0m0 3h0m0-1h0m1-8h0m0-6h0m2 11h0m0-3h0m0-4h0m1-3h0m0 10h0m1 0h0m1-17h0m0 21h0m1-20h0m1 19h0m0-13h0m1 3h0m1 9h0m1-19h0m1 1h0m1 14h0m1-3h0m0 2h0m0-5h0m2-6h0m1 6h0m0 6h0m1-16h0m0 10h0m1-4h0m1 15h0m2-14h0m3-7h0m0-2h0m0 6h0m1 16h0m4-17h0m0 2h0m1-5h0m1 9h0m4-5h0m0-1h0m0 16h0m3-12h0m0 11h0m2-12h0m0 8h0m0-13h0m3 1h0m1 11h0m1-2h0m0-1h0m1-7h0m2-1h0m1 4h0m0 12h0m6-18h0m0 3h0m2 6h0m5-4h0m4 4h0m1-9h0m2-1h0m2 10h0m1-9h0m4 3h0m0 10h0m0-15h0m1 9h0m3-8h0m0 5h0m1 5h0m1-9h0m0 10h0m0-7h0m1 16h0m2-21h0m0 22h0m1-14h0m1-4h0m0 10h0m0-2h0m1-1h0m2-3h0m0-6h0m0 13h0m1-8h0m0 10h0m1 1h0m0 5h0m1-11h0m0 0h0m1 2h0m0 2h0m3-10h0m1 7h0m1 5h0m0-5h0m1 2h0m2-4h0m0-11h0m1 10h0m2-10h0m1 5h0m1-5h0m1 5h0m0-4h0m1 6h0m-8 21h0m-4 3h0m-1 2h0m0 6h0m0-14h0m-2 13h0m0-9h0m-4 9h0m0-3h0m-1 8h0m0-4h0m-1-8h0m0-4h0m-1 19h0m-3-21h0m-4 14h0m0-9h0m0 15h0m-1-14h0m0 15h0m-2-9h0m-1 2h0m0-4h0m-3 1h0m-1 0h0m-1-4h0m0 16h0m-2-12h0m-1-2h0m-1 13h0m-1-6h0m0-10h0m-2 5h0m-2 6h0m-1-15h0m-3 15h0m0 6h0m0-17h0m-2 15h0m-2-14h0m-1 10h0m-9-8h0m-6 8h0m-4-2h0m-2-9h0m-3 4h0m-4 8h0m-3 2h0m-1-9h0m-3-8h0m-2 13h0m-2 2h0m0-18h0m-1 1h0m-1 10h0m-1 11h0m0-20h0m-3 2h0m-1 14h0m0-18h0m-1 11h0m-1-3h0m0-3h0m-2 13h0m-1-1h0m-1-12h0m0-4h0m0 13h0m-1-14h0m0 4h0m0 5h0m-1 12h0m0-20h0m0 12h0m0 6h0m-1-10h0m0-3h0m0 9h0m0 7h0m0-6h0m0-3h0m0-11h0m-1 14h0m0 5h0m-1-20h0m0 10h0m0-7h0m0 6h0m0-3h0m-1 3h0m-1 2h0m0 2h0m0 1h0m0-5h0m0 0h0m0-6h0m-1 0h0m0 17h0m0-17h0m-1 5h0m0-2h0m-1-3h0m0 12h0m-1 2h0m0-6h0m0-3h0m0 0h0m-1 6h0m0-9h0m-1 5h0m-1 0h0m0 6h0m0-1h0m-1-13h0m0 3h0m0 16h0m-1-23h0m0 5h0m-2 12h0m0 0h0m0-10h0m-1 7h0m-1 3h0m-1 1h0m-2-3h0m0 6h0m-2-13h0m0-4h0m-1 20h0m-2-7h0m-6 0h0m-4-8h0m-1-7h0m-1 2h0m0 11h0m-1 4h0m0-11h0m-3-4h0m0 16h0m-1-9h0m0-9h0m-1 14h0m-1-14h0m0 16h0m0-9h0m-1 12h0m0-14h0m-1-6h0m-1 4h0m0 7h0m-1-6h0m0 13h0m0 0h0m-2 1h0m0 0h0m-1-12h0m0 6h0m-2 1h0m-1 4h0m-1-8h0m0 1h0m-1 7h0m0-6h0m-2 4h0m-2 0h0m-2 7h0m-1 0h0m0-7h0m-1 0h0m0-10h0m-1 12h0m0 0h0m-1 4h0m0-7h0m0-9h0m-1 4h0m0-2h0m-1-5h0m0 8h0m-1 10h0m0-3h0m0 3h0m-1-16h0m0 12h0m0-13h0m-1-5h0m-1 18h0m-1 3h0m-1-6h0m-1 8h0m-1-5h0m0 2h0m-2 2h0m0 1h0m0-18h0m-1 10h0m-2 8h0m-1-9h0m0-7h0m0 15h0m0-15h0m-1 12h0m-1-9h0m0-9h0m0 22h0m-2-12h0m-1 13h0m0-22h0m0 15h0m0-9h0m-1 7h0m-1-4h0m0-2h0m-1 6h0m0 4h0m-3-19h0m0 3h0m-1 7h0m-1 3h0m0 6h0m0 5h0m0-6h0m-1-5h0m0 7h0m0-16h0m0 2h0m-1 16h0m0-5h0m-1-15h0m0 4h0m0 3h0m0 1h0m-1 13h0m0-23h0m0 10h0m-1 13h0m0 0h0m0 1h0m-1-2h0m0-2h0m0-18h0m-1 10h0m0-4h0m-1 8h0m0-9h0m0 10h0m0-10h0m-2 2h0m-1 11h0m0-1h0m0-3h0m0-2h0m-1-12h0m-1 8h0m0 13h0m0-7h0m0-13h0m-1 15h0m0-13h0m0 5h0m-1-1h0m0-6h0m-1 12h0m-1-11h0m-1 20h0m0-4h0m-1-11h0m0-9h0m0 17h0m0-14h0m-1-2h0m-1 9h0m-1 0h0m-1-7h0m-1 3h0m0-1h0m-1-4h0m-1 8h0m-2-6h0m-1 1h0m-1 17h0m0-18h0m-1 12h0m-2-11h0m-1 5h0m-2 1h0m-2-8h0m-1 3h0m-1 4h0m0 2h0m-1-2h0m0 1h0m-2 13h0m0-8h0m0-13h0m-1 13h0m-1-11h0m0 7h0m-1 2h0m-2-11h0m0 6h0m-1 2h0m-2 5h0m0 2h0m-1-15h0m0 5h0m-2 15h0m0-10h0m0 7h0m-2-10h0m-1 10h0m-4-10h0m0 3h0m-3 4h0m-2-3h0m-3-6h0m-6 0h0m-6-3h0m-3 0h0m-2 1h0m0 4h0m-1 8h0m0-14h0m-3-1h0m-1 6h0m-1 13h0m-1-10h0m0 12h0m0-7h0m0-3h0m-1-11h0m0 16h0m-1-17h0m-1 22h0m-1 1h0m-1-19h0m-1 15h0m0-14h0m-1 0h0m0 18h0m-2-22h0m-1 21h0m-2-23h0m0 11h0m-4-8h0m0 10h0m0 7h0m-1-2h0m0-11h0m0 6h0m-3-7h0m0 7h0m-1-7h0m0 10h0m-2-7h0m-1 0h0m-1-6h0m-1 13h0m-1-5h0m-1-3h0m-3 9h0m0-4h0m0-9h0m0 3h0m-1-4h0m0 5h0m-3-1h0m0-5h0m-1 6h0m0-7h0m-1 0h0m0 8h0m-3 1h0m-1 0h0m-6-9h0m-5-1h0m38 26h0m2-1h0m3 4h0m1-4h0m3 4h0m0-3h0m3-1h0m1 7h0m1-3h0m1-2h0m1 3h0m2 2h0m2-3h0m0 0h0m4 0h0m1 4h0m2 6h0m2-4h0m1-1h0m0 0h0m1 8h0m1-4h0m2 6h0m0-12h0m3 10h0m2-2h0m0-9h0m2 3h0m1 9h0m1-14h0m2 1h0m4 7h0m3 4h0m5 3h0m1-2h0m2-15h0m0 15h0m2-2h0m2-9h0m0 8h0m1-5h0m0-4h0m0 15h0m1-10h0m8-6h0m2 11h0m0-6h0m3 12h0m2-18h0m1 7h0m3-4h0m0 11h0m1-9h0m3-4h0m1 6h0m0-3h0m0 10h0m1-4h0m0-13h0m0 19h0m1-16h0m0 1h0m1 4h0m0-3h0m0 7h0m0 9h0m1-16h0m1-5h0m1 5h0m0-5h0m1 9h0m1-5h0m0-2h0m0 18h0m0-16h0m3 1h0m0 7h0m1-6h0m1 13h0m1-16h0m0-3h0m0 22h0m1-11h0m0-2h0m0-3h0m1-4h0m0 5h0m1 5h0m2-10h0m0 3h0m1 15h0m0-14h0m0 10h0m0-4h0m1 1h0m1-5h0m0 6h0m0-11h0m1-2h0m0 17h0m1-17h0m0 3h0m0 12h0m1 2h0m0-8h0m0-6h0m1-3h0m1 8h0m0-5h0m0 0h0m1 9h0m0-13h0m0 3h0m1 0h0m0 9h0m1-8h0m0 6h0m1-7h0m0 2h0m0 8h0m1-7h0m0-5h0m1 16h0m0-12h0m0 12h0m1-14h0m2 9h0m1 10h0m2-17h0m0 6h0m0 12h0m0-19h0m1 8h0m1-5h0m0 10h0m3-8h0m0 3h0m1 3h0m0 7h0m0-12h0m3 4h0m1-14h0m1 1h0m1 11h0m0-1h0m1-10h0m0 16h0m0-7h0m1-11h0m2 2h0m1 7h0m0 0h0m1 6h0m1-8h0m0 5h0m0 3h0m3-7h0m2 5h0m4 7h0m0-12h0m2-7h0m1 21h0m0-11h0m2 11h0m0-9h0m1-10h0m1 14h0m1 0h0m1-11h0m0 1h0m2 13h0m0-5h0m0-14h0m1 15h0m1 4h0m1-15h0m0 4h0m3 11h0m0 2h0m0-16h0m5 10h0m0-14h0m2 9h0m2 10h0m1-21h0m1 5h0m2 18h0m1-15h0m1 4h0m0-8h0m1 7h0m0 5h0m1-16h0m1 17h0m1 5h0m0-17h0m2 5h0m5 1h0m0 4h0m1-9h0m0-5h0m1 12h0m1-11h0m1-1h0m3 4h0m0 17h0m1-6h0m0 7h0m1 0h0m1-19h0m0 15h0m0-6h0m1-6h0m2 12h0m1 3h0m2 2h0m1-2h0m0-2h0m3-5h0m2-9h0m0-2h0m1 0h0m0 13h0m2-6h0m0 1h0m1-11h0m2 9h0m0 5h0m2-3h0m1 2h0m2 9h0m1-6h0m3 2h0m6-10h0m2 7h0m1-9h0m3 15h0m1-13h0m3-2h0m0 10h0m2 2h0m2-8h0m0 8h0m0-13h0m2 4h0m2 7h0m3-1h0m0 1h0m2 0h0m1-4h0m9-9h0m4 4h0m10-7h0m-43 24h0m-2 4h0m-6-3h0m-4 2h0m0 6h0m-5-1h0m-2-3h0m-2 4h0m-3-8h0m0 13h0m-4-3h0m0 2h0m0-9h0m-1 5h0m-1-3h0m0-5h0m0 10h0m0 5h0m-1-9h0m0 6h0m-2-8h0m-1 3h0m-1-2h0m-1 3h0m-1-9h0m-40-1h0m0 0h0m-13 2h0m-7 3h0m-7 0h0m-3 3h0m-1 0h0m-1 0h0m-1-7h0m-1 4h0m-4-5h0m-2 4h0m-1 3h0m0-5h0m-1 2h0m0 8h0m-1-6h0m0 1h0m-2 2h0m-1-9h0m-1 16h0m0-12h0m-1 10h0m-1 2h0m-1-4h0m-1-6h0m-1 1h0m0 2h0m0 5h0m0-2h0m0 5h0m-2-11h0m-1 11h0m0-16h0m-1 7h0m-3 8h0m-3-11h0m-2 14h0m0-15h0m0 0h0m-1 0h0m0 10h0m-1-6h0m0 1h0m-1 6h0m-2-5h0m0-5h0m0 9h0m-1-10h0m0 5h0m0-8h0m0 4h0m-2 2h0m0-5h0m-1 12h0m-3-9h0m-1-1h0m-1 12h0m0 3h0m-2-15h0m0 13h0m-2 1h0m-1-16h0m-1 12h0m0-8h0m0 8h0m-2-11h0m-1 2h0m0 8h0m0-10h0m-1 9h0m-3-5h0m0-1h0m0-3h0m-3 6h0m-5-2h0m-4-7h0m-13 0h0m0 4h0" stroke="#979ac3"/><path d="M1798 1703h0m0-8h0m3 3h0m1-5h0m3 7h0m0-10h0m1 1h0m2 13h0m2-17h0m0 11h0m1 6h0m1-12h0m1 2h0m0 6h0m1-7h0m0 0h0m0 4h0m1-1h0m1 4h0m0-8h0m0-3h0m0 10h0m1 4h0m0-4h0m0-3h0m2-7h0m0 7h0m1-2h0m0 2h0m2 4h0m0-4h0m3 0h0m2-2h0m21 30h0m-3-1h0m-2-3h0m-1 7h0m-1 0h0m0-2h0m-2-1h0m0 3h0m-2-16h0m0 11h0m-1 6h0m0-13h0m0 3h0m0 9h0m0-15h0m0 7h0m-2-2h0m0 4h0m-1 4h0m-1-10h0m0 4h0m-1-12h0m0 15h0m0 0h0m-1-7h0m0-6h0m0 18h0m0-23h0m-1 12h0m0 11h0m-1-1h0m-1-9h0m0 9h0m-1-4h0m0 1h0m0-17h0m0 0h0m-1 4h0m0 3h0m0 3h0m-1 1h0m0 5h0m-1 1h0m0-9h0m0 6h0m-1 1h0m0-2h0m-1-8h0m-1 16h0m0-10h0m-1-9h0m0 0h0m0 8h0m-1 11h0m0-21h0m-1 10h0m0-5h0m0 14h0m-1-20h0m-1 20h0m0-18h0m0 8h0m0 11h0m-1-6h0m-1 3h0m-1 1h0m0 0h0m-1-15h0m0-3h0m0 7h0m-1-3h0m-1 10h0m0 6h0m-1-15h0m0 11h0m-1 1h0m-1-8h0m-1 9h0m0-16h0m0 12h0m0 6h0m-1-22h0m-1 15h0m0-8h0m-2 1h0m-1 16h0m-1-12h0m-2-2h0m0-2h0m-1 1h0m0 12h0m-1-20h0m-1 1h0m-1 4h0m-1 16h0m-1-20h0m-1 15h0m-1 6h0m0-18h0m-1 5h0m0 2h0m-1-5h0m0 15h0m0-12h0m-1 1h0m0-4h0m0 8h0m-1 3h0m0 1h0m-1 3h0m-1-11h0m-1 5h0m0 7h0m0-9h0m-1 1h0m-1 5h0m-2 3h0m-1 0h0m-26 21h0m3-3h0m1 4h0m1-7h0m0 5h0m2-3h0m2 6h0m0-10h0m1 5h0m1-4h0m1 6h0m0-6h0m0 2h0m1 4h0m0 3h0m2-15h0m1 2h0m4 14h0m0-12h0m2-7h0m1 17h0m0-6h0m1 1h0m0 3h0m1 0h0m0-9h0m0-9h0m1 0h0m1 19h0m0 3h0m0-16h0m0 5h0m1 1h0m0 3h0m1-10h0m0 7h0m0-4h0m0 8h0m1-11h0m1 12h0m0 5h0m0-6h0m1 2h0m0-5h0m1-13h0m0 20h0m0-21h0m0 8h0m1-2h0m0 13h0m0-5h0m1-7h0m1 9h0m1 1h0m0 5h0m2-12h0m0 12h0m0-15h0m0-5h0m1 13h0m1-8h0m0 11h0m1-3h0m1 0h0m0 4h0m1-15h0m0-2h0m1 10h0m0-12h0m2 17h0m0-9h0m0-2h0m1 11h0m1 3h0m1-14h0m0 5h0m0 4h0m1 6h0m0-14h0m0 11h0m1-17h0m0-1h0m1 5h0m0 9h0m3-4h0m0 11h0m0-12h0m1 8h0m0-10h0m0 4h0m1-7h0m1 11h0m1-8h0m1 2h0m0 6h0m0-13h0m1 0h0m0 13h0m0-9h0m0 7h0m1-6h0m0 3h0m0-7h0m1 19h0m0-13h0m1 4h0m0 2h0m3-8h0m1 3h0m3-7h0m0 11h0m1 9h0m0-19h0m0 4h0m1-7h0m0 7h0m0-6h0m0 6h0m1 15h0m1-19h0m1-1h0m0 17h0m1 0h0m0-4h0m0 3h0m2-7h0m0-9h0m0 0h0m1-3h0m2 20h0m2 0h0m0 4h0m0-23h0m2 7h0m1 9h0m2-14h0m1 3h0m1 17h0m0-14h0m1 2h0m0-6h0m1 2h0m1 16h0m1-9h0m1 3h0m1 5h0m0-1h0m1-9h0m0-6h0m1 10h0m0 1h0m1 1h0m1 1h0m1-8h0m0 9h0m0 4h0m0-9h0m0-1h0m1 1h0m2-2h0m1 1h0m2 4h0m0 3h0m0-3h0m2 5h0m0-4h0m1 1h0m33 28h0m-4 0h0m-1-2h0m-3 2h0m-1-2h0m0-3h0m-3 2h0m-1 1h0m-1-4h0m-1 1h0m-2-1h0m-3 4h0m0 2h0m-1-13h0m-2 3h0m-1-7h0m0 16h0m0-8h0m-1 6h0m-1-15h0m-2 6h0m-2 7h0m-1 2h0m-1-11h0m-1-9h0m0 14h0m0 8h0m-1-20h0m0 13h0m0-5h0m0 2h0m-1-8h0m0 1h0m-1 16h0m-1-6h0m0 6h0m0-11h0m-1-6h0m0-3h0m-2 6h0m0 11h0m-1-19h0m0 4h0m-2 0h0m-1 17h0m-2-19h0m0 15h0m-1 0h0m-1-13h0m-2-2h0m0 17h0m0 2h0m-1-14h0m0 7h0m-1 2h0m-1-13h0m0 13h0m-1-8h0m-1-5h0m0 4h0m-2 9h0m0-13h0m0 10h0m-1-1h0m-2-10h0m-2 4h0m-1 0h0m-2-5h0m-6 0h0m-3 2h0m-6 1h0m0 3h0m-3 0h0m-3-3h0m-2 0h0m-2 5h0m-1-4h0m0-4h0m-2 0h0m-3 10h0m-2-5h0m-1 1h0m-3-4h0m-3 4h0m-2-7h0m-2 1h0m-1 4h0m0-2h0m-3-1h0m-1 1h0m-1-2h0m-3 4h0m-5-2h0m-7-2h0m85 30h0m0 0h0m0-5h0m2 9h0m0-1h0m4 7h0m1-4h0m4 6h0m2-11h0m0-6h0m2 14h0m4-9h0m2 1h0m1-8h0m0 13h0m0 2h0m2-5h0m1 1h0m0 12h0m1-6h0m0-9h0m1 5h0m0 7h0m0-8h0m1 4h0m0-12h0m0 4h0m0-7h0m1 11h0m0 8h0m1-3h0m1-5h0m0-10h0m0 12h0m0-8h0m1 6h0m1-8h0m0 1h0m0 4h0m0-4h0m1 15h0m0-10h0m0 6h0m1-10h0m0-2h0m0 6h0m1 3h0m0 1h0m0-5h0m1 1h0m0-2h0m0 13h0m1-3h0m0-6h0m0-11h0m0 9h0m0 12h0m1-11h0m0-2h0m1-6h0m0 18h0m1-5h0m0 0h0m0-3h0m0-3h0m1 7h0m1-13h0m1 12h0m0 4h0m0-4h0m1 7h0m0 0h0m1-11h0m0 1h0m0-5h0m0 3h0m1-9h0m0 9h0m3 11h0m1-7h0m0 9h0m1-11h0m0-5h0m1-4h0m0 6h0m0-5h0m1 6h0m1 2h0m1 0h0m0-5h0m0 12h0m0-12h0m1-3h0m0 13h0m0-13h0m0 7h0m0-6h0m1 11h0m0-2h0m1 6h0m1 1h0m0-7h0m1 2h0m0-9h0m1 11h0m0 4h0m0-10h0m0-7h0m2 12h0m0 4h0m0 0h0m0-11h0m1 2h0m1 10h0m0-7h0m0 2h0m0-9h0m2 11h0m1-8h0m0 8h0m0-5h0m0 1h0m2 7h0m1-4h0m0 4h0m0-10h0m1-4h0m0 6h0m1 7h0m1-11h0m0 2h0m0 2h0m2-2h0m1 7h0m0-5h0m1 3h0m0 3h0m1-10h0m1 5h0m0-2h0m1-1h0m0 1h0m2 6h0m1-3h0m0 3h0m2-2h0m0 6h0m1-10h0m0 7h0m1-6h0m0 5h0m1 1h0m1-3h0m0-2h0m1 0h0m2 7h0m1-1h0m1 2h0m1-5h0m0 1h0m0-1h0m1 2h0m1 1h0m2 1h0m3 1h0m1-6h0m0 5h0m3 1h0m6-1h0m5-4h0m14-3h0m0 0h0m2 7h0m5-8h0m0 6h0m1 1h0m2-2h0m0-5h0m1 6h0m1 2h0m0-6h0m3-3h0m0 2h0m0-3h0m1 8h0m1 3h0m0-2h0m1-1h0m0 2h0m0-10h0m1 5h0m0-1h0m0 4h0m0-3h0m0-2h0m1 6h0m0-2h0m1-5h0m0 6h0m1-1h0m0 1h0m2-2h0m2 4h0m0-3h0m0-2h0m1 3h0m0-5h0m0 0h0m2 5h0m0-2h0m2 0h0m3 1h0m0 2h0m3-1h0m0 0h0m7 2h0m3 0h0m31 23h0m-1 1h0m-3-1h0m0 2h0m-4-3h0m0-4h0m0 4h0m-2-4h0m0 4h0m0 3h0m-1-1h0m-1-8h0m0 2h0m0-4h0m-1 5h0m0-6h0m-1 0h0m-1-3h0m-1 2h0m0-2h0m-3 1h0m0 5h0m-1 6h0m0-2h0m-1-11h0m0 8h0m-2-13h0m0 6h0m-1 6h0m-1-1h0m-1-7h0m0 9h0m0-5h0m-1 9h0m0-3h0m-1-6h0m0-5h0m-1-6h0m-2 13h0m-1-9h0m-1 19h0m-1-14h0m0 12h0m-2 2h0m-1-21h0m0-1h0m0 3h0m-1 10h0m-1-10h0m0 11h0m-1 1h0m0-15h0m-1 20h0m0-15h0m-1 9h0m0 7h0m-1 1h0m0-7h0m0-15h0m-1 13h0m0 1h0m0 6h0m-2-3h0m0-18h0m0 8h0m-1 7h0m0-11h0m-1 5h0m0 11h0m-1-6h0m0 8h0m-1-3h0m0-11h0m0 5h0m-1-1h0m0 7h0m0-11h0m0-7h0m0 15h0m0-15h0m-1 14h0m0-6h0m0 5h0m0-10h0m-1 20h0m0-4h0m0 4h0m0-11h0m-2-3h0m0 4h0m0-5h0m0 9h0m0-11h0m-1 14h0m0-2h0m0-11h0m0 4h0m-1-7h0m-1-3h0m0-1h0m-1 0h0m0 7h0m0 7h0m0-13h0m-1 16h0m-1-1h0m-1-5h0m0-9h0m0 21h0m-1-17h0m0-5h0m-1 9h0m0-5h0m-2-2h0m0 1h0m0 7h0m-1-12h0m-1 17h0m0-7h0m0-5h0m0 16h0m0 3h0m0-11h0m-1-11h0m0 6h0m-1 5h0m0-10h0m-1 15h0m0-15h0m-1 6h0m0 7h0m0-11h0m-1 7h0m0 6h0m0-4h0m-1-4h0m0-5h0m-1-2h0m-1 13h0m0-4h0m0 11h0m-1-4h0m0-12h0m-1 11h0m0-10h0m0-2h0m-1 17h0m0-6h0m-1 2h0m0-4h0m-1 4h0m0-15h0m-1 2h0m-1 15h0m-1-9h0m0 0h0m-1-5h0m-1-2h0m0 19h0m0-2h0m0-12h0m-2-8h0m-2 10h0m-2-5h0m-1 17h0m0-10h0m-4 1h0m0-12h0m-1 20h0m0-2h0m-2-10h0m-2-1h0m0 0h0m0 11h0m0-9h0m-2 10h0m0-8h0m-1 1h0m0-9h0m-1-1h0m-1 1h0m0 3h0m0-1h0m-1-3h0m-1 13h0m-1-13h0m0 15h0m0-18h0m-1-1h0m0 17h0m0-14h0m-1 1h0m0 1h0m0 3h0m0-5h0m-2 2h0m0 8h0m0-3h0m0 5h0m0 5h0m-2 0h0m0-18h0m0 12h0m0-14h0m0 0h0m-1 0h0m0 6h0m0 17h0m0-6h0m-1-12h0m0 9h0m0 2h0m-1 7h0m0-15h0m0-8h0m-1 16h0m0 5h0m0-20h0m0 2h0m-1 6h0m0 3h0m-1-12h0m0 3h0m-1-3h0m0 13h0m-1 3h0m0-16h0m0 20h0m-1 0h0m0-9h0m0 0h0m-1 9h0m0-1h0m0-16h0m-1 1h0m0-2h0m-1 7h0m0 3h0m0 1h0m-1 10h0m0-18h0m0 2h0m0 13h0m-1-19h0m-1 22h0m0-7h0m-1 2h0m0-10h0m0 8h0m-1-3h0m-1-1h0m0-7h0m-1 15h0m-1-15h0m-1 17h0m0-5h0m0-17h0m0 0h0m-1 6h0m0-1h0m0 1h0m-2-7h0m-1 0h0m0 13h0m-2-10h0m-1 20h0m-1-19h0m0 12h0m0-14h0m-1 0h0m-1 0h0m-1 1h0m-1 18h0m0-9h0m-1-6h0m0 0h0m-1 3h0m-1-5h0m-1 1h0m0 7h0m0 4h0m-1-5h0m0-3h0m0-3h0m0-1h0m-1 14h0m0-14h0m-2 10h0m-1 2h0m0-11h0m0 10h0m-1-4h0m0 0h0m-1 6h0m0-4h0m-1 11h0m-1-18h0m0 6h0m0-3h0m-2-7h0m0 2h0m-1 12h0m-2-6h0m-1 1h0m-1-2h0m0-5h0m0 3h0m-2 15h0m0 0h0m-1-7h0m0-4h0m0 0h0m-1-10h0m0 17h0m0-17h0m0 8h0m-1 2h0m0 6h0m0-7h0m0 9h0m0 4h0m-1-6h0m0-4h0m0 9h0m-2 0h0m-1-10h0m-2 6h0m-2-5h0m-1 7h0m0 1h0m-4-6h0m-1-4h0m0-4h0m-2-4h0m0 10h0m-2-6h0m-1 1h0m-1-6h0m-1-1h0m15 34h0m3-7h0m1 7h0m3-5h0m0 2h0m0 5h0m0-6h0m0 6h0m2 10h0m2-21h0m0 5h0m0 1h0m1 0h0m2 10h0m0 6h0m1-14h0m1 12h0m1-8h0m17-7h0m3-2h0m3 4h0m0-8h0m2 16h0m1-12h0m1 0h0m0 1h0m0-6h0m0 12h0m4-3h0m0 0h0m1 13h0m2-5h0m0-8h0m1 11h0m1-6h0m0-4h0m0-10h0m1 6h0m1-3h0m2 13h0m1-15h0m0 2h0m0 10h0m2-4h0m1-3h0m2 18h0m0-22h0m3 4h0m4 12h0m1 5h0m0-16h0m1-4h0m1 13h0m2-6h0m1-9h0m0-1h0m0 12h0m1 6h0m1 0h0m0 3h0m0-14h0m3 7h0m0 2h0m0-2h0m1 3h0m1-6h0m1-5h0m0-6h0m1 5h0m0 16h0m0-14h0m1 5h0m2 4h0m0-5h0m0-4h0m0-6h0m0 1h0m0 5h0m0 1h0m1 12h0m1-17h0m1 7h0m1-4h0m0 16h0m1-21h0m0 11h0m1-1h0m0 9h0m2-16h0m0-2h0m1 21h0m0-14h0m0 8h0m1-2h0m0 1h0m1-16h0m1 20h0m0-15h0m0 9h0m1 8h0m1-21h0m0 9h0m1-5h0m0 11h0m0 3h0m0-17h0m1 21h0m1-2h0m0-7h0m2-12h0m1 0h0m0 11h0m1 5h0m1-9h0m0 2h0m1-5h0m2 9h0m1-3h0m2 7h0m1 5h0m0-23h0m0 4h0m1 7h0m0 1h0m1 7h0m1-11h0m0 5h0m1-11h0m1 9h0m0-8h0m0-3h0m1 7h0m0 6h0m1-4h0m0-4h0m0 0h0m0 2h0m0-1h0m0 5h0m2 5h0m0-14h0m1 6h0m0-1h0m1-1h0m0-6h0m0 12h0m0 10h0m1-17h0m0-5h0m1 9h0m0 11h0m0-10h0m1 5h0m1 2h0m0-15h0m0 9h0m0-11h0m0 8h0m1 9h0m0-13h0m0 5h0m0 7h0m0-3h0m1-4h0m0 6h0m0-11h0m0 13h0m1-18h0m0 1h0m2 12h0m0 1h0m0 1h0m0-10h0m1 13h0m0 2h0m2-9h0m0 6h0m0 2h0m1 1h0m1-9h0m0-6h0m0 17h0m0-14h0m1-2h0m0 7h0m0 10h0m0-17h0m1 2h0m0 10h0m0-7h0m0-9h0m1 4h0m0 7h0m0 9h0m1-1h0m1-6h0m0 2h0m1-9h0m0 0h0m0-4h0m1 15h0m0-16h0m0 9h0m0-2h0m1-8h0m3 9h0m1 9h0m0-6h0m1-13h0m0 10h0m1 4h0m0-14h0m0 6h0m1 0h0m0-5h0m2 13h0m0-13h0m1 10h0m0-3h0m1 13h0m2 1h0m0-2h0m1-1h0m1-20h0m1 14h0m0 6h0m3 3h0m0-20h0m0 12h0m1-15h0m1 6h0m0 11h0m1-4h0m0-3h0m0-4h0m0 17h0m2-17h0m0-3h0m0 9h0m0-4h0m0 6h0m1-10h0m0-2h0m0 16h0m0-6h0m1 7h0m0-18h0m0 14h0m0-14h0m1 22h0m0-19h0m0 3h0m0 3h0m0 6h0m1 0h0m1-8h0m0 12h0m0 3h0m0-20h0m1 3h0m0 9h0m0 7h0m0-8h0m1-10h0m0 14h0m1-18h0m1 19h0m0-2h0m0-16h0m1 2h0m1-1h0m1 15h0m0-11h0m2 12h0m0 1h0m1-2h0m4 1h0m0 1h0m2 1h0m0 2h0m1 2h0m2-4h0m0 0h0m1 1h0m1 3h0m-3 7h0m0-4h0m-1 14h0m-1-1h0m-2-4h0m-1-10h0m-1 17h0m0 3h0m0-12h0m0 5h0m-1-3h0m-1 10h0m-1-7h0m-2 6h0m-1-6h0m0-15h0m0 12h0m-1-2h0m-1 10h0m0-5h0m0 3h0m-2 2h0m0 3h0m0-17h0m0 7h0m-1 3h0m0-1h0m-1-4h0m0 0h0m0 0h0m-1 7h0m-1-5h0m0 5h0m-1-3h0m-1-9h0m0 17h0m0-15h0m-1 3h0m0-1h0m0 8h0m-1-16h0m0 14h0m-1 1h0m0-10h0m-1-1h0m-1 8h0m-1-1h0m0-10h0m-1 5h0m0 8h0m0 4h0m-1-6h0m0-9h0m0 5h0m-2 10h0m0-19h0m-1 1h0m0 3h0m0 8h0m-1 4h0m0-6h0m-1-9h0m0-1h0m-1 4h0m0 19h0m0-2h0m-2-13h0m-1-6h0m-1 7h0m0-1h0m-1-3h0m0 14h0m0 2h0m0-16h0m-2-2h0m0-1h0m0 20h0m-2-18h0m0 5h0m0-8h0m-1 9h0m0 12h0m-1-22h0m-1 0h0m0-1h0m0 6h0m0-5h0m-1 20h0m0 2h0m0-16h0m0 2h0m0-6h0m-1-3h0m0 4h0m-1 1h0m0 11h0m0-6h0m0 8h0m0 1h0m-1-18h0m0 12h0m0-13h0m-1 21h0m0 0h0m-1-8h0m0-10h0m-1 0h0m0 18h0m0-13h0m0 7h0m-1-14h0m0 17h0m-1-12h0m0 3h0m-1-2h0m-1-5h0m0 10h0m-1 6h0m-2-10h0m-1 9h0m-1-5h0m0 11h0m0 0h0m-1-17h0m0 15h0m-2-18h0m-1 10h0m0-6h0m0 15h0m-2-4h0m0-10h0m-2 13h0m-1-1h0m0-14h0m-1 11h0m-1-3h0m0 0h0m0 8h0m-1-20h0m-1 6h0m-1-4h0m0 17h0m-2-4h0m-2 3h0m0 0h0m-1 1h0m-2-1h0m-1-5h0m0-15h0m-1 23h0m0-5h0m-1-6h0m-4 9h0m0-6h0m-2-14h0m0 6h0m-2-4h0m0 11h0m-1-10h0m0 5h0m-1 8h0m-2 2h0m-1-11h0m0 2h0m0 4h0m-1 4h0m-2 1h0m-1 2h0m0-7h0m-1 0h0m0 4h0m-1 3h0m-1-12h0m-1-9h0m0 4h0m0 8h0m0-5h0m-1 1h0m0 10h0m0-6h0m-2-6h0m0 12h0m-1-2h0m0-2h0m0 8h0m-1 0h0m-1-15h0m0 6h0m-1 9h0m-2-3h0m0 4h0m-1-1h0m-1 2h0m-1-22h0m0-1h0m-1 0h0m0 11h0m-1 12h0m-1-5h0m0-5h0m0 8h0m-1-17h0m0 3h0m0-5h0m0 11h0m0 4h0m0 0h0m-1 4h0m-1-8h0m-1 5h0m0-11h0m0 12h0m-1-9h0m0-7h0m0 13h0m0-9h0m-1 7h0m-1 8h0m0-3h0m0-11h0m-1 14h0m0-13h0m0-6h0m-3 20h0m0-6h0m0-13h0m-1 12h0m0-11h0m0 17h0m-2 0h0m-1-18h0m-1 13h0m0-5h0m0 2h0m-1-5h0m-1 11h0m0-1h0m0-3h0m-1-5h0m-1 0h0m0 1h0m0 4h0m-1-4h0m0 7h0m-3 1h0m-1-12h0m0-7h0m0 5h0m-1 2h0m0 4h0m0 2h0m-1-14h0m0 23h0m0-13h0m-2 9h0m-1-4h0m0-5h0m0-5h0m0 12h0m-1-3h0m0-5h0m-1-1h0m-2 10h0m-1 0h0m0 0h0m-14 5h0m-7-17h0m-4-2h0m-2 6h0m0-5h0m-2 5h0m-2 7h0m0 6h0m0-13h0m-1 0h0m0-10h0m-1 10h0m0 7h0m-4 27h0m3-5h0m0-10h0m2 16h0m0-3h0m0 0h0m0-19h0m1 24h0m1-14h0m0-2h0m0-3h0m0 9h0m0-14h0m1 8h0m0-4h0m0 8h0m1-4h0m2 1h0m1-9h0m3 12h0m1 11h0m0-10h0m5 5h0m1 0h0m1 5h0m0-6h0m1 3h0m0 2h0m3-1h0m1 2h0m0-1h0m2-8h0m1-9h0m3 13h0m0 4h0m0-20h0m1 10h0m0 8h0m0-15h0m1 7h0m0-5h0m1 10h0m4-9h0m3 7h0m0-5h0m1-7h0m0 4h0m1 13h0m1-5h0m0-14h0m1 2h0m0 9h0m0 1h0m0-4h0m2-9h0m0 5h0m1 11h0m0-10h0m1 9h0m2-5h0m0-7h0m0 18h0m0-8h0m1 4h0m0 1h0m0 6h0m1-8h0m1 5h0m1 2h0m1-20h0m0 13h0m0-8h0m1-2h0m0-1h0m1 14h0m0-1h0m0-10h0m0 12h0m1-5h0m1-7h0m0-4h0m0 1h0m1 10h0m1-1h0m1-9h0m2-5h0m0 10h0m1-8h0m0 3h0m1 14h0m1-9h0m2 5h0m1 6h0m1 3h0m1-4h0m0-19h0m1 19h0m1-16h0m2 16h0m0-15h0m0-3h0m1 4h0m0 0h0m1 2h0m0 9h0m1-5h0m2-3h0m0 0h0m1 5h0m0 0h0m0-13h0m3 9h0m0 1h0m0-6h0m0 17h0m3 0h0m0-5h0m1-2h0m0-14h0m1 0h0m1 17h0m1-9h0m0 6h0m0-9h0m2 0h0m0 8h0m1 2h0m0-4h0m1-8h0m1 17h0m1-21h0m0 13h0m1 4h0m1-11h0m0 2h0m0 8h0m1 4h0m0-7h0m0-4h0m1 4h0m0 8h0m0-6h0m1-14h0m0 3h0m0 13h0m0-3h0m0-4h0m1 11h0m0-18h0m0 18h0m1-5h0m1-3h0m0 6h0m1-8h0m0 1h0m0 7h0m0-10h0m1 4h0m0 10h0m0-15h0m1 5h0m1-9h0m1 2h0m0 4h0m0-6h0m0-2h0m2 19h0m1-19h0m1 17h0m0-12h0m0 1h0m0 2h0m1-7h0m0 20h0m0-1h0m1-4h0m0-3h0m0-14h0m1 12h0m2 3h0m0-7h0m0-8h0m1 11h0m0-7h0m0 5h0m0 0h0m1-4h0m0 15h0m0-12h0m1 7h0m0-4h0m0 1h0m1-8h0m0 1h0m1 0h0m0 1h0m0 14h0m2-8h0m0 3h0m0 2h0m0-18h0m1 10h0m0-1h0m0 9h0m2-9h0m0 13h0m0 2h0m0-3h0m0-2h0m1-1h0m0-8h0m0 14h0m1-19h0m0 8h0m1-10h0m0 11h0m1 0h0m0-6h0m2-1h0m0 17h0m0-3h0m1-3h0m0-11h0m1 7h0m0 2h0m0-5h0m1 0h0m0-7h0m1 3h0m0-7h0m0 3h0m1 16h0m0 2h0m0-15h0m1 16h0m1-20h0m0 2h0m0 3h0m1 0h0m0-7h0m1 15h0m1-15h0m0 6h0m0-2h0m0 9h0m1 5h0m1-9h0m0 11h0m0 3h0m1-14h0m0 6h0m0-5h0m0-8h0m0 3h0m0 14h0m2-8h0m0 2h0m0 9h0m0-7h0m1-9h0m0-3h0m0 2h0m0 18h0m1-10h0m0 3h0m1-7h0m1-7h0m0 9h0m0-8h0m0 19h0m0-19h0m1 2h0m2 15h0m0-10h0m1 6h0m2-4h0m1-12h0m0 3h0m0 2h0m1 13h0m0-2h0m2-4h0m1-10h0m1 4h0m0 9h0m3-1h0m0-5h0m1 3h0m2-10h0m1 10h0m1-8h0m2-1h0m0 8h0m2-4h0m0-6h0m1 1h0m5 0h0m0-1h0m1 1h0m3-2h0m-34 24h0m-1 1h0m-4 0h0m-8 5h0m-1-6h0m-2 4h0m-1-2h0m-1 4h0m-1 0h0m-2-3h0m0 2h0m-2 3h0m-1-8h0m-2 6h0m0-3h0m-4 8h0m-3-4h0m0-5h0m-6 5h0m0-2h0m-4-5h0m0 11h0m-1-7h0m-1 3h0m-1-6h0m-1 1h0m-3 3h0m0 6h0m0-9h0m-1-1h0m0 5h0m-1-5h0m-1 0h0m0 6h0m0-4h0m-1-1h0m-1 7h0m-2-6h0m0 4h0m-1 4h0m0-4h0m-1-7h0m-1 11h0m-1-1h0m-1-10h0m-1 10h0m-1-1h0m-3-6h0m-1 4h0m-4-3h0m0 1h0m-5-1h0m-2-3h0m-1-1h0m-2 7h0m-1-1h0m0-3h0m-1 6h0m0-5h0m0 2h0m-7 4h0m-4 0h0m0-1h0m-3 4h0m0-8h0m-1 7h0m0 0h0m-1-2h0m-1 2h0m-1-4h0m-1 5h0m-1-13h0m0 5h0m0 4h0m-1 3h0m0-8h0m-1 6h0m0-6h0m0 9h0m0-10h0m-1 10h0m-1-5h0m-1-2h0m-1 8h0m-1-13h0m0 4h0m0 6h0m-2 2h0m-1-10h0m-1 7h0m0-4h0m-2-2h0m0 4h0m-1 3h0m0 2h0m0-11h0m-1 12h0m0-6h0m-1 4h0m0-4h0m-1-7h0m0 10h0m0-9h0m-1 11h0m-1 1h0m0-7h0m-1 6h0m0 1h0m-1-5h0m0-4h0m-1-2h0m0 2h0m0-5h0m-1 6h0m-1 5h0m-1-5h0m-1 7h0m0-11h0m-2 13h0m0-2h0m-1 2h0m-1-7h0m0-2h0m-1 1h0m0 3h0m0-2h0m-1 5h0m0-9h0m-1-1h0m0 3h0m-1 1h0m0 1h0m-1-6h0m-1-1h0m0 9h0m-2-7h0m0 2h0m-1 0h0m0 5h0m-4-7h0m-3 1h0m-2 0h0m-3 0h0m-1 2h0m0-2h0m-1-4h0m0 5h0m-2-3h0m0 1h0" stroke="#dbdbdb"/><path d="M1448 1773h0m0-2h0m-2-1h0m-3-2h0m0 7h0m-1-4h0m0-11h0m-2 12h0m0-5h0m-1 8h0m-2-15h0m-3-3h0m0 7h0m-2-8h0m-1 4h0m5 17h0m4 1h0m2 3h0m2 3h0m0-4h0m3 4h0m2-7h0m-73 61h0m9 9h0m1-1h0m2-13h0m0 0h0m1 3h0m2 8h0m0-7h0m1 4h0m4 4h0m19-3h0m7 18h0m-1 0h0m2 34h0m14-12h0m3 1h0m433 13h0m-438 12h0m-5-3h0m0 11h0m-3-16h0m0-2h0m-3 20h0m0 0h0m-2-4h0m17 26h0m13 27h0m-2 1h0m-7-21h0m-30 43h0m22 2h0m1-6h0m6 0h0m5-5h0m3-3h0m1-4h0m6 3h0m1 4h0m2-2h0m1 0h0m0-6h0m2 1h0m1 11h0m1-5h0m9-6h0m3 3h0m1 4h0m16 10h0m173-3h0m3 3h0m1-1h0m0-5h0m3 1h0m6 3h0m0-3h0m1-3h0m1-5h0m3 3h0m3 11h0m1-11h0m2 4h0m1-7h0m1 3h0m1 6h0m0-3h0m1-4h0m1-4h0m1 0h0m2 8h0m1-5h0m2 5h0m0-6h0m0 1h0m3 3h0m1 5h0m2-7h0m-8 18h0m-7-3h0m-4 12h0m0-12h0m-2 0h0m-1 9h0m0-5h0m-2-4h0m0 3h0m0 5h0m-2 5h0m-1-5h0m-1 5h0m0 2h0m0-3h0m-1-4h0m-1 7h0m-1 0h0m-4-4h0m-2-3h0m-1 0h0m-1-10h0m0 13h0m-1 6h0m0-5h0m-1-10h0m-2-1h0m-1-1h0m-166 13h0m-1-12h0m-1-2h0m-11 16h0m-2-5h0m0 0h0m-2 6h0m-1-10h0m0-4h0m-11 4h0m-4 0h0m-1 4h0m-1 3h0m-1-5h0m-1 10h0m-5-16h0m-1 8h0m-1-4h0m-2-8h0m-1 14h0m0-2h0m-1 5h0m-1-17h0m-1 2h0m0 20h0m0-14h0m-4 10h0m-2-18h0m0 4h0m-4-3h0m-1 3h0m0-2h0m-3 5h0m-1 3h0m-6-3h0m-2-1h0m0 8h0m0 4h0m0-7h0m-1-3h0m-1-6h0m-2 3h0m-1 2h0m-2 9h0m-2-16h0m-1 7h0m36 16h0m2 2h0m2 0h0m6 1h0m3-2h0m3 1h0m4-1h0m-77 45h0m42 7h0m66 25h0" stroke="#c7979e"/><path d="M1147 1415h0m81 186h0m1 7h0m2-8h0m3 5h0m2-10h0m7 0h0m12 5h0m49 7h0m3-2h0m1 1h0m2-2h0m5 0h0m0 3h0m0-5h0m3 1h0m1-2h0m0 6h0m2-4h0m1 0h0m4 1h0m1 4h0m1-6h0m1-1h0m0 4h0m1 1h0m1-9h0m1 0h0m0 0h0m0 8h0m1-4h0m0 6h0m0-4h0m0 3h0m6-1h0m0-5h0m0 2h0m2 0h0m0-3h0m1 9h0m1-1h0m2-7h0m1 7h0m1-7h0m0-1h0m0 5h0m1 3h0m0 1h0m2-6h0m3-2h0m0 4h0m2-3h0m1 1h0m3 2h0m2-1h0m4 4h0m2-2h0m26 27h0m-4-1h0m-1-7h0m-1 2h0m-3 5h0m-4-15h0m0 3h0m-3 2h0m0 1h0m-1-10h0m-1 6h0m-1-5h0m-1 14h0m-2-1h0m0-4h0m-1-12h0m-1 21h0m0-8h0m-2-9h0m-2 9h0m0-5h0m0 1h0m-1 5h0m-1 0h0m0-14h0m-3 17h0m0-10h0m0-1h0m-1 11h0m-2-4h0m0-2h0m-2-3h0m-1 4h0m-1 6h0m0-15h0m-2 4h0m-2 5h0m-1 3h0m-2-14h0m-1 1h0m0 9h0m-1 7h0m0-5h0m0-6h0m0-6h0m0 14h0m0-11h0m-2 8h0m0-9h0m0 1h0m0 5h0m0-7h0m-1 15h0m0-13h0m0 13h0m-1-8h0m-1 10h0m0 3h0m0-24h0m-1 6h0m0 1h0m-1 14h0m0-14h0m0 1h0m-1-7h0m0 0h0m0 1h0m0 4h0m0 10h0m-1-4h0m-1-10h0m0 4h0m0 2h0m-1 1h0m0 11h0m-1-8h0m0-6h0m-1 11h0m0-10h0m-1 13h0m0-8h0m0-3h0m-2-6h0m0 7h0m-4 6h0m-2-15h0m0 6h0m0 7h0m-1-13h0m0 18h0m-3-3h0m0-9h0m0 13h0m-1-18h0m0 4h0m0-3h0m-2-2h0m-1 7h0m-2 0h0m0 14h0m-1 1h0m0-9h0m0 1h0m0 3h0m-1-8h0m-1-3h0m-1 12h0m0 3h0m0-16h0m-1-5h0m0 23h0m0-24h0m0 6h0m-2 10h0m-1-14h0m0 9h0m0 1h0m0-5h0m-3-5h0m0 19h0m0-4h0m-1-9h0m-1 4h0m-2 9h0m-2-14h0m0 16h0m0-7h0m0-11h0m-2 0h0m0 6h0m0-1h0m-2 6h0m-1-11h0m0-3h0m0 19h0m0-14h0m0 15h0m-1-9h0m0-4h0m-1-1h0m-1 5h0m0 5h0m0-5h0m-2-9h0m-2 5h0m0 8h0m-1 0h0m-1-6h0m0 7h0m-1 6h0m-1-6h0m0-6h0m0 1h0m-1-5h0m-2 14h0m-1-10h0m0 3h0m0 0h0m-1 5h0m0-1h0m-1-6h0m-1 11h0m-2 0h0m0-16h0m0 11h0m-1-4h0m0-6h0m-1 4h0m0-2h0m-1 3h0m-1-1h0m-3 0h0m0 4h0m-1 0h0m-1-4h0m-2 7h0m0-9h0m0 10h0m-1-4h0m-1 4h0m0-7h0m-2 0h0m-1 8h0m0-8h0m-1 7h0m0 1h0m-3-9h0m-1-4h0m0 9h0m-1-4h0m-1 8h0m-1-6h0m0-11h0m-1 2h0m-3-3h0m-2 16h0m-1-5h0m0-7h0m-1-2h0m0 0h0m-1-1h0m-1 6h0m-1-9h0m0 2h0m0 13h0m-5 0h0m-3-1h0m-1-4h0m-2 11h0m-1-8h0m-1 4h0m-2-10h0m-4 1h0m-2 0h0m-1 2h0m-2 4h0m-1 3h0m-2 15h0m0-10h0m1 6h0m13 17h0m1-6h0m3-1h0m1-14h0m0 11h0m3-10h0m1 15h0m1-2h0m1 6h0m1-19h0m3 12h0m1-8h0m2-4h0m0 8h0m0 4h0m2-12h0m2 12h0m2-14h0m0 11h0m0 12h0m0-13h0m1-3h0m2 7h0m1-15h0m0 21h0m0-17h0m1 13h0m0-12h0m1 4h0m0 4h0m1 4h0m1 2h0m0 1h0m1-16h0m0 10h0m1-9h0m0 11h0m1-15h0m0 6h0m0-4h0m1-2h0m0 21h0m1-2h0m1-12h0m3-1h0m0 16h0m1-6h0m0-5h0m1 6h0m1-11h0m0 5h0m0-8h0m1-1h0m1-2h0m1 0h0m0 4h0m0 15h0m1-11h0m0 3h0m1-2h0m0 4h0m0 7h0m1-4h0m1-8h0m0 12h0m1-4h0m0-5h0m1 0h0m1 4h0m0 7h0m0-17h0m2 2h0m1 9h0m0-8h0m1 10h0m0-6h0m1-9h0m1 5h0m0 5h0m1 10h0m0-3h0m1-7h0m0-7h0m0-5h0m0 17h0m4 3h0m0-10h0m0-11h0m0 16h0m0-13h0m0 14h0m1 3h0m0 1h0m1-14h0m0 10h0m0-12h0m1 18h0m2-3h0m1-6h0m1-7h0m0 12h0m1-16h0m0 17h0m0-12h0m1 5h0m0-4h0m1 0h0m1 8h0m0-9h0m0 5h0m0-1h0m0-3h0m0 6h0m1 6h0m0-12h0m0 7h0m0-5h0m0-8h0m1 18h0m0-20h0m1 19h0m0-14h0m0 15h0m0-14h0m1-8h0m1 21h0m0-7h0m0-10h0m0 3h0m1 4h0m1-8h0m0 17h0m1 2h0m1 0h0m2-3h0m2-15h0m1 8h0m0 6h0m1-8h0m0 6h0m3 7h0m0-3h0m1-2h0m2-15h0m1-2h0m0 17h0m1-3h0m1 1h0m0-11h0m1 17h0m2-6h0m1-2h0m0 9h0m0-8h0m0 2h0m0-13h0m1 5h0m2 4h0m0 0h0m1 1h0m0 3h0m1-4h0m0-5h0m0-6h0m0 8h0m1-9h0m0 18h0m0 4h0m1-20h0m0 13h0m1-5h0m1 3h0m0-10h0m1 7h0m0-3h0m1 10h0m0-10h0m0 5h0m1-10h0m1-1h0m0 16h0m2 3h0m0-7h0m1-1h0m0-8h0m0 19h0m1-6h0m0-9h0m0 1h0m1 6h0m2 6h0m1-3h0m0-3h0m1-13h0m0 20h0m0-10h0m0 0h0m1 9h0m2-20h0m0 7h0m1 1h0m0 3h0m0 5h0m3-18h0m1 12h0m1 1h0m0 1h0m0 2h0m0-10h0m1 16h0m0-16h0m0 3h0m2 12h0m0-20h0m1 1h0m0 11h0m1 4h0m0-9h0m0-2h0m1 9h0m1-5h0m1 4h0m1-2h0m0-6h0m0 1h0m1-2h0m3 6h0m0-4h0m1 6h0m2 3h0m2-9h0m0 5h0m2 1h0m0 0h0m1-9h0m1 16h0m0 1h0m0-7h0m1-5h0m2 11h0m2-10h0m0-7h0m0 3h0m1 4h0m0-6h0m1 6h0m4 2h0m0-2h0m1 6h0m1 0h0m0-11h0m2 8h0m0 11h0m1-1h0m1 1h0m0-14h0m0 7h0m2-6h0m1-5h0m3 3h0m0 9h0m1 6h0m1-5h0m2-6h0m1 4h0m0 2h0m2 1h0m1-3h0m19 24h0m-6-4h0m0 10h0m-1-9h0m-2 7h0m0-4h0m0 1h0m-1-13h0m-2 6h0m-1-3h0m-1-4h0m-1 10h0m-1-3h0m-1-8h0m-1 14h0m0-1h0m-1-5h0m-2-11h0m0 14h0m0 7h0m0 0h0m0-7h0m-1-9h0m0 17h0m-1-16h0m0 13h0m-1 0h0m-1-1h0m0-3h0m-2 5h0m0-6h0m0-2h0m-1-7h0m0 6h0m0-9h0m0 10h0m0-1h0m-1 5h0m0-7h0m-2 5h0m-1-3h0m0 7h0m0-12h0m0 7h0m-1 9h0m-1-9h0m0 10h0m0-11h0m0 3h0m-1-7h0m0 16h0m0-18h0m0 1h0m0 9h0m-1-8h0m0 7h0m-1 0h0m-1 6h0m0-3h0m0 5h0m-1-3h0m0-14h0m0 14h0m0-17h0m-1 4h0m0-4h0m0 16h0m-1-4h0m0-6h0m-2-8h0m0 21h0m-1-12h0m0-9h0m0 15h0m-2 2h0m0-15h0m-1 19h0m-2-11h0m0 8h0m-1 0h0m-1 1h0m0 3h0m-2-14h0m-1 9h0m-1-1h0m0 1h0m-1 6h0m0-21h0m-1 17h0m0 4h0m-1-10h0m-1-6h0m-1 4h0m-2-4h0m-1 9h0m0-13h0m-1 11h0m0-4h0m-1-7h0m0 15h0m0-8h0m-1 1h0m0 11h0m0-1h0m-1-16h0m0 2h0m-1-8h0m0 15h0m-3-6h0m0-7h0m-2 1h0m-1 21h0m0-23h0m-1 2h0m-1 7h0m-1 12h0m-1-20h0m-1 13h0m0-12h0m-3 14h0m-3-4h0m-1-13h0m0 7h0m0 2h0m0-1h0m-4-1h0m0 1h0m-1-7h0m0 3h0m0 16h0m-1-6h0m-1-13h0m0 5h0m-1-2h0m0 13h0m-1-12h0m0 12h0m-1-11h0m-1 14h0m0-10h0m0 2h0m0 4h0m0-1h0m-1-8h0m0-1h0m0 4h0m0-3h0m0 6h0m0-4h0m-1 1h0m0 6h0m0 1h0m-1-6h0m-1-7h0m0 12h0m-1-7h0m0 4h0m-1 7h0m0-9h0m0 0h0m0 11h0m0-4h0m-1-8h0m0 12h0m0-20h0m-1 5h0m-1-2h0m0-2h0m0 11h0m0 4h0m-1-1h0m0-4h0m0-9h0m-1 8h0m0-3h0m0-1h0m0 11h0m0-10h0m0 1h0m-1-1h0m0 1h0m-1 4h0m0 2h0m-1 6h0m0-7h0m0-1h0m0 4h0m0-15h0m-1 3h0m0-2h0m0 11h0m0 5h0m0-6h0m0 0h0m0-9h0m-1 13h0m0-7h0m-1-5h0m0 4h0m0 8h0m-1-13h0m-1 7h0m0 8h0m-1-19h0m0 5h0m0 12h0m0-14h0m-1 7h0m0-10h0m0 18h0m-1-4h0m0-1h0m-2-1h0m-1-5h0m0-3h0m0 14h0m-1-5h0m0 7h0m-1-12h0m0-3h0m-1 9h0m0-10h0m-1 6h0m0 0h0m-1-7h0m0-2h0m-1 4h0m0 8h0m0 6h0m-1-14h0m0-5h0m0 6h0m-1-1h0m-1 10h0m0 4h0m-1-18h0m-1 18h0m0-1h0m0-10h0m-1-7h0m0 14h0m0-5h0m0-10h0m-2 9h0m-1-4h0m-1 3h0m0-8h0m0 1h0m-1 4h0m-1-4h0m0 21h0m-1-3h0m0-14h0m0 14h0m-1-11h0m0 4h0m-1-6h0m0 12h0m-1-6h0m-1 7h0m0-4h0m-1-12h0m0 5h0m-1-8h0m0 6h0m0 0h0m0 11h0m0-2h0m-1-7h0m0 2h0m-1 6h0m-1-6h0m-1-10h0m0 18h0m-1-9h0m-1 4h0m0-9h0m-1 17h0m-1-14h0m-1 1h0m0 5h0m0-12h0m0 6h0m0 12h0m-1 4h0m0-21h0m-1-2h0m0 8h0m0 12h0m0-6h0m0-4h0m-1-10h0m0 21h0m0-5h0m-1-10h0m-2 2h0m0 3h0m0 1h0m0 5h0m0-18h0m0 17h0m-1-14h0m0 2h0m-1 17h0m0-17h0m0 8h0m-1 10h0m0-8h0m-1-4h0m0 8h0m0-4h0m-1-7h0m-1-7h0m-1 20h0m-1-20h0m0 12h0m0-6h0m0 13h0m-1-18h0m0 11h0m0 5h0m-1-4h0m-1 6h0m-1-7h0m0-9h0m-1 19h0m-1 0h0m0-6h0m0-6h0m-1-2h0m0 6h0m0 1h0m0-4h0m0-9h0m-1 7h0m0 4h0m-1-3h0m0 7h0m0-18h0m-1 2h0m-1 8h0m-1 1h0m0 10h0m0-15h0m0 8h0m0-8h0m-2 7h0m0 4h0m0-14h0m-1 13h0m0-7h0m-1-6h0m0 1h0m-1 10h0m0 0h0m-2-3h0m-1-9h0m-2 21h0m-4 0h0m-3-20h0m-1 20h0m-3-18h0m-3-2h0m-8 42h0m8-7h0m2-14h0m2 10h0m5-2h0m6-2h0m1 9h0m1 2h0m0-11h0m1-2h0m1 11h0m3 1h0m0-15h0m1 2h0m0-3h0m1 11h0m0-6h0m0-3h0m1 5h0m0 9h0m0-1h0m1-1h0m0-3h0m2 9h0m5-8h0m0 0h0m1 4h0m1 6h0m0-16h0m1 16h0m1-6h0m0-15h0m0 10h0m0-4h0m1 4h0m0 3h0m1 3h0m0 4h0m0-19h0m1 0h0m1-1h0m2 7h0m1 10h0m1-18h0m2 5h0m1 6h0m0-2h0m0 3h0m1-11h0m0 22h0m1-6h0m0-3h0m1 6h0m0-11h0m0-4h0m1 11h0m0-13h0m1 13h0m1-16h0m0 21h0m1-3h0m0-13h0m2 6h0m1 12h0m2-2h0m0-19h0m0 3h0m1 16h0m0-10h0m4-3h0m0 1h0m1 2h0m1-6h0m0 15h0m1 4h0m2-15h0m1 11h0m2-11h0m0 4h0m2 3h0m0-1h0m1-4h0m0 1h0m2-1h0m1 9h0m1-11h0m0-7h0m0 10h0m1 12h0m1-11h0m0-9h0m0 3h0m1 11h0m0 5h0m2-5h0m1-6h0m0-9h0m1 7h0m1 3h0m0 1h0m0-9h0m2 1h0m0 16h0m2-19h0m2-2h0m0 2h0m0 17h0m4-19h0m0 5h0m0 12h0m2 3h0m0 2h0m1-23h0m0 24h0m0-14h0m1 5h0m1 6h0m0-7h0m0-9h0m0 18h0m2-23h0m1 2h0m0 16h0m1 2h0m3 2h0m1-4h0m2-16h0m3 15h0m1-16h0m0 8h0m0-8h0m1 15h0m0 6h0m1 1h0m1-6h0m0-12h0m0 16h0m0-1h0m1-13h0m0-3h0m1 11h0m1 4h0m0-2h0m1-8h0m0-7h0m1 11h0m0-5h0m2 8h0m0-2h0m1-7h0m2 16h0m2-19h0m0 12h0m2-9h0m1-5h0m0 11h0m0-12h0m0 12h0m1-11h0m2 9h0m1-9h0m0 2h0m1 18h0m0-20h0m1 5h0m1 6h0m1 6h0m1-14h0m0-2h0m0 9h0m0-11h0m1 21h0m2-20h0m1 7h0m1 9h0m1-12h0m2 15h0m0-2h0m0-13h0m0-5h0m1 4h0m0 17h0m1-11h0m0 3h0m3 3h0m1 6h0m1-10h0m0 9h0m1-17h0m0 9h0m1-3h0m2-8h0m1 10h0m1 6h0m1-18h0m0 3h0m0 8h0m1-6h0m0-4h0m1-2h0m3 7h0m0 3h0m1 2h0m0-6h0m0 3h0m2-4h0m1-3h0m1-1h0m0 19h0m0-4h0m1 2h0m1 1h0m0-19h0m0 15h0m0-6h0m0 3h0m1 11h0m0-8h0m2-9h0m0 17h0m0-8h0m1 5h0m2-18h0m0 11h0m0-12h0m0 15h0m0 3h0m0 2h0m1-5h0m1-3h0m0-8h0m1 7h0m0-8h0m0 8h0m0-9h0m1 14h0m0-12h0m2 7h0m0 4h0m1-13h0m0 4h0m0-5h0m0 3h0m0 13h0m1-12h0m0 9h0m0-9h0m2 5h0m0-6h0m0 18h0m1-22h0m1 11h0m0-7h0m0-2h0m1 3h0m0 10h0m0 7h0m0-7h0m0 6h0m1 1h0m0-21h0m1 6h0m1-2h0m0 4h0m0 7h0m1-15h0m0 9h0m0-8h0m1 7h0m0-3h0m1-4h0m1 19h0m0 1h0m0-13h0m1 1h0m0-8h0m2 3h0m0 1h0m0 6h0m1 0h0m1 10h0m0-1h0m0-2h0m0 0h0m1-3h0m0 5h0m1-4h0m3 25h0m-1 3h0m-1-5h0m0 1h0m-1-11h0m0 13h0m0-2h0m0-4h0m-1 5h0m0-2h0m-1-1h0m-2 4h0m-1-17h0m0 19h0m0-14h0m0 4h0m-1 4h0m-1 7h0m0-13h0m-1 14h0m0-23h0m-1 6h0m0 11h0m0-10h0m-1-3h0m0 17h0m-1-19h0m0 8h0m-1 5h0m0-11h0m-1 10h0m0-12h0m-1 2h0m0 14h0m-1-9h0m-1 9h0m0-11h0m0 12h0m-1-16h0m0-2h0m0 12h0m-1 2h0m0-9h0m-1 2h0m0 6h0m0 3h0m-1 6h0m0-16h0m-1 2h0m-2 4h0m0-11h0m0 18h0m0 2h0m-1-17h0m0 16h0m0-2h0m0-12h0m0-2h0m-1 1h0m0 16h0m0-16h0m0-5h0m-1 17h0m0-10h0m-1-8h0m0 3h0m-1 3h0m-1 3h0m0 6h0m0 0h0m-2 7h0m0-7h0m0-1h0m0-10h0m-1 6h0m0 12h0m-1-2h0m0-1h0m0-10h0m0-8h0m0 16h0m-1-12h0m0 7h0m0 10h0m0-5h0m0-9h0m0 15h0m-1-10h0m0-13h0m0 6h0m0 0h0m0 15h0m0-21h0m-1 21h0m0-17h0m0 6h0m0 12h0m0-5h0m0-1h0m-1 5h0m0-1h0m-1-13h0m0 4h0m0 2h0m-1-1h0m0-9h0m0 16h0m-1-6h0m0-5h0m0 10h0m-1 2h0m0 1h0m0-6h0m0-9h0m-1 1h0m0 6h0m0 4h0m-1-7h0m0 7h0m-1 3h0m0-3h0m-1-10h0m0 8h0m0 4h0m0-9h0m-1 9h0m-1-5h0m0 9h0m0 0h0m0-18h0m-1 18h0m-1-9h0m0-1h0m0 5h0m-1-8h0m-1 11h0m0-20h0m-1 8h0m0 0h0m-1-1h0m-1 7h0m-1-12h0m0 15h0m0-3h0m0 0h0m0-14h0m0 4h0m-1 14h0m0-6h0m-1-7h0m-1 2h0m0-6h0m0 13h0m-1-13h0m-1 8h0m-1 3h0m0 3h0m0 0h0m0-7h0m0 3h0m-1 8h0m0-2h0m0-18h0m0 6h0m0 8h0m-1-15h0m0 15h0m0-3h0m-1-3h0m0 3h0m-1 3h0m0-6h0m-1 12h0m0-3h0m0-14h0m0-4h0m-1 14h0m0-11h0m-1 11h0m0 2h0m-1-7h0m0 9h0m0 3h0m-1-15h0m0 8h0m0 8h0m-1-11h0m-1-6h0m0 6h0m0 3h0m-2-1h0m0 2h0m-1-10h0m-1 13h0m-1-5h0m-1-7h0m0 18h0m0-22h0m-2 16h0m-1-2h0m0 4h0m0-3h0m0-6h0m-1-8h0m0 10h0m-1-5h0m0 10h0m0-4h0m-1-8h0m-1 5h0m0 8h0m0-17h0m-2 15h0m-1 0h0m0 0h0m0-16h0m0 12h0m0 7h0m0-7h0m-1 0h0m0-3h0m-1-2h0m0 8h0m-1 1h0m0 6h0m-1-12h0m0 6h0m0 0h0m0-10h0m-2 0h0m0 16h0m-1-11h0m0 6h0m-1 0h0m0-6h0m-1 11h0m0 0h0m0-11h0m-1-6h0m-1 16h0m0-5h0m-1 3h0m-1-6h0m-1 8h0m-1-4h0m-1-15h0m-2 11h0m0 7h0m-1-10h0m0 1h0m-2 6h0m0 1h0m0-10h0m0 11h0m-1-15h0m0-1h0m-1 8h0m-2 6h0m0-16h0m0 5h0m-1-7h0m0 7h0m-1 16h0m0-6h0m0-9h0m0 10h0m0 3h0m-1-8h0m0-7h0m0 5h0m-1 4h0m0 4h0m-1-8h0m-1 8h0m0 5h0m-1-16h0m0 1h0m0 15h0m-1-8h0m-1 2h0m0-6h0m0 9h0m-1 0h0m0-4h0m0-17h0m-1 1h0m0 17h0m0 3h0m0-3h0m0-14h0m0 10h0m-1 1h0m-1 7h0m-1-2h0m0-17h0m-1 14h0m0 1h0m0-8h0m0-9h0m0 0h0m-3 23h0m-1-6h0m-2-4h0m-2-12h0m0 6h0m-1-1h0m0 14h0m-2-11h0m-1-6h0m-2 1h0m-2 10h0m0-9h0m0 16h0m-3-16h0m-2-5h0m-1 7h0m-1-2h0m0 14h0m-1-8h0m0 11h0m-1-6h0m0 3h0m0-14h0m-1-4h0m0 14h0m0 7h0m-1-20h0m-1 0h0m-1 16h0m-1 3h0m0-9h0m0-4h0m0-3h0m0 17h0m-2-20h0m0 20h0m0-16h0m0 5h0m0-3h0m-1 12h0m0 1h0m-2-5h0m0-11h0m0 18h0m0-13h0m-1 12h0m-1 1h0m0-14h0m0 6h0m-1-3h0m-1-5h0m-1 15h0m-1-5h0m-1-9h0m0-1h0m-2 11h0m0 1h0m0-15h0m-1 7h0m-1 2h0m0 9h0m-1-6h0m0-1h0m-1-5h0m0 10h0m0-2h0m0-15h0m-1 12h0m0 7h0m-2-8h0m0 7h0m-1-5h0m0 1h0m0 3h0m0-14h0m-1 16h0m0-1h0m-1-1h0m0-5h0m0 0h0m0 5h0m0-10h0m-1 13h0m-1-11h0m-1 5h0m-1-6h0m0 8h0m-1-3h0m0-10h0m-1 9h0m0-10h0m-1 8h0m0-3h0m-2 3h0m-1 10h0m0-17h0m0 4h0m0 5h0m-1-7h0m0 4h0m-2-3h0m-1-8h0m0 1h0m0 16h0m0-17h0m-2 22h0m-12-6h0m-2-3h0m-2-14h0m0 8h0m-1-2h0m0 3h0m-1-8h0m-2 11h0m0-13h0m-6 14h0m-11 14h0m1 3h0m5 11h0m3-2h0m2 4h0m2-3h0m3 1h0m5 5h0m10-13h0m0 3h0m2-8h0m1 15h0m0-13h0m2 8h0m0-13h0m1 6h0m0 15h0m0-18h0m1 10h0m2-12h0m1 10h0m0-10h0m2 5h0m1 7h0m0 7h0m0-2h0m0-13h0m0 14h0m0 2h0m1-11h0m0 1h0m0 3h0m1-6h0m0 0h0m1-2h0m1 15h0m0-22h0m0 18h0m1 2h0m0-10h0m0 6h0m0 2h0m0-5h0m0-8h0m0 9h0m0-8h0m1 12h0m0-18h0m0 15h0m0-12h0m1 1h0m0-1h0m0 12h0m0-3h0m0-9h0m0 10h0m1-4h0m0-8h0m0-1h0m1 12h0m1-12h0m0 0h0m0 19h0m0 1h0m1-12h0m1-3h0m1 11h0m0-1h0m0-13h0m0 13h0m1-14h0m0 5h0m0 14h0m1-5h0m0 8h0m0-13h0m1-3h0m0-5h0m0 17h0m0 1h0m1-8h0m1 11h0m1-20h0m0 2h0m1 7h0m0 5h0m1-2h0m0-2h0m0-13h0m1 13h0m0 7h0m0-18h0m0 19h0m0-6h0m0 7h0m2-12h0m1-1h0m0-4h0m0-5h0m1 4h0m1-1h0m0 9h0m0-1h0m0-10h0m1 5h0m0 13h0m0-10h0m0 11h0m1-8h0m0 2h0m1-4h0m1-11h0m0 15h0m1 5h0m0-5h0m0 8h0m1-5h0m0-16h0m1 7h0m0 9h0m0 2h0m2 2h0m1-16h0m0 5h0m0-8h0m0 19h0m1-12h0m1-9h0m0 10h0m0 12h0m0-4h0m0 5h0m0-7h0m0-11h0m1-2h0m0 2h0m0 5h0m1 7h0m0 3h0m0-19h0m1 21h0m1-7h0m0 7h0m1-17h0m1-4h0m0 13h0m0-12h0m1 8h0m0 11h0m0-13h0m0-5h0m0 9h0m0 7h0m1-8h0m0 4h0m0 0h0m1-6h0m0-3h0m1 7h0m0 0h0m0-7h0m1-5h0m0 18h0m1-11h0m0 4h0m0 4h0m2-1h0m0-14h0m0 15h0m0-12h0m0 12h0m1-11h0m2 8h0m0-2h0m1-1h0m0 8h0m0 2h0m1-14h0m1 12h0m0-18h0m1 7h0m0 16h0m0-4h0m1-20h0m0 0h0m0 17h0m1-6h0m0-4h0m0-2h0m0 18h0m0-16h0m1 16h0m1-12h0m0 13h0m0-14h0m1 1h0m0 0h0m0-3h0m1 9h0m0-12h0m1 17h0m0-5h0m0-2h0m1 7h0m0-9h0m0-10h0m0 21h0m0-24h0m1 6h0m0 0h0m0-2h0m2 16h0m1-19h0m0 3h0m0 3h0m0 16h0m0-5h0m1-13h0m0 1h0m1 7h0m1 5h0m0-11h0m0 12h0m2-11h0m1 2h0m0 2h0m2-3h0m1 9h0m0-17h0m0 13h0m0 0h0m0 5h0m1-5h0m1-13h0m0 20h0m1-6h0m0-5h0m0 8h0m0-18h0m0 19h0m1-2h0m0 4h0m0-17h0m0 11h0m1 3h0m1 5h0m1-22h0m0 22h0m0-9h0m1-8h0m0 13h0m1-4h0m1-6h0m0-6h0m0 20h0m0-14h0m0-5h0m1 13h0m0 3h0m0-10h0m0 0h0m1 4h0m0 0h0m0 6h0m0-9h0m1-6h0m0 15h0m0-18h0m1 7h0m0 3h0m0 4h0m0-12h0m0 18h0m1 2h0m0-14h0m0-7h0m0 13h0m0 1h0m1-6h0m0 8h0m1-2h0m0-4h0m0-8h0m0 5h0m0-2h0m1-5h0m0 2h0m0 1h0m0 6h0m1 11h0m0-9h0m1-3h0m0-8h0m1-1h0m0 4h0m1 1h0m1 3h0m0-3h0m0 10h0m0-2h0m1-14h0m0 22h0m2-11h0m0 11h0m0-4h0m0-14h0m1 9h0m0 1h0m0-12h0m0 14h0m1 5h0m0-2h0m1-10h0m0-3h0m0 10h0m1 3h0m0-7h0m1-1h0m0 4h0m0 4h0m1-6h0m0 9h0m0-14h0m0 2h0m1-8h0m0 6h0m0 13h0m1-7h0m0 5h0m0-13h0m0-6h0m0 9h0m2-8h0m0 16h0m1-3h0m0-11h0m0 17h0m3-8h0m0-11h0m1-1h0m1 7h0m4-5h0m1 19h0m0-10h0m0 12h0m1-8h0m1-9h0m1-3h0m1 17h0m0-18h0m0 9h0m0 11h0m0-5h0m0-11h0m1-2h0m0 17h0m2-21h0m1 13h0m0-2h0m1 3h0m0-4h0m1 8h0m1-16h0m0 0h0m4 3h0m0 13h0m0-9h0m1-8h0m0 0h0m0 10h0m1 5h0m1-1h0m0 7h0m0-11h0m1 11h0m1-17h0m0-4h0m0 0h0m2 9h0m3 2h0m1-10h0m1 1h0m0 1h0m1 1h0m0 4h0m3-6h0m1 2h0m1 8h0m0-6h0m1-5h0m0 1h0m3 16h0m0-18h0m1 4h0m0-4h0m1 6h0m0 4h0m1 2h0m0-5h0m1 5h0m0 7h0m1-17h0m0 11h0m0-14h0m2 3h0m1 13h0m0-1h0m1 3h0m0-15h0m0 11h0m1-13h0m1 20h0m0-13h0m0-2h0m0-4h0m1 11h0m0-13h0m0 22h0m1-5h0m0-5h0m0 0h0m1 3h0m2-9h0m0 6h0m0 9h0m1-17h0m0 13h0m1-6h0m1-2h0m0-8h0m2 3h0m0 11h0m0 3h0m0-11h0m2-1h0m1 1h0m0 9h0m0-4h0m0-10h0m1 9h0m0 8h0m0-12h0m0 12h0m0-15h0m1 18h0m1-22h0m0 9h0m0 12h0m0-20h0m1 14h0m0-14h0m0 6h0m0 0h0m1 9h0m0-15h0m0 3h0m1-3h0m0 15h0m0-12h0m0 7h0m0-9h0m0 12h0m0-4h0m1-7h0m4 20h0m300-3h0m2 0h0m-302 9h0m-3-2h0m0 11h0m-1-10h0m0 13h0m-1-18h0m0 7h0m0 14h0m0-11h0m-1 8h0m0-7h0m-1 11h0m-1-16h0m0 8h0m-1-12h0m0 15h0m0-16h0m0 14h0m0-5h0m0 10h0m0 2h0m-2-1h0m-1-11h0m0 5h0m0 2h0m0-13h0m-1 4h0m0 2h0m0 4h0m-2 9h0m0-1h0m0-15h0m-1 5h0m-1 8h0m0-6h0m0 8h0m0-12h0m-2-5h0m-1 14h0m-1-8h0m0 2h0m-1-12h0m0 4h0m-2 12h0m-1 3h0m0-6h0m-1 9h0m0-13h0m0-7h0m-1-1h0m-1 10h0m0 4h0m0 0h0m0-4h0m-1 8h0m0-2h0m-1-15h0m0 8h0m-1-6h0m0 2h0m0-4h0m0 19h0m0-15h0m-2 14h0m-1-13h0m0 6h0m-1-7h0m-1 15h0m-2-8h0m-1 6h0m-1-12h0m0 11h0m0-14h0m0 3h0m-1 11h0m0-11h0m0 12h0m0-14h0m-1 16h0m0-18h0m0 18h0m-1-21h0m0 11h0m-2 7h0m0 3h0m-1-8h0m-1-12h0m0-1h0m-1 2h0m0 19h0m-1-13h0m-1-7h0m-2 6h0m-2 7h0m0-6h0m0 2h0m-1-7h0m0 18h0m0-21h0m-1 7h0m0-6h0m0 4h0m-1 11h0m0 7h0m-1-10h0m-1 4h0m0-3h0m-1-9h0m0 15h0m0-18h0m0 4h0m0 1h0m-1 16h0m0-11h0m-1 0h0m0-8h0m0-4h0m0 15h0m-3 0h0m0-7h0m0 13h0m0-1h0m-1-3h0m0-4h0m0-9h0m0-1h0m0 2h0m-1-5h0m0 6h0m0-4h0m-1-2h0m0 12h0m0 5h0m-1-8h0m-1 2h0m0 8h0m0 3h0m0-20h0m-1-1h0m0 7h0m-1 10h0m-1-3h0m0-5h0m0-7h0m0-4h0m-1 12h0m0-1h0m0 5h0m0-11h0m-1 3h0m0 9h0m-1-9h0m0 13h0m0-19h0m0 15h0m0-9h0m0 11h0m-1-17h0m0 19h0m-1 1h0m0-7h0m-1 8h0m0-6h0m0-12h0m-1-1h0m-1 0h0m0-2h0m0 8h0m-1 4h0m0-8h0m0 6h0m0 3h0m-1-14h0m0 9h0m0 11h0m0 0h0m-1-16h0m0 9h0m0 3h0m0-11h0m-1 10h0m0 2h0m0-6h0m-1-11h0m0 0h0m0 11h0m0 9h0m0-5h0m0-13h0m-1 6h0m0-2h0m0 3h0m-1 13h0m0-3h0m0-18h0m-1 20h0m0-16h0m-1-1h0m0 9h0m0-13h0m0 4h0m0 10h0m0-13h0m-1 20h0m0-13h0m0 12h0m-1-2h0m0-2h0m-1-16h0m0 8h0m0 2h0m-2-10h0m-1 5h0m0 0h0m0 9h0m-1-4h0m0-4h0m0 5h0m0-4h0m-1-2h0m-1 4h0m0 13h0m0-13h0m-1 9h0m0-4h0m0-11h0m-1 8h0m-1-8h0m0 0h0m0-4h0m0 11h0m0 11h0m-2-21h0m0 16h0m0 7h0m-1-17h0m-1 5h0m-1 4h0m0 5h0m-1-17h0m-1-2h0m-1 9h0m-1-3h0m0 0h0m-1-4h0m0 18h0m0-11h0m-1 0h0m-1-7h0m-1 10h0m-1 1h0m0-14h0m-1 3h0m-2 18h0m-1-15h0m0-4h0m0 16h0m0-10h0m0-8h0m-3 3h0m-1 4h0m-1-8h0m-2 4h0m0 19h0m-2-3h0m0-20h0m0 19h0m-2-6h0m0-7h0m-1-2h0m-1-3h0m-2 16h0m0-10h0m-2 2h0m0-9h0m-1 2h0m0 5h0m-2 8h0m-1 6h0m0-6h0m-1-7h0m-1 6h0m-2-14h0m0 9h0m-1 2h0m0-7h0m-1 5h0m-1-6h0m-1 14h0m-1-12h0m0 11h0m-2-9h0m0 15h0m-2-21h0m-1 16h0m-2-5h0m-1 5h0m-1-1h0m0-15h0m0 21h0m-1-11h0m0-11h0m0 5h0m-1 1h0m-1-2h0m0 5h0m-1 8h0m0-7h0m0-5h0m0 11h0m0-15h0m0 12h0m-1 0h0m0-11h0m0 10h0m-1 0h0m0-9h0m-1 5h0m-1-3h0m0 18h0m-1-7h0m0-12h0m0 8h0m0 0h0m0 3h0m0-7h0m0 8h0m-2 1h0m-2-15h0m0 0h0m0 5h0m0 11h0m-1-15h0m0 11h0m0-3h0m0-3h0m0 4h0m-1 7h0m0-15h0m0 6h0m0 4h0m-2-2h0m0 7h0m0-13h0m0 17h0m-1-15h0m0 5h0m0 5h0m0-4h0m0-13h0m-1 18h0m0-10h0m0 3h0m-1-3h0m-1-5h0m0 17h0m-1-21h0m0 2h0m0 13h0m-1-13h0m-1 2h0m0 8h0m-1-5h0m0 8h0m-1 6h0m-1 1h0m0-19h0m-1 4h0m0-6h0m-1 14h0m0-7h0m-1-7h0m0 6h0m0 9h0m0 5h0m-1-10h0m0-8h0m-1 6h0m0 0h0m0-3h0m0-1h0m-1-3h0m0 11h0m-1-6h0m0-5h0m0-2h0m0 12h0m-1-10h0m0-2h0m0 18h0m0-15h0m-1-1h0m0 19h0m-1-18h0m0 8h0m-1 9h0m0-4h0m0-10h0m0-3h0m-1 1h0m-1 1h0m-1 6h0m0-11h0m-1 21h0m0-12h0m-2-5h0m-1 19h0m-1-8h0m-1-7h0m0-5h0m-1 15h0m-1 2h0m0-16h0m-1 5h0m0 14h0m-1 0h0m-1-5h0m-1 4h0m0-7h0m-1-11h0m0 19h0m-1 1h0m-2-12h0m-3 8h0m-2-17h0m-11 0h0m-3-3h0m25 27h0m3 5h0m1 0h0m1 4h0m1 1h0m1-3h0m1-3h0m0-4h0m0 5h0m1 7h0m0 3h0m1 4h0m1-2h0m0 3h0m0-7h0m1-14h0m0 8h0m0 11h0m0-19h0m1 5h0m0 5h0m1-6h0m0 3h0m0 13h0m0 1h0m0-14h0m1 15h0m1-3h0m0-7h0m0-9h0m3 7h0m1 9h0m0-16h0m1 11h0m1 4h0m1-4h0m1-10h0m0 6h0m1 11h0m0-21h0m1 17h0m0-7h0m1 7h0m1 4h0m1-11h0m0-12h0m1 4h0m0 14h0m0-6h0m1-12h0m0 1h0m1 8h0m0-4h0m0-2h0m1-1h0m1-1h0m0 4h0m2 0h0m0-5h0m0 24h0m1-21h0m0 2h0m1 7h0m0-12h0m1 3h0m1 17h0m0-18h0m3 13h0m0 6h0m0-15h0m0-2h0m0 3h0m1 5h0m0 1h0m2-4h0m2 1h0m0 13h0m1-6h0m1-13h0m1 0h0m0 5h0m0 14h0m5-4h0m1-5h0m0 10h0m1-15h0m1 12h0m0-19h0m5 0h0m0 8h0m2 2h0m1-8h0m2 12h0m0-15h0m0 9h0m1 11h0m0-8h0m0-8h0m1 17h0m0-12h0m0 7h0m2 0h0m0-4h0m0 3h0m1-7h0m1-3h0m0 7h0m0-12h0m1 8h0m0 10h0m0-10h0m0 15h0m1-1h0m0-5h0m0-5h0m2 3h0m0-13h0m0 18h0m2-6h0m0-2h0m0 7h0m0-1h0m2-2h0m0-8h0m1-9h0m0 7h0m1 2h0m1 12h0m0-17h0m0-2h0m0 14h0m1-4h0m1 6h0m0 4h0m1 0h0m1-18h0m0 19h0m1-15h0m0 10h0m0-3h0m0 6h0m1 1h0m0-9h0m1 7h0m0 1h0m1-5h0m1-6h0m0 5h0m0-13h0m1 18h0m0 1h0m0-2h0m1-3h0m0 1h0m0 7h0m1-4h0m1-18h0m0-2h0m0 23h0m0-15h0m0-3h0m1 9h0m0-1h0m0-5h0m1-1h0m0 11h0m0 0h0m0-4h0m1-14h0m0 5h0m0 17h0m1-14h0m0 14h0m0-11h0m1-6h0m1-3h0m0 12h0m1 9h0m0-2h0m1-16h0m0 18h0m1-5h0m0-4h0m0 4h0m1-2h0m0-3h0m0-3h0m0-6h0m2 17h0m0 3h0m1-4h0m0-12h0m0-4h0m0 14h0m1-11h0m0 6h0m1 1h0m1 10h0m0-13h0m0-8h0m2 10h0m0-4h0m0 3h0m1-5h0m0-2h0m1 5h0m0 9h0m1 0h0m2-11h0m0 2h0m1-1h0m0-4h0m1 5h0m1 7h0m2-6h0m0 11h0m0-8h0m0-1h0m2 0h0m0 5h0m1-15h0m1 13h0m1 0h0m1-3h0m0-4h0m1 13h0m1-20h0m0 0h0m0 4h0m0 16h0m2-4h0m1-6h0m0-1h0m0 8h0m1-7h0m1-8h0m0-3h0m0 16h0m0-7h0m3 6h0m0-6h0m1-3h0m0-5h0m0-1h0m3 7h0m0-7h0m0 2h0m0 7h0m2-7h0m1 3h0m2 3h0m0-6h0m0 1h0m1 12h0m0-15h0m1 19h0m0-8h0m0-12h0m3 14h0m3-12h0m1 0h0m1 0h0m0-2h0m1 22h0m1-20h0m0 13h0m4-13h0m0 15h0m0 2h0m1-15h0m1 12h0m2 4h0m1-12h0m0 8h0m1-8h0m1-4h0m0-2h0m1 16h0m2-11h0m0 7h0m1 5h0m0-10h0m0 10h0m1 2h0m0-19h0m0 16h0m1-17h0m0 14h0m0 7h0m1-10h0m0-12h0m1 8h0m1 1h0m0-5h0m1 12h0m0-8h0m0-3h0m0 17h0m0-3h0m1 1h0m0-5h0m0 2h0m1-15h0m1 20h0m1-10h0m0 11h0m0-17h0m1 17h0m0-21h0m0 11h0m0-12h0m1 16h0m0-9h0m0 0h0m1 4h0m0 3h0m2 7h0m1-9h0m0-6h0m1 16h0m0-19h0m0 13h0m0 3h0m0 3h0m2-10h0m0 1h0m0-7h0m1 8h0m0-14h0m0 4h0m0-2h0m1 11h0m0-11h0m0 10h0m1-6h0m0 2h0m0 3h0m0-4h0m1 1h0m0 0h0m1-7h0m0 8h0m1-7h0m0-3h0m-9 27h0m0 0h0m-2 3h0m-2-1h0m-1 2h0m-1-2h0m0-2h0m-1-2h0m0 7h0m0 3h0m-1 4h0m0-8h0m-1-6h0m0 2h0m-1 12h0m-1-14h0m-1 9h0m-1 10h0m0-5h0m-1-15h0m0 2h0m-1 21h0m0-18h0m-1-4h0m0 21h0m-1-9h0m-1-11h0m0 5h0m-1 11h0m-1 6h0m0-8h0m0 4h0m-1-6h0m-3-12h0m-1 11h0m-1 10h0m-1-21h0m-1 0h0m-1 4h0m-1 16h0m-2-12h0m0-6h0m0 12h0m-2-6h0m0 10h0m-1-6h0m0-4h0m-1 8h0m-1 2h0m-1 2h0m-1-17h0m0 19h0m-2-7h0m-1-17h0m0 6h0m-2 5h0m0-1h0m-1-3h0m-2 14h0m-2-7h0m0-10h0m-6 14h0m0 1h0m-2-11h0m0-2h0m0 0h0m0 10h0m-1-3h0m0 0h0m-1-3h0m0 12h0m0-2h0m-1 1h0m-1-8h0m0-10h0m-1 11h0m0-2h0m-2 10h0m-1-19h0m-1 7h0m0 12h0m0-2h0m-1-11h0m0 15h0m-1-17h0m0-3h0m-2-2h0m-1-1h0m-1 23h0m-1-19h0m-2 14h0m-1-16h0m-3-2h0m0 9h0m-1 2h0m-1 8h0m0-4h0m-1-16h0m0 5h0m-1 10h0m0-13h0m0 4h0m-1 3h0m0 11h0m0 3h0m0-4h0m-1-14h0m0-1h0m0 4h0m-1 5h0m0 3h0m-1 0h0m0-13h0m-1 4h0m0 9h0m-1 3h0m0 3h0m-1-19h0m0 7h0m-1 4h0m0 3h0m-2 4h0m0-3h0m-1 6h0m0-6h0m-1-10h0m0-7h0m0 21h0m0-11h0m-1-8h0m-1 10h0m0 8h0m-1-4h0m0 6h0m0 0h0m0 0h0m0-17h0m0 15h0m-1 1h0m0-10h0m-1 5h0m0 0h0m0-7h0m-1 12h0m0-5h0m0-14h0m0 6h0m-1 2h0m0 1h0m0 1h0m0-7h0m0 1h0m-1 7h0m-1 3h0m0-14h0m0 8h0m0 12h0m-1-8h0m0-14h0m-1 12h0m0-11h0m0 20h0m0-7h0m0-2h0m0-5h0m0 3h0m0-5h0m-1 12h0m0-2h0m0-11h0m0 2h0m-1 6h0m0 7h0m0-2h0m-1-13h0m-1 10h0m0 1h0m-1 7h0m0-8h0m-1-9h0m-1-3h0m0 17h0m-1-12h0m0 7h0m-1-4h0m-1 2h0m-1 1h0m-1-2h0m-1-5h0m0-3h0m-1 12h0m-1-9h0m-1 0h0m0-5h0m0 19h0m-1-3h0m0-7h0m-3 9h0m0 3h0m-1-23h0m-1 22h0m0-11h0m-3 10h0m-1-18h0m-1 5h0m-1 9h0m0-16h0m0 12h0m0-12h0m-1 12h0m-2 1h0m0-10h0m-3-4h0m0 12h0m-1 2h0m-1 5h0m-1 0h0m0-5h0m-2 8h0m-1-5h0m0 6h0m-1-21h0m0 19h0m-4-2h0m0 3h0m-2-17h0m0 17h0m0-9h0m0 7h0m0 0h0m-1-16h0m0 5h0m0 11h0m-1-6h0m-1 4h0m0-2h0m-1 2h0m-2-10h0m-1 11h0m0 4h0m-1-7h0m-1-3h0m0-13h0m-1 9h0m-3 7h0m-1-2h0m-1-2h0m-2 0h0m0 4h0m0-7h0m-1 7h0m0 7h0m-1-22h0m0 7h0m0 5h0m0 7h0m-1-19h0m0 0h0m0 12h0m0 1h0m-2-5h0m0-5h0m0 2h0m-1 4h0m0 1h0m0-2h0m-1 3h0m0-4h0m0-8h0m0 13h0m0-11h0m0 4h0m-1-1h0m0 1h0m-1 7h0m0-11h0m0 4h0m-1-4h0m0 7h0m-1 0h0m0-7h0m-1 2h0m12 24h0m1-2h0m1 3h0m1 2h0m1-7h0m0 11h0m1 1h0m1-10h0m1 6h0m0 4h0m0 5h0m0-11h0m2-2h0m0 7h0m1-2h0m0 10h0m0-5h0m1 2h0m0-4h0m1 0h0m0-1h0m1 6h0m0-6h0m1-10h0m2 6h0m0 14h0m1-1h0m0-7h0m0-11h0m2 0h0m0 14h0m1-7h0m2-6h0m1 0h0m1 3h0m5-2h0m1-2h0m1 19h0m0-4h0m4-14h0m0 11h0m1-5h0m0 11h0m0-5h0m0 9h0m3-5h0m0 5h0m1-12h0m2 4h0m0 1h0m1-1h0m0 4h0m0-19h0m3 14h0m0-5h0m0-6h0m1 15h0m0-11h0m0 12h0m1-2h0m1 4h0m1-9h0m0-12h0m0 6h0m1 16h0m0-8h0m1-7h0m0 12h0m1-19h0m1 8h0m1 14h0m0-4h0m1-11h0m1 1h0m0-3h0m1 5h0m1 6h0m0 5h0m0-10h0m1 9h0m1-11h0m0 8h0m0-4h0m0-8h0m1 17h0m0-13h0m0-10h0m0 22h0m0-19h0m1-1h0m0 3h0m0 11h0m1-1h0m0-12h0m1 6h0m1 2h0m0-7h0m0 15h0m0-18h0m1 17h0m0 5h0m1-19h0m0 14h0m0-13h0m0 8h0m0-2h0m0 0h0m1 12h0m0 0h0m1-17h0m0 3h0m0 7h0m0-13h0m2 2h0m0 11h0m0 0h0m1-8h0m1 6h0m0-8h0m2-3h0m0 14h0m0-14h0m0 0h0m0 12h0m2 6h0m1-10h0m0-6h0m2 10h0m1-12h0m0 18h0m1-18h0m0 3h0m2 15h0m0-9h0m1-1h0m0 6h0m1-12h0m3 8h0m2-4h0m1 4h0m2 1h0m4 8h0m0-7h0m1-7h0m0 2h0m2-7h0m0 1h0m1 13h0m0 6h0m0-3h0m1-5h0m1-8h0m0 14h0m0-6h0m1-3h0m0-7h0m0 11h0m1 6h0m1-14h0m0 12h0m0 3h0m1-1h0m1-14h0m0 10h0m1-13h0m0-3h0m0 8h0m1 3h0m0 11h0m1-16h0m0 3h0m0 4h0m1-15h0m0 0h0m0 4h0m1 19h0m1-8h0m0 7h0m2-20h0m0 2h0m1 17h0m1-5h0m0-2h0m2-7h0m0 11h0m1-13h0m1 6h0m1 4h0m0-2h0m1-7h0m1 12h0m0-4h0m1 3h0m0-5h0m0-3h0m0-4h0m3-4h0m1 11h0m2 3h0m2-10h0m0-4h0m1 7h0m0 4h0m1-10h0m0 3h0m3 6h0m1-3h0m1-4h0m3-1h0m5-1h0m2-1h0m12 47h0m-1-2h0m0-7h0m-1 4h0m0 5h0m-5-4h0m-8-8h0m0-3h0m-1 6h0m-2 3h0m-4-10h0m0 4h0m-4 1h0m-5-1h0m-1 9h0m-3-5h0m-2 8h0m-2-8h0m-2 5h0m-2-4h0m-1 3h0m-12-17h0m-2-1h0m0 0h0m-3 0h0m-2 2h0m-4 6h0m-1-3h0m-4-6h0m-3 2h0m-1 9h0m0-8h0m-1 3h0m-2 5h0m0 3h0m-1-8h0m0-6h0m-1 11h0m0-3h0m0-6h0m-1 13h0m-1-1h0m-1-2h0m0-7h0m0 12h0m-1-11h0m-1 1h0m-1-4h0m0 5h0m0 9h0m0-7h0m-1 10h0m-1-9h0m0-11h0m-1 11h0m0 0h0m-1 3h0m0 2h0m0 2h0m-1-18h0m-2 19h0m-1-16h0m-1-2h0m0 21h0m-3-1h0m-1-2h0m-1-14h0m-1 6h0m-3-4h0m-1 2h0m-3-5h0m-1-4h0m0 17h0m-2-2h0m0 6h0m-1-6h0m-1 8h0m0-12h0m-1 7h0m0 5h0m0-23h0m-1 4h0m0 15h0m0-13h0m-1 15h0m0-16h0m-1 10h0m0-7h0m0 2h0m-2-6h0m0-4h0m-1 20h0m0-17h0m0 15h0m-1-14h0m-3 17h0m0-4h0m0 0h0m-1-15h0m0 0h0m0 3h0m-1 1h0m0 6h0m-2 8h0m0-11h0m0 3h0m-1-1h0m0 5h0m0-14h0m0 5h0m-1 6h0m-2-6h0m-1-7h0m0 15h0m0-8h0m-1 4h0m-5-5h0m-2 7h0m-7-12h0m21 22h0m3 1h0m3 1h0m4 2h0m0 0h0m3-3h0m1 4h0m4 1h0m0-1h0m2-5h0m0 4h0m1 2h0m1-4h0m3 1h0m1-2h0m4 0h0m1 0h0m52 9h0m4-1h0m5-2h0m3-6h0m1 9h0m1-5h0m2 0h0m2-3h0m1 6h0m18-8h0m1 6h0m1 4h0m3-8h0m1 8h0m2-8h0m1 7h0m-24 97h0m-21 16h0m5 40h0m9-17h0m0 37h0" stroke="#1f3498"/><path d="M1990 2160h0m-2-2h0" stroke="#8e063b"/></g>
<rect x="1094.7" y="777.3" width="30.0" height="65.9" fill="#8e063b"/>
<rect x="1132.7" y="777.3" width="53.1" height="65.9" fill="#a50026"/>
<rect x="1186.8" y="777.3" width="53.0" height="65.9" fill="#a50026"/>
<rect x="1240.8" y="777.3" width="53.4" height="65.9" fill="#a50026"/>
<rect x="1295.2" y="777.3" width="53.0" height="65.9" fill="#c41e27"/>
<rect x="1349.2" y="777.3" width="53.1" height="65.9" fill="#313695"/>
<rect x="1094.7" y="844.2" width="30.0" height="66.0" fill="#e2e2e2"/>
<rect x="1132.7" y="844.2" width="53.1" height="66.0" fill="#e75337"/>
<rect x="1186.8" y="844.2" width="53.0" height="66.0" fill="#fdc274"/>
<rect x="1240.8" y="844.2" width="53.4" height="66.0" fill="#cbe7f1"/>
<rect x="1295.2" y="844.2" width="53.0" height="66.0" fill="#d1eaf3"/>
<rect x="1349.2" y="844.2" width="53.1" height="66.0" fill="#ef663f"/>
<rect x="1094.7" y="911.2" width="30.0" height="66.3" fill="#ca9ca4"/>
<rect x="1132.7" y="911.2" width="53.1" height="66.3" fill="#fef3ad"/>
<rect x="1186.8" y="911.2" width="53.0" height="66.3" fill="#e1f2f1"/>
<rect x="1240.8" y="911.2" width="53.4" height="66.3" fill="#c7e5f0"/>
<rect x="1295.2" y="911.2" width="53.0" height="66.3" fill="#fdb567"/>
<rect x="1349.2" y="911.2" width="53.1" height="66.3" fill="#3b4fa1"/>
<rect x="1094.7" y="978.5" width="30.0" height="66.3" fill="#a1a6c8"/>
<rect x="1132.7" y="978.5" width="53.1" height="66.3" fill="#fa9c58"/>
<rect x="1186.8" y="978.5" width="53.0" height="66.3" fill="#ecf6e1"/>
<rect x="1240.8" y="978.5" width="53.4" height="66.3" fill="#e8f4e6"/>
<rect x="1295.2" y="978.5" width="53.0" height="66.3" fill="#6a9fca"/>
<rect x="1349.2" y="978.5" width="53.1" height="66.3" fill="#313695"/>
<rect x="1094.7" y="1045.8" width="30.0" height="63.5" fill="#023fa5"/>
<rect x="1132.7" y="1045.8" width="53.1" height="63.5" fill="#4f82bb"/>
<rect x="1186.8" y="1045.8" width="53.0" height="63.5" fill="#6399c7"/>
<rect x="1240.8" y="1045.8" width="53.4" height="63.5" fill="#81b6d6"/>
<rect x="1295.2" y="1045.8" width="53.0" height="63.5" fill="#669bc8"/>
<rect x="1349.2" y="1045.8" width="53.1" height="63.5" fill="#313695"/>
<rect x="1418.7" y="777.3" width="36.6" height="221.7" fill="url(#rdylbu)"/>
<line x1="1418.7" y1="784.5" x2="1427.7" y2="784.5" stroke="#fff" stroke-width="2.2"/>
<line x1="1446.3" y1="784.5" x2="1455.3" y2="784.5" stroke="#fff" stroke-width="2.2"/>
<text x="1459.5" y="790.0" font-size="25">1</text>
<line x1="1418.7" y1="826.0" x2="1427.7" y2="826.0" stroke="#fff" stroke-width="2.2"/>
<line x1="1446.3" y1="826.0" x2="1455.3" y2="826.0" stroke="#fff" stroke-width="2.2"/>
<text x="1459.5" y="834.5" font-size="25">0.8</text>
<line x1="1418.7" y1="867.5" x2="1427.7" y2="867.5" stroke="#fff" stroke-width="2.2"/>
<line x1="1446.3" y1="867.5" x2="1455.3" y2="867.5" stroke="#fff" stroke-width="2.2"/>
<text x="1459.5" y="876.0" font-size="25">0.6</text>
<line x1="1418.7" y1="909.0" x2="1427.7" y2="909.0" stroke="#fff" stroke-width="2.2"/>
<line x1="1446.3" y1="909.0" x2="1455.3" y2="909.0" stroke="#fff" stroke-width="2.2"/>
<text x="1459.5" y="917.5" font-size="25">0.4</text>
<line x1="1418.7" y1="950.5" x2="1427.7" y2="950.5" stroke="#fff" stroke-width="2.2"/>
<line x1="1446.3" y1="950.5" x2="1455.3" y2="950.5" stroke="#fff" stroke-width="2.2"/>
<text x="1459.5" y="959.0" font-size="25">0.2</text>
<line x1="1418.7" y1="992.0" x2="1427.7" y2="992.0" stroke="#fff" stroke-width="2.2"/>
<line x1="1446.3" y1="992.0" x2="1455.3" y2="992.0" stroke="#fff" stroke-width="2.2"/>
<text x="1459.5" y="1000.5" font-size="25">0</text>
<text font-size="24" textLength="110.7" lengthAdjust="spacingAndGlyphs" transform="translate(1118.5,1230.0) rotate(-90)">cluster_ID</text>
<text font-size="24" textLength="41.7" lengthAdjust="spacingAndGlyphs" transform="translate(1167.3,1160.0) rotate(-90)">pRb</text>
<text font-size="24" textLength="45.0" lengthAdjust="spacingAndGlyphs" transform="translate(1221.7,1163.3) rotate(-90)">ki67</text>
<text font-size="24" textLength="75.7" lengthAdjust="spacingAndGlyphs" transform="translate(1277.3,1195.0) rotate(-90)">pHisH3</text>
<text font-size="24" textLength="63.4" lengthAdjust="spacingAndGlyphs" transform="translate(1330.7,1181.7) rotate(-90)">CycB1</text>
<text font-size="24" textLength="34.0" lengthAdjust="spacingAndGlyphs" transform="translate(1386.0,1153.3) rotate(-90)">IdU</text>
<rect x="1727.7" y="764.0" width="249.0" height="36.7" fill="url(#gbar)"/>
<text font-size="25" textLength="25.6" lengthAdjust="spacingAndGlyphs" transform="translate(1750.5,748.3) rotate(-90)">50</text>
<text font-size="25" textLength="25.6" lengthAdjust="spacingAndGlyphs" transform="translate(1810.5,748.3) rotate(-90)">25</text>
<text font-size="25" textLength="13.3" lengthAdjust="spacingAndGlyphs" transform="translate(1869.0,750.0) rotate(-90)">0</text>
<text font-size="25" textLength="35.0" lengthAdjust="spacingAndGlyphs" transform="translate(1929.0,756.7) rotate(-90)">-25</text>
<line x1="1741.7" y1="764" x2="1741.7" y2="773" stroke="#fff" stroke-opacity=".35" stroke-width="2"/>
<line x1="1801.7" y1="764" x2="1801.7" y2="773" stroke="#fff" stroke-opacity=".35" stroke-width="2"/>
<line x1="1860" y1="764" x2="1860" y2="773" stroke="#fff" stroke-opacity=".35" stroke-width="2"/>
<line x1="1920" y1="764" x2="1920" y2="773" stroke="#fff" stroke-opacity=".35" stroke-width="2"/>
<rect x="1685" y="816.7" width="360" height="325" fill="#fff" stroke="#808080" stroke-width="2"/>
<rect x="1692.0" y="821.7" width="67.0" height="64.3" fill="#a388d1"/>
<rect x="1758.7" y="821.7" width="66.9" height="64.3" fill="#bfb5cf"/>
<rect x="1825.3" y="821.7" width="67.0" height="64.3" fill="#d54e32"/>
<rect x="1892.0" y="821.7" width="67.0" height="64.3" fill="#9b7fd1"/>
<rect x="1958.7" y="821.7" width="67.3" height="64.3" fill="#c7c3d0"/>
<rect x="1692.0" y="885.7" width="67.0" height="63.3" fill="#bfb5cf"/>
<rect x="1758.7" y="885.7" width="66.9" height="63.3" fill="#d9aea3"/>
<rect x="1825.3" y="885.7" width="67.0" height="63.3" fill="#c6c2d0"/>
<rect x="1892.0" y="885.7" width="67.0" height="63.3" fill="#b8a9d0"/>
<rect x="1958.7" y="885.7" width="67.3" height="63.3" fill="#c9c8d0"/>
<rect x="1692.0" y="948.7" width="67.0" height="62.9" fill="#6e49cf"/>
<rect x="1758.7" y="948.7" width="66.9" height="62.9" fill="#c7c2d0"/>
<rect x="1825.3" y="948.7" width="67.0" height="62.9" fill="#cf1c02"/>
<rect x="1892.0" y="948.7" width="67.0" height="62.9" fill="#4328cb"/>
<rect x="1958.7" y="948.7" width="67.3" height="62.9" fill="#d6c2bf"/>
<rect x="1692.0" y="1011.3" width="67.0" height="63.0" fill="#bfb5cf"/>
<rect x="1758.7" y="1011.3" width="66.9" height="63.0" fill="#8664d2"/>
<rect x="1825.3" y="1011.3" width="67.0" height="63.0" fill="#d85f44"/>
<rect x="1892.0" y="1011.3" width="67.0" height="63.0" fill="#bfb5cf"/>
<rect x="1958.7" y="1011.3" width="67.3" height="63.0" fill="#cfcac8"/>
<rect x="1692.0" y="1074.0" width="67.0" height="63.0" fill="#bfb5cf"/>
<rect x="1758.7" y="1074.0" width="66.9" height="63.0" fill="#cbc9d0"/>
<rect x="1825.3" y="1074.0" width="67.0" height="63.0" fill="#d6b8b2"/>
<rect x="1892.0" y="1074.0" width="67.0" height="63.0" fill="#cecbcb"/>
<rect x="1958.7" y="1074.0" width="67.3" height="63.0" fill="#c6c4d0"/>
<rect x="1652.3" y="819.3" width="30.0" height="61.4" fill="#dc050c"/>
<line x1="1682.3" y1="853.7" x2="1686.0" y2="853.7" stroke="#666" stroke-width="2"/>
<rect x="1652.3" y="884.0" width="30.0" height="61.0" fill="#fb8072"/>
<line x1="1682.3" y1="917.2" x2="1686.0" y2="917.2" stroke="#666" stroke-width="2"/>
<rect x="1652.3" y="948.3" width="30.0" height="60.7" fill="#1965b0"/>
<line x1="1682.3" y1="980.0" x2="1686.0" y2="980.0" stroke="#666" stroke-width="2"/>
<rect x="1652.3" y="1012.3" width="30.0" height="61.0" fill="#7bafde"/>
<line x1="1682.3" y1="1042.7" x2="1686.0" y2="1042.7" stroke="#666" stroke-width="2"/>
<rect x="1652.3" y="1076.7" width="30.0" height="64.3" fill="#882e72"/>
<line x1="1682.3" y1="1105.3" x2="1686.0" y2="1105.3" stroke="#666" stroke-width="2"/>
<rect x="1688.3" y="1144.0" width="65.0" height="25.3" fill="#023fa5"/>
<rect x="1757.3" y="1144.0" width="64.4" height="25.3" fill="#a1a6c8"/>
<rect x="1825.7" y="1144.0" width="64.3" height="25.3" fill="#e2e2e2"/>
<rect x="1894.0" y="1144.0" width="64.7" height="25.3" fill="#ca9ca4"/>
<rect x="1962.3" y="1144.0" width="66.7" height="25.3" fill="#8e063b"/>
<text x="1645.0" y="862.7" font-size="23" text-anchor="end" textLength="56.7" lengthAdjust="spacingAndGlyphs">CD45</text>
<text x="1645.0" y="927.7" font-size="23" text-anchor="end" textLength="88.3" lengthAdjust="spacingAndGlyphs">CD45RA</text>
<text x="1645.0" y="991.0" font-size="23" text-anchor="end" textLength="57.3" lengthAdjust="spacingAndGlyphs">HSPC</text>
<text x="1645.0" y="1056.0" font-size="23" text-anchor="end" textLength="78.3" lengthAdjust="spacingAndGlyphs">CD19lo</text>
<text x="1645.0" y="1119.3" font-size="23" text-anchor="end" textLength="50.7" lengthAdjust="spacingAndGlyphs">PreB</text>
<text x="1722.7" y="1198.3" font-size="23" text-anchor="middle" textLength="30.7" lengthAdjust="spacingAndGlyphs">G0</text>
<text x="1789.0" y="1198.3" font-size="23" text-anchor="middle" textLength="30.0" lengthAdjust="spacingAndGlyphs">G1</text>
<text x="1857.3" y="1198.3" font-size="23" text-anchor="middle" textLength="11.5" lengthAdjust="spacingAndGlyphs">S</text>
<text x="1930.0" y="1198.3" font-size="23" text-anchor="middle" textLength="30.7" lengthAdjust="spacingAndGlyphs">G2</text>
<text x="1993.3" y="1198.3" font-size="23" text-anchor="middle" textLength="21.0" lengthAdjust="spacingAndGlyphs">M</text>
<rect x="161.2" y="1446.1" width="318.0" height="61.3" fill="#dc050c"/>
<text x="320.7" y="1485.0" font-size="24" text-anchor="middle" textLength="57.5" lengthAdjust="spacingAndGlyphs" fill="#fff">CD45</text>
<rect x="167.0" y="1511.0" width="324.0" height="218.0" fill="#808080"/>
<line x1="184.3" y1="1510.0" x2="184.3" y2="1729.0" stroke="#717171" stroke-width="1.3"/>
<line x1="220.9" y1="1511.0" x2="220.9" y2="1729.0" stroke="#717171" stroke-width="1.3"/>
<line x1="257.5" y1="1510.0" x2="257.5" y2="1729.0" stroke="#717171" stroke-width="1.3"/>
<line x1="294.1" y1="1511.0" x2="294.1" y2="1729.0" stroke="#717171" stroke-width="1.3"/>
<line x1="330.7" y1="1510.0" x2="330.7" y2="1729.0" stroke="#717171" stroke-width="1.3"/>
<line x1="367.3" y1="1511.0" x2="367.3" y2="1729.0" stroke="#717171" stroke-width="1.3"/>
<line x1="403.9" y1="1510.0" x2="403.9" y2="1729.0" stroke="#717171" stroke-width="1.3"/>
<line x1="440.5" y1="1511.0" x2="440.5" y2="1729.0" stroke="#717171" stroke-width="1.3"/>
<line x1="477.1" y1="1510.0" x2="477.1" y2="1729.0" stroke="#717171" stroke-width="1.3"/>
<line x1="167.0" y1="1541.8" x2="491.0" y2="1541.8" stroke="#717171" stroke-width="1.3"/>
<line x1="167.0" y1="1593.2" x2="491.0" y2="1593.2" stroke="#717171" stroke-width="1.3"/>
<line x1="167.0" y1="1644.9" x2="491.0" y2="1644.9" stroke="#717171" stroke-width="1.3"/>
<line x1="167.0" y1="1696.5" x2="491.0" y2="1696.5" stroke="#717171" stroke-width="1.3"/>
<rect x="184.3" y="1518.5" width="80.2" height="46.5" fill="#023fa5"/>
<rect x="264.5" y="1518.5" width="155.2" height="46.5" fill="#a1a6c8"/>
<rect x="419.7" y="1518.5" width="44.5" height="46.5" fill="#e2e2e2"/>
<rect x="464.2" y="1518.5" width="11.1" height="46.5" fill="#ca9ca4"/>
<rect x="475.3" y="1518.5" width="1.8" height="46.5" fill="#8e063b"/>
<rect x="184.3" y="1570.8" width="79.3" height="45.8" fill="#023fa5"/>
<rect x="263.6" y="1570.8" width="152.3" height="45.8" fill="#a1a6c8"/>
<rect x="415.9" y="1570.8" width="53.3" height="45.8" fill="#e2e2e2"/>
<rect x="469.2" y="1570.8" width="6.7" height="45.8" fill="#ca9ca4"/>
<rect x="475.9" y="1570.8" width="1.2" height="45.8" fill="#8e063b"/>
<rect x="184.3" y="1622.5" width="73.5" height="45.8" fill="#023fa5"/>
<rect x="257.8" y="1622.5" width="154.6" height="45.8" fill="#a1a6c8"/>
<rect x="412.4" y="1622.5" width="56.2" height="45.8" fill="#e2e2e2"/>
<rect x="468.6" y="1622.5" width="7.0" height="45.8" fill="#ca9ca4"/>
<rect x="475.6" y="1622.5" width="1.5" height="45.8" fill="#8e063b"/>
<rect x="184.3" y="1673.7" width="98.1" height="46.3" fill="#023fa5"/>
<rect x="282.4" y="1673.7" width="160.7" height="46.3" fill="#a1a6c8"/>
<rect x="443.1" y="1673.7" width="24.0" height="46.3" fill="#e2e2e2"/>
<rect x="467.1" y="1673.7" width="8.5" height="46.3" fill="#ca9ca4"/>
<rect x="475.6" y="1673.7" width="1.5" height="46.3" fill="#8e063b"/>
<line x1="184.3" y1="1729.0" x2="184.3" y2="1738.0" stroke="#555" stroke-width="2.6"/>
<line x1="257.5" y1="1729.0" x2="257.5" y2="1738.0" stroke="#555" stroke-width="2.6"/>
<line x1="330.7" y1="1729.0" x2="330.7" y2="1738.0" stroke="#555" stroke-width="2.6"/>
<line x1="403.9" y1="1729.0" x2="403.9" y2="1738.0" stroke="#555" stroke-width="2.6"/>
<line x1="477.1" y1="1729.0" x2="477.1" y2="1738.0" stroke="#555" stroke-width="2.6"/>
<text font-size="25.5" textLength="49.5" lengthAdjust="spacingAndGlyphs" transform="translate(167.5,1751.0) rotate(90)">0.00</text>
<text font-size="25.5" textLength="49.5" lengthAdjust="spacingAndGlyphs" transform="translate(239.5,1751.0) rotate(90)">0.25</text>
<text font-size="25.5" textLength="49.5" lengthAdjust="spacingAndGlyphs" transform="translate(313.5,1751.0) rotate(90)">0.50</text>
<text font-size="25.5" textLength="49.5" lengthAdjust="spacingAndGlyphs" transform="translate(387.5,1751.0) rotate(90)">0.75</text>
<text font-size="25.5" textLength="49.5" lengthAdjust="spacingAndGlyphs" transform="translate(461.0,1751.0) rotate(90)">1.00</text>
<rect x="513.4" y="1445.8" width="317.6" height="61.4" fill="#fb8072"/>
<text x="672.7" y="1485.4" font-size="24" text-anchor="middle" textLength="88.9" lengthAdjust="spacingAndGlyphs" fill="#fff">CD45RA</text>
<rect x="517.2" y="1511.0" width="321.7" height="218.0" fill="#808080"/>
<line x1="531.7" y1="1510.0" x2="531.7" y2="1729.0" stroke="#717171" stroke-width="1.3"/>
<line x1="568.3" y1="1511.0" x2="568.3" y2="1729.0" stroke="#717171" stroke-width="1.3"/>
<line x1="604.9" y1="1510.0" x2="604.9" y2="1729.0" stroke="#717171" stroke-width="1.3"/>
<line x1="641.5" y1="1511.0" x2="641.5" y2="1729.0" stroke="#717171" stroke-width="1.3"/>
<line x1="678.1" y1="1510.0" x2="678.1" y2="1729.0" stroke="#717171" stroke-width="1.3"/>
<line x1="714.7" y1="1511.0" x2="714.7" y2="1729.0" stroke="#717171" stroke-width="1.3"/>
<line x1="751.3" y1="1510.0" x2="751.3" y2="1729.0" stroke="#717171" stroke-width="1.3"/>
<line x1="787.9" y1="1511.0" x2="787.9" y2="1729.0" stroke="#717171" stroke-width="1.3"/>
<line x1="824.5" y1="1510.0" x2="824.5" y2="1729.0" stroke="#717171" stroke-width="1.3"/>
<line x1="517.2" y1="1541.8" x2="838.9" y2="1541.8" stroke="#717171" stroke-width="1.3"/>
<line x1="517.2" y1="1593.2" x2="838.9" y2="1593.2" stroke="#717171" stroke-width="1.3"/>
<line x1="517.2" y1="1644.9" x2="838.9" y2="1644.9" stroke="#717171" stroke-width="1.3"/>
<line x1="517.2" y1="1696.5" x2="838.9" y2="1696.5" stroke="#717171" stroke-width="1.3"/>
<rect x="531.7" y="1518.5" width="69.7" height="46.5" fill="#023fa5"/>
<rect x="601.4" y="1518.5" width="148.4" height="46.5" fill="#a1a6c8"/>
<rect x="749.8" y="1518.5" width="60.9" height="46.5" fill="#e2e2e2"/>
<rect x="810.7" y="1518.5" width="12.0" height="46.5" fill="#ca9ca4"/>
<rect x="822.7" y="1518.5" width="1.8" height="46.5" fill="#8e063b"/>
<rect x="531.7" y="1570.8" width="70.6" height="45.8" fill="#023fa5"/>
<rect x="602.3" y="1570.8" width="162.5" height="45.8" fill="#a1a6c8"/>
<rect x="764.8" y="1570.8" width="49.5" height="45.8" fill="#e2e2e2"/>
<rect x="814.3" y="1570.8" width="9.1" height="45.8" fill="#ca9ca4"/>
<rect x="823.3" y="1570.8" width="1.2" height="45.8" fill="#8e063b"/>
<rect x="531.7" y="1622.5" width="67.1" height="45.8" fill="#023fa5"/>
<rect x="598.8" y="1622.5" width="157.5" height="45.8" fill="#a1a6c8"/>
<rect x="756.3" y="1622.5" width="56.8" height="45.8" fill="#e2e2e2"/>
<rect x="813.1" y="1622.5" width="9.7" height="45.8" fill="#ca9ca4"/>
<rect x="822.7" y="1622.5" width="1.8" height="45.8" fill="#8e063b"/>
<rect x="531.7" y="1673.7" width="85.2" height="46.3" fill="#023fa5"/>
<rect x="616.9" y="1673.7" width="170.7" height="46.3" fill="#a1a6c8"/>
<rect x="787.6" y="1673.7" width="25.8" height="46.3" fill="#e2e2e2"/>
<rect x="813.4" y="1673.7" width="9.7" height="46.3" fill="#ca9ca4"/>
<rect x="823.0" y="1673.7" width="1.5" height="46.3" fill="#8e063b"/>
<line x1="531.7" y1="1729.0" x2="531.7" y2="1738.0" stroke="#555" stroke-width="2.6"/>
<line x1="604.9" y1="1729.0" x2="604.9" y2="1738.0" stroke="#555" stroke-width="2.6"/>
<line x1="678.1" y1="1729.0" x2="678.1" y2="1738.0" stroke="#555" stroke-width="2.6"/>
<line x1="751.3" y1="1729.0" x2="751.3" y2="1738.0" stroke="#555" stroke-width="2.6"/>
<line x1="824.5" y1="1729.0" x2="824.5" y2="1738.0" stroke="#555" stroke-width="2.6"/>
<text font-size="25.5" textLength="49.5" lengthAdjust="spacingAndGlyphs" transform="translate(518.5,1751.0) rotate(90)">0.00</text>
<text font-size="25.5" textLength="49.5" lengthAdjust="spacingAndGlyphs" transform="translate(590.5,1751.0) rotate(90)">0.25</text>
<text font-size="25.5" textLength="49.5" lengthAdjust="spacingAndGlyphs" transform="translate(664.5,1751.0) rotate(90)">0.50</text>
<text font-size="25.5" textLength="49.5" lengthAdjust="spacingAndGlyphs" transform="translate(737.5,1751.0) rotate(90)">0.75</text>
<text font-size="25.5" textLength="49.5" lengthAdjust="spacingAndGlyphs" transform="translate(812.5,1751.0) rotate(90)">1.00</text>
<rect x="863.0" y="1440.7" width="315.2" height="60.9" fill="#1965b0"/>
<text x="1021.1" y="1485.4" font-size="24" text-anchor="middle" textLength="57.2" lengthAdjust="spacingAndGlyphs" fill="#fff">HSPC</text>
<rect x="865.8" y="1511.0" width="320.8" height="218.0" fill="#808080"/>
<line x1="879.6" y1="1510.0" x2="879.6" y2="1729.0" stroke="#717171" stroke-width="1.3"/>
<line x1="916.1" y1="1511.0" x2="916.1" y2="1729.0" stroke="#717171" stroke-width="1.3"/>
<line x1="952.6" y1="1510.0" x2="952.6" y2="1729.0" stroke="#717171" stroke-width="1.3"/>
<line x1="989.1" y1="1511.0" x2="989.1" y2="1729.0" stroke="#717171" stroke-width="1.3"/>
<line x1="1025.5" y1="1510.0" x2="1025.5" y2="1729.0" stroke="#717171" stroke-width="1.3"/>
<line x1="1062.0" y1="1511.0" x2="1062.0" y2="1729.0" stroke="#717171" stroke-width="1.3"/>
<line x1="1098.5" y1="1510.0" x2="1098.5" y2="1729.0" stroke="#717171" stroke-width="1.3"/>
<line x1="1135.0" y1="1511.0" x2="1135.0" y2="1729.0" stroke="#717171" stroke-width="1.3"/>
<line x1="1171.5" y1="1510.0" x2="1171.5" y2="1729.0" stroke="#717171" stroke-width="1.3"/>
<line x1="865.8" y1="1541.8" x2="1186.6" y2="1541.8" stroke="#717171" stroke-width="1.3"/>
<line x1="865.8" y1="1593.2" x2="1186.6" y2="1593.2" stroke="#717171" stroke-width="1.3"/>
<line x1="865.8" y1="1644.9" x2="1186.6" y2="1644.9" stroke="#717171" stroke-width="1.3"/>
<line x1="865.8" y1="1696.5" x2="1186.6" y2="1696.5" stroke="#717171" stroke-width="1.3"/>
<rect x="879.6" y="1518.5" width="56.9" height="46.5" fill="#023fa5"/>
<rect x="936.5" y="1518.5" width="170.8" height="46.5" fill="#a1a6c8"/>
<rect x="1107.3" y="1518.5" width="22.8" height="46.5" fill="#e2e2e2"/>
<rect x="1130.1" y="1518.5" width="40.9" height="46.5" fill="#ca9ca4"/>
<rect x="1170.9" y="1518.5" width="0.6" height="46.5" fill="#8e063b"/>
<rect x="879.6" y="1570.8" width="30.4" height="45.8" fill="#023fa5"/>
<rect x="910.0" y="1570.8" width="173.1" height="45.8" fill="#a1a6c8"/>
<rect x="1083.1" y="1570.8" width="77.4" height="45.8" fill="#e2e2e2"/>
<rect x="1160.4" y="1570.8" width="10.5" height="45.8" fill="#ca9ca4"/>
<rect x="1170.9" y="1570.8" width="0.6" height="45.8" fill="#8e063b"/>
<rect x="879.6" y="1622.5" width="22.8" height="45.8" fill="#023fa5"/>
<rect x="902.4" y="1622.5" width="157.0" height="45.8" fill="#a1a6c8"/>
<rect x="1059.4" y="1622.5" width="98.7" height="45.8" fill="#e2e2e2"/>
<rect x="1158.1" y="1622.5" width="12.3" height="45.8" fill="#ca9ca4"/>
<rect x="1170.3" y="1622.5" width="1.2" height="45.8" fill="#8e063b"/>
<rect x="879.6" y="1673.7" width="67.4" height="46.3" fill="#023fa5"/>
<rect x="947.0" y="1673.7" width="160.3" height="46.3" fill="#a1a6c8"/>
<rect x="1107.3" y="1673.7" width="16.3" height="46.3" fill="#e2e2e2"/>
<rect x="1123.6" y="1673.7" width="47.3" height="46.3" fill="#ca9ca4"/>
<rect x="1170.9" y="1673.7" width="0.6" height="46.3" fill="#8e063b"/>
<line x1="879.6" y1="1729.0" x2="879.6" y2="1738.0" stroke="#555" stroke-width="2.6"/>
<line x1="952.6" y1="1729.0" x2="952.6" y2="1738.0" stroke="#555" stroke-width="2.6"/>
<line x1="1025.5" y1="1729.0" x2="1025.5" y2="1738.0" stroke="#555" stroke-width="2.6"/>
<line x1="1098.5" y1="1729.0" x2="1098.5" y2="1738.0" stroke="#555" stroke-width="2.6"/>
<line x1="1171.5" y1="1729.0" x2="1171.5" y2="1738.0" stroke="#555" stroke-width="2.6"/>
<text font-size="25.5" textLength="49.5" lengthAdjust="spacingAndGlyphs" transform="translate(867.5,1751.0) rotate(90)">0.00</text>
<text font-size="25.5" textLength="49.5" lengthAdjust="spacingAndGlyphs" transform="translate(940.0,1751.0) rotate(90)">0.25</text>
<text font-size="25.5" textLength="49.5" lengthAdjust="spacingAndGlyphs" transform="translate(1013.5,1751.0) rotate(90)">0.50</text>
<text font-size="25.5" textLength="49.5" lengthAdjust="spacingAndGlyphs" transform="translate(1087.5,1751.0) rotate(90)">0.75</text>
<text font-size="25.5" textLength="49.5" lengthAdjust="spacingAndGlyphs" transform="translate(1159.0,1751.0) rotate(90)">1.00</text>
<rect x="1207.2" y="1440.2" width="314.6" height="61.3" fill="#7bafde"/>
<text x="1365.0" y="1480.0" font-size="24" text-anchor="middle" textLength="78.5" lengthAdjust="spacingAndGlyphs" fill="#fff">CD19lo</text>
<rect x="1212.8" y="1511.0" width="321.4" height="218.0" fill="#808080"/>
<line x1="1227.0" y1="1510.0" x2="1227.0" y2="1729.0" stroke="#717171" stroke-width="1.3"/>
<line x1="1263.6" y1="1511.0" x2="1263.6" y2="1729.0" stroke="#717171" stroke-width="1.3"/>
<line x1="1300.2" y1="1510.0" x2="1300.2" y2="1729.0" stroke="#717171" stroke-width="1.3"/>
<line x1="1336.8" y1="1511.0" x2="1336.8" y2="1729.0" stroke="#717171" stroke-width="1.3"/>
<line x1="1373.3" y1="1510.0" x2="1373.3" y2="1729.0" stroke="#717171" stroke-width="1.3"/>
<line x1="1409.9" y1="1511.0" x2="1409.9" y2="1729.0" stroke="#717171" stroke-width="1.3"/>
<line x1="1446.5" y1="1510.0" x2="1446.5" y2="1729.0" stroke="#717171" stroke-width="1.3"/>
<line x1="1483.1" y1="1511.0" x2="1483.1" y2="1729.0" stroke="#717171" stroke-width="1.3"/>
<line x1="1519.7" y1="1510.0" x2="1519.7" y2="1729.0" stroke="#717171" stroke-width="1.3"/>
<line x1="1212.8" y1="1541.8" x2="1534.2" y2="1541.8" stroke="#717171" stroke-width="1.3"/>
<line x1="1212.8" y1="1593.2" x2="1534.2" y2="1593.2" stroke="#717171" stroke-width="1.3"/>
<line x1="1212.8" y1="1644.9" x2="1534.2" y2="1644.9" stroke="#717171" stroke-width="1.3"/>
<line x1="1212.8" y1="1696.5" x2="1534.2" y2="1696.5" stroke="#717171" stroke-width="1.3"/>
<rect x="1227.0" y="1518.5" width="88.4" height="46.5" fill="#023fa5"/>
<rect x="1315.4" y="1518.5" width="109.8" height="46.5" fill="#a1a6c8"/>
<rect x="1425.2" y="1518.5" width="80.5" height="46.5" fill="#e2e2e2"/>
<rect x="1505.7" y="1518.5" width="12.3" height="46.5" fill="#ca9ca4"/>
<rect x="1517.9" y="1518.5" width="1.8" height="46.5" fill="#8e063b"/>
<rect x="1227.0" y="1570.8" width="88.4" height="45.8" fill="#023fa5"/>
<rect x="1315.4" y="1570.8" width="84.9" height="45.8" fill="#a1a6c8"/>
<rect x="1400.3" y="1570.8" width="110.1" height="45.8" fill="#e2e2e2"/>
<rect x="1510.3" y="1570.8" width="7.6" height="45.8" fill="#ca9ca4"/>
<rect x="1517.9" y="1570.8" width="1.8" height="45.8" fill="#8e063b"/>
<rect x="1227.0" y="1622.5" width="74.6" height="45.8" fill="#023fa5"/>
<rect x="1301.6" y="1622.5" width="80.8" height="45.8" fill="#a1a6c8"/>
<rect x="1382.4" y="1622.5" width="125.3" height="45.8" fill="#e2e2e2"/>
<rect x="1507.7" y="1622.5" width="10.2" height="45.8" fill="#ca9ca4"/>
<rect x="1517.9" y="1622.5" width="1.8" height="45.8" fill="#8e063b"/>
<rect x="1227.0" y="1673.7" width="90.4" height="46.3" fill="#023fa5"/>
<rect x="1317.4" y="1673.7" width="134.3" height="46.3" fill="#a1a6c8"/>
<rect x="1451.8" y="1673.7" width="56.8" height="46.3" fill="#e2e2e2"/>
<rect x="1508.6" y="1673.7" width="9.4" height="46.3" fill="#ca9ca4"/>
<rect x="1517.9" y="1673.7" width="1.8" height="46.3" fill="#8e063b"/>
<line x1="1227.0" y1="1729.0" x2="1227.0" y2="1738.0" stroke="#555" stroke-width="2.6"/>
<line x1="1300.2" y1="1729.0" x2="1300.2" y2="1738.0" stroke="#555" stroke-width="2.6"/>
<line x1="1373.3" y1="1729.0" x2="1373.3" y2="1738.0" stroke="#555" stroke-width="2.6"/>
<line x1="1446.5" y1="1729.0" x2="1446.5" y2="1738.0" stroke="#555" stroke-width="2.6"/>
<line x1="1519.7" y1="1729.0" x2="1519.7" y2="1738.0" stroke="#555" stroke-width="2.6"/>
<text font-size="25.5" textLength="49.5" lengthAdjust="spacingAndGlyphs" transform="translate(1218.0,1751.0) rotate(90)">0.00</text>
<text font-size="25.5" textLength="49.5" lengthAdjust="spacingAndGlyphs" transform="translate(1291.0,1751.0) rotate(90)">0.25</text>
<text font-size="25.5" textLength="49.5" lengthAdjust="spacingAndGlyphs" transform="translate(1364.0,1751.0) rotate(90)">0.50</text>
<text font-size="25.5" textLength="49.5" lengthAdjust="spacingAndGlyphs" transform="translate(1437.5,1751.0) rotate(90)">0.75</text>
<text font-size="25.5" textLength="49.5" lengthAdjust="spacingAndGlyphs" transform="translate(1509.0,1751.0) rotate(90)">1.00</text>
<rect x="1557.0" y="1440.2" width="314.6" height="61.3" fill="#882e72"/>
<text x="1714.8" y="1480.0" font-size="24" text-anchor="middle" textLength="50.6" lengthAdjust="spacingAndGlyphs" fill="#fff">PreB</text>
<rect x="1560.4" y="1511.0" width="321.5" height="218.0" fill="#808080"/>
<line x1="1574.6" y1="1510.0" x2="1574.6" y2="1729.0" stroke="#717171" stroke-width="1.3"/>
<line x1="1611.2" y1="1511.0" x2="1611.2" y2="1729.0" stroke="#717171" stroke-width="1.3"/>
<line x1="1647.8" y1="1510.0" x2="1647.8" y2="1729.0" stroke="#717171" stroke-width="1.3"/>
<line x1="1684.4" y1="1511.0" x2="1684.4" y2="1729.0" stroke="#717171" stroke-width="1.3"/>
<line x1="1720.9" y1="1510.0" x2="1720.9" y2="1729.0" stroke="#717171" stroke-width="1.3"/>
<line x1="1757.5" y1="1511.0" x2="1757.5" y2="1729.0" stroke="#717171" stroke-width="1.3"/>
<line x1="1794.1" y1="1510.0" x2="1794.1" y2="1729.0" stroke="#717171" stroke-width="1.3"/>
<line x1="1830.7" y1="1511.0" x2="1830.7" y2="1729.0" stroke="#717171" stroke-width="1.3"/>
<line x1="1867.3" y1="1510.0" x2="1867.3" y2="1729.0" stroke="#717171" stroke-width="1.3"/>
<line x1="1560.4" y1="1541.8" x2="1881.9" y2="1541.8" stroke="#717171" stroke-width="1.3"/>
<line x1="1560.4" y1="1593.2" x2="1881.9" y2="1593.2" stroke="#717171" stroke-width="1.3"/>
<line x1="1560.4" y1="1644.9" x2="1881.9" y2="1644.9" stroke="#717171" stroke-width="1.3"/>
<line x1="1560.4" y1="1696.5" x2="1881.9" y2="1696.5" stroke="#717171" stroke-width="1.3"/>
<rect x="1574.6" y="1518.5" width="50.9" height="46.5" fill="#023fa5"/>
<rect x="1625.5" y="1518.5" width="152.8" height="46.5" fill="#a1a6c8"/>
<rect x="1778.3" y="1518.5" width="75.8" height="46.5" fill="#e2e2e2"/>
<rect x="1854.1" y="1518.5" width="10.2" height="46.5" fill="#ca9ca4"/>
<rect x="1864.4" y="1518.5" width="2.9" height="46.5" fill="#8e063b"/>
<rect x="1574.6" y="1570.8" width="42.4" height="45.8" fill="#023fa5"/>
<rect x="1617.0" y="1570.8" width="147.8" height="45.8" fill="#a1a6c8"/>
<rect x="1764.9" y="1570.8" width="89.3" height="45.8" fill="#e2e2e2"/>
<rect x="1854.1" y="1570.8" width="10.2" height="45.8" fill="#ca9ca4"/>
<rect x="1864.4" y="1570.8" width="2.9" height="45.8" fill="#8e063b"/>
<rect x="1574.6" y="1622.5" width="42.4" height="45.8" fill="#023fa5"/>
<rect x="1617.0" y="1622.5" width="142.0" height="45.8" fill="#a1a6c8"/>
<rect x="1759.0" y="1622.5" width="94.5" height="45.8" fill="#e2e2e2"/>
<rect x="1853.5" y="1622.5" width="10.8" height="45.8" fill="#ca9ca4"/>
<rect x="1864.4" y="1622.5" width="2.9" height="45.8" fill="#8e063b"/>
<rect x="1574.6" y="1673.7" width="69.7" height="46.3" fill="#023fa5"/>
<rect x="1644.3" y="1673.7" width="138.2" height="46.3" fill="#a1a6c8"/>
<rect x="1782.4" y="1673.7" width="71.7" height="46.3" fill="#e2e2e2"/>
<rect x="1854.1" y="1673.7" width="10.2" height="46.3" fill="#ca9ca4"/>
<rect x="1864.4" y="1673.7" width="2.9" height="46.3" fill="#8e063b"/>
<line x1="1574.6" y1="1729.0" x2="1574.6" y2="1738.0" stroke="#555" stroke-width="2.6"/>
<line x1="1647.8" y1="1729.0" x2="1647.8" y2="1738.0" stroke="#555" stroke-width="2.6"/>
<line x1="1720.9" y1="1729.0" x2="1720.9" y2="1738.0" stroke="#555" stroke-width="2.6"/>
<line x1="1794.1" y1="1729.0" x2="1794.1" y2="1738.0" stroke="#555" stroke-width="2.6"/>
<line x1="1867.3" y1="1729.0" x2="1867.3" y2="1738.0" stroke="#555" stroke-width="2.6"/>
<text font-size="25.5" textLength="49.5" lengthAdjust="spacingAndGlyphs" transform="translate(1565.6,1751.0) rotate(90)">0.00</text>
<text font-size="25.5" textLength="49.5" lengthAdjust="spacingAndGlyphs" transform="translate(1638.6,1751.0) rotate(90)">0.25</text>
<text font-size="25.5" textLength="49.5" lengthAdjust="spacingAndGlyphs" transform="translate(1712.0,1751.0) rotate(90)">0.50</text>
<text font-size="25.5" textLength="49.5" lengthAdjust="spacingAndGlyphs" transform="translate(1785.3,1751.0) rotate(90)">0.75</text>
<text font-size="25.5" textLength="49.5" lengthAdjust="spacingAndGlyphs" transform="translate(1857.0,1751.0) rotate(90)">1.00</text>
<line x1="156.3" y1="1539.6" x2="167.5" y2="1539.6" stroke="#7a7a7a" stroke-width="3.2"/>
<text x="140.8" y="1553.7" font-size="25" text-anchor="end" textLength="68.0" lengthAdjust="spacingAndGlyphs">MIFF3</text>
<line x1="156.3" y1="1592.5" x2="167.5" y2="1592.5" stroke="#7a7a7a" stroke-width="3.2"/>
<text x="140.8" y="1609.5" font-size="25" text-anchor="end" textLength="61.5" lengthAdjust="spacingAndGlyphs">ER2.1</text>
<line x1="156.3" y1="1644.9" x2="167.5" y2="1644.9" stroke="#7a7a7a" stroke-width="3.2"/>
<text x="140.8" y="1661.5" font-size="25" text-anchor="end" textLength="61.5" lengthAdjust="spacingAndGlyphs">ER2.8</text>
<line x1="156.3" y1="1697.0" x2="167.5" y2="1697.0" stroke="#7a7a7a" stroke-width="3.2"/>
<text x="140.8" y="1712.8" font-size="25" text-anchor="end" textLength="28.5" lengthAdjust="spacingAndGlyphs">D5</text>
<line x1="1881.7" y1="1541.9" x2="1891.8" y2="1541.9" stroke="#747474" stroke-width="2.8"/>
<line x1="1881.7" y1="1593.2" x2="1891.8" y2="1593.2" stroke="#747474" stroke-width="2.8"/>
<line x1="1881.7" y1="1644.9" x2="1891.8" y2="1644.9" stroke="#747474" stroke-width="2.8"/>
<line x1="1881.7" y1="1696.5" x2="1891.8" y2="1696.5" stroke="#747474" stroke-width="2.8"/>
<line x1="168.2" y1="1731.5" x2="168.2" y2="1738.4" stroke="#a0288c" stroke-width="1.2"/>
<rect x="1898.7" y="1508.4" width="44.8" height="224.3" fill="#808080"/>
<rect x="1900.5" y="1510.4" width="41.6" height="40.5" fill="#023fa5"/>
<text x="1947.6" y="1539.3" font-size="24" textLength="30.5" lengthAdjust="spacingAndGlyphs">G0</text>
<rect x="1900.5" y="1555.2" width="41.6" height="40.9" fill="#a1a6c8"/>
<text x="1947.6" y="1584.0" font-size="24" textLength="29.5" lengthAdjust="spacingAndGlyphs">G1</text>
<rect x="1900.5" y="1600.4" width="41.6" height="40.5" fill="#e2e2e2"/>
<text x="1947.6" y="1628.0" font-size="24" textLength="12.0" lengthAdjust="spacingAndGlyphs">S</text>
<rect x="1900.5" y="1645.2" width="41.6" height="41.2" fill="#ca9ca4"/>
<text x="1947.6" y="1673.2" font-size="24" textLength="30.5" lengthAdjust="spacingAndGlyphs">G2</text>
<rect x="1900.5" y="1690.5" width="41.6" height="40.4" fill="#8e063b"/>
<text x="1947.6" y="1718.3" font-size="24" textLength="21.5" lengthAdjust="spacingAndGlyphs">M</text>
</svg>
</body></html>
